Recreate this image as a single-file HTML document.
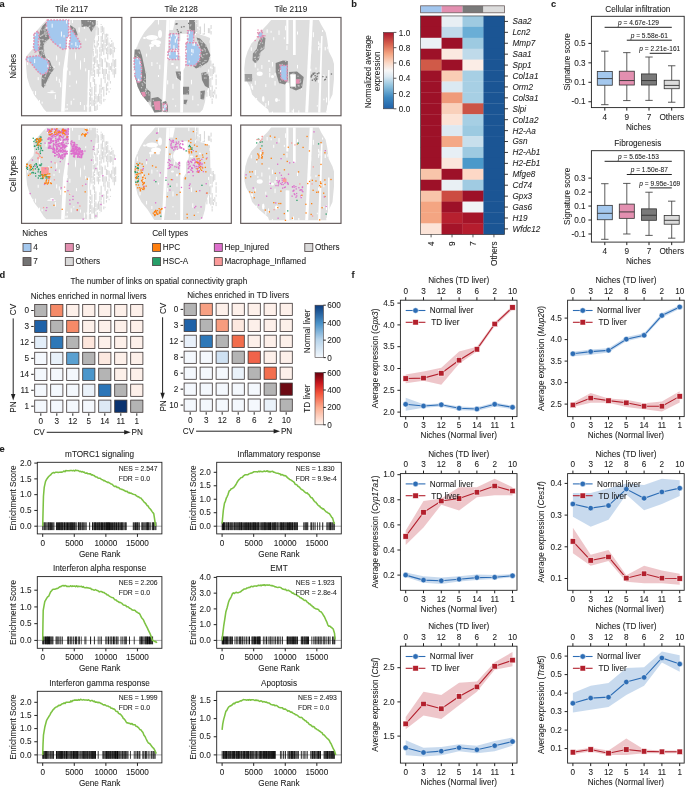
<!DOCTYPE html>
<html><head><meta charset="utf-8"><style>
html,body{margin:0;padding:0;background:#fff;overflow:hidden}
svg{display:block;font-family:"Liberation Sans",sans-serif;will-change:transform}
text{fill:#1c1c1c;stroke:#1c1c1c;stroke-width:0.07px}
</style></head><body>
<svg width="685" height="787" viewBox="0 0 685 787">
<rect width="685" height="787" fill="#fff"/>
<text x="-0.5" y="6.9" font-size="9.3" text-anchor="start" font-weight="bold">a</text>
<text x="351.3" y="7" font-size="9.3" text-anchor="start" font-weight="bold">b</text>
<text x="551" y="7.3" font-size="9.3" text-anchor="start" font-weight="bold">c</text>
<text x="-0.5" y="278.2" font-size="9.3" text-anchor="start" font-weight="bold">d</text>
<text x="-0.5" y="452" font-size="9.3" text-anchor="start" font-weight="bold">e</text>
<text x="351.5" y="278" font-size="9.3" text-anchor="start" font-weight="bold">f</text>
<clipPath id="clip00"><rect x="21.55" y="17.45" width="100.3" height="98.3"/></clipPath>
<g transform="translate(0,0)" clip-path="url(#clip00)">
<polygon points="46.4,20.1 96,20.1 95.7,35 93.8,42 92.6,54.7 92,67 90,80 88.8,92 87.5,105 87.4,111.7 46.4,111.7 43.8,109 39.4,102 34.1,95 29.8,86.3 27.1,77.5 26.3,68.8 25.8,60 26,56.4 30,52 33.5,48 34.1,43.3 33.3,36 36,31.5 39.5,27.5 43,23.5" fill="#dedede"/>
<rect x="87.4" y="107.54" width="1.1" height="4" fill="#d9d9d9"/>
<rect x="88.72" y="88.69" width="1.1" height="2.5" fill="#d9d9d9"/>
<rect x="88.72" y="92.02" width="1.1" height="3.5" fill="#d9d9d9"/>
<rect x="88.72" y="96.77" width="1.1" height="9" fill="#d9d9d9"/>
<rect x="88.72" y="106.32" width="1.1" height="5.5" fill="#d9d9d9"/>
<rect x="90.04" y="82.1" width="1.1" height="5.5" fill="#d9d9d9"/>
<rect x="90.04" y="88.75" width="1.1" height="3.5" fill="#d9d9d9"/>
<rect x="90.04" y="93.51" width="1.1" height="8" fill="#d9d9d9"/>
<rect x="90.04" y="102.31" width="1.1" height="2" fill="#d9d9d9"/>
<rect x="90.04" y="106.16" width="1.1" height="5.5" fill="#d9d9d9"/>
<rect x="91.36" y="68.27" width="1.1" height="2.5" fill="#d9d9d9"/>
<rect x="91.36" y="71.55" width="1.1" height="4.5" fill="#d9d9d9"/>
<rect x="91.36" y="86.93" width="1.1" height="9" fill="#d9d9d9"/>
<rect x="91.36" y="97.56" width="1.1" height="8.5" fill="#d9d9d9"/>
<rect x="91.36" y="110.8" width="1.1" height="0.5" fill="#d9d9d9"/>
<rect x="92.68" y="48.85" width="1.1" height="1.5" fill="#d9d9d9"/>
<rect x="92.68" y="50.99" width="1.1" height="5.5" fill="#d9d9d9"/>
<rect x="92.68" y="57.3" width="1.1" height="4.5" fill="#d9d9d9"/>
<rect x="92.68" y="63.99" width="1.1" height="8.5" fill="#d9d9d9"/>
<rect x="92.68" y="73.8" width="1.1" height="2" fill="#d9d9d9"/>
<rect x="92.68" y="77.04" width="1.1" height="5" fill="#d9d9d9"/>
<rect x="92.68" y="99.84" width="1.1" height="6" fill="#d9d9d9"/>
<rect x="94" y="39.91" width="1.1" height="3.5" fill="#d9d9d9"/>
<rect x="94" y="44.54" width="1.1" height="3" fill="#d9d9d9"/>
<rect x="94" y="56.85" width="1.1" height="8.5" fill="#d9d9d9"/>
<rect x="94" y="66.33" width="1.1" height="2" fill="#d9d9d9"/>
<rect x="94" y="69.63" width="1.1" height="7.5" fill="#d9d9d9"/>
<rect x="94" y="78.88" width="1.1" height="6.5" fill="#d9d9d9"/>
<rect x="94" y="86.12" width="1.1" height="9" fill="#d9d9d9"/>
<rect x="94" y="95.4" width="1.1" height="7" fill="#d9d9d9"/>
<rect x="94" y="102.45" width="1.1" height="8.5" fill="#d9d9d9"/>
<rect x="95.32" y="25.69" width="1.1" height="4.5" fill="#d9d9d9"/>
<rect x="95.32" y="46.09" width="1.1" height="7.5" fill="#d9d9d9"/>
<rect x="95.32" y="55.55" width="1.1" height="7.5" fill="#d9d9d9"/>
<rect x="95.32" y="83.84" width="1.1" height="8.5" fill="#d9d9d9"/>
<rect x="95.32" y="93.89" width="1.1" height="5.5" fill="#d9d9d9"/>
<rect x="95.32" y="100.34" width="1.1" height="3.5" fill="#d9d9d9"/>
<rect x="95.32" y="106" width="1.1" height="5" fill="#d9d9d9"/>
<rect x="96.64" y="21.1" width="1.1" height="1.5" fill="#d9d9d9"/>
<rect x="96.64" y="23.21" width="1.1" height="2" fill="#d9d9d9"/>
<rect x="96.64" y="26.37" width="1.1" height="9" fill="#d9d9d9"/>
<rect x="96.64" y="40.45" width="1.1" height="7" fill="#d9d9d9"/>
<rect x="96.64" y="49.29" width="1.1" height="8.5" fill="#d9d9d9"/>
<rect x="96.64" y="60.05" width="1.1" height="7" fill="#d9d9d9"/>
<rect x="96.64" y="68.96" width="1.1" height="5" fill="#d9d9d9"/>
<rect x="96.64" y="95.89" width="1.1" height="6.5" fill="#d9d9d9"/>
<rect x="96.64" y="104.45" width="1.1" height="5.5" fill="#d9d9d9"/>
<rect x="97.96" y="27.67" width="1.1" height="7.5" fill="#d9d9d9"/>
<rect x="97.96" y="36.01" width="1.1" height="5.5" fill="#d9d9d9"/>
<rect x="97.96" y="42.92" width="1.1" height="2.5" fill="#d9d9d9"/>
<rect x="97.96" y="64.1" width="1.1" height="4.5" fill="#d9d9d9"/>
<rect x="97.96" y="69.14" width="1.1" height="7.5" fill="#d9d9d9"/>
<rect x="97.96" y="93.78" width="1.1" height="8" fill="#d9d9d9"/>
<rect x="99.28" y="46.94" width="1.1" height="5.5" fill="#d9d9d9"/>
<rect x="99.28" y="53.52" width="1.1" height="9" fill="#d9d9d9"/>
<rect x="99.28" y="63.56" width="1.1" height="2.5" fill="#d9d9d9"/>
<rect x="99.28" y="66.4" width="1.1" height="4" fill="#d9d9d9"/>
<rect x="99.28" y="71.48" width="1.1" height="2.5" fill="#d9d9d9"/>
<rect x="99.28" y="84.67" width="1.1" height="3" fill="#d9d9d9"/>
<rect x="99.28" y="88.2" width="1.1" height="6.5" fill="#d9d9d9"/>
<rect x="99.28" y="95.83" width="1.1" height="7.5" fill="#d9d9d9"/>
<rect x="99.28" y="105.01" width="1.1" height="0.5" fill="#d9d9d9"/>
<rect x="100.6" y="24.1" width="1.1" height="1" fill="#d9d9d9"/>
<rect x="100.6" y="26.07" width="1.1" height="4.5" fill="#d9d9d9"/>
<rect x="100.6" y="30.72" width="1.1" height="2" fill="#d9d9d9"/>
<rect x="100.6" y="36.03" width="1.1" height="6" fill="#d9d9d9"/>
<rect x="100.6" y="42.21" width="1.1" height="6" fill="#d9d9d9"/>
<rect x="100.6" y="48.93" width="1.1" height="7" fill="#d9d9d9"/>
<rect x="100.6" y="57.95" width="1.1" height="9" fill="#d9d9d9"/>
<rect x="100.6" y="78.16" width="1.1" height="9" fill="#d9d9d9"/>
<rect x="100.6" y="87.81" width="1.1" height="5" fill="#d9d9d9"/>
<rect x="100.6" y="93.6" width="1.1" height="5.5" fill="#d9d9d9"/>
<rect x="100.6" y="99.31" width="1.1" height="5" fill="#d9d9d9"/>
<rect x="101.92" y="25.85" width="1.1" height="6" fill="#d9d9d9"/>
<rect x="101.92" y="32.78" width="1.1" height="6.5" fill="#d9d9d9"/>
<rect x="101.92" y="39.37" width="1.1" height="2.5" fill="#d9d9d9"/>
<rect x="101.92" y="43.67" width="1.1" height="8" fill="#d9d9d9"/>
<rect x="101.92" y="59.15" width="1.1" height="8" fill="#d9d9d9"/>
<rect x="101.92" y="67.52" width="1.1" height="6.5" fill="#d9d9d9"/>
<rect x="101.92" y="87.1" width="1.1" height="2.5" fill="#d9d9d9"/>
<rect x="103.24" y="27.37" width="1.1" height="7" fill="#d9d9d9"/>
<rect x="103.24" y="39.72" width="1.1" height="8" fill="#d9d9d9"/>
<rect x="103.24" y="47.97" width="1.1" height="7" fill="#d9d9d9"/>
<rect x="103.24" y="69" width="1.1" height="6" fill="#d9d9d9"/>
<rect x="103.24" y="75.03" width="1.1" height="4" fill="#d9d9d9"/>
<rect x="103.24" y="86.81" width="1.1" height="2" fill="#d9d9d9"/>
<rect x="103.24" y="89.03" width="1.1" height="7.5" fill="#d9d9d9"/>
<rect x="103.24" y="98.75" width="1.1" height="3" fill="#d9d9d9"/>
<rect x="104.56" y="33.93" width="1.1" height="9" fill="#d9d9d9"/>
<rect x="104.56" y="44.13" width="1.1" height="5.5" fill="#d9d9d9"/>
<rect x="104.56" y="57.82" width="1.1" height="4.5" fill="#d9d9d9"/>
<rect x="104.56" y="68.67" width="1.1" height="7.5" fill="#d9d9d9"/>
<rect x="104.56" y="76.67" width="1.1" height="6.5" fill="#d9d9d9"/>
<rect x="104.56" y="99.16" width="1.1" height="1" fill="#d9d9d9"/>
<rect x="105.88" y="33.59" width="1.1" height="4" fill="#d9d9d9"/>
<rect x="105.88" y="38.53" width="1.1" height="7.5" fill="#d9d9d9"/>
<rect x="105.88" y="48.1" width="1.1" height="3.5" fill="#d9d9d9"/>
<rect x="105.88" y="51.6" width="1.1" height="2.5" fill="#d9d9d9"/>
<rect x="105.88" y="61.54" width="1.1" height="6" fill="#d9d9d9"/>
<rect x="105.88" y="68.92" width="1.1" height="5" fill="#d9d9d9"/>
<rect x="105.88" y="83.4" width="1.1" height="8" fill="#d9d9d9"/>
<rect x="105.88" y="92.44" width="1.1" height="2.5" fill="#d9d9d9"/>
<rect x="107.2" y="33.79" width="1.1" height="2.5" fill="#d9d9d9"/>
<rect x="107.2" y="37.29" width="1.1" height="8" fill="#d9d9d9"/>
<rect x="107.2" y="46.65" width="1.1" height="6" fill="#d9d9d9"/>
<rect x="107.2" y="52.97" width="1.1" height="6.5" fill="#d9d9d9"/>
<rect x="107.2" y="62.33" width="1.1" height="5" fill="#d9d9d9"/>
<rect x="107.2" y="73.7" width="1.1" height="6" fill="#d9d9d9"/>
<rect x="107.2" y="81.72" width="1.1" height="4.5" fill="#d9d9d9"/>
<rect x="107.2" y="88.13" width="1.1" height="2.5" fill="#d9d9d9"/>
<rect x="108.52" y="42.56" width="1.1" height="5.5" fill="#d9d9d9"/>
<rect x="108.52" y="48.3" width="1.1" height="6" fill="#d9d9d9"/>
<rect x="108.52" y="63.14" width="1.1" height="7" fill="#d9d9d9"/>
<rect x="108.52" y="70.64" width="1.1" height="3" fill="#d9d9d9"/>
<rect x="108.52" y="74.18" width="1.1" height="6.5" fill="#d9d9d9"/>
<rect x="108.52" y="91.11" width="1.1" height="1.5" fill="#d9d9d9"/>
<rect x="109.84" y="38.33" width="1.1" height="0.5" fill="#d9d9d9"/>
<rect x="109.84" y="44.2" width="1.1" height="3" fill="#d9d9d9"/>
<rect x="109.84" y="48.17" width="1.1" height="7" fill="#d9d9d9"/>
<rect x="109.84" y="66.08" width="1.1" height="4" fill="#d9d9d9"/>
<rect x="109.84" y="81.04" width="1.1" height="2.5" fill="#d9d9d9"/>
<rect x="109.84" y="88.31" width="1.1" height="1" fill="#d9d9d9"/>
<rect x="111.16" y="40.1" width="1.1" height="2" fill="#d9d9d9"/>
<rect x="111.16" y="43.21" width="1.1" height="4" fill="#d9d9d9"/>
<rect x="111.16" y="48.7" width="1.1" height="5.5" fill="#d9d9d9"/>
<rect x="111.16" y="62.67" width="1.1" height="9" fill="#d9d9d9"/>
<rect x="112.48" y="42.4" width="1.1" height="6.5" fill="#d9d9d9"/>
<rect x="112.48" y="49.71" width="1.1" height="8" fill="#d9d9d9"/>
<rect x="112.48" y="58.85" width="1.1" height="7.5" fill="#d9d9d9"/>
<rect x="112.48" y="69.1" width="1.1" height="5.5" fill="#d9d9d9"/>
<rect x="113.8" y="46.84" width="1.1" height="5.5" fill="#d9d9d9"/>
<rect x="113.8" y="59.88" width="1.1" height="8.5" fill="#d9d9d9"/>
<rect x="113.8" y="69.19" width="1.1" height="8.5" fill="#d9d9d9"/>
<rect x="115.12" y="48.07" width="1.1" height="0.5" fill="#d9d9d9"/>
<rect x="115.12" y="59.07" width="1.1" height="8" fill="#d9d9d9"/>
<rect x="115.12" y="68.2" width="1.1" height="6" fill="#d9d9d9"/>
<rect x="27.12" y="60.51" width="1.0" height="4.5" fill="#ffffff"/>
<rect x="32.4" y="91.2" width="1.0" height="1.5" fill="#ffffff"/>
<rect x="35.04" y="91.05" width="1.0" height="4" fill="#ffffff"/>
<rect x="37.68" y="77.14" width="1.0" height="3" fill="#ffffff"/>
<rect x="39" y="51.28" width="1.0" height="5" fill="#ffffff"/>
<rect x="39" y="100.03" width="1.0" height="2.5" fill="#ffffff"/>
<rect x="41.64" y="101.68" width="1.0" height="2" fill="#ffffff"/>
<rect x="45.6" y="20.6" width="1.0" height="3" fill="#ffffff"/>
<rect x="45.6" y="34.58" width="1.0" height="4.5" fill="#ffffff"/>
<rect x="46.92" y="23.7" width="1.0" height="2" fill="#ffffff"/>
<rect x="48.24" y="58.56" width="1.0" height="4" fill="#ffffff"/>
<rect x="49.56" y="72.68" width="1.0" height="2" fill="#ffffff"/>
<rect x="53.52" y="66.23" width="1.0" height="2" fill="#ffffff"/>
<rect x="54.84" y="94.54" width="1.0" height="4.5" fill="#ffffff"/>
<rect x="56.16" y="76.75" width="1.0" height="4" fill="#ffffff"/>
<rect x="57.48" y="41.91" width="1.0" height="2" fill="#ffffff"/>
<rect x="58.8" y="61.88" width="1.0" height="3.5" fill="#ffffff"/>
<rect x="58.8" y="78.81" width="1.0" height="4" fill="#ffffff"/>
<rect x="60.12" y="82.27" width="1.0" height="5" fill="#ffffff"/>
<rect x="64.08" y="76.96" width="1.0" height="4" fill="#ffffff"/>
<rect x="65.4" y="108.22" width="1.0" height="2" fill="#ffffff"/>
<rect x="66.72" y="67.48" width="1.0" height="3" fill="#ffffff"/>
<rect x="66.72" y="104.02" width="1.0" height="1.5" fill="#ffffff"/>
<rect x="66.72" y="107.94" width="1.0" height="2" fill="#ffffff"/>
<rect x="68.04" y="35.2" width="1.0" height="2" fill="#ffffff"/>
<rect x="69.36" y="71.18" width="1.0" height="4" fill="#ffffff"/>
<rect x="69.36" y="85.38" width="1.0" height="1.5" fill="#ffffff"/>
<rect x="70.68" y="100.76" width="1.0" height="4" fill="#ffffff"/>
<rect x="72" y="20.1" width="1.0" height="3" fill="#ffffff"/>
<rect x="73.32" y="98.52" width="1.0" height="1.5" fill="#ffffff"/>
<rect x="75.96" y="80.58" width="1.0" height="3" fill="#ffffff"/>
<rect x="78.6" y="27.4" width="1.0" height="5" fill="#ffffff"/>
<rect x="79.92" y="102" width="1.0" height="3" fill="#ffffff"/>
<rect x="83.88" y="25.78" width="1.0" height="3" fill="#ffffff"/>
<rect x="83.88" y="58.03" width="1.0" height="4" fill="#ffffff"/>
<rect x="83.88" y="105.11" width="1.0" height="5" fill="#ffffff"/>
<rect x="85.2" y="20.1" width="1.0" height="4.5" fill="#ffffff"/>
<rect x="85.2" y="38.62" width="1.0" height="2" fill="#ffffff"/>
<rect x="85.2" y="68.34" width="1.0" height="3" fill="#ffffff"/>
<rect x="86.52" y="104.7" width="1.0" height="2" fill="#ffffff"/>
<rect x="87.84" y="20.1" width="1.0" height="2" fill="#ffffff"/>
<rect x="87.84" y="88.3" width="1.0" height="4" fill="#ffffff"/>
<rect x="90.48" y="20.1" width="1.0" height="2.5" fill="#ffffff"/>
<polygon points="68.6,20.1 70.2,20.1 70.2,38 68.8,48 67,70 64.6,111.7 61.1,111.7 63,70 66.3,48 66.5,38 68.6,37" fill="#fff"/>
<polygon points="88,70 89.6,70 88.6,111.7 87.2,111.7" fill="#fff"/>
<ellipse cx="61.1" cy="34.1" rx="1.1" ry="1.1" fill="#fff"/>
<ellipse cx="57.75" cy="37.75" rx="0.75" ry="0.75" fill="#fff"/>
<ellipse cx="51.5" cy="92.6" rx="4.5" ry="0.6" fill="#fff"/>
<ellipse cx="52" cy="91.1" rx="2" ry="0.6" fill="#fff"/>
<ellipse cx="75.5" cy="56" rx="0.5" ry="4" fill="#fff"/>
<ellipse cx="80.5" cy="65" rx="0.5" ry="5" fill="#fff"/>
<ellipse cx="56.6" cy="58" rx="0.6" ry="3" fill="#fff"/>
<polygon points="81.1,20.1 95.7,20.1 95.7,24.6 91.2,32.1 88.7,27.1 84.9,26.4 81.7,27.1" fill="#767676" fill-opacity="0.86"/>
<rect x="87.58" y="20.72" width="1.2" height="1.2" fill="#c8c8c8"/>
<rect x="89.78" y="20.99" width="1.2" height="1.2" fill="#c8c8c8"/>
<rect x="88.58" y="25.92" width="1.2" height="1.2" fill="#c8c8c8"/>
<rect x="92.41" y="23.39" width="1.2" height="1.2" fill="#c8c8c8"/>
<rect x="91.95" y="22.27" width="1.2" height="1.2" fill="#c8c8c8"/>
<rect x="93.57" y="26.66" width="1.2" height="1.2" fill="#c8c8c8"/>
<rect x="85.52" y="25.98" width="1.2" height="1.2" fill="#c8c8c8"/>
<rect x="89.25" y="25.4" width="1.2" height="1.2" fill="#c8c8c8"/>
<rect x="92.18" y="27.34" width="1.2" height="1.2" fill="#c8c8c8"/>
<rect x="81.67" y="24.26" width="1.2" height="1.2" fill="#c8c8c8"/>
<polygon points="46.4,22.3 46.4,27.5 48.2,32.8 49.9,38 47.3,40.6 44.5,42.4 43.5,47.7 44.3,53.8 46,58.2 49.9,60.8 51.7,66 54.3,68.8 52.5,71.3 49.9,74.9 47.5,80 45.5,84 43.5,88 41.6,86 41.5,80 42,74.9 47.3,72.3 49,65.3 47.3,60 42.9,58.2 39.5,55.5 38.5,50 40.5,43.3 39,37.1 40,31 42.5,26" fill="#767676" fill-opacity="0.86"/>
<rect x="40.29" y="39" width="1.2" height="1.2" fill="#c8c8c8"/>
<rect x="40.47" y="54.46" width="1.2" height="1.2" fill="#c8c8c8"/>
<rect x="43.52" y="33.48" width="1.2" height="1.2" fill="#c8c8c8"/>
<rect x="45.42" y="33.89" width="1.2" height="1.2" fill="#c8c8c8"/>
<rect x="41.99" y="77.72" width="1.2" height="1.2" fill="#c8c8c8"/>
<rect x="42.69" y="53.51" width="1.2" height="1.2" fill="#c8c8c8"/>
<rect x="44.93" y="75.23" width="1.2" height="1.2" fill="#c8c8c8"/>
<rect x="41.11" y="49.63" width="1.2" height="1.2" fill="#c8c8c8"/>
<rect x="48.34" y="33.76" width="1.2" height="1.2" fill="#c8c8c8"/>
<rect x="43.38" y="29.22" width="1.2" height="1.2" fill="#c8c8c8"/>
<rect x="46.18" y="31.31" width="1.2" height="1.2" fill="#c8c8c8"/>
<rect x="43.01" y="53.93" width="1.2" height="1.2" fill="#c8c8c8"/>
<rect x="45.3" y="41.74" width="1.2" height="1.2" fill="#c8c8c8"/>
<rect x="44.5" y="75.91" width="1.2" height="1.2" fill="#c8c8c8"/>
<rect x="42.37" y="39.39" width="1.2" height="1.2" fill="#c8c8c8"/>
<rect x="43.26" y="45.21" width="1.2" height="1.2" fill="#c8c8c8"/>
<rect x="40.53" y="55.29" width="1.2" height="1.2" fill="#c8c8c8"/>
<rect x="44.41" y="29.76" width="1.2" height="1.2" fill="#c8c8c8"/>
<rect x="49.12" y="71.18" width="1.2" height="1.2" fill="#c8c8c8"/>
<rect x="40.61" y="35.01" width="1.2" height="1.2" fill="#c8c8c8"/>
<rect x="44.09" y="83.96" width="1.2" height="1.2" fill="#c8c8c8"/>
<rect x="39.94" y="35.79" width="1.2" height="1.2" fill="#c8c8c8"/>
<rect x="43.28" y="78.33" width="1.2" height="1.2" fill="#c8c8c8"/>
<rect x="46.34" y="33.33" width="1.2" height="1.2" fill="#c8c8c8"/>
<rect x="38.94" y="50.06" width="1.2" height="1.2" fill="#c8c8c8"/>
<rect x="44.14" y="42.75" width="1.2" height="1.2" fill="#c8c8c8"/>
<rect x="43.06" y="51.52" width="1.2" height="1.2" fill="#c8c8c8"/>
<rect x="40.27" y="45.62" width="1.2" height="1.2" fill="#c8c8c8"/>
<rect x="42.2" y="38.88" width="1.2" height="1.2" fill="#c8c8c8"/>
<rect x="45.5" y="73.33" width="1.2" height="1.2" fill="#c8c8c8"/>
<rect x="44.81" y="58.1" width="1.2" height="1.2" fill="#c8c8c8"/>
<rect x="41.64" y="50.77" width="1.2" height="1.2" fill="#c8c8c8"/>
<rect x="52.47" y="68.06" width="1.2" height="1.2" fill="#c8c8c8"/>
<rect x="44.7" y="28" width="1.2" height="1.2" fill="#c8c8c8"/>
<rect x="43.51" y="49.56" width="1.2" height="1.2" fill="#c8c8c8"/>
<rect x="50.76" y="71.91" width="1.2" height="1.2" fill="#c8c8c8"/>
<rect x="43.1" y="42.27" width="1.2" height="1.2" fill="#c8c8c8"/>
<rect x="49.16" y="35.84" width="1.2" height="1.2" fill="#c8c8c8"/>
<rect x="44.98" y="84.93" width="1.2" height="1.2" fill="#c8c8c8"/>
<rect x="45.82" y="58.33" width="1.2" height="1.2" fill="#c8c8c8"/>
<rect x="41.62" y="34.65" width="1.2" height="1.2" fill="#c8c8c8"/>
<rect x="44.68" y="40.08" width="1.2" height="1.2" fill="#c8c8c8"/>
<rect x="41.33" y="52.31" width="1.2" height="1.2" fill="#c8c8c8"/>
<rect x="45.21" y="31.57" width="1.2" height="1.2" fill="#c8c8c8"/>
<rect x="45.04" y="35.33" width="1.2" height="1.2" fill="#c8c8c8"/>
<rect x="49.65" y="67.73" width="1.2" height="1.2" fill="#c8c8c8"/>
<rect x="44.05" y="31.56" width="1.2" height="1.2" fill="#c8c8c8"/>
<rect x="41.82" y="49.81" width="1.2" height="1.2" fill="#c8c8c8"/>
<rect x="44.39" y="32.96" width="1.2" height="1.2" fill="#c8c8c8"/>
<rect x="52.87" y="68.3" width="1.2" height="1.2" fill="#c8c8c8"/>
<rect x="44.76" y="26.47" width="1.2" height="1.2" fill="#c8c8c8"/>
<rect x="39.68" y="49.81" width="1.2" height="1.2" fill="#c8c8c8"/>
<rect x="47.25" y="79.64" width="1.2" height="1.2" fill="#c8c8c8"/>
<rect x="45.4" y="35.83" width="1.2" height="1.2" fill="#c8c8c8"/>
<rect x="46.58" y="39.57" width="1.2" height="1.2" fill="#c8c8c8"/>
<rect x="42.27" y="34.12" width="1.2" height="1.2" fill="#c8c8c8"/>
<rect x="44.76" y="28.08" width="1.2" height="1.2" fill="#c8c8c8"/>
<rect x="40.97" y="29.4" width="1.2" height="1.2" fill="#c8c8c8"/>
<rect x="44.24" y="83.47" width="1.2" height="1.2" fill="#c8c8c8"/>
<rect x="48.52" y="77.09" width="1.2" height="1.2" fill="#c8c8c8"/>
<rect x="48.28" y="62.38" width="1.2" height="1.2" fill="#c8c8c8"/>
<rect x="49.75" y="65.79" width="1.2" height="1.2" fill="#c8c8c8"/>
<polygon points="47.3,20.1 68.6,20.1 68.6,37 66.4,38 66.3,48.5 63,49.4 57.8,45.9 53.4,42.4 49.9,38 48.2,32.8 46.4,27.5 46.4,22.3" fill="#a4c8ee" />
<polygon points="47.3,20.1 68.6,20.1 68.6,37 66.4,38 66.3,48.5 63,49.4 57.8,45.9 53.4,42.4 49.9,38 48.2,32.8 46.4,27.5 46.4,22.3" fill="none" stroke="#e38fb0" stroke-width="1.5" stroke-dasharray="1.8 1.2"/>
<rect x="46.4" y="26.97" width="0.9" height="2" fill="#ffffff"/>
<rect x="51.68" y="23.66" width="0.9" height="4" fill="#ffffff"/>
<rect x="59.6" y="43.89" width="0.9" height="2.5" fill="#ffffff"/>
<rect x="60.92" y="31.54" width="0.9" height="5" fill="#ffffff"/>
<rect x="63.56" y="34.95" width="0.9" height="2.5" fill="#ffffff"/>
<rect x="66.2" y="20.1" width="0.9" height="3.5" fill="#ffffff"/>
<polygon points="70.2,24.9 72.4,26.5 75.4,28.4 77.6,34.5 76.3,38 73.9,34 72,31.9 70.2,28" fill="#767676" fill-opacity="0.86"/>
<rect x="73.13" y="27.6" width="1.2" height="1.2" fill="#c8c8c8"/>
<rect x="76.25" y="34.84" width="1.2" height="1.2" fill="#c8c8c8"/>
<rect x="73.21" y="29.02" width="1.2" height="1.2" fill="#c8c8c8"/>
<rect x="72.09" y="29.34" width="1.2" height="1.2" fill="#c8c8c8"/>
<rect x="72.24" y="31.51" width="1.2" height="1.2" fill="#c8c8c8"/>
<polygon points="70.2,28.4 73.2,31.9 77.5,38 80.6,43.3 80.6,48.5 68.8,48.5 70.2,38" fill="#a4c8ee" />
<polygon points="70.2,28.4 73.2,31.9 77.5,38 80.6,43.3 80.6,48.5 68.8,48.5 70.2,38" fill="none" stroke="#e38fb0" stroke-width="1.5" stroke-dasharray="1.8 1.2"/>
<rect x="71.44" y="43.17" width="0.9" height="1.5" fill="#ffffff"/>
<rect x="75.4" y="42.12" width="0.9" height="4" fill="#ffffff"/>
<rect x="76.72" y="45.47" width="0.9" height="1.5" fill="#ffffff"/>
<rect x="79.36" y="45.21" width="0.9" height="2.5" fill="#ffffff"/>
<polygon points="26.3,57.3 32.4,56.4 38.5,55.5 42.9,58.2 47.3,60 49,65.3 47.3,72.3 42,74.9 38.5,72.3 34.1,67 30.6,62.6 26.3,60.8" fill="#a4c8ee" />
<polygon points="26.3,57.3 32.4,56.4 38.5,55.5 42.9,58.2 47.3,60 49,65.3 47.3,72.3 42,74.9 38.5,72.3 34.1,67 30.6,62.6 26.3,60.8" fill="none" stroke="#e38fb0" stroke-width="1.5" stroke-dasharray="1.8 1.2"/>
<rect x="27.62" y="58.61" width="0.9" height="3" fill="#ffffff"/>
<rect x="34.22" y="59.06" width="0.9" height="4" fill="#ffffff"/>
<rect x="47.42" y="64.8" width="0.9" height="2.5" fill="#ffffff"/>
<polygon points="34,34 38,31 39,36 38.2,43 39,50 35,52 33.5,47 34.1,40" fill="#a4c8ee" />
<polygon points="34,34 38,31 39,36 38.2,43 39,50 35,52 33.5,47 34.1,40" fill="none" stroke="#e38fb0" stroke-width="1.5" stroke-dasharray="1.8 1.2"/>
<rect x="34.82" y="33.95" width="0.9" height="2" fill="#ffffff"/>
</g>
<rect x="21.55" y="17.45" width="100.3" height="98.3" fill="none" stroke="#5e5656" stroke-width="1.15" />
<clipPath id="clip01"><rect x="131" y="17.45" width="100.3" height="98.3"/></clipPath>
<g transform="translate(0,0)" clip-path="url(#clip01)">
<polygon points="155,20 195,20 196,33 200,34.5 205,36 210,38 210.4,60 209,86 205.8,94.4 205,102 202.8,109.6 200,112.4 154.3,112.4 147.5,102 141.4,94.4 137.6,86.8 134.9,76 134.2,65 134.2,58.8 134.9,51.2 136.5,47.4 139.9,39.8 144.4,32.2 147.5,28.4 151.3,24.6" fill="#dedede"/>
<rect x="196" y="20" width="1.1" height="3.5" fill="#d9d9d9"/>
<rect x="196" y="23.98" width="1.1" height="8" fill="#d9d9d9"/>
<rect x="196" y="33.11" width="1.1" height="0.5" fill="#d9d9d9"/>
<rect x="197.32" y="20" width="1.1" height="7" fill="#d9d9d9"/>
<rect x="197.32" y="28.61" width="1.1" height="5.5" fill="#d9d9d9"/>
<rect x="198.64" y="26.62" width="1.1" height="2" fill="#d9d9d9"/>
<rect x="198.64" y="29.65" width="1.1" height="5" fill="#d9d9d9"/>
<rect x="199.96" y="26.5" width="1.1" height="7.5" fill="#d9d9d9"/>
<rect x="202.6" y="33.34" width="1.1" height="1.5" fill="#d9d9d9"/>
<rect x="203.92" y="23.56" width="1.1" height="8.5" fill="#d9d9d9"/>
<rect x="203.92" y="32.53" width="1.1" height="2" fill="#d9d9d9"/>
<rect x="207.88" y="28.11" width="1.1" height="5" fill="#d9d9d9"/>
<rect x="209.2" y="28.26" width="1.1" height="5" fill="#d9d9d9"/>
<rect x="210.52" y="25" width="1.1" height="4" fill="#d9d9d9"/>
<rect x="210.52" y="31.03" width="1.1" height="3.5" fill="#d9d9d9"/>
<rect x="206.32" y="91.76" width="1.1" height="5" fill="#d9d9d9"/>
<rect x="208.96" y="78.76" width="1.1" height="8" fill="#d9d9d9"/>
<rect x="208.96" y="87.08" width="1.1" height="9" fill="#d9d9d9"/>
<rect x="210.28" y="60.5" width="1.1" height="6" fill="#d9d9d9"/>
<rect x="210.28" y="68.38" width="1.1" height="8" fill="#d9d9d9"/>
<rect x="210.28" y="78" width="1.1" height="9" fill="#d9d9d9"/>
<rect x="210.28" y="89.86" width="1.1" height="8" fill="#d9d9d9"/>
<rect x="211.6" y="63.62" width="1.1" height="4" fill="#d9d9d9"/>
<rect x="211.6" y="68.78" width="1.1" height="7.5" fill="#d9d9d9"/>
<rect x="211.6" y="76.76" width="1.1" height="3" fill="#d9d9d9"/>
<rect x="211.6" y="85.46" width="1.1" height="6" fill="#d9d9d9"/>
<rect x="211.6" y="91.53" width="1.1" height="5.5" fill="#d9d9d9"/>
<rect x="211.6" y="98.54" width="1.1" height="2" fill="#d9d9d9"/>
<rect x="211.6" y="100.87" width="1.1" height="3" fill="#d9d9d9"/>
<rect x="212.92" y="63.5" width="1.1" height="1.5" fill="#d9d9d9"/>
<rect x="212.92" y="65.49" width="1.1" height="8.5" fill="#d9d9d9"/>
<rect x="212.92" y="91.52" width="1.1" height="2" fill="#d9d9d9"/>
<rect x="212.92" y="94.6" width="1.1" height="3" fill="#d9d9d9"/>
<rect x="214.24" y="66.61" width="1.1" height="6" fill="#d9d9d9"/>
<rect x="214.24" y="89.59" width="1.1" height="5" fill="#d9d9d9"/>
<rect x="215.56" y="74.6" width="1.1" height="3" fill="#d9d9d9"/>
<rect x="215.56" y="78.73" width="1.1" height="6.5" fill="#d9d9d9"/>
<rect x="215.56" y="87.06" width="1.1" height="2" fill="#d9d9d9"/>
<rect x="215.56" y="94.49" width="1.1" height="2.5" fill="#d9d9d9"/>
<rect x="215.56" y="97.03" width="1.1" height="1.5" fill="#d9d9d9"/>
<rect x="136.84" y="45.76" width="1.0" height="0.5" fill="#ffffff"/>
<rect x="136.84" y="48.86" width="1.0" height="4.5" fill="#ffffff"/>
<rect x="136.84" y="71.55" width="1.0" height="2" fill="#ffffff"/>
<rect x="138.16" y="59.9" width="1.0" height="4" fill="#ffffff"/>
<rect x="139.48" y="84.26" width="1.0" height="3.5" fill="#ffffff"/>
<rect x="142.12" y="66.01" width="1.0" height="4.5" fill="#ffffff"/>
<rect x="143.44" y="69.8" width="1.0" height="3.5" fill="#ffffff"/>
<rect x="146.08" y="53.67" width="1.0" height="3" fill="#ffffff"/>
<rect x="146.08" y="93.32" width="1.0" height="3.5" fill="#ffffff"/>
<rect x="150.04" y="46.6" width="1.0" height="3" fill="#ffffff"/>
<rect x="151.36" y="62.02" width="1.0" height="4" fill="#ffffff"/>
<rect x="151.36" y="98.36" width="1.0" height="3" fill="#ffffff"/>
<rect x="155.32" y="36.56" width="1.0" height="4.5" fill="#ffffff"/>
<rect x="156.64" y="62.44" width="1.0" height="1.5" fill="#ffffff"/>
<rect x="157.96" y="20" width="1.0" height="4.5" fill="#ffffff"/>
<rect x="157.96" y="74.98" width="1.0" height="2" fill="#ffffff"/>
<rect x="159.28" y="64.76" width="1.0" height="4.5" fill="#ffffff"/>
<rect x="159.28" y="100.68" width="1.0" height="1.5" fill="#ffffff"/>
<rect x="163.24" y="100.44" width="1.0" height="4.5" fill="#ffffff"/>
<rect x="167.2" y="80.34" width="1.0" height="4" fill="#ffffff"/>
<rect x="169.84" y="55.51" width="1.0" height="5" fill="#ffffff"/>
<rect x="171.16" y="46.62" width="1.0" height="4" fill="#ffffff"/>
<rect x="172.48" y="20" width="1.0" height="2" fill="#ffffff"/>
<rect x="172.48" y="83.81" width="1.0" height="5" fill="#ffffff"/>
<rect x="172.48" y="98.38" width="1.0" height="1.5" fill="#ffffff"/>
<rect x="173.8" y="52.82" width="1.0" height="4.5" fill="#ffffff"/>
<rect x="175.12" y="105.25" width="1.0" height="1.5" fill="#ffffff"/>
<rect x="176.44" y="75.67" width="1.0" height="3.5" fill="#ffffff"/>
<rect x="179.08" y="51.03" width="1.0" height="2" fill="#ffffff"/>
<rect x="184.36" y="63.76" width="1.0" height="1.5" fill="#ffffff"/>
<rect x="188.32" y="20" width="1.0" height="3.5" fill="#ffffff"/>
<rect x="188.32" y="35.06" width="1.0" height="5" fill="#ffffff"/>
<rect x="188.32" y="62.82" width="1.0" height="4" fill="#ffffff"/>
<rect x="190.96" y="79.83" width="1.0" height="4.5" fill="#ffffff"/>
<rect x="192.28" y="95.67" width="1.0" height="4.5" fill="#ffffff"/>
<rect x="193.6" y="51.98" width="1.0" height="3.5" fill="#ffffff"/>
<rect x="194.92" y="32.72" width="1.0" height="2.5" fill="#ffffff"/>
<rect x="197.56" y="104.1" width="1.0" height="1.5" fill="#ffffff"/>
<rect x="208.12" y="69.32" width="1.0" height="3" fill="#ffffff"/>
<rect x="209.44" y="40.26" width="1.0" height="3" fill="#ffffff"/>
<polygon points="166.4,20 169.5,20 165.7,98 164,112.4 161.6,112.4 162.6,98" fill="#fff"/>
<polygon points="180.3,33.7 187.6,33.7 187.6,42.8 186,48 186,65.6 183.5,70 183,112.4 180.2,112.4" fill="#fff"/>
<polygon points="169.5,20 175,20 173,30 169.2,30" fill="#fff"/>
<ellipse cx="181" cy="48.5" rx="8" ry="7.5" fill="#fff"/>
<ellipse cx="152" cy="37.5" rx="6" ry="2.5" fill="#fff"/>
<ellipse cx="156" cy="42.5" rx="5" ry="2.5" fill="#fff"/>
<ellipse cx="160" cy="34" rx="2" ry="4" fill="#fff"/>
<ellipse cx="151.5" cy="45.5" rx="2.5" ry="1.5" fill="#fff"/>
<ellipse cx="158" cy="45.5" rx="2" ry="1.5" fill="#fff"/>
<ellipse cx="144.5" cy="38" rx="1.5" ry="1" fill="#fff"/>
<ellipse cx="200" cy="46" rx="1" ry="1" fill="#fff"/>
<ellipse cx="191.5" cy="49" rx="1.5" ry="1" fill="#fff"/>
<ellipse cx="172.5" cy="64" rx="1.5" ry="1" fill="#fff"/>
<ellipse cx="177" cy="67.5" rx="1" ry="1.5" fill="#fff"/>
<polygon points="189.1,20 195.2,20 195.2,33.7 190,33.7 189.1,28" fill="#767676" fill-opacity="0.86"/>
<rect x="192.13" y="31.74" width="1.2" height="1.2" fill="#c8c8c8"/>
<rect x="189.64" y="25.18" width="1.2" height="1.2" fill="#c8c8c8"/>
<rect x="189.4" y="28.9" width="1.2" height="1.2" fill="#c8c8c8"/>
<rect x="190.25" y="24.23" width="1.2" height="1.2" fill="#c8c8c8"/>
<rect x="194.09" y="20.75" width="1.2" height="1.2" fill="#c8c8c8"/>
<polygon points="169.5,33.7 178.6,33.7 178.6,49.6 169.5,49.6" fill="#a4c8ee" />
<rect x="169.5" y="37.34" width="1.0" height="4" fill="#ffffff"/>
<rect x="169.5" y="43.74" width="1.0" height="4" fill="#ffffff"/>
<rect x="170.82" y="33.7" width="1.0" height="3" fill="#ffffff"/>
<rect x="173.46" y="45.22" width="1.0" height="4" fill="#ffffff"/>
<rect x="174.78" y="33.7" width="1.0" height="2.5" fill="#ffffff"/>
<rect x="174.78" y="38.64" width="1.0" height="4" fill="#ffffff"/>
<rect x="176.1" y="33.7" width="1.0" height="2" fill="#ffffff"/>
<rect x="176.1" y="36.32" width="1.0" height="3" fill="#ffffff"/>
<rect x="176.1" y="48.14" width="1.0" height="1.5" fill="#ffffff"/>
<rect x="177.42" y="33.7" width="1.0" height="4" fill="#ffffff"/>
<rect x="177.42" y="40.6" width="1.0" height="3" fill="#ffffff"/>
<polygon points="169.5,33.7 178.6,33.7 178.6,49.6 169.5,49.6" fill="none" stroke="#e38fb0" stroke-width="1.5" stroke-dasharray="1.8 1.2"/>
<rect x="169.5" y="38.3" width="0.9" height="2" fill="#ffffff"/>
<polygon points="168,51.2 178.6,51.2 178.6,59.5 168,59.5" fill="#a4c8ee" />
<rect x="168" y="54.84" width="1.0" height="4" fill="#ffffff"/>
<rect x="169.32" y="51.2" width="1.0" height="4" fill="#ffffff"/>
<rect x="169.32" y="57.91" width="1.0" height="2" fill="#ffffff"/>
<rect x="175.92" y="51.2" width="1.0" height="4" fill="#ffffff"/>
<rect x="175.92" y="57.11" width="1.0" height="2.5" fill="#ffffff"/>
<rect x="177.24" y="51.2" width="1.0" height="4" fill="#ffffff"/>
<polygon points="168,51.2 178.6,51.2 178.6,59.5 168,59.5" fill="none" stroke="#e38fb0" stroke-width="1.5" stroke-dasharray="1.8 1.2"/>
<rect x="168" y="55.8" width="0.9" height="2" fill="#ffffff"/>
<polygon points="187.6,30.7 193.7,30.7 193.7,42.8 187.6,42.8" fill="#a4c8ee" />
<rect x="187.6" y="34.34" width="1.0" height="4" fill="#ffffff"/>
<rect x="187.6" y="40.74" width="1.0" height="2.5" fill="#ffffff"/>
<rect x="188.92" y="30.7" width="1.0" height="3" fill="#ffffff"/>
<rect x="192.88" y="38.56" width="1.0" height="4" fill="#ffffff"/>
<polygon points="187.6,30.7 193.7,30.7 193.7,42.8 187.6,42.8" fill="none" stroke="#e38fb0" stroke-width="1.5" stroke-dasharray="1.8 1.2"/>
<rect x="187.6" y="35.3" width="0.9" height="2" fill="#ffffff"/>
<polygon points="196.5,37.5 200,38.5 206,45 210.4,55 208,62 202,66 196,68.6 193,66 199.5,60 201,50" fill="#767676" fill-opacity="0.86"/>
<rect x="205.78" y="63.12" width="1.2" height="1.2" fill="#c8c8c8"/>
<rect x="204.33" y="60.06" width="1.2" height="1.2" fill="#c8c8c8"/>
<rect x="203.31" y="61.88" width="1.2" height="1.2" fill="#c8c8c8"/>
<rect x="199.31" y="66.08" width="1.2" height="1.2" fill="#c8c8c8"/>
<rect x="194.92" y="64.56" width="1.2" height="1.2" fill="#c8c8c8"/>
<rect x="208.94" y="56.97" width="1.2" height="1.2" fill="#c8c8c8"/>
<rect x="200.84" y="65.01" width="1.2" height="1.2" fill="#c8c8c8"/>
<rect x="204.52" y="48.95" width="1.2" height="1.2" fill="#c8c8c8"/>
<rect x="201.11" y="44.34" width="1.2" height="1.2" fill="#c8c8c8"/>
<rect x="205.7" y="53.3" width="1.2" height="1.2" fill="#c8c8c8"/>
<rect x="201.63" y="41.62" width="1.2" height="1.2" fill="#c8c8c8"/>
<rect x="203.7" y="48.17" width="1.2" height="1.2" fill="#c8c8c8"/>
<rect x="201.98" y="49.49" width="1.2" height="1.2" fill="#c8c8c8"/>
<rect x="204.74" y="50.37" width="1.2" height="1.2" fill="#c8c8c8"/>
<rect x="200.01" y="66.7" width="1.2" height="1.2" fill="#c8c8c8"/>
<rect x="205.34" y="44.55" width="1.2" height="1.2" fill="#c8c8c8"/>
<rect x="202.17" y="57.05" width="1.2" height="1.2" fill="#c8c8c8"/>
<rect x="205.43" y="59.94" width="1.2" height="1.2" fill="#c8c8c8"/>
<rect x="199.7" y="40.51" width="1.2" height="1.2" fill="#c8c8c8"/>
<rect x="200.41" y="41.54" width="1.2" height="1.2" fill="#c8c8c8"/>
<rect x="199.59" y="63.74" width="1.2" height="1.2" fill="#c8c8c8"/>
<rect x="201.87" y="62.48" width="1.2" height="1.2" fill="#c8c8c8"/>
<rect x="195.25" y="64.35" width="1.2" height="1.2" fill="#c8c8c8"/>
<rect x="205.48" y="45.74" width="1.2" height="1.2" fill="#c8c8c8"/>
<rect x="197.99" y="40.37" width="1.2" height="1.2" fill="#c8c8c8"/>
<rect x="200.98" y="56.06" width="1.2" height="1.2" fill="#c8c8c8"/>
<rect x="201.58" y="42.17" width="1.2" height="1.2" fill="#c8c8c8"/>
<rect x="206.46" y="53.04" width="1.2" height="1.2" fill="#c8c8c8"/>
<rect x="202.08" y="50.08" width="1.2" height="1.2" fill="#c8c8c8"/>
<rect x="199.34" y="60.91" width="1.2" height="1.2" fill="#c8c8c8"/>
<rect x="200.86" y="54.62" width="1.2" height="1.2" fill="#c8c8c8"/>
<rect x="203.3" y="54.02" width="1.2" height="1.2" fill="#c8c8c8"/>
<polygon points="186,42.8 196,42.8 201,50 199.5,60 195,65.6 186,65.6" fill="#a4c8ee" />
<rect x="186" y="60.21" width="1.0" height="3.5" fill="#ffffff"/>
<rect x="188.64" y="60.62" width="1.0" height="2" fill="#ffffff"/>
<rect x="191.28" y="48.83" width="1.0" height="3.5" fill="#ffffff"/>
<rect x="191.28" y="53.81" width="1.0" height="1.5" fill="#ffffff"/>
<rect x="192.6" y="42.8" width="1.0" height="3" fill="#ffffff"/>
<rect x="193.92" y="42.8" width="1.0" height="3" fill="#ffffff"/>
<rect x="197.88" y="60.52" width="1.0" height="1" fill="#ffffff"/>
<rect x="199.2" y="54.26" width="1.0" height="1.5" fill="#ffffff"/>
<polygon points="186,42.8 196,42.8 201,50 199.5,60 195,65.6 186,65.6" fill="none" stroke="#e38fb0" stroke-width="1.5" stroke-dasharray="1.8 1.2"/>
<rect x="186" y="50.06" width="0.9" height="2.5" fill="#ffffff"/>
<rect x="192.6" y="49.28" width="0.9" height="4" fill="#ffffff"/>
<polygon points="134.6,49.6 139.9,49.6 142,56 143.7,64 146,75 146,83 146,88 150.5,92 150.5,102 147.5,102 141.4,94.4 137.6,86.8 134.9,76 134.2,65 134.2,58.8" fill="#767676" fill-opacity="0.86"/>
<rect x="143.89" y="82.02" width="1.2" height="1.2" fill="#c8c8c8"/>
<rect x="145.42" y="89.83" width="1.2" height="1.2" fill="#c8c8c8"/>
<rect x="134.25" y="63.68" width="1.2" height="1.2" fill="#c8c8c8"/>
<rect x="140.4" y="79.92" width="1.2" height="1.2" fill="#c8c8c8"/>
<rect x="134.34" y="57.87" width="1.2" height="1.2" fill="#c8c8c8"/>
<rect x="148.87" y="101.41" width="1.2" height="1.2" fill="#c8c8c8"/>
<rect x="138.06" y="57.5" width="1.2" height="1.2" fill="#c8c8c8"/>
<rect x="143.21" y="80.74" width="1.2" height="1.2" fill="#c8c8c8"/>
<rect x="138" y="60.35" width="1.2" height="1.2" fill="#c8c8c8"/>
<rect x="138.4" y="51.55" width="1.2" height="1.2" fill="#c8c8c8"/>
<rect x="139.63" y="80.17" width="1.2" height="1.2" fill="#c8c8c8"/>
<rect x="148.37" y="94.32" width="1.2" height="1.2" fill="#c8c8c8"/>
<rect x="139.39" y="64.42" width="1.2" height="1.2" fill="#c8c8c8"/>
<rect x="147.78" y="92.26" width="1.2" height="1.2" fill="#c8c8c8"/>
<rect x="137.03" y="76.59" width="1.2" height="1.2" fill="#c8c8c8"/>
<rect x="138.68" y="58.54" width="1.2" height="1.2" fill="#c8c8c8"/>
<rect x="136.64" y="78.3" width="1.2" height="1.2" fill="#c8c8c8"/>
<rect x="136.63" y="72.02" width="1.2" height="1.2" fill="#c8c8c8"/>
<rect x="134.27" y="58.1" width="1.2" height="1.2" fill="#c8c8c8"/>
<rect x="143.79" y="76.68" width="1.2" height="1.2" fill="#c8c8c8"/>
<rect x="141.6" y="83.22" width="1.2" height="1.2" fill="#c8c8c8"/>
<rect x="137.22" y="62.87" width="1.2" height="1.2" fill="#c8c8c8"/>
<rect x="140.96" y="67.24" width="1.2" height="1.2" fill="#c8c8c8"/>
<rect x="139.81" y="71.27" width="1.2" height="1.2" fill="#c8c8c8"/>
<rect x="140.99" y="68.78" width="1.2" height="1.2" fill="#c8c8c8"/>
<rect x="144.9" y="90.99" width="1.2" height="1.2" fill="#c8c8c8"/>
<rect x="142.14" y="84.52" width="1.2" height="1.2" fill="#c8c8c8"/>
<rect x="146.62" y="88.57" width="1.2" height="1.2" fill="#c8c8c8"/>
<rect x="135.54" y="61.3" width="1.2" height="1.2" fill="#c8c8c8"/>
<rect x="140.9" y="87.06" width="1.2" height="1.2" fill="#c8c8c8"/>
<rect x="136.54" y="64" width="1.2" height="1.2" fill="#c8c8c8"/>
<rect x="139.49" y="72.08" width="1.2" height="1.2" fill="#c8c8c8"/>
<rect x="145.61" y="88.46" width="1.2" height="1.2" fill="#c8c8c8"/>
<rect x="145.03" y="82.49" width="1.2" height="1.2" fill="#c8c8c8"/>
<rect x="149.24" y="101.16" width="1.2" height="1.2" fill="#c8c8c8"/>
<rect x="136.84" y="55.96" width="1.2" height="1.2" fill="#c8c8c8"/>
<rect x="143.17" y="91.63" width="1.2" height="1.2" fill="#c8c8c8"/>
<rect x="135.43" y="54.65" width="1.2" height="1.2" fill="#c8c8c8"/>
<rect x="145.29" y="71.83" width="1.2" height="1.2" fill="#c8c8c8"/>
<rect x="145.81" y="92.51" width="1.2" height="1.2" fill="#c8c8c8"/>
<rect x="136.92" y="76.66" width="1.2" height="1.2" fill="#c8c8c8"/>
<rect x="136.14" y="56.45" width="1.2" height="1.2" fill="#c8c8c8"/>
<rect x="137.31" y="59.85" width="1.2" height="1.2" fill="#c8c8c8"/>
<rect x="139.34" y="78.26" width="1.2" height="1.2" fill="#c8c8c8"/>
<rect x="145.02" y="88.8" width="1.2" height="1.2" fill="#c8c8c8"/>
<rect x="136.79" y="65.56" width="1.2" height="1.2" fill="#c8c8c8"/>
<rect x="148.41" y="100.37" width="1.2" height="1.2" fill="#c8c8c8"/>
<rect x="140.36" y="68.53" width="1.2" height="1.2" fill="#c8c8c8"/>
<rect x="144.34" y="78.68" width="1.2" height="1.2" fill="#c8c8c8"/>
<rect x="139.75" y="62.64" width="1.2" height="1.2" fill="#c8c8c8"/>
<rect x="139.05" y="52.52" width="1.2" height="1.2" fill="#c8c8c8"/>
<polygon points="134.2,58 139.9,58 141.4,66 141.4,80 138,83 134.9,76 134.2,65" fill="#a4c8ee" />
<rect x="134.2" y="63.92" width="1.0" height="1.5" fill="#ffffff"/>
<rect x="138.16" y="78.74" width="1.0" height="3" fill="#ffffff"/>
<rect x="139.48" y="61.23" width="1.0" height="3" fill="#ffffff"/>
<polygon points="134.2,58 139.9,58 141.4,66 141.4,80 138,83 134.9,76 134.2,65" fill="none" stroke="#e38fb0" stroke-width="1.5" stroke-dasharray="1.8 1.2"/>
<rect x="134.2" y="70.15" width="0.9" height="3" fill="#ffffff"/>
<rect x="136.84" y="58" width="0.9" height="1.5" fill="#ffffff"/>
<rect x="139.48" y="80.33" width="0.9" height="1" fill="#ffffff"/>
<rect x="140.8" y="75.07" width="0.9" height="1.5" fill="#ffffff"/>
<polygon points="141,92 145,92 146,96 143,97" fill="#e38fb0" />
<polygon points="151.3,98.2 158,97 161.9,100 161.9,111.8 154.3,112.4 151.3,106" fill="#767676" fill-opacity="0.86"/>
<rect x="157.04" y="104.04" width="1.2" height="1.2" fill="#c8c8c8"/>
<rect x="157.49" y="104.59" width="1.2" height="1.2" fill="#c8c8c8"/>
<rect x="160.81" y="101.39" width="1.2" height="1.2" fill="#c8c8c8"/>
<rect x="155.04" y="102.6" width="1.2" height="1.2" fill="#c8c8c8"/>
<rect x="152.76" y="99.73" width="1.2" height="1.2" fill="#c8c8c8"/>
<rect x="159.08" y="109.11" width="1.2" height="1.2" fill="#c8c8c8"/>
<rect x="152.08" y="105.32" width="1.2" height="1.2" fill="#c8c8c8"/>
<rect x="157.78" y="101.39" width="1.2" height="1.2" fill="#c8c8c8"/>
<rect x="152.97" y="105.1" width="1.2" height="1.2" fill="#c8c8c8"/>
<polygon points="153.5,101.5 160,101 160.5,110 155,110" fill="#e38fb0" />
<polygon points="162.6,102 166,101 168,106 168,111.8 162.6,111.8" fill="#767676" fill-opacity="0.86"/>
<rect x="165.74" y="103.22" width="1.2" height="1.2" fill="#c8c8c8"/>
<rect x="166.07" y="111.22" width="1.2" height="1.2" fill="#c8c8c8"/>
<rect x="162.82" y="105.85" width="1.2" height="1.2" fill="#c8c8c8"/>
<polygon points="163.2,104 166.5,104 166.5,110.5 163.2,110.5" fill="#a4c8ee" />
<rect x="163.2" y="107.64" width="1.0" height="3" fill="#ffffff"/>
<rect x="164.52" y="104" width="1.0" height="4" fill="#ffffff"/>
<rect x="165.84" y="104" width="1.0" height="3" fill="#ffffff"/>
<polygon points="163.2,104 166.5,104 166.5,110.5 163.2,110.5" fill="none" stroke="#e38fb0" stroke-width="1.5" stroke-dasharray="1.8 1.2"/>
<rect x="163.2" y="108.6" width="0.9" height="2" fill="#ffffff"/>
<polygon points="201.3,73.1 206,72 208.9,76 208.9,88.3 205,86 202,80" fill="#767676" fill-opacity="0.86"/>
<rect x="201.7" y="73.42" width="1.2" height="1.2" fill="#c8c8c8"/>
<rect x="204.4" y="73.76" width="1.2" height="1.2" fill="#c8c8c8"/>
<rect x="205.38" y="77.41" width="1.2" height="1.2" fill="#c8c8c8"/>
<rect x="207.78" y="74.6" width="1.2" height="1.2" fill="#c8c8c8"/>
<rect x="203.86" y="77.44" width="1.2" height="1.2" fill="#c8c8c8"/>
<rect x="204.62" y="73.43" width="1.2" height="1.2" fill="#c8c8c8"/>
<rect x="205.84" y="73.14" width="1.2" height="1.2" fill="#c8c8c8"/>
<polygon points="183,86.8 189.1,86.8 189.1,94.4 183,94.4" fill="#767676" fill-opacity="0.86"/>
<rect x="188.42" y="89.84" width="1.2" height="1.2" fill="#c8c8c8"/>
<rect x="186.59" y="93.33" width="1.2" height="1.2" fill="#c8c8c8"/>
<polygon points="200.5,91 205,90.6 204,99.7 200.5,99" fill="#767676" fill-opacity="0.86"/>
<rect x="202.56" y="98.59" width="1.2" height="1.2" fill="#c8c8c8"/>
<rect x="200.64" y="93.17" width="1.2" height="1.2" fill="#c8c8c8"/>
<polygon points="183.8,99.7 187.6,99.7 186,104.2 183.8,104" fill="#767676" fill-opacity="0.86"/>
<rect x="185.78" y="103.33" width="1.2" height="1.2" fill="#c8c8c8"/>
<polygon points="175.6,71.6 180.9,71.6 180.9,80.7 177,78" fill="#767676" fill-opacity="0.86"/>
<rect x="178.51" y="72.8" width="1.2" height="1.2" fill="#c8c8c8"/>
<rect x="179.37" y="74.35" width="1.2" height="1.2" fill="#c8c8c8"/>
<rect x="177.95" y="32.51" width="1.3" height="1.3" fill="#767676"/>
<rect x="176.64" y="29.16" width="1.3" height="1.3" fill="#767676"/>
<rect x="176.11" y="23.22" width="1.3" height="1.3" fill="#767676"/>
<rect x="187.99" y="22.72" width="1.3" height="1.3" fill="#767676"/>
<rect x="183.34" y="25.97" width="1.3" height="1.3" fill="#767676"/>
<rect x="180.89" y="26.43" width="1.3" height="1.3" fill="#767676"/>
<rect x="177.5" y="30.8" width="1.3" height="1.3" fill="#767676"/>
<rect x="176.16" y="23.04" width="1.3" height="1.3" fill="#767676"/>
<rect x="175.26" y="23.47" width="1.3" height="1.3" fill="#767676"/>
<rect x="180.3" y="31.73" width="1.3" height="1.3" fill="#767676"/>
</g>
<rect x="131" y="17.45" width="100.3" height="98.3" fill="none" stroke="#5e5656" stroke-width="1.15" />
<clipPath id="clip02"><rect x="240.7" y="17.45" width="100.3" height="98.3"/></clipPath>
<g transform="translate(0,0)" clip-path="url(#clip02)">
<polygon points="271.1,20 318.9,20 321.1,24.6 325.7,32.2 327.2,39.8 328.7,51.2 332.5,58.8 334,64 334,79 332.5,94.4 327.2,105.8 326.4,112.6 269,112.6 268.1,109.6 259,102 252.1,94.4 249.9,86.8 246,80 244.6,73.9 244.2,69 245.3,58.8 247.6,51.2 251.4,43.6 256,39 260.5,32.2 263.5,28.4 267.3,24.6" fill="#dedede"/>
<rect x="250.8" y="47.32" width="1.0" height="3.5" fill="#ffffff"/>
<rect x="250.8" y="83.93" width="1.0" height="4.5" fill="#ffffff"/>
<rect x="252.12" y="85.79" width="1.0" height="4" fill="#ffffff"/>
<rect x="254.76" y="62.49" width="1.0" height="5" fill="#ffffff"/>
<rect x="254.76" y="80.77" width="1.0" height="4" fill="#ffffff"/>
<rect x="256.08" y="53.37" width="1.0" height="2" fill="#ffffff"/>
<rect x="256.08" y="97.97" width="1.0" height="1.5" fill="#ffffff"/>
<rect x="257.4" y="68.5" width="1.0" height="2" fill="#ffffff"/>
<rect x="260.04" y="44.29" width="1.0" height="4.5" fill="#ffffff"/>
<rect x="261.36" y="64.92" width="1.0" height="4" fill="#ffffff"/>
<rect x="265.32" y="84.07" width="1.0" height="3" fill="#ffffff"/>
<rect x="265.32" y="103.15" width="1.0" height="4" fill="#ffffff"/>
<rect x="266.64" y="29.35" width="1.0" height="3.5" fill="#ffffff"/>
<rect x="267.96" y="100.86" width="1.0" height="4.5" fill="#ffffff"/>
<rect x="269.28" y="67.93" width="1.0" height="4" fill="#ffffff"/>
<rect x="269.28" y="72.86" width="1.0" height="4.5" fill="#ffffff"/>
<rect x="270.6" y="30.76" width="1.0" height="2" fill="#ffffff"/>
<rect x="270.6" y="112.28" width="1.0" height="0.5" fill="#ffffff"/>
<rect x="271.92" y="62.05" width="1.0" height="4.5" fill="#ffffff"/>
<rect x="271.92" y="111.54" width="1.0" height="1.5" fill="#ffffff"/>
<rect x="273.24" y="37.2" width="1.0" height="3" fill="#ffffff"/>
<rect x="274.56" y="73.25" width="1.0" height="2.5" fill="#ffffff"/>
<rect x="274.56" y="81.01" width="1.0" height="4.5" fill="#ffffff"/>
<rect x="275.88" y="69.18" width="1.0" height="5" fill="#ffffff"/>
<rect x="278.52" y="30.44" width="1.0" height="4.5" fill="#ffffff"/>
<rect x="278.52" y="99.52" width="1.0" height="1.5" fill="#ffffff"/>
<rect x="283.8" y="37.29" width="1.0" height="2" fill="#ffffff"/>
<rect x="285.12" y="25.76" width="1.0" height="4.5" fill="#ffffff"/>
<rect x="286.44" y="45.47" width="1.0" height="4.5" fill="#ffffff"/>
<rect x="286.44" y="82.65" width="1.0" height="4" fill="#ffffff"/>
<rect x="291.72" y="110.22" width="1.0" height="2" fill="#ffffff"/>
<rect x="293.04" y="108.82" width="1.0" height="4" fill="#ffffff"/>
<rect x="297" y="31.55" width="1.0" height="3" fill="#ffffff"/>
<rect x="297" y="64.91" width="1.0" height="3.5" fill="#ffffff"/>
<rect x="298.32" y="110.32" width="1.0" height="2.5" fill="#ffffff"/>
<rect x="300.96" y="87.51" width="1.0" height="2" fill="#ffffff"/>
<rect x="310.2" y="49.29" width="1.0" height="4.5" fill="#ffffff"/>
<rect x="310.2" y="68.74" width="1.0" height="2.5" fill="#ffffff"/>
<rect x="312.84" y="32.21" width="1.0" height="5" fill="#ffffff"/>
<rect x="315.48" y="67.52" width="1.0" height="2" fill="#ffffff"/>
<rect x="316.8" y="105.13" width="1.0" height="1.5" fill="#ffffff"/>
<rect x="318.12" y="41.39" width="1.0" height="3.5" fill="#ffffff"/>
<rect x="318.12" y="46.26" width="1.0" height="4" fill="#ffffff"/>
<rect x="318.12" y="79.77" width="1.0" height="3" fill="#ffffff"/>
<rect x="319.44" y="43.02" width="1.0" height="5" fill="#ffffff"/>
<rect x="322.08" y="29.98" width="1.0" height="2" fill="#ffffff"/>
<rect x="323.4" y="74.66" width="1.0" height="5" fill="#ffffff"/>
<rect x="323.4" y="98.71" width="1.0" height="1.5" fill="#ffffff"/>
<rect x="324.72" y="46.91" width="1.0" height="3.5" fill="#ffffff"/>
<rect x="326.04" y="97.5" width="1.0" height="5" fill="#ffffff"/>
<rect x="326.04" y="110.8" width="1.0" height="1" fill="#ffffff"/>
<rect x="327.36" y="46.6" width="1.0" height="2.5" fill="#ffffff"/>
<polygon points="293,20 295.7,20 295.7,55 293,55" fill="#fff"/>
<polygon points="309.7,20 312.8,20 308.2,112.6 305.2,112.6" fill="#fff"/>
<polygon points="321.1,36 322.6,36 320.4,112.6 318.1,112.6" fill="#fff"/>
<polygon points="286.3,20 288.4,20 288.4,44 286.3,44" fill="#fff"/>
<polygon points="285.6,83 289.4,83 289.4,112.6 285.6,112.6" fill="#fff"/>
<polygon points="328,70 329.5,70 329.5,112.6 328,112.6" fill="#fff"/>
<ellipse cx="259.7" cy="73.85" rx="3" ry="2.25" fill="#fff"/>
<ellipse cx="272.5" cy="76.5" rx="1.5" ry="1.5" fill="#fff"/>
<ellipse cx="263.25" cy="99" rx="1.25" ry="3" fill="#fff"/>
<ellipse cx="276.5" cy="100" rx="1.5" ry="2" fill="#fff"/>
<ellipse cx="269" cy="61" rx="1" ry="1" fill="#fff"/>
<polygon points="262,36 265.5,38 265,42.8 264.3,48.9 260.5,51.9 259,59.5 255.2,63.3 252.5,60.3 252.9,53.4 256.7,48.9 258.2,42" fill="#767676" fill-opacity="0.78"/>
<rect x="253.75" y="56.88" width="1.2" height="1.2" fill="#c8c8c8"/>
<rect x="261.06" y="47.63" width="1.2" height="1.2" fill="#c8c8c8"/>
<rect x="254.73" y="58.88" width="1.2" height="1.2" fill="#c8c8c8"/>
<rect x="256.21" y="60.41" width="1.2" height="1.2" fill="#c8c8c8"/>
<rect x="258.74" y="43.76" width="1.2" height="1.2" fill="#c8c8c8"/>
<rect x="260.06" y="42.11" width="1.2" height="1.2" fill="#c8c8c8"/>
<rect x="261.93" y="42.58" width="1.2" height="1.2" fill="#c8c8c8"/>
<rect x="260.23" y="49.04" width="1.2" height="1.2" fill="#c8c8c8"/>
<rect x="254.69" y="52.13" width="1.2" height="1.2" fill="#c8c8c8"/>
<rect x="259.44" y="54.26" width="1.2" height="1.2" fill="#c8c8c8"/>
<rect x="258.52" y="56.27" width="1.2" height="1.2" fill="#c8c8c8"/>
<rect x="255.83" y="61.78" width="1.2" height="1.2" fill="#c8c8c8"/>
<rect x="255.49" y="51.1" width="1.2" height="1.2" fill="#c8c8c8"/>
<rect x="258.94" y="53.44" width="1.2" height="1.2" fill="#c8c8c8"/>
<rect x="260.84" y="48.44" width="1.2" height="1.2" fill="#c8c8c8"/>
<rect x="263.28" y="46.62" width="1.2" height="1.2" fill="#c8c8c8"/>
<rect x="254.82" y="56.64" width="1.2" height="1.2" fill="#c8c8c8"/>
<rect x="257.03" y="49.4" width="1.2" height="1.2" fill="#c8c8c8"/>
<rect x="262.32" y="48.18" width="1.2" height="1.2" fill="#c8c8c8"/>
<rect x="257.64" y="56.93" width="1.2" height="1.2" fill="#c8c8c8"/>
<rect x="261.69" y="38.17" width="1.2" height="1.2" fill="#c8c8c8"/>
<rect x="256.76" y="36.07" width="1.3" height="1.3" fill="#e38fb0"/>
<rect x="258.06" y="36.85" width="1.3" height="1.3" fill="#e38fb0"/>
<rect x="260.59" y="29.85" width="1.3" height="1.3" fill="#e38fb0"/>
<rect x="254.53" y="39.89" width="1.3" height="1.3" fill="#e38fb0"/>
<rect x="256.97" y="32.05" width="1.3" height="1.3" fill="#e38fb0"/>
<rect x="264.26" y="35.11" width="1.3" height="1.3" fill="#e38fb0"/>
<rect x="262.68" y="35.19" width="1.3" height="1.3" fill="#e38fb0"/>
<rect x="260.73" y="30.96" width="1.3" height="1.3" fill="#e38fb0"/>
<rect x="260.69" y="40.28" width="1.3" height="1.3" fill="#e38fb0"/>
<rect x="259.58" y="38.64" width="1.3" height="1.3" fill="#e38fb0"/>
<rect x="261.05" y="29.83" width="1.3" height="1.3" fill="#e38fb0"/>
<rect x="261.91" y="36.68" width="1.3" height="1.3" fill="#e38fb0"/>
<rect x="257.38" y="29.4" width="1.3" height="1.3" fill="#e38fb0"/>
<rect x="262.97" y="35.15" width="1.3" height="1.3" fill="#e38fb0"/>
<polygon points="258.5,32.5 262.3,32.5 262.3,37.3 258.5,37.3" fill="#a4c8ee" />
<polygon points="258.5,32.5 262.3,32.5 262.3,37.3 258.5,37.3" fill="none" stroke="#e38fb0" stroke-width="1.5" stroke-dasharray="1.8 1.2"/>
<rect x="258.5" y="37.1" width="0.9" height="0.5" fill="#ffffff"/>
<polygon points="244.6,73.9 252.1,73.9 252.1,81.5 244.6,81.5" fill="#767676" fill-opacity="0.62"/>
<rect x="251.84" y="78.15" width="1.2" height="1.2" fill="#c8c8c8"/>
<rect x="248.15" y="77.88" width="1.2" height="1.2" fill="#c8c8c8"/>
<rect x="250.36" y="81.41" width="1.2" height="1.2" fill="#c8c8c8"/>
<polygon points="275.7,63 283,60.5 287.8,61 288,80 285,84.5 279,83 275.7,72" fill="#767676" fill-opacity="0.86"/>
<rect x="286.3" y="67.27" width="1.2" height="1.2" fill="#c8c8c8"/>
<rect x="284.43" y="68.13" width="1.2" height="1.2" fill="#c8c8c8"/>
<rect x="287.04" y="76.48" width="1.2" height="1.2" fill="#c8c8c8"/>
<rect x="284.83" y="66.62" width="1.2" height="1.2" fill="#c8c8c8"/>
<rect x="284.58" y="79.73" width="1.2" height="1.2" fill="#c8c8c8"/>
<rect x="278.45" y="72.36" width="1.2" height="1.2" fill="#c8c8c8"/>
<rect x="277.99" y="69.59" width="1.2" height="1.2" fill="#c8c8c8"/>
<rect x="279.69" y="80.58" width="1.2" height="1.2" fill="#c8c8c8"/>
<rect x="279.05" y="82.86" width="1.2" height="1.2" fill="#c8c8c8"/>
<rect x="287.17" y="79.61" width="1.2" height="1.2" fill="#c8c8c8"/>
<rect x="285.94" y="78.66" width="1.2" height="1.2" fill="#c8c8c8"/>
<rect x="282.67" y="71.73" width="1.2" height="1.2" fill="#c8c8c8"/>
<rect x="279.33" y="64.04" width="1.2" height="1.2" fill="#c8c8c8"/>
<rect x="281.54" y="63.81" width="1.2" height="1.2" fill="#c8c8c8"/>
<rect x="285.04" y="60.85" width="1.2" height="1.2" fill="#c8c8c8"/>
<rect x="281.65" y="78.03" width="1.2" height="1.2" fill="#c8c8c8"/>
<rect x="282.51" y="66.25" width="1.2" height="1.2" fill="#c8c8c8"/>
<polygon points="280.2,65.5 287.1,65.5 287.1,81.5 281,79" fill="#a4c8ee" />
<polygon points="280.2,65.5 287.1,65.5 287.1,81.5 281,79" fill="none" stroke="#e38fb0" stroke-width="1.5" stroke-dasharray="1.8 1.2"/>
<rect x="280.2" y="70.1" width="0.9" height="2" fill="#ffffff"/>
<polygon points="289,72 297,71.6 303.7,77 302,88 296,90.6 290,88" fill="#767676" fill-opacity="0.86"/>
<rect x="295.03" y="86.56" width="1.2" height="1.2" fill="#c8c8c8"/>
<rect x="289.77" y="75.15" width="1.2" height="1.2" fill="#c8c8c8"/>
<rect x="291.73" y="73.25" width="1.2" height="1.2" fill="#c8c8c8"/>
<rect x="297.42" y="75.63" width="1.2" height="1.2" fill="#c8c8c8"/>
<rect x="299.49" y="79.17" width="1.2" height="1.2" fill="#c8c8c8"/>
<rect x="300.06" y="80.59" width="1.2" height="1.2" fill="#c8c8c8"/>
<rect x="298.04" y="79.63" width="1.2" height="1.2" fill="#c8c8c8"/>
<rect x="299.52" y="81.7" width="1.2" height="1.2" fill="#c8c8c8"/>
<rect x="297.59" y="84.87" width="1.2" height="1.2" fill="#c8c8c8"/>
<rect x="293.26" y="72.68" width="1.2" height="1.2" fill="#c8c8c8"/>
<rect x="298.25" y="85.15" width="1.2" height="1.2" fill="#c8c8c8"/>
<rect x="295.88" y="81.63" width="1.2" height="1.2" fill="#c8c8c8"/>
<rect x="301.21" y="84.54" width="1.2" height="1.2" fill="#c8c8c8"/>
<rect x="298.39" y="81.9" width="1.2" height="1.2" fill="#c8c8c8"/>
<rect x="291.23" y="87.43" width="1.2" height="1.2" fill="#c8c8c8"/>
<rect x="298.31" y="85.34" width="1.2" height="1.2" fill="#c8c8c8"/>
<rect x="314.44" y="75" width="1.4" height="1.4" fill="#767676"/>
<rect x="311.68" y="79.49" width="1.4" height="1.4" fill="#767676"/>
<rect x="310.55" y="76.18" width="1.4" height="1.4" fill="#767676"/>
<rect x="318.14" y="72.34" width="1.4" height="1.4" fill="#767676"/>
<rect x="315.21" y="77.21" width="1.4" height="1.4" fill="#767676"/>
<rect x="310.85" y="75.05" width="1.4" height="1.4" fill="#767676"/>
<rect x="316.48" y="75.71" width="1.4" height="1.4" fill="#767676"/>
<rect x="316.66" y="73.03" width="1.4" height="1.4" fill="#767676"/>
<rect x="312.52" y="72.61" width="1.4" height="1.4" fill="#767676"/>
<rect x="314.8" y="80.01" width="1.4" height="1.4" fill="#767676"/>
<rect x="315.52" y="78.65" width="1.4" height="1.4" fill="#767676"/>
<rect x="313.76" y="78.39" width="1.4" height="1.4" fill="#767676"/>
<rect x="311.36" y="74.25" width="1.4" height="1.4" fill="#767676"/>
<rect x="316.23" y="78.2" width="1.4" height="1.4" fill="#767676"/>
<rect x="314.08" y="72.4" width="1.4" height="1.4" fill="#767676"/>
<rect x="312.77" y="73.51" width="1.4" height="1.4" fill="#767676"/>
<rect x="324.81" y="78.67" width="1.3" height="1.3" fill="#767676"/>
<rect x="323.99" y="79.2" width="1.3" height="1.3" fill="#767676"/>
<rect x="330.79" y="73.38" width="1.3" height="1.3" fill="#767676"/>
<rect x="325.79" y="76.44" width="1.3" height="1.3" fill="#767676"/>
<rect x="322.23" y="75.97" width="1.3" height="1.3" fill="#767676"/>
<rect x="290.3" y="74.2" width="5.5" height="12.5" fill="#fff"/>
<rect x="296" y="79.2" width="3.6" height="4.5" fill="#e38fb0"/>
</g>
<rect x="240.7" y="17.45" width="100.3" height="98.3" fill="none" stroke="#5e5656" stroke-width="1.15" />
<clipPath id="clip10"><rect x="21.55" y="17.45" width="100.3" height="98.3"/></clipPath>
<g transform="translate(0,107.6)" clip-path="url(#clip10)">
<polygon points="46.4,20.1 96,20.1 95.7,35 93.8,42 92.6,54.7 92,67 90,80 88.8,92 87.5,105 87.4,111.7 46.4,111.7 43.8,109 39.4,102 34.1,95 29.8,86.3 27.1,77.5 26.3,68.8 25.8,60 26,56.4 30,52 33.5,48 34.1,43.3 33.3,36 36,31.5 39.5,27.5 43,23.5" fill="#dedede"/>
<rect x="87.4" y="107.54" width="1.1" height="4" fill="#d9d9d9"/>
<rect x="88.72" y="88.69" width="1.1" height="2.5" fill="#d9d9d9"/>
<rect x="88.72" y="92.02" width="1.1" height="3.5" fill="#d9d9d9"/>
<rect x="88.72" y="96.77" width="1.1" height="9" fill="#d9d9d9"/>
<rect x="88.72" y="106.32" width="1.1" height="5.5" fill="#d9d9d9"/>
<rect x="90.04" y="82.1" width="1.1" height="5.5" fill="#d9d9d9"/>
<rect x="90.04" y="88.75" width="1.1" height="3.5" fill="#d9d9d9"/>
<rect x="90.04" y="93.51" width="1.1" height="8" fill="#d9d9d9"/>
<rect x="90.04" y="102.31" width="1.1" height="2" fill="#d9d9d9"/>
<rect x="90.04" y="106.16" width="1.1" height="5.5" fill="#d9d9d9"/>
<rect x="91.36" y="68.27" width="1.1" height="2.5" fill="#d9d9d9"/>
<rect x="91.36" y="71.55" width="1.1" height="4.5" fill="#d9d9d9"/>
<rect x="91.36" y="86.93" width="1.1" height="9" fill="#d9d9d9"/>
<rect x="91.36" y="97.56" width="1.1" height="8.5" fill="#d9d9d9"/>
<rect x="91.36" y="110.8" width="1.1" height="0.5" fill="#d9d9d9"/>
<rect x="92.68" y="48.85" width="1.1" height="1.5" fill="#d9d9d9"/>
<rect x="92.68" y="50.99" width="1.1" height="5.5" fill="#d9d9d9"/>
<rect x="92.68" y="57.3" width="1.1" height="4.5" fill="#d9d9d9"/>
<rect x="92.68" y="63.99" width="1.1" height="8.5" fill="#d9d9d9"/>
<rect x="92.68" y="73.8" width="1.1" height="2" fill="#d9d9d9"/>
<rect x="92.68" y="77.04" width="1.1" height="5" fill="#d9d9d9"/>
<rect x="92.68" y="99.84" width="1.1" height="6" fill="#d9d9d9"/>
<rect x="94" y="39.91" width="1.1" height="3.5" fill="#d9d9d9"/>
<rect x="94" y="44.54" width="1.1" height="3" fill="#d9d9d9"/>
<rect x="94" y="56.85" width="1.1" height="8.5" fill="#d9d9d9"/>
<rect x="94" y="66.33" width="1.1" height="2" fill="#d9d9d9"/>
<rect x="94" y="69.63" width="1.1" height="7.5" fill="#d9d9d9"/>
<rect x="94" y="78.88" width="1.1" height="6.5" fill="#d9d9d9"/>
<rect x="94" y="86.12" width="1.1" height="9" fill="#d9d9d9"/>
<rect x="94" y="95.4" width="1.1" height="7" fill="#d9d9d9"/>
<rect x="94" y="102.45" width="1.1" height="8.5" fill="#d9d9d9"/>
<rect x="95.32" y="25.69" width="1.1" height="4.5" fill="#d9d9d9"/>
<rect x="95.32" y="46.09" width="1.1" height="7.5" fill="#d9d9d9"/>
<rect x="95.32" y="55.55" width="1.1" height="7.5" fill="#d9d9d9"/>
<rect x="95.32" y="83.84" width="1.1" height="8.5" fill="#d9d9d9"/>
<rect x="95.32" y="93.89" width="1.1" height="5.5" fill="#d9d9d9"/>
<rect x="95.32" y="100.34" width="1.1" height="3.5" fill="#d9d9d9"/>
<rect x="95.32" y="106" width="1.1" height="5" fill="#d9d9d9"/>
<rect x="96.64" y="21.1" width="1.1" height="1.5" fill="#d9d9d9"/>
<rect x="96.64" y="23.21" width="1.1" height="2" fill="#d9d9d9"/>
<rect x="96.64" y="26.37" width="1.1" height="9" fill="#d9d9d9"/>
<rect x="96.64" y="40.45" width="1.1" height="7" fill="#d9d9d9"/>
<rect x="96.64" y="49.29" width="1.1" height="8.5" fill="#d9d9d9"/>
<rect x="96.64" y="60.05" width="1.1" height="7" fill="#d9d9d9"/>
<rect x="96.64" y="68.96" width="1.1" height="5" fill="#d9d9d9"/>
<rect x="96.64" y="95.89" width="1.1" height="6.5" fill="#d9d9d9"/>
<rect x="96.64" y="104.45" width="1.1" height="5.5" fill="#d9d9d9"/>
<rect x="97.96" y="27.67" width="1.1" height="7.5" fill="#d9d9d9"/>
<rect x="97.96" y="36.01" width="1.1" height="5.5" fill="#d9d9d9"/>
<rect x="97.96" y="42.92" width="1.1" height="2.5" fill="#d9d9d9"/>
<rect x="97.96" y="64.1" width="1.1" height="4.5" fill="#d9d9d9"/>
<rect x="97.96" y="69.14" width="1.1" height="7.5" fill="#d9d9d9"/>
<rect x="97.96" y="93.78" width="1.1" height="8" fill="#d9d9d9"/>
<rect x="99.28" y="46.94" width="1.1" height="5.5" fill="#d9d9d9"/>
<rect x="99.28" y="53.52" width="1.1" height="9" fill="#d9d9d9"/>
<rect x="99.28" y="63.56" width="1.1" height="2.5" fill="#d9d9d9"/>
<rect x="99.28" y="66.4" width="1.1" height="4" fill="#d9d9d9"/>
<rect x="99.28" y="71.48" width="1.1" height="2.5" fill="#d9d9d9"/>
<rect x="99.28" y="84.67" width="1.1" height="3" fill="#d9d9d9"/>
<rect x="99.28" y="88.2" width="1.1" height="6.5" fill="#d9d9d9"/>
<rect x="99.28" y="95.83" width="1.1" height="7.5" fill="#d9d9d9"/>
<rect x="99.28" y="105.01" width="1.1" height="0.5" fill="#d9d9d9"/>
<rect x="100.6" y="24.1" width="1.1" height="1" fill="#d9d9d9"/>
<rect x="100.6" y="26.07" width="1.1" height="4.5" fill="#d9d9d9"/>
<rect x="100.6" y="30.72" width="1.1" height="2" fill="#d9d9d9"/>
<rect x="100.6" y="36.03" width="1.1" height="6" fill="#d9d9d9"/>
<rect x="100.6" y="42.21" width="1.1" height="6" fill="#d9d9d9"/>
<rect x="100.6" y="48.93" width="1.1" height="7" fill="#d9d9d9"/>
<rect x="100.6" y="57.95" width="1.1" height="9" fill="#d9d9d9"/>
<rect x="100.6" y="78.16" width="1.1" height="9" fill="#d9d9d9"/>
<rect x="100.6" y="87.81" width="1.1" height="5" fill="#d9d9d9"/>
<rect x="100.6" y="93.6" width="1.1" height="5.5" fill="#d9d9d9"/>
<rect x="100.6" y="99.31" width="1.1" height="5" fill="#d9d9d9"/>
<rect x="101.92" y="25.85" width="1.1" height="6" fill="#d9d9d9"/>
<rect x="101.92" y="32.78" width="1.1" height="6.5" fill="#d9d9d9"/>
<rect x="101.92" y="39.37" width="1.1" height="2.5" fill="#d9d9d9"/>
<rect x="101.92" y="43.67" width="1.1" height="8" fill="#d9d9d9"/>
<rect x="101.92" y="59.15" width="1.1" height="8" fill="#d9d9d9"/>
<rect x="101.92" y="67.52" width="1.1" height="6.5" fill="#d9d9d9"/>
<rect x="101.92" y="87.1" width="1.1" height="2.5" fill="#d9d9d9"/>
<rect x="103.24" y="27.37" width="1.1" height="7" fill="#d9d9d9"/>
<rect x="103.24" y="39.72" width="1.1" height="8" fill="#d9d9d9"/>
<rect x="103.24" y="47.97" width="1.1" height="7" fill="#d9d9d9"/>
<rect x="103.24" y="69" width="1.1" height="6" fill="#d9d9d9"/>
<rect x="103.24" y="75.03" width="1.1" height="4" fill="#d9d9d9"/>
<rect x="103.24" y="86.81" width="1.1" height="2" fill="#d9d9d9"/>
<rect x="103.24" y="89.03" width="1.1" height="7.5" fill="#d9d9d9"/>
<rect x="103.24" y="98.75" width="1.1" height="3" fill="#d9d9d9"/>
<rect x="104.56" y="33.93" width="1.1" height="9" fill="#d9d9d9"/>
<rect x="104.56" y="44.13" width="1.1" height="5.5" fill="#d9d9d9"/>
<rect x="104.56" y="57.82" width="1.1" height="4.5" fill="#d9d9d9"/>
<rect x="104.56" y="68.67" width="1.1" height="7.5" fill="#d9d9d9"/>
<rect x="104.56" y="76.67" width="1.1" height="6.5" fill="#d9d9d9"/>
<rect x="104.56" y="99.16" width="1.1" height="1" fill="#d9d9d9"/>
<rect x="105.88" y="33.59" width="1.1" height="4" fill="#d9d9d9"/>
<rect x="105.88" y="38.53" width="1.1" height="7.5" fill="#d9d9d9"/>
<rect x="105.88" y="48.1" width="1.1" height="3.5" fill="#d9d9d9"/>
<rect x="105.88" y="51.6" width="1.1" height="2.5" fill="#d9d9d9"/>
<rect x="105.88" y="61.54" width="1.1" height="6" fill="#d9d9d9"/>
<rect x="105.88" y="68.92" width="1.1" height="5" fill="#d9d9d9"/>
<rect x="105.88" y="83.4" width="1.1" height="8" fill="#d9d9d9"/>
<rect x="105.88" y="92.44" width="1.1" height="2.5" fill="#d9d9d9"/>
<rect x="107.2" y="33.79" width="1.1" height="2.5" fill="#d9d9d9"/>
<rect x="107.2" y="37.29" width="1.1" height="8" fill="#d9d9d9"/>
<rect x="107.2" y="46.65" width="1.1" height="6" fill="#d9d9d9"/>
<rect x="107.2" y="52.97" width="1.1" height="6.5" fill="#d9d9d9"/>
<rect x="107.2" y="62.33" width="1.1" height="5" fill="#d9d9d9"/>
<rect x="107.2" y="73.7" width="1.1" height="6" fill="#d9d9d9"/>
<rect x="107.2" y="81.72" width="1.1" height="4.5" fill="#d9d9d9"/>
<rect x="107.2" y="88.13" width="1.1" height="2.5" fill="#d9d9d9"/>
<rect x="108.52" y="42.56" width="1.1" height="5.5" fill="#d9d9d9"/>
<rect x="108.52" y="48.3" width="1.1" height="6" fill="#d9d9d9"/>
<rect x="108.52" y="63.14" width="1.1" height="7" fill="#d9d9d9"/>
<rect x="108.52" y="70.64" width="1.1" height="3" fill="#d9d9d9"/>
<rect x="108.52" y="74.18" width="1.1" height="6.5" fill="#d9d9d9"/>
<rect x="108.52" y="91.11" width="1.1" height="1.5" fill="#d9d9d9"/>
<rect x="109.84" y="38.33" width="1.1" height="0.5" fill="#d9d9d9"/>
<rect x="109.84" y="44.2" width="1.1" height="3" fill="#d9d9d9"/>
<rect x="109.84" y="48.17" width="1.1" height="7" fill="#d9d9d9"/>
<rect x="109.84" y="66.08" width="1.1" height="4" fill="#d9d9d9"/>
<rect x="109.84" y="81.04" width="1.1" height="2.5" fill="#d9d9d9"/>
<rect x="109.84" y="88.31" width="1.1" height="1" fill="#d9d9d9"/>
<rect x="111.16" y="40.1" width="1.1" height="2" fill="#d9d9d9"/>
<rect x="111.16" y="43.21" width="1.1" height="4" fill="#d9d9d9"/>
<rect x="111.16" y="48.7" width="1.1" height="5.5" fill="#d9d9d9"/>
<rect x="111.16" y="62.67" width="1.1" height="9" fill="#d9d9d9"/>
<rect x="112.48" y="42.4" width="1.1" height="6.5" fill="#d9d9d9"/>
<rect x="112.48" y="49.71" width="1.1" height="8" fill="#d9d9d9"/>
<rect x="112.48" y="58.85" width="1.1" height="7.5" fill="#d9d9d9"/>
<rect x="112.48" y="69.1" width="1.1" height="5.5" fill="#d9d9d9"/>
<rect x="113.8" y="46.84" width="1.1" height="5.5" fill="#d9d9d9"/>
<rect x="113.8" y="59.88" width="1.1" height="8.5" fill="#d9d9d9"/>
<rect x="113.8" y="69.19" width="1.1" height="8.5" fill="#d9d9d9"/>
<rect x="115.12" y="48.07" width="1.1" height="0.5" fill="#d9d9d9"/>
<rect x="115.12" y="59.07" width="1.1" height="8" fill="#d9d9d9"/>
<rect x="115.12" y="68.2" width="1.1" height="6" fill="#d9d9d9"/>
<rect x="27.12" y="60.51" width="1.0" height="4.5" fill="#ffffff"/>
<rect x="32.4" y="91.2" width="1.0" height="1.5" fill="#ffffff"/>
<rect x="35.04" y="91.05" width="1.0" height="4" fill="#ffffff"/>
<rect x="37.68" y="77.14" width="1.0" height="3" fill="#ffffff"/>
<rect x="39" y="51.28" width="1.0" height="5" fill="#ffffff"/>
<rect x="39" y="100.03" width="1.0" height="2.5" fill="#ffffff"/>
<rect x="41.64" y="101.68" width="1.0" height="2" fill="#ffffff"/>
<rect x="45.6" y="20.6" width="1.0" height="3" fill="#ffffff"/>
<rect x="45.6" y="34.58" width="1.0" height="4.5" fill="#ffffff"/>
<rect x="46.92" y="23.7" width="1.0" height="2" fill="#ffffff"/>
<rect x="48.24" y="58.56" width="1.0" height="4" fill="#ffffff"/>
<rect x="49.56" y="72.68" width="1.0" height="2" fill="#ffffff"/>
<rect x="53.52" y="66.23" width="1.0" height="2" fill="#ffffff"/>
<rect x="54.84" y="94.54" width="1.0" height="4.5" fill="#ffffff"/>
<rect x="56.16" y="76.75" width="1.0" height="4" fill="#ffffff"/>
<rect x="57.48" y="41.91" width="1.0" height="2" fill="#ffffff"/>
<rect x="58.8" y="61.88" width="1.0" height="3.5" fill="#ffffff"/>
<rect x="58.8" y="78.81" width="1.0" height="4" fill="#ffffff"/>
<rect x="60.12" y="82.27" width="1.0" height="5" fill="#ffffff"/>
<rect x="64.08" y="76.96" width="1.0" height="4" fill="#ffffff"/>
<rect x="65.4" y="108.22" width="1.0" height="2" fill="#ffffff"/>
<rect x="66.72" y="67.48" width="1.0" height="3" fill="#ffffff"/>
<rect x="66.72" y="104.02" width="1.0" height="1.5" fill="#ffffff"/>
<rect x="66.72" y="107.94" width="1.0" height="2" fill="#ffffff"/>
<rect x="68.04" y="35.2" width="1.0" height="2" fill="#ffffff"/>
<rect x="69.36" y="71.18" width="1.0" height="4" fill="#ffffff"/>
<rect x="69.36" y="85.38" width="1.0" height="1.5" fill="#ffffff"/>
<rect x="70.68" y="100.76" width="1.0" height="4" fill="#ffffff"/>
<rect x="72" y="20.1" width="1.0" height="3" fill="#ffffff"/>
<rect x="73.32" y="98.52" width="1.0" height="1.5" fill="#ffffff"/>
<rect x="75.96" y="80.58" width="1.0" height="3" fill="#ffffff"/>
<rect x="78.6" y="27.4" width="1.0" height="5" fill="#ffffff"/>
<rect x="79.92" y="102" width="1.0" height="3" fill="#ffffff"/>
<rect x="83.88" y="25.78" width="1.0" height="3" fill="#ffffff"/>
<rect x="83.88" y="58.03" width="1.0" height="4" fill="#ffffff"/>
<rect x="83.88" y="105.11" width="1.0" height="5" fill="#ffffff"/>
<rect x="85.2" y="20.1" width="1.0" height="4.5" fill="#ffffff"/>
<rect x="85.2" y="38.62" width="1.0" height="2" fill="#ffffff"/>
<rect x="85.2" y="68.34" width="1.0" height="3" fill="#ffffff"/>
<rect x="86.52" y="104.7" width="1.0" height="2" fill="#ffffff"/>
<rect x="87.84" y="20.1" width="1.0" height="2" fill="#ffffff"/>
<rect x="87.84" y="88.3" width="1.0" height="4" fill="#ffffff"/>
<rect x="90.48" y="20.1" width="1.0" height="2.5" fill="#ffffff"/>
<polygon points="68.6,20.1 70.2,20.1 70.2,38 68.8,48 67,70 64.6,111.7 61.1,111.7 63,70 66.3,48 66.5,38 68.6,37" fill="#fff"/>
<polygon points="88,70 89.6,70 88.6,111.7 87.2,111.7" fill="#fff"/>
<ellipse cx="61.1" cy="34.1" rx="1.1" ry="1.1" fill="#fff"/>
<ellipse cx="57.75" cy="37.75" rx="0.75" ry="0.75" fill="#fff"/>
<ellipse cx="51.5" cy="92.6" rx="4.5" ry="0.6" fill="#fff"/>
<ellipse cx="52" cy="91.1" rx="2" ry="0.6" fill="#fff"/>
<ellipse cx="75.5" cy="56" rx="0.5" ry="4" fill="#fff"/>
<ellipse cx="80.5" cy="65" rx="0.5" ry="5" fill="#fff"/>
<ellipse cx="56.6" cy="58" rx="0.6" ry="3" fill="#fff"/>
<rect x="49.49" y="34.38" width="1.4" height="1.4" fill="#dd6fcc"/>
<rect x="63.18" y="42.02" width="1.4" height="1.4" fill="#dd6fcc"/>
<rect x="62.33" y="33.72" width="1.4" height="1.4" fill="#dd6fcc"/>
<rect x="63.82" y="36.75" width="1.4" height="1.4" fill="#dd6fcc"/>
<rect x="48.06" y="34.41" width="1.4" height="1.4" fill="#dd6fcc"/>
<rect x="67.04" y="30.73" width="1.4" height="1.4" fill="#dd6fcc"/>
<rect x="53.08" y="43.92" width="1.4" height="1.4" fill="#dd6fcc"/>
<rect x="50.76" y="25.94" width="1.4" height="1.4" fill="#dd6fcc"/>
<rect x="50.43" y="31.08" width="1.4" height="1.4" fill="#dd6fcc"/>
<rect x="60.02" y="49.88" width="1.4" height="1.4" fill="#dd6fcc"/>
<rect x="58.46" y="47.99" width="1.4" height="1.4" fill="#dd6fcc"/>
<rect x="64.21" y="25.39" width="1.4" height="1.4" fill="#dd6fcc"/>
<rect x="60.5" y="24.28" width="1.4" height="1.4" fill="#dd6fcc"/>
<rect x="63.24" y="37.77" width="1.4" height="1.4" fill="#dd6fcc"/>
<rect x="66.31" y="27.74" width="1.4" height="1.4" fill="#dd6fcc"/>
<rect x="56.12" y="39.95" width="1.4" height="1.4" fill="#dd6fcc"/>
<rect x="66.06" y="24.36" width="1.4" height="1.4" fill="#dd6fcc"/>
<rect x="59.64" y="42.38" width="1.4" height="1.4" fill="#dd6fcc"/>
<rect x="63.27" y="35.97" width="1.4" height="1.4" fill="#dd6fcc"/>
<rect x="52.65" y="38.51" width="1.4" height="1.4" fill="#dd6fcc"/>
<rect x="57.87" y="30.97" width="1.4" height="1.4" fill="#dd6fcc"/>
<rect x="65.01" y="31.57" width="1.4" height="1.4" fill="#dd6fcc"/>
<rect x="56.89" y="43.73" width="1.4" height="1.4" fill="#dd6fcc"/>
<rect x="64.12" y="47.66" width="1.4" height="1.4" fill="#dd6fcc"/>
<rect x="60.57" y="28.2" width="1.4" height="1.4" fill="#dd6fcc"/>
<rect x="61.95" y="43.89" width="1.4" height="1.4" fill="#dd6fcc"/>
<rect x="57.55" y="35.55" width="1.4" height="1.4" fill="#dd6fcc"/>
<rect x="59.06" y="24.99" width="1.4" height="1.4" fill="#dd6fcc"/>
<rect x="61.1" y="46.77" width="1.4" height="1.4" fill="#dd6fcc"/>
<rect x="61.77" y="24.19" width="1.4" height="1.4" fill="#dd6fcc"/>
<rect x="51.1" y="29.95" width="1.4" height="1.4" fill="#dd6fcc"/>
<rect x="59.9" y="40.35" width="1.4" height="1.4" fill="#dd6fcc"/>
<rect x="62.7" y="37.83" width="1.4" height="1.4" fill="#dd6fcc"/>
<rect x="53.61" y="20.88" width="1.4" height="1.4" fill="#dd6fcc"/>
<rect x="48.8" y="26.38" width="1.4" height="1.4" fill="#dd6fcc"/>
<rect x="57.8" y="42.46" width="1.4" height="1.4" fill="#dd6fcc"/>
<rect x="50.88" y="32.39" width="1.4" height="1.4" fill="#dd6fcc"/>
<rect x="66.81" y="32.72" width="1.4" height="1.4" fill="#dd6fcc"/>
<rect x="61.92" y="39.36" width="1.4" height="1.4" fill="#dd6fcc"/>
<rect x="60.75" y="35.04" width="1.4" height="1.4" fill="#dd6fcc"/>
<rect x="58.24" y="41.88" width="1.4" height="1.4" fill="#dd6fcc"/>
<rect x="65.42" y="21.94" width="1.4" height="1.4" fill="#dd6fcc"/>
<rect x="50.64" y="28.09" width="1.4" height="1.4" fill="#dd6fcc"/>
<rect x="48.37" y="24.77" width="1.4" height="1.4" fill="#dd6fcc"/>
<rect x="60.35" y="24.25" width="1.4" height="1.4" fill="#dd6fcc"/>
<rect x="55.1" y="36.99" width="1.4" height="1.4" fill="#dd6fcc"/>
<rect x="56.68" y="30.98" width="1.4" height="1.4" fill="#dd6fcc"/>
<rect x="56.25" y="26.42" width="1.4" height="1.4" fill="#dd6fcc"/>
<rect x="59" y="28.16" width="1.4" height="1.4" fill="#dd6fcc"/>
<rect x="49.48" y="26.86" width="1.4" height="1.4" fill="#dd6fcc"/>
<rect x="55.08" y="28.44" width="1.4" height="1.4" fill="#dd6fcc"/>
<rect x="61.86" y="26.31" width="1.4" height="1.4" fill="#dd6fcc"/>
<rect x="52.24" y="28.77" width="1.4" height="1.4" fill="#dd6fcc"/>
<rect x="51.38" y="20.8" width="1.4" height="1.4" fill="#dd6fcc"/>
<rect x="48.05" y="29.59" width="1.4" height="1.4" fill="#dd6fcc"/>
<rect x="60.38" y="39.6" width="1.4" height="1.4" fill="#dd6fcc"/>
<rect x="64.99" y="45.54" width="1.4" height="1.4" fill="#dd6fcc"/>
<rect x="54.02" y="41.05" width="1.4" height="1.4" fill="#dd6fcc"/>
<rect x="56.03" y="42.71" width="1.4" height="1.4" fill="#dd6fcc"/>
<rect x="54.02" y="44.92" width="1.4" height="1.4" fill="#dd6fcc"/>
<rect x="61.71" y="35.97" width="1.4" height="1.4" fill="#dd6fcc"/>
<rect x="50.12" y="32.16" width="1.4" height="1.4" fill="#dd6fcc"/>
<rect x="56.08" y="26.98" width="1.4" height="1.4" fill="#dd6fcc"/>
<rect x="58.34" y="28.76" width="1.4" height="1.4" fill="#dd6fcc"/>
<rect x="60" y="39.81" width="1.4" height="1.4" fill="#dd6fcc"/>
<rect x="49.28" y="38.33" width="1.4" height="1.4" fill="#dd6fcc"/>
<rect x="59.1" y="23.89" width="1.4" height="1.4" fill="#dd6fcc"/>
<rect x="58.98" y="27.3" width="1.4" height="1.4" fill="#dd6fcc"/>
<rect x="54.92" y="34.48" width="1.4" height="1.4" fill="#dd6fcc"/>
<rect x="61.81" y="46.75" width="1.4" height="1.4" fill="#dd6fcc"/>
<rect x="48.21" y="21.92" width="1.4" height="1.4" fill="#dd6fcc"/>
<rect x="55.97" y="21.11" width="1.4" height="1.4" fill="#dd6fcc"/>
<rect x="49.68" y="23.74" width="1.4" height="1.4" fill="#dd6fcc"/>
<rect x="48.24" y="39.57" width="1.4" height="1.4" fill="#dd6fcc"/>
<rect x="48.39" y="37.78" width="1.4" height="1.4" fill="#dd6fcc"/>
<rect x="67.46" y="24.78" width="1.4" height="1.4" fill="#dd6fcc"/>
<rect x="62.92" y="38.32" width="1.4" height="1.4" fill="#dd6fcc"/>
<rect x="62.43" y="32.07" width="1.4" height="1.4" fill="#dd6fcc"/>
<rect x="65.76" y="23.68" width="1.4" height="1.4" fill="#dd6fcc"/>
<rect x="64.56" y="46.19" width="1.4" height="1.4" fill="#dd6fcc"/>
<rect x="63.47" y="48.4" width="1.4" height="1.4" fill="#dd6fcc"/>
<rect x="52.47" y="43.02" width="1.4" height="1.4" fill="#dd6fcc"/>
<rect x="63.38" y="31.12" width="1.4" height="1.4" fill="#dd6fcc"/>
<rect x="47.07" y="20.93" width="1.4" height="1.4" fill="#dd6fcc"/>
<rect x="57.39" y="37.21" width="1.4" height="1.4" fill="#dd6fcc"/>
<rect x="49.04" y="39.74" width="1.4" height="1.4" fill="#dd6fcc"/>
<rect x="57.48" y="26.71" width="1.4" height="1.4" fill="#dd6fcc"/>
<rect x="64.97" y="38.44" width="1.4" height="1.4" fill="#dd6fcc"/>
<rect x="61.38" y="21.71" width="1.4" height="1.4" fill="#dd6fcc"/>
<rect x="58.97" y="27.6" width="1.4" height="1.4" fill="#dd6fcc"/>
<rect x="67.9" y="20.83" width="1.4" height="1.4" fill="#dd6fcc"/>
<rect x="48.93" y="29.65" width="1.4" height="1.4" fill="#dd6fcc"/>
<rect x="61.55" y="48.99" width="1.4" height="1.4" fill="#dd6fcc"/>
<rect x="50.5" y="23.19" width="1.4" height="1.4" fill="#dd6fcc"/>
<rect x="53.82" y="43.87" width="1.4" height="1.4" fill="#dd6fcc"/>
<rect x="59.86" y="49.02" width="1.4" height="1.4" fill="#dd6fcc"/>
<rect x="61.91" y="23" width="1.4" height="1.4" fill="#dd6fcc"/>
<rect x="53.2" y="26.71" width="1.4" height="1.4" fill="#dd6fcc"/>
<rect x="52.16" y="40.83" width="1.4" height="1.4" fill="#dd6fcc"/>
<rect x="56.02" y="43.58" width="1.4" height="1.4" fill="#dd6fcc"/>
<rect x="64.79" y="21.79" width="1.4" height="1.4" fill="#dd6fcc"/>
<rect x="55.61" y="32.14" width="1.4" height="1.4" fill="#dd6fcc"/>
<rect x="50.56" y="26" width="1.4" height="1.4" fill="#dd6fcc"/>
<rect x="52.12" y="27.13" width="1.4" height="1.4" fill="#dd6fcc"/>
<rect x="67.08" y="28.42" width="1.4" height="1.4" fill="#dd6fcc"/>
<rect x="65.06" y="25.87" width="1.4" height="1.4" fill="#dd6fcc"/>
<rect x="60.8" y="23.33" width="1.4" height="1.4" fill="#dd6fcc"/>
<rect x="54.02" y="25.67" width="1.4" height="1.4" fill="#dd6fcc"/>
<rect x="59.8" y="31.79" width="1.4" height="1.4" fill="#dd6fcc"/>
<rect x="63.25" y="36.3" width="1.4" height="1.4" fill="#dd6fcc"/>
<rect x="55.14" y="21.16" width="1.4" height="1.4" fill="#dd6fcc"/>
<rect x="64.67" y="21.69" width="1.4" height="1.4" fill="#dd6fcc"/>
<rect x="63.61" y="31.34" width="1.4" height="1.4" fill="#dd6fcc"/>
<rect x="66.66" y="28.38" width="1.4" height="1.4" fill="#dd6fcc"/>
<rect x="59.04" y="38.05" width="1.4" height="1.4" fill="#dd6fcc"/>
<rect x="62.09" y="29.3" width="1.4" height="1.4" fill="#dd6fcc"/>
<rect x="55.01" y="30.4" width="1.4" height="1.4" fill="#dd6fcc"/>
<rect x="66.42" y="43.01" width="1.4" height="1.4" fill="#dd6fcc"/>
<rect x="53.74" y="44.1" width="1.4" height="1.4" fill="#dd6fcc"/>
<rect x="59.83" y="28.03" width="1.4" height="1.4" fill="#dd6fcc"/>
<rect x="57.23" y="23.48" width="1.4" height="1.4" fill="#dd6fcc"/>
<rect x="50.93" y="22.85" width="1.4" height="1.4" fill="#dd6fcc"/>
<rect x="48.07" y="39.27" width="1.4" height="1.4" fill="#dd6fcc"/>
<rect x="64.47" y="45.96" width="1.4" height="1.4" fill="#dd6fcc"/>
<rect x="53.64" y="41.59" width="1.4" height="1.4" fill="#dd6fcc"/>
<rect x="59.34" y="35.02" width="1.4" height="1.4" fill="#dd6fcc"/>
<rect x="61.4" y="47.67" width="1.4" height="1.4" fill="#dd6fcc"/>
<rect x="61.54" y="36.03" width="1.4" height="1.4" fill="#dd6fcc"/>
<rect x="65.17" y="43.25" width="1.4" height="1.4" fill="#dd6fcc"/>
<rect x="55.13" y="21.71" width="1.4" height="1.4" fill="#dd6fcc"/>
<rect x="58.02" y="43.39" width="1.4" height="1.4" fill="#dd6fcc"/>
<rect x="61.54" y="23.51" width="1.4" height="1.4" fill="#dd6fcc"/>
<rect x="63.73" y="39.65" width="1.4" height="1.4" fill="#dd6fcc"/>
<rect x="67.44" y="35.11" width="1.4" height="1.4" fill="#dd6fcc"/>
<rect x="52.38" y="43.98" width="1.4" height="1.4" fill="#dd6fcc"/>
<rect x="58.41" y="47.11" width="1.4" height="1.4" fill="#dd6fcc"/>
<rect x="66.22" y="26.06" width="1.4" height="1.4" fill="#dd6fcc"/>
<rect x="48.29" y="35.46" width="1.4" height="1.4" fill="#dd6fcc"/>
<rect x="60.61" y="39.76" width="1.4" height="1.4" fill="#dd6fcc"/>
<rect x="57.9" y="30.83" width="1.4" height="1.4" fill="#dd6fcc"/>
<rect x="61.86" y="50.64" width="1.4" height="1.4" fill="#dd6fcc"/>
<rect x="57.39" y="32.56" width="1.4" height="1.4" fill="#dd6fcc"/>
<rect x="67.52" y="25.91" width="1.4" height="1.4" fill="#dd6fcc"/>
<rect x="58.62" y="46.11" width="1.4" height="1.4" fill="#dd6fcc"/>
<rect x="63.61" y="43.31" width="1.4" height="1.4" fill="#dd6fcc"/>
<rect x="61.22" y="34.22" width="1.4" height="1.4" fill="#dd6fcc"/>
<rect x="67.45" y="20.55" width="1.4" height="1.4" fill="#dd6fcc"/>
<rect x="55.58" y="34.24" width="1.4" height="1.4" fill="#dd6fcc"/>
<rect x="62.02" y="29.27" width="1.4" height="1.4" fill="#dd6fcc"/>
<rect x="50.63" y="34.16" width="1.4" height="1.4" fill="#dd6fcc"/>
<rect x="60.23" y="36.62" width="1.4" height="1.4" fill="#dd6fcc"/>
<rect x="65.46" y="34.92" width="1.4" height="1.4" fill="#dd6fcc"/>
<rect x="50.79" y="40.08" width="1.4" height="1.4" fill="#dd6fcc"/>
<rect x="54.83" y="21.26" width="1.4" height="1.4" fill="#dd6fcc"/>
<rect x="55.08" y="23.88" width="1.4" height="1.4" fill="#dd6fcc"/>
<rect x="60.3" y="48.05" width="1.4" height="1.4" fill="#dd6fcc"/>
<rect x="62.35" y="49.7" width="1.4" height="1.4" fill="#dd6fcc"/>
<rect x="63.02" y="27.83" width="1.4" height="1.4" fill="#dd6fcc"/>
<rect x="56.67" y="25.78" width="1.4" height="1.4" fill="#dd6fcc"/>
<rect x="53.07" y="36.49" width="1.4" height="1.4" fill="#dd6fcc"/>
<rect x="54.81" y="32.37" width="1.4" height="1.4" fill="#dd6fcc"/>
<rect x="61.87" y="41.15" width="1.4" height="1.4" fill="#dd6fcc"/>
<rect x="48.84" y="37.9" width="1.4" height="1.4" fill="#dd6fcc"/>
<rect x="63.33" y="21.48" width="1.4" height="1.4" fill="#dd6fcc"/>
<rect x="62.66" y="21.12" width="1.4" height="1.4" fill="#dd6fcc"/>
<rect x="55.68" y="32.16" width="1.4" height="1.4" fill="#dd6fcc"/>
<rect x="46.74" y="22.77" width="1.4" height="1.4" fill="#dd6fcc"/>
<rect x="60.98" y="28.65" width="1.4" height="1.4" fill="#dd6fcc"/>
<rect x="57.67" y="25.46" width="1.4" height="1.4" fill="#dd6fcc"/>
<rect x="59.78" y="49.02" width="1.4" height="1.4" fill="#dd6fcc"/>
<rect x="62.78" y="31.68" width="1.4" height="1.4" fill="#dd6fcc"/>
<rect x="67.28" y="31.18" width="1.4" height="1.4" fill="#dd6fcc"/>
<rect x="52.4" y="33.38" width="1.4" height="1.4" fill="#dd6fcc"/>
<rect x="52.67" y="37.06" width="1.4" height="1.4" fill="#dd6fcc"/>
<rect x="60.24" y="43.64" width="1.4" height="1.4" fill="#dd6fcc"/>
<rect x="61.84" y="41.02" width="1.4" height="1.4" fill="#dd6fcc"/>
<rect x="55.32" y="33.87" width="1.4" height="1.4" fill="#dd6fcc"/>
<rect x="62.96" y="31.45" width="1.4" height="1.4" fill="#dd6fcc"/>
<rect x="57.73" y="32.67" width="1.4" height="1.4" fill="#dd6fcc"/>
<rect x="50.89" y="25.42" width="1.4" height="1.4" fill="#dd6fcc"/>
<rect x="57.86" y="45.38" width="1.4" height="1.4" fill="#dd6fcc"/>
<rect x="65.21" y="43.45" width="1.4" height="1.4" fill="#dd6fcc"/>
<rect x="63.69" y="48.04" width="1.4" height="1.4" fill="#dd6fcc"/>
<rect x="66.32" y="45.51" width="1.4" height="1.4" fill="#dd6fcc"/>
<rect x="65.92" y="31.12" width="1.4" height="1.4" fill="#dd6fcc"/>
<rect x="64.1" y="46.4" width="1.4" height="1.4" fill="#dd6fcc"/>
<rect x="62.65" y="38.01" width="1.4" height="1.4" fill="#dd6fcc"/>
<rect x="57.65" y="48.9" width="1.4" height="1.4" fill="#dd6fcc"/>
<rect x="52.58" y="40.17" width="1.4" height="1.4" fill="#dd6fcc"/>
<rect x="66.75" y="28.6" width="1.4" height="1.4" fill="#dd6fcc"/>
<rect x="49.73" y="29.97" width="1.4" height="1.4" fill="#dd6fcc"/>
<rect x="55.98" y="35.98" width="1.4" height="1.4" fill="#dd6fcc"/>
<rect x="51.41" y="27.88" width="1.4" height="1.4" fill="#dd6fcc"/>
<rect x="49.51" y="34.86" width="1.4" height="1.4" fill="#dd6fcc"/>
<rect x="49.4" y="31.26" width="1.4" height="1.4" fill="#dd6fcc"/>
<rect x="50.07" y="39.81" width="1.4" height="1.4" fill="#dd6fcc"/>
<rect x="59.88" y="27.51" width="1.4" height="1.4" fill="#dd6fcc"/>
<rect x="66.16" y="29.64" width="1.4" height="1.4" fill="#dd6fcc"/>
<rect x="58.59" y="38.5" width="1.4" height="1.4" fill="#dd6fcc"/>
<rect x="58.97" y="30.83" width="1.4" height="1.4" fill="#dd6fcc"/>
<rect x="63.62" y="39.5" width="1.4" height="1.4" fill="#dd6fcc"/>
<rect x="58.58" y="35.2" width="1.4" height="1.4" fill="#dd6fcc"/>
<rect x="52.5" y="32.94" width="1.4" height="1.4" fill="#dd6fcc"/>
<rect x="62.39" y="42.15" width="1.4" height="1.4" fill="#dd6fcc"/>
<rect x="55.62" y="38.19" width="1.4" height="1.4" fill="#dd6fcc"/>
<rect x="65.33" y="24.31" width="1.4" height="1.4" fill="#dd6fcc"/>
<rect x="48.91" y="34.74" width="1.4" height="1.4" fill="#dd6fcc"/>
<rect x="50.69" y="22.38" width="1.4" height="1.4" fill="#dd6fcc"/>
<rect x="61.9" y="37.3" width="1.4" height="1.4" fill="#dd6fcc"/>
<rect x="56.26" y="39.98" width="1.4" height="1.4" fill="#dd6fcc"/>
<rect x="52.99" y="32.58" width="1.4" height="1.4" fill="#dd6fcc"/>
<rect x="53.64" y="40.15" width="1.4" height="1.4" fill="#dd6fcc"/>
<rect x="56.34" y="38.14" width="1.4" height="1.4" fill="#dd6fcc"/>
<rect x="58.32" y="37.84" width="1.4" height="1.4" fill="#dd6fcc"/>
<rect x="66.2" y="22.62" width="1.4" height="1.4" fill="#dd6fcc"/>
<rect x="62.56" y="37.92" width="1.4" height="1.4" fill="#dd6fcc"/>
<rect x="62.52" y="20.99" width="1.4" height="1.4" fill="#dd6fcc"/>
<rect x="58.43" y="23.71" width="1.4" height="1.4" fill="#dd6fcc"/>
<rect x="63.3" y="23.49" width="1.4" height="1.4" fill="#dd6fcc"/>
<rect x="65.85" y="44.79" width="1.4" height="1.4" fill="#dd6fcc"/>
<rect x="62.15" y="46.61" width="1.4" height="1.4" fill="#dd6fcc"/>
<rect x="52.69" y="39.15" width="1.4" height="1.4" fill="#dd6fcc"/>
<rect x="50.28" y="22.03" width="1.4" height="1.4" fill="#dd6fcc"/>
<rect x="62.95" y="22.36" width="1.4" height="1.4" fill="#dd6fcc"/>
<rect x="60.39" y="49.77" width="1.4" height="1.4" fill="#dd6fcc"/>
<rect x="58.13" y="37.21" width="1.4" height="1.4" fill="#dd6fcc"/>
<rect x="62.95" y="43.17" width="1.4" height="1.4" fill="#dd6fcc"/>
<rect x="57.25" y="22.08" width="1.4" height="1.4" fill="#dd6fcc"/>
<rect x="56.77" y="40.86" width="1.4" height="1.4" fill="#dd6fcc"/>
<rect x="51.8" y="27.6" width="1.4" height="1.4" fill="#dd6fcc"/>
<rect x="58.69" y="23.6" width="1.4" height="1.4" fill="#dd6fcc"/>
<rect x="50.35" y="32.35" width="1.4" height="1.4" fill="#dd6fcc"/>
<rect x="58.79" y="29.98" width="1.4" height="1.4" fill="#dd6fcc"/>
<rect x="47.59" y="30.67" width="1.4" height="1.4" fill="#dd6fcc"/>
<rect x="61.85" y="38.31" width="1.4" height="1.4" fill="#dd6fcc"/>
<rect x="59.85" y="43.22" width="1.4" height="1.4" fill="#dd6fcc"/>
<rect x="65.49" y="23.5" width="1.4" height="1.4" fill="#dd6fcc"/>
<rect x="59.07" y="30.6" width="1.4" height="1.4" fill="#dd6fcc"/>
<rect x="47.45" y="31" width="1.4" height="1.4" fill="#dd6fcc"/>
<rect x="59.33" y="42.8" width="1.4" height="1.4" fill="#dd6fcc"/>
<rect x="65.34" y="30.11" width="1.4" height="1.4" fill="#dd6fcc"/>
<rect x="62.72" y="43.05" width="1.4" height="1.4" fill="#dd6fcc"/>
<rect x="58.53" y="22.41" width="1.4" height="1.4" fill="#dd6fcc"/>
<rect x="65.24" y="37.29" width="1.4" height="1.4" fill="#dd6fcc"/>
<rect x="56.48" y="46.5" width="1.4" height="1.4" fill="#dd6fcc"/>
<rect x="48.84" y="21.54" width="1.4" height="1.4" fill="#dd6fcc"/>
<rect x="60.87" y="42.33" width="1.4" height="1.4" fill="#dd6fcc"/>
<rect x="57.9" y="37.53" width="1.4" height="1.4" fill="#dd6fcc"/>
<rect x="63.2" y="45.67" width="1.4" height="1.4" fill="#dd6fcc"/>
<rect x="60.49" y="42.85" width="1.4" height="1.4" fill="#dd6fcc"/>
<rect x="57.45" y="25.54" width="1.4" height="1.4" fill="#dd6fcc"/>
<rect x="63.82" y="21.95" width="1.4" height="1.4" fill="#dd6fcc"/>
<rect x="49.99" y="37.92" width="1.4" height="1.4" fill="#dd6fcc"/>
<rect x="54.35" y="47.6" width="1.4" height="1.4" fill="#dd6fcc"/>
<rect x="52.88" y="35.49" width="1.4" height="1.4" fill="#dd6fcc"/>
<rect x="54.2" y="42.37" width="1.4" height="1.4" fill="#dd6fcc"/>
<rect x="62.41" y="34.22" width="1.4" height="1.4" fill="#dd6fcc"/>
<rect x="49.75" y="33.6" width="1.4" height="1.4" fill="#dd6fcc"/>
<rect x="56.03" y="33.46" width="1.4" height="1.4" fill="#dd6fcc"/>
<rect x="59.2" y="41.12" width="1.4" height="1.4" fill="#dd6fcc"/>
<rect x="61.14" y="22.52" width="1.4" height="1.4" fill="#dd6fcc"/>
<rect x="54.42" y="26.28" width="1.4" height="1.4" fill="#dd6fcc"/>
<rect x="61.31" y="36.37" width="1.4" height="1.4" fill="#dd6fcc"/>
<rect x="53.52" y="26.32" width="1.4" height="1.4" fill="#dd6fcc"/>
<rect x="59.54" y="47.63" width="1.4" height="1.4" fill="#dd6fcc"/>
<rect x="57.11" y="36.27" width="1.4" height="1.4" fill="#dd6fcc"/>
<rect x="67" y="28.4" width="1.4" height="1.4" fill="#dd6fcc"/>
<rect x="54.02" y="47.41" width="1.4" height="1.4" fill="#dd6fcc"/>
<rect x="48.05" y="21.62" width="1.4" height="1.4" fill="#dd6fcc"/>
<rect x="60.82" y="35.19" width="1.4" height="1.4" fill="#dd6fcc"/>
<rect x="66.16" y="37.87" width="1.4" height="1.4" fill="#dd6fcc"/>
<rect x="52.39" y="40.71" width="1.4" height="1.4" fill="#dd6fcc"/>
<rect x="56.03" y="39.65" width="1.4" height="1.4" fill="#dd6fcc"/>
<rect x="50.62" y="22.45" width="1.4" height="1.4" fill="#dd6fcc"/>
<rect x="49.6" y="23.75" width="1.4" height="1.4" fill="#dd6fcc"/>
<rect x="64.44" y="42.11" width="1.4" height="1.4" fill="#dd6fcc"/>
<rect x="56.13" y="46.38" width="1.4" height="1.4" fill="#dd6fcc"/>
<rect x="64.19" y="45.62" width="1.4" height="1.4" fill="#dd6fcc"/>
<rect x="66.32" y="45.18" width="1.4" height="1.4" fill="#dd6fcc"/>
<rect x="64.34" y="39" width="1.4" height="1.4" fill="#dd6fcc"/>
<rect x="55.87" y="41.46" width="1.4" height="1.4" fill="#dd6fcc"/>
<rect x="52.79" y="41.52" width="1.4" height="1.4" fill="#dd6fcc"/>
<rect x="67.37" y="21.66" width="1.4" height="1.4" fill="#dd6fcc"/>
<rect x="54.85" y="45.08" width="1.4" height="1.4" fill="#dd6fcc"/>
<rect x="50.24" y="31.22" width="1.4" height="1.4" fill="#dd6fcc"/>
<rect x="64.19" y="37.93" width="1.4" height="1.4" fill="#dd6fcc"/>
<rect x="52.05" y="32.72" width="1.4" height="1.4" fill="#dd6fcc"/>
<rect x="54.28" y="36.04" width="1.4" height="1.4" fill="#dd6fcc"/>
<rect x="56.98" y="40.21" width="1.4" height="1.4" fill="#dd6fcc"/>
<rect x="65.3" y="23.57" width="1.4" height="1.4" fill="#dd6fcc"/>
<rect x="72.13" y="34.24" width="1.5" height="1.5" fill="#dd6fcc"/>
<rect x="72.84" y="48.1" width="1.5" height="1.5" fill="#dd6fcc"/>
<rect x="80.79" y="43.98" width="1.5" height="1.5" fill="#dd6fcc"/>
<rect x="76.19" y="45.06" width="1.5" height="1.5" fill="#dd6fcc"/>
<rect x="74.57" y="41.12" width="1.5" height="1.5" fill="#dd6fcc"/>
<rect x="74.35" y="46.09" width="1.5" height="1.5" fill="#dd6fcc"/>
<rect x="72.88" y="37.59" width="1.5" height="1.5" fill="#dd6fcc"/>
<rect x="73.62" y="37.42" width="1.5" height="1.5" fill="#dd6fcc"/>
<rect x="75.45" y="39.75" width="1.5" height="1.5" fill="#dd6fcc"/>
<rect x="74.86" y="39.13" width="1.5" height="1.5" fill="#dd6fcc"/>
<rect x="80.38" y="46.65" width="1.5" height="1.5" fill="#dd6fcc"/>
<rect x="78.93" y="40.39" width="1.5" height="1.5" fill="#dd6fcc"/>
<rect x="76.52" y="41.39" width="1.5" height="1.5" fill="#dd6fcc"/>
<rect x="76.2" y="44.53" width="1.5" height="1.5" fill="#dd6fcc"/>
<rect x="77.96" y="44.97" width="1.5" height="1.5" fill="#dd6fcc"/>
<rect x="76.16" y="45.81" width="1.5" height="1.5" fill="#dd6fcc"/>
<rect x="77.96" y="46.59" width="1.5" height="1.5" fill="#dd6fcc"/>
<rect x="75.34" y="43.72" width="1.5" height="1.5" fill="#dd6fcc"/>
<rect x="78.58" y="39.64" width="1.5" height="1.5" fill="#dd6fcc"/>
<rect x="77.12" y="47.54" width="1.5" height="1.5" fill="#dd6fcc"/>
<rect x="72.65" y="36.51" width="1.5" height="1.5" fill="#dd6fcc"/>
<rect x="73.64" y="34.34" width="1.5" height="1.5" fill="#dd6fcc"/>
<rect x="77.18" y="42.16" width="1.5" height="1.5" fill="#dd6fcc"/>
<rect x="71.59" y="40.02" width="1.5" height="1.5" fill="#dd6fcc"/>
<rect x="81.57" y="46.03" width="1.5" height="1.5" fill="#dd6fcc"/>
<rect x="81.37" y="42.52" width="1.5" height="1.5" fill="#dd6fcc"/>
<rect x="78.5" y="43.63" width="1.5" height="1.5" fill="#dd6fcc"/>
<rect x="76.68" y="39.05" width="1.5" height="1.5" fill="#dd6fcc"/>
<rect x="73.28" y="41.77" width="1.5" height="1.5" fill="#dd6fcc"/>
<rect x="75.5" y="40.71" width="1.5" height="1.5" fill="#dd6fcc"/>
<rect x="77.99" y="43.19" width="1.5" height="1.5" fill="#dd6fcc"/>
<rect x="70.24" y="35.16" width="1.5" height="1.5" fill="#dd6fcc"/>
<rect x="73.93" y="45.92" width="1.5" height="1.5" fill="#dd6fcc"/>
<rect x="75.48" y="42.1" width="1.5" height="1.5" fill="#dd6fcc"/>
<rect x="72.47" y="45.47" width="1.5" height="1.5" fill="#dd6fcc"/>
<rect x="72.95" y="39.7" width="1.5" height="1.5" fill="#dd6fcc"/>
<rect x="70.42" y="42.87" width="1.5" height="1.5" fill="#dd6fcc"/>
<rect x="80.57" y="46.85" width="1.5" height="1.5" fill="#dd6fcc"/>
<rect x="70.66" y="45.28" width="1.5" height="1.5" fill="#dd6fcc"/>
<rect x="79.35" y="42.35" width="1.5" height="1.5" fill="#dd6fcc"/>
<rect x="72.72" y="40.29" width="1.5" height="1.5" fill="#dd6fcc"/>
<rect x="81.41" y="42.52" width="1.5" height="1.5" fill="#dd6fcc"/>
<rect x="81.53" y="46.33" width="1.5" height="1.5" fill="#dd6fcc"/>
<rect x="77.19" y="46.39" width="1.5" height="1.5" fill="#dd6fcc"/>
<rect x="76.3" y="45.54" width="1.5" height="1.5" fill="#dd6fcc"/>
<rect x="81.99" y="45.26" width="1.5" height="1.5" fill="#dd6fcc"/>
<rect x="78.59" y="45.34" width="1.5" height="1.5" fill="#dd6fcc"/>
<rect x="72.79" y="42.7" width="1.5" height="1.5" fill="#dd6fcc"/>
<rect x="80.95" y="43.49" width="1.5" height="1.5" fill="#dd6fcc"/>
<rect x="74.64" y="44.77" width="1.5" height="1.5" fill="#dd6fcc"/>
<rect x="72.72" y="37.93" width="1.5" height="1.5" fill="#dd6fcc"/>
<rect x="70.53" y="33.53" width="1.5" height="1.5" fill="#dd6fcc"/>
<rect x="79.66" y="43.53" width="1.5" height="1.5" fill="#dd6fcc"/>
<rect x="80.56" y="48.32" width="1.5" height="1.5" fill="#dd6fcc"/>
<rect x="72.18" y="44.87" width="1.5" height="1.5" fill="#dd6fcc"/>
<rect x="73.24" y="43.73" width="1.5" height="1.5" fill="#dd6fcc"/>
<rect x="70.63" y="45.43" width="1.5" height="1.5" fill="#dd6fcc"/>
<rect x="72.48" y="43.38" width="1.5" height="1.5" fill="#dd6fcc"/>
<rect x="75.49" y="43.51" width="1.5" height="1.5" fill="#dd6fcc"/>
<rect x="73.64" y="36.27" width="1.5" height="1.5" fill="#dd6fcc"/>
<rect x="73.97" y="44.39" width="1.5" height="1.5" fill="#dd6fcc"/>
<rect x="73.4" y="37.03" width="1.5" height="1.5" fill="#dd6fcc"/>
<rect x="77.74" y="40.87" width="1.5" height="1.5" fill="#dd6fcc"/>
<rect x="75.28" y="39.96" width="1.5" height="1.5" fill="#dd6fcc"/>
<rect x="71.71" y="41.79" width="1.5" height="1.5" fill="#dd6fcc"/>
<rect x="71.72" y="38.55" width="1.5" height="1.5" fill="#dd6fcc"/>
<rect x="71.53" y="38.11" width="1.5" height="1.5" fill="#dd6fcc"/>
<rect x="71.05" y="41.82" width="1.5" height="1.5" fill="#dd6fcc"/>
<rect x="77.19" y="48.55" width="1.5" height="1.5" fill="#dd6fcc"/>
<rect x="74.85" y="44.89" width="1.5" height="1.5" fill="#dd6fcc"/>
<rect x="73.08" y="43.18" width="1.5" height="1.5" fill="#dd6fcc"/>
<rect x="71.3" y="42.06" width="1.5" height="1.5" fill="#dd6fcc"/>
<rect x="79.23" y="40.69" width="1.5" height="1.5" fill="#dd6fcc"/>
<rect x="73.4" y="41.88" width="1.5" height="1.5" fill="#dd6fcc"/>
<rect x="78.91" y="41.35" width="1.5" height="1.5" fill="#dd6fcc"/>
<rect x="73.94" y="35.75" width="1.5" height="1.5" fill="#dd6fcc"/>
<rect x="73.36" y="47.48" width="1.5" height="1.5" fill="#dd6fcc"/>
<rect x="72.53" y="42.12" width="1.5" height="1.5" fill="#dd6fcc"/>
<rect x="79.18" y="49" width="1.5" height="1.5" fill="#dd6fcc"/>
<rect x="73.62" y="42" width="1.5" height="1.5" fill="#dd6fcc"/>
<rect x="81.57" y="45.09" width="1.5" height="1.5" fill="#dd6fcc"/>
<rect x="73.44" y="34.22" width="1.5" height="1.5" fill="#dd6fcc"/>
<rect x="78.79" y="40.5" width="1.5" height="1.5" fill="#dd6fcc"/>
<rect x="73.85" y="46.29" width="1.5" height="1.5" fill="#dd6fcc"/>
<rect x="73.71" y="45.37" width="1.5" height="1.5" fill="#dd6fcc"/>
<rect x="79.2" y="45.81" width="1.5" height="1.5" fill="#dd6fcc"/>
<rect x="72.95" y="40.49" width="1.5" height="1.5" fill="#dd6fcc"/>
<rect x="71.09" y="32.69" width="1.5" height="1.5" fill="#dd6fcc"/>
<rect x="77.6" y="40.4" width="1.5" height="1.5" fill="#dd6fcc"/>
<rect x="78.64" y="48.35" width="1.5" height="1.5" fill="#dd6fcc"/>
<rect x="76.93" y="39.32" width="1.5" height="1.5" fill="#dd6fcc"/>
<rect x="80.59" y="44.02" width="1.5" height="1.5" fill="#dd6fcc"/>
<rect x="70.69" y="36.53" width="1.5" height="1.5" fill="#dd6fcc"/>
<rect x="80.8" y="48.46" width="1.5" height="1.5" fill="#dd6fcc"/>
<rect x="74.62" y="38.21" width="1.5" height="1.5" fill="#dd6fcc"/>
<rect x="81.93" y="43.25" width="1.5" height="1.5" fill="#dd6fcc"/>
<rect x="76.18" y="36.47" width="1.5" height="1.5" fill="#dd6fcc"/>
<rect x="76.98" y="42.58" width="1.5" height="1.5" fill="#dd6fcc"/>
<rect x="78.77" y="44.72" width="1.5" height="1.5" fill="#dd6fcc"/>
<rect x="75.76" y="38.7" width="1.5" height="1.5" fill="#dd6fcc"/>
<rect x="73.82" y="36.72" width="1.5" height="1.5" fill="#dd6fcc"/>
<rect x="73.79" y="48.48" width="1.5" height="1.5" fill="#dd6fcc"/>
<rect x="80.62" y="49.21" width="1.5" height="1.5" fill="#dd6fcc"/>
<rect x="74.19" y="39.63" width="1.5" height="1.5" fill="#dd6fcc"/>
<rect x="70.63" y="43" width="1.5" height="1.5" fill="#dd6fcc"/>
<rect x="75.39" y="38.26" width="1.5" height="1.5" fill="#dd6fcc"/>
<rect x="78.15" y="45.08" width="1.5" height="1.5" fill="#dd6fcc"/>
<rect x="78.31" y="46.11" width="1.5" height="1.5" fill="#dd6fcc"/>
<rect x="76.87" y="48.64" width="1.5" height="1.5" fill="#dd6fcc"/>
<rect x="72.27" y="43.28" width="1.5" height="1.5" fill="#dd6fcc"/>
<rect x="37.3" y="33.73" width="1.3" height="1.3" fill="#279e68"/>
<rect x="39.62" y="28.82" width="1.3" height="1.3" fill="#279e68"/>
<rect x="41.95" y="42.3" width="1.3" height="1.3" fill="#279e68"/>
<rect x="35.8" y="41.08" width="1.3" height="1.3" fill="#279e68"/>
<rect x="40.28" y="35.34" width="1.3" height="1.3" fill="#279e68"/>
<rect x="36.17" y="37.09" width="1.3" height="1.3" fill="#279e68"/>
<rect x="37.57" y="39.17" width="1.3" height="1.3" fill="#279e68"/>
<rect x="38.25" y="31.03" width="1.3" height="1.3" fill="#279e68"/>
<rect x="39.74" y="45.26" width="1.3" height="1.3" fill="#279e68"/>
<rect x="40.7" y="40.19" width="1.3" height="1.3" fill="#279e68"/>
<rect x="39.47" y="43.67" width="1.3" height="1.3" fill="#279e68"/>
<rect x="35.43" y="34.24" width="1.3" height="1.3" fill="#279e68"/>
<rect x="35.7" y="31.43" width="1.3" height="1.3" fill="#279e68"/>
<rect x="38.79" y="33.24" width="1.3" height="1.3" fill="#279e68"/>
<rect x="36.52" y="30.69" width="1.3" height="1.3" fill="#279e68"/>
<rect x="41.13" y="31.68" width="1.3" height="1.3" fill="#279e68"/>
<rect x="37.91" y="40.78" width="1.3" height="1.3" fill="#279e68"/>
<rect x="38.15" y="37.46" width="1.3" height="1.3" fill="#279e68"/>
<rect x="40.39" y="28.91" width="1.3" height="1.3" fill="#279e68"/>
<rect x="35.51" y="31.19" width="1.3" height="1.3" fill="#279e68"/>
<rect x="34.28" y="37.85" width="1.3" height="1.3" fill="#279e68"/>
<rect x="40.07" y="37.74" width="1.3" height="1.3" fill="#279e68"/>
<rect x="40.24" y="41.86" width="1.3" height="1.3" fill="#279e68"/>
<rect x="32.62" y="30.03" width="1.3" height="1.3" fill="#279e68"/>
<rect x="34.44" y="31.87" width="1.3" height="1.3" fill="#279e68"/>
<rect x="33.24" y="33.26" width="1.3" height="1.3" fill="#279e68"/>
<rect x="36.79" y="35.84" width="1.3" height="1.3" fill="#279e68"/>
<rect x="33.81" y="38.02" width="1.3" height="1.3" fill="#279e68"/>
<rect x="38.9" y="32.92" width="1.3" height="1.3" fill="#279e68"/>
<rect x="40.33" y="39.51" width="1.3" height="1.3" fill="#279e68"/>
<rect x="39.82" y="32.5" width="1.3" height="1.3" fill="#ff7f0e"/>
<rect x="36.83" y="37.01" width="1.3" height="1.3" fill="#ff7f0e"/>
<rect x="35.9" y="33.32" width="1.3" height="1.3" fill="#ff7f0e"/>
<rect x="35.97" y="30.54" width="1.3" height="1.3" fill="#ff7f0e"/>
<rect x="40.14" y="30.26" width="1.3" height="1.3" fill="#ff7f0e"/>
<rect x="37.72" y="34.19" width="1.3" height="1.3" fill="#ff7f0e"/>
<rect x="39.58" y="37.51" width="1.3" height="1.3" fill="#ff7f0e"/>
<rect x="38.71" y="33.89" width="1.3" height="1.3" fill="#ff7f0e"/>
<rect x="39.82" y="31.67" width="1.3" height="1.3" fill="#ff7f0e"/>
<rect x="38.22" y="32.51" width="1.3" height="1.3" fill="#ff7f0e"/>
<rect x="39.97" y="30.67" width="1.3" height="1.3" fill="#ff7f0e"/>
<rect x="37.99" y="32.19" width="1.3" height="1.3" fill="#ff7f0e"/>
<rect x="40.09" y="31.52" width="1.3" height="1.3" fill="#ff7f0e"/>
<rect x="38.76" y="30.26" width="1.3" height="1.3" fill="#ff7f0e"/>
<rect x="35.85" y="32.94" width="1.3" height="1.3" fill="#ff7f0e"/>
<rect x="38.22" y="36.02" width="1.3" height="1.3" fill="#ff7f0e"/>
<rect x="37.11" y="31.21" width="1.3" height="1.3" fill="#ff7f0e"/>
<rect x="36.4" y="31.1" width="1.3" height="1.3" fill="#ff7f0e"/>
<rect x="39.52" y="33.39" width="1.3" height="1.3" fill="#ff7f0e"/>
<rect x="37.16" y="35.51" width="1.3" height="1.3" fill="#ff7f0e"/>
<rect x="39.87" y="63.52" width="1.3" height="1.3" fill="#279e68"/>
<rect x="34.78" y="65.09" width="1.3" height="1.3" fill="#279e68"/>
<rect x="32.08" y="60.11" width="1.3" height="1.3" fill="#279e68"/>
<rect x="35.56" y="55.58" width="1.3" height="1.3" fill="#279e68"/>
<rect x="47.61" y="68.54" width="1.3" height="1.3" fill="#279e68"/>
<rect x="38.27" y="67.48" width="1.3" height="1.3" fill="#279e68"/>
<rect x="41.3" y="66.41" width="1.3" height="1.3" fill="#279e68"/>
<rect x="45.54" y="69.78" width="1.3" height="1.3" fill="#279e68"/>
<rect x="40.06" y="57.32" width="1.3" height="1.3" fill="#279e68"/>
<rect x="37.48" y="63.59" width="1.3" height="1.3" fill="#279e68"/>
<rect x="37.62" y="69.75" width="1.3" height="1.3" fill="#279e68"/>
<rect x="45.4" y="68.37" width="1.3" height="1.3" fill="#279e68"/>
<rect x="41.13" y="66.12" width="1.3" height="1.3" fill="#279e68"/>
<rect x="40.12" y="56.77" width="1.3" height="1.3" fill="#279e68"/>
<rect x="40.34" y="70.19" width="1.3" height="1.3" fill="#279e68"/>
<rect x="44.76" y="64.22" width="1.3" height="1.3" fill="#279e68"/>
<rect x="46.46" y="68.41" width="1.3" height="1.3" fill="#279e68"/>
<rect x="35.96" y="56.7" width="1.3" height="1.3" fill="#279e68"/>
<rect x="35.07" y="67.77" width="1.3" height="1.3" fill="#279e68"/>
<rect x="30.71" y="61.31" width="1.3" height="1.3" fill="#279e68"/>
<rect x="32.87" y="64.63" width="1.3" height="1.3" fill="#279e68"/>
<rect x="30.57" y="58.31" width="1.3" height="1.3" fill="#279e68"/>
<rect x="32.22" y="64.15" width="1.3" height="1.3" fill="#279e68"/>
<rect x="33.96" y="56.77" width="1.3" height="1.3" fill="#279e68"/>
<rect x="36.51" y="59.2" width="1.3" height="1.3" fill="#279e68"/>
<rect x="39.34" y="67.88" width="1.3" height="1.3" fill="#279e68"/>
<rect x="34.76" y="60.65" width="1.3" height="1.3" fill="#279e68"/>
<rect x="44.59" y="66.07" width="1.3" height="1.3" fill="#279e68"/>
<rect x="31.11" y="64.63" width="1.3" height="1.3" fill="#279e68"/>
<rect x="43.81" y="66.46" width="1.3" height="1.3" fill="#279e68"/>
<rect x="39.79" y="64.66" width="1.3" height="1.3" fill="#279e68"/>
<rect x="47.58" y="70.05" width="1.3" height="1.3" fill="#279e68"/>
<rect x="44.48" y="61.75" width="1.3" height="1.3" fill="#279e68"/>
<rect x="35.59" y="55.54" width="1.3" height="1.3" fill="#279e68"/>
<rect x="37.9" y="60.83" width="1.3" height="1.3" fill="#279e68"/>
<rect x="41.69" y="63.18" width="1.3" height="1.3" fill="#279e68"/>
<rect x="40.15" y="66.83" width="1.3" height="1.3" fill="#279e68"/>
<rect x="47.55" y="60.7" width="1.3" height="1.3" fill="#279e68"/>
<rect x="26.14" y="59.92" width="1.3" height="1.3" fill="#279e68"/>
<rect x="26.35" y="56.06" width="1.3" height="1.3" fill="#279e68"/>
<rect x="26.71" y="59.13" width="1.3" height="1.3" fill="#279e68"/>
<rect x="38.87" y="56.89" width="1.3" height="1.3" fill="#279e68"/>
<rect x="38.06" y="61.25" width="1.3" height="1.3" fill="#279e68"/>
<rect x="41.78" y="70.25" width="1.3" height="1.3" fill="#279e68"/>
<rect x="45.95" y="61.96" width="1.3" height="1.3" fill="#279e68"/>
<rect x="42.29" y="67.17" width="1.3" height="1.3" fill="#279e68"/>
<rect x="32.96" y="58.3" width="1.3" height="1.3" fill="#279e68"/>
<rect x="40.88" y="55.71" width="1.3" height="1.3" fill="#279e68"/>
<rect x="37.73" y="61.56" width="1.3" height="1.3" fill="#279e68"/>
<rect x="36.7" y="58.38" width="1.3" height="1.3" fill="#279e68"/>
<rect x="29.51" y="61.79" width="1.3" height="1.3" fill="#279e68"/>
<rect x="42.04" y="69.73" width="1.3" height="1.3" fill="#279e68"/>
<rect x="26.93" y="61.02" width="1.3" height="1.3" fill="#279e68"/>
<rect x="42.75" y="63.88" width="1.3" height="1.3" fill="#279e68"/>
<rect x="45.51" y="61.77" width="1.3" height="1.3" fill="#279e68"/>
<rect x="41.2" y="59.5" width="7.5" height="7" fill="#fb9a99"/>
<rect x="47.59" y="74.88" width="1.3" height="1.3" fill="#ff7f0e"/>
<rect x="45.94" y="66.39" width="1.3" height="1.3" fill="#ff7f0e"/>
<rect x="41.49" y="66.4" width="1.3" height="1.3" fill="#ff7f0e"/>
<rect x="46.78" y="75.82" width="1.3" height="1.3" fill="#ff7f0e"/>
<rect x="42.77" y="69.74" width="1.3" height="1.3" fill="#ff7f0e"/>
<rect x="47.82" y="74.09" width="1.3" height="1.3" fill="#ff7f0e"/>
<rect x="44.18" y="75.28" width="1.3" height="1.3" fill="#ff7f0e"/>
<rect x="49.96" y="74.73" width="1.3" height="1.3" fill="#ff7f0e"/>
<rect x="47.13" y="68.47" width="1.3" height="1.3" fill="#ff7f0e"/>
<rect x="48.73" y="68.87" width="1.3" height="1.3" fill="#ff7f0e"/>
<rect x="50.67" y="75.32" width="1.3" height="1.3" fill="#ff7f0e"/>
<rect x="41.92" y="68.35" width="1.3" height="1.3" fill="#ff7f0e"/>
<rect x="44.64" y="75.13" width="1.3" height="1.3" fill="#ff7f0e"/>
<rect x="48.09" y="72.59" width="1.3" height="1.3" fill="#ff7f0e"/>
<rect x="48.31" y="70.54" width="1.3" height="1.3" fill="#ff7f0e"/>
<rect x="43.79" y="66.63" width="1.3" height="1.3" fill="#ff7f0e"/>
<rect x="48.48" y="69.33" width="1.3" height="1.3" fill="#ff7f0e"/>
<rect x="45.1" y="67.34" width="1.3" height="1.3" fill="#ff7f0e"/>
<rect x="43.39" y="68.25" width="1.3" height="1.3" fill="#ff7f0e"/>
<rect x="45.45" y="73.69" width="1.3" height="1.3" fill="#ff7f0e"/>
<rect x="47.3" y="65.77" width="1.3" height="1.3" fill="#ff7f0e"/>
<rect x="49.16" y="68.32" width="1.3" height="1.3" fill="#ff7f0e"/>
<rect x="48.79" y="69.39" width="1.3" height="1.3" fill="#ff7f0e"/>
<rect x="41.92" y="66.55" width="1.3" height="1.3" fill="#ff7f0e"/>
<rect x="46.12" y="74.76" width="1.3" height="1.3" fill="#ff7f0e"/>
<rect x="44.28" y="74.96" width="1.3" height="1.3" fill="#ff7f0e"/>
<rect x="44.14" y="66.85" width="1.3" height="1.3" fill="#ff7f0e"/>
<rect x="49.03" y="65.6" width="1.3" height="1.3" fill="#ff7f0e"/>
<rect x="45.67" y="72.42" width="1.3" height="1.3" fill="#ff7f0e"/>
<rect x="45.97" y="71.45" width="1.3" height="1.3" fill="#ff7f0e"/>
<rect x="30.17" y="56.72" width="1.3" height="1.3" fill="#ff7f0e"/>
<rect x="26.24" y="56.11" width="1.3" height="1.3" fill="#ff7f0e"/>
<rect x="25.84" y="58.11" width="1.3" height="1.3" fill="#ff7f0e"/>
<rect x="28.95" y="57.1" width="1.3" height="1.3" fill="#ff7f0e"/>
<rect x="30.35" y="59.36" width="1.3" height="1.3" fill="#ff7f0e"/>
<rect x="29.48" y="60.45" width="1.3" height="1.3" fill="#ff7f0e"/>
<rect x="30.33" y="58.41" width="1.3" height="1.3" fill="#ff7f0e"/>
<rect x="32.49" y="61.61" width="1.3" height="1.3" fill="#ff7f0e"/>
<rect x="26.68" y="56.21" width="1.3" height="1.3" fill="#ff7f0e"/>
<rect x="29.53" y="58.34" width="1.3" height="1.3" fill="#ff7f0e"/>
<rect x="84.98" y="25.8" width="1.3" height="1.3" fill="#ff7f0e"/>
<rect x="85.79" y="25.94" width="1.3" height="1.3" fill="#ff7f0e"/>
<rect x="84.64" y="21.3" width="1.3" height="1.3" fill="#ff7f0e"/>
<rect x="83.45" y="26.12" width="1.3" height="1.3" fill="#ff7f0e"/>
<rect x="84.59" y="26.27" width="1.3" height="1.3" fill="#ff7f0e"/>
<rect x="84.06" y="27.68" width="1.3" height="1.3" fill="#ff7f0e"/>
<rect x="84.68" y="27.67" width="1.3" height="1.3" fill="#ff7f0e"/>
<rect x="86.07" y="21.59" width="1.3" height="1.3" fill="#ff7f0e"/>
<rect x="86.43" y="21.95" width="1.3" height="1.3" fill="#ff7f0e"/>
<rect x="84.49" y="27.27" width="1.3" height="1.3" fill="#ff7f0e"/>
<rect x="81.9" y="25.54" width="1.3" height="1.3" fill="#ff7f0e"/>
<rect x="83.9" y="26.78" width="1.3" height="1.3" fill="#ff7f0e"/>
<rect x="85.56" y="22.49" width="1.3" height="1.3" fill="#ff7f0e"/>
<rect x="81" y="26.59" width="1.3" height="1.3" fill="#ff7f0e"/>
<rect x="50.07" y="26.27" width="1.3" height="1.3" fill="#ff7f0e"/>
<rect x="48.11" y="23.92" width="1.3" height="1.3" fill="#ff7f0e"/>
<rect x="62.21" y="21.18" width="1.3" height="1.3" fill="#ff7f0e"/>
<rect x="56.24" y="23.88" width="1.3" height="1.3" fill="#ff7f0e"/>
<rect x="53.89" y="24.25" width="1.3" height="1.3" fill="#ff7f0e"/>
<rect x="51.38" y="20.96" width="1.3" height="1.3" fill="#ff7f0e"/>
<rect x="51.49" y="25.41" width="1.3" height="1.3" fill="#ff7f0e"/>
<rect x="63.68" y="22.22" width="1.3" height="1.3" fill="#ff7f0e"/>
<rect x="48.94" y="22.89" width="1.3" height="1.3" fill="#ff7f0e"/>
<rect x="59.49" y="26.97" width="1.3" height="1.3" fill="#ff7f0e"/>
<rect x="54.37" y="23.48" width="1.3" height="1.3" fill="#ff7f0e"/>
<rect x="62.11" y="21.26" width="1.3" height="1.3" fill="#ff7f0e"/>
<rect x="64.39" y="26.56" width="1.3" height="1.3" fill="#ff7f0e"/>
<rect x="63.29" y="23.07" width="1.3" height="1.3" fill="#ff7f0e"/>
<rect x="61.75" y="24.84" width="1.3" height="1.3" fill="#ff7f0e"/>
<rect x="62.14" y="22.44" width="1.3" height="1.3" fill="#ff7f0e"/>
<rect x="63.48" y="25.29" width="1.3" height="1.3" fill="#ff7f0e"/>
<rect x="56.12" y="25.55" width="1.3" height="1.3" fill="#ff7f0e"/>
<rect x="54.61" y="26.18" width="1.3" height="1.3" fill="#ff7f0e"/>
<rect x="62.74" y="24.65" width="1.3" height="1.3" fill="#ff7f0e"/>
<rect x="58.62" y="23.61" width="1.3" height="1.3" fill="#ff7f0e"/>
<rect x="59.75" y="23.86" width="1.3" height="1.3" fill="#ff7f0e"/>
<rect x="55.14" y="22.06" width="1.3" height="1.3" fill="#ff7f0e"/>
<rect x="57.86" y="24.06" width="1.3" height="1.3" fill="#ff7f0e"/>
<rect x="56.24" y="20.5" width="1.3" height="1.3" fill="#ff7f0e"/>
<rect x="48.6" y="26.34" width="1.3" height="1.3" fill="#ff7f0e"/>
<rect x="64.9" y="22.56" width="1.3" height="1.3" fill="#ff7f0e"/>
<rect x="63.15" y="25.04" width="1.3" height="1.3" fill="#ff7f0e"/>
<rect x="50.42" y="23.19" width="1.3" height="1.3" fill="#ff7f0e"/>
<rect x="49.33" y="22.75" width="1.3" height="1.3" fill="#ff7f0e"/>
<rect x="37.6" y="49.26" width="1.3" height="1.3" fill="#fb9a99"/>
<rect x="39.16" y="48.04" width="1.3" height="1.3" fill="#fb9a99"/>
<rect x="37.47" y="50.5" width="1.3" height="1.3" fill="#fb9a99"/>
<rect x="37.12" y="49.95" width="1.3" height="1.3" fill="#fb9a99"/>
<rect x="36.58" y="45.16" width="1.3" height="1.3" fill="#fb9a99"/>
<rect x="38.55" y="46.78" width="1.3" height="1.3" fill="#fb9a99"/>
<rect x="37.81" y="45.51" width="1.3" height="1.3" fill="#fb9a99"/>
<rect x="39.43" y="48.3" width="1.3" height="1.3" fill="#fb9a99"/>
<rect x="35.45" y="44.67" width="1.3" height="1.3" fill="#fb9a99"/>
<rect x="35.98" y="43.97" width="1.3" height="1.3" fill="#fb9a99"/>
<rect x="54.24" y="28.34" width="1.3" height="1.3" fill="#dd6fcc"/>
<rect x="69.32" y="95.72" width="1.3" height="1.3" fill="#dd6fcc"/>
<rect x="47.64" y="39.76" width="1.3" height="1.3" fill="#dd6fcc"/>
<rect x="90.65" y="32.57" width="1.3" height="1.3" fill="#dd6fcc"/>
<rect x="54.96" y="61.96" width="1.3" height="1.3" fill="#dd6fcc"/>
<rect x="29.52" y="85.29" width="1.3" height="1.3" fill="#dd6fcc"/>
<rect x="69.15" y="91.89" width="1.3" height="1.3" fill="#dd6fcc"/>
<rect x="46.14" y="99.4" width="1.3" height="1.3" fill="#dd6fcc"/>
<rect x="72.36" y="88.11" width="1.3" height="1.3" fill="#dd6fcc"/>
<rect x="60.64" y="79.67" width="1.3" height="1.3" fill="#dd6fcc"/>
<rect x="59.62" y="53.4" width="1.3" height="1.3" fill="#dd6fcc"/>
<rect x="44.45" y="34.85" width="1.3" height="1.3" fill="#dd6fcc"/>
<rect x="92.57" y="41.2" width="1.3" height="1.3" fill="#dd6fcc"/>
<rect x="85.13" y="75.98" width="1.3" height="1.3" fill="#dd6fcc"/>
<rect x="50.65" y="53.62" width="1.3" height="1.3" fill="#dd6fcc"/>
<rect x="67.67" y="55.66" width="1.3" height="1.3" fill="#dd6fcc"/>
<rect x="86.98" y="24.53" width="1.3" height="1.3" fill="#dd6fcc"/>
<rect x="34.66" y="58.06" width="1.3" height="1.3" fill="#dd6fcc"/>
<rect x="90.87" y="51.85" width="1.3" height="1.3" fill="#dd6fcc"/>
<rect x="52.22" y="91.7" width="1.3" height="1.3" fill="#dd6fcc"/>
<rect x="72.33" y="91.22" width="1.3" height="1.3" fill="#dd6fcc"/>
<rect x="48.54" y="39.31" width="1.3" height="1.3" fill="#dd6fcc"/>
<rect x="84.26" y="42.79" width="1.3" height="1.3" fill="#dd6fcc"/>
<rect x="77.25" y="94.62" width="1.3" height="1.3" fill="#dd6fcc"/>
<rect x="48.26" y="70.12" width="1.3" height="1.3" fill="#dd6fcc"/>
<rect x="43.88" y="76.16" width="1.3" height="1.3" fill="#dd6fcc"/>
<rect x="31.8" y="51.83" width="1.3" height="1.3" fill="#dd6fcc"/>
<rect x="67.29" y="82.43" width="1.3" height="1.3" fill="#dd6fcc"/>
<rect x="66.67" y="73.11" width="1.3" height="1.3" fill="#dd6fcc"/>
<rect x="67.65" y="23.02" width="1.3" height="1.3" fill="#dd6fcc"/>
<rect x="82.51" y="110.88" width="1.3" height="1.3" fill="#dd6fcc"/>
<rect x="76.57" y="102.2" width="1.3" height="1.3" fill="#dd6fcc"/>
<rect x="93.15" y="38.53" width="1.3" height="1.3" fill="#dd6fcc"/>
<rect x="45.43" y="102.28" width="1.3" height="1.3" fill="#dd6fcc"/>
<rect x="44.75" y="60.38" width="1.3" height="1.3" fill="#dd6fcc"/>
<rect x="50.58" y="59.16" width="1.3" height="1.3" fill="#ff7f0e"/>
<rect x="84.53" y="83.61" width="1.3" height="1.3" fill="#ff7f0e"/>
<rect x="76.63" y="101.57" width="1.3" height="1.3" fill="#ff7f0e"/>
<rect x="66.44" y="28.77" width="1.3" height="1.3" fill="#ff7f0e"/>
<rect x="64.42" y="83.5" width="1.3" height="1.3" fill="#ff7f0e"/>
<rect x="86.64" y="70.82" width="1.3" height="1.3" fill="#ff7f0e"/>
<rect x="41.28" y="49.2" width="1.3" height="1.3" fill="#ff7f0e"/>
<rect x="61.55" y="101.07" width="1.3" height="1.3" fill="#ff7f0e"/>
<rect x="29.51" y="65.74" width="1.3" height="1.3" fill="#ff7f0e"/>
<rect x="40.03" y="32.57" width="1.3" height="1.3" fill="#ff7f0e"/>
<rect x="27.93" y="67.14" width="1.3" height="1.3" fill="#ff7f0e"/>
<rect x="53.33" y="97.03" width="1.3" height="1.3" fill="#ff7f0e"/>
<rect x="41.86" y="64.1" width="1.3" height="1.3" fill="#fb9a99"/>
<rect x="53.74" y="71.56" width="1.3" height="1.3" fill="#fb9a99"/>
<rect x="79.25" y="97.79" width="1.3" height="1.3" fill="#fb9a99"/>
<rect x="68.98" y="85.97" width="1.3" height="1.3" fill="#fb9a99"/>
<rect x="81.89" y="77.46" width="1.3" height="1.3" fill="#fb9a99"/>
<rect x="42.91" y="99.34" width="1.3" height="1.3" fill="#fb9a99"/>
<rect x="54.39" y="54.7" width="1.3" height="1.3" fill="#fb9a99"/>
<rect x="63.88" y="78.86" width="1.3" height="1.3" fill="#fb9a99"/>
<rect x="101.56" y="87.6" width="1.3" height="1.3" fill="#dd6fcc"/>
<rect x="100.32" y="96.22" width="1.3" height="1.3" fill="#dd6fcc"/>
<rect x="114.67" y="50.78" width="1.3" height="1.3" fill="#dd6fcc"/>
<rect x="95.26" y="60.26" width="1.3" height="1.3" fill="#dd6fcc"/>
<rect x="95.28" y="107.75" width="1.3" height="1.3" fill="#dd6fcc"/>
<rect x="102.28" y="67.5" width="1.3" height="1.3" fill="#dd6fcc"/>
</g>
<rect x="21.55" y="125.05" width="100.3" height="98.3" fill="none" stroke="#5e5656" stroke-width="1.15" />
<clipPath id="clip11"><rect x="131" y="17.45" width="100.3" height="98.3"/></clipPath>
<g transform="translate(0,107.6)" clip-path="url(#clip11)">
<polygon points="155,20 195,20 196,33 200,34.5 205,36 210,38 210.4,60 209,86 205.8,94.4 205,102 202.8,109.6 200,112.4 154.3,112.4 147.5,102 141.4,94.4 137.6,86.8 134.9,76 134.2,65 134.2,58.8 134.9,51.2 136.5,47.4 139.9,39.8 144.4,32.2 147.5,28.4 151.3,24.6" fill="#dedede"/>
<rect x="196" y="20" width="1.1" height="3.5" fill="#d9d9d9"/>
<rect x="196" y="23.98" width="1.1" height="8" fill="#d9d9d9"/>
<rect x="196" y="33.11" width="1.1" height="0.5" fill="#d9d9d9"/>
<rect x="197.32" y="20" width="1.1" height="7" fill="#d9d9d9"/>
<rect x="197.32" y="28.61" width="1.1" height="5.5" fill="#d9d9d9"/>
<rect x="198.64" y="26.62" width="1.1" height="2" fill="#d9d9d9"/>
<rect x="198.64" y="29.65" width="1.1" height="5" fill="#d9d9d9"/>
<rect x="199.96" y="26.5" width="1.1" height="7.5" fill="#d9d9d9"/>
<rect x="202.6" y="33.34" width="1.1" height="1.5" fill="#d9d9d9"/>
<rect x="203.92" y="23.56" width="1.1" height="8.5" fill="#d9d9d9"/>
<rect x="203.92" y="32.53" width="1.1" height="2" fill="#d9d9d9"/>
<rect x="207.88" y="28.11" width="1.1" height="5" fill="#d9d9d9"/>
<rect x="209.2" y="28.26" width="1.1" height="5" fill="#d9d9d9"/>
<rect x="210.52" y="25" width="1.1" height="4" fill="#d9d9d9"/>
<rect x="210.52" y="31.03" width="1.1" height="3.5" fill="#d9d9d9"/>
<rect x="206.32" y="91.76" width="1.1" height="5" fill="#d9d9d9"/>
<rect x="208.96" y="78.76" width="1.1" height="8" fill="#d9d9d9"/>
<rect x="208.96" y="87.08" width="1.1" height="9" fill="#d9d9d9"/>
<rect x="210.28" y="60.5" width="1.1" height="6" fill="#d9d9d9"/>
<rect x="210.28" y="68.38" width="1.1" height="8" fill="#d9d9d9"/>
<rect x="210.28" y="78" width="1.1" height="9" fill="#d9d9d9"/>
<rect x="210.28" y="89.86" width="1.1" height="8" fill="#d9d9d9"/>
<rect x="211.6" y="63.62" width="1.1" height="4" fill="#d9d9d9"/>
<rect x="211.6" y="68.78" width="1.1" height="7.5" fill="#d9d9d9"/>
<rect x="211.6" y="76.76" width="1.1" height="3" fill="#d9d9d9"/>
<rect x="211.6" y="85.46" width="1.1" height="6" fill="#d9d9d9"/>
<rect x="211.6" y="91.53" width="1.1" height="5.5" fill="#d9d9d9"/>
<rect x="211.6" y="98.54" width="1.1" height="2" fill="#d9d9d9"/>
<rect x="211.6" y="100.87" width="1.1" height="3" fill="#d9d9d9"/>
<rect x="212.92" y="63.5" width="1.1" height="1.5" fill="#d9d9d9"/>
<rect x="212.92" y="65.49" width="1.1" height="8.5" fill="#d9d9d9"/>
<rect x="212.92" y="91.52" width="1.1" height="2" fill="#d9d9d9"/>
<rect x="212.92" y="94.6" width="1.1" height="3" fill="#d9d9d9"/>
<rect x="214.24" y="66.61" width="1.1" height="6" fill="#d9d9d9"/>
<rect x="214.24" y="89.59" width="1.1" height="5" fill="#d9d9d9"/>
<rect x="215.56" y="74.6" width="1.1" height="3" fill="#d9d9d9"/>
<rect x="215.56" y="78.73" width="1.1" height="6.5" fill="#d9d9d9"/>
<rect x="215.56" y="87.06" width="1.1" height="2" fill="#d9d9d9"/>
<rect x="215.56" y="94.49" width="1.1" height="2.5" fill="#d9d9d9"/>
<rect x="215.56" y="97.03" width="1.1" height="1.5" fill="#d9d9d9"/>
<rect x="136.84" y="45.76" width="1.0" height="0.5" fill="#ffffff"/>
<rect x="136.84" y="48.86" width="1.0" height="4.5" fill="#ffffff"/>
<rect x="136.84" y="71.55" width="1.0" height="2" fill="#ffffff"/>
<rect x="138.16" y="59.9" width="1.0" height="4" fill="#ffffff"/>
<rect x="139.48" y="84.26" width="1.0" height="3.5" fill="#ffffff"/>
<rect x="142.12" y="66.01" width="1.0" height="4.5" fill="#ffffff"/>
<rect x="143.44" y="69.8" width="1.0" height="3.5" fill="#ffffff"/>
<rect x="146.08" y="53.67" width="1.0" height="3" fill="#ffffff"/>
<rect x="146.08" y="93.32" width="1.0" height="3.5" fill="#ffffff"/>
<rect x="150.04" y="46.6" width="1.0" height="3" fill="#ffffff"/>
<rect x="151.36" y="62.02" width="1.0" height="4" fill="#ffffff"/>
<rect x="151.36" y="98.36" width="1.0" height="3" fill="#ffffff"/>
<rect x="155.32" y="36.56" width="1.0" height="4.5" fill="#ffffff"/>
<rect x="156.64" y="62.44" width="1.0" height="1.5" fill="#ffffff"/>
<rect x="157.96" y="20" width="1.0" height="4.5" fill="#ffffff"/>
<rect x="157.96" y="74.98" width="1.0" height="2" fill="#ffffff"/>
<rect x="159.28" y="64.76" width="1.0" height="4.5" fill="#ffffff"/>
<rect x="159.28" y="100.68" width="1.0" height="1.5" fill="#ffffff"/>
<rect x="163.24" y="100.44" width="1.0" height="4.5" fill="#ffffff"/>
<rect x="167.2" y="80.34" width="1.0" height="4" fill="#ffffff"/>
<rect x="169.84" y="55.51" width="1.0" height="5" fill="#ffffff"/>
<rect x="171.16" y="46.62" width="1.0" height="4" fill="#ffffff"/>
<rect x="172.48" y="20" width="1.0" height="2" fill="#ffffff"/>
<rect x="172.48" y="83.81" width="1.0" height="5" fill="#ffffff"/>
<rect x="172.48" y="98.38" width="1.0" height="1.5" fill="#ffffff"/>
<rect x="173.8" y="52.82" width="1.0" height="4.5" fill="#ffffff"/>
<rect x="175.12" y="105.25" width="1.0" height="1.5" fill="#ffffff"/>
<rect x="176.44" y="75.67" width="1.0" height="3.5" fill="#ffffff"/>
<rect x="179.08" y="51.03" width="1.0" height="2" fill="#ffffff"/>
<rect x="184.36" y="63.76" width="1.0" height="1.5" fill="#ffffff"/>
<rect x="188.32" y="20" width="1.0" height="3.5" fill="#ffffff"/>
<rect x="188.32" y="35.06" width="1.0" height="5" fill="#ffffff"/>
<rect x="188.32" y="62.82" width="1.0" height="4" fill="#ffffff"/>
<rect x="190.96" y="79.83" width="1.0" height="4.5" fill="#ffffff"/>
<rect x="192.28" y="95.67" width="1.0" height="4.5" fill="#ffffff"/>
<rect x="193.6" y="51.98" width="1.0" height="3.5" fill="#ffffff"/>
<rect x="194.92" y="32.72" width="1.0" height="2.5" fill="#ffffff"/>
<rect x="197.56" y="104.1" width="1.0" height="1.5" fill="#ffffff"/>
<rect x="208.12" y="69.32" width="1.0" height="3" fill="#ffffff"/>
<rect x="209.44" y="40.26" width="1.0" height="3" fill="#ffffff"/>
<polygon points="166.4,20 169.5,20 165.7,98 164,112.4 161.6,112.4 162.6,98" fill="#fff"/>
<polygon points="180.3,33.7 187.6,33.7 187.6,42.8 186,48 186,65.6 183.5,70 183,112.4 180.2,112.4" fill="#fff"/>
<polygon points="169.5,20 175,20 173,30 169.2,30" fill="#fff"/>
<ellipse cx="181" cy="48.5" rx="8" ry="7.5" fill="#fff"/>
<ellipse cx="152" cy="37.5" rx="6" ry="2.5" fill="#fff"/>
<ellipse cx="156" cy="42.5" rx="5" ry="2.5" fill="#fff"/>
<ellipse cx="160" cy="34" rx="2" ry="4" fill="#fff"/>
<ellipse cx="151.5" cy="45.5" rx="2.5" ry="1.5" fill="#fff"/>
<ellipse cx="158" cy="45.5" rx="2" ry="1.5" fill="#fff"/>
<ellipse cx="144.5" cy="38" rx="1.5" ry="1" fill="#fff"/>
<ellipse cx="200" cy="46" rx="1" ry="1" fill="#fff"/>
<ellipse cx="191.5" cy="49" rx="1.5" ry="1" fill="#fff"/>
<ellipse cx="172.5" cy="64" rx="1.5" ry="1" fill="#fff"/>
<ellipse cx="177" cy="67.5" rx="1" ry="1.5" fill="#fff"/>
<rect x="177.99" y="33.73" width="1.3" height="1.3" fill="#dd6fcc"/>
<rect x="183.13" y="41.31" width="1.3" height="1.3" fill="#dd6fcc"/>
<rect x="176.46" y="38.6" width="1.3" height="1.3" fill="#dd6fcc"/>
<rect x="173.07" y="34.01" width="1.3" height="1.3" fill="#dd6fcc"/>
<rect x="174.07" y="38.9" width="1.3" height="1.3" fill="#dd6fcc"/>
<rect x="173.05" y="41.8" width="1.3" height="1.3" fill="#dd6fcc"/>
<rect x="171.14" y="33.71" width="1.3" height="1.3" fill="#dd6fcc"/>
<rect x="171.39" y="39.71" width="1.3" height="1.3" fill="#dd6fcc"/>
<rect x="175.11" y="36.61" width="1.3" height="1.3" fill="#dd6fcc"/>
<rect x="174.57" y="38.33" width="1.3" height="1.3" fill="#dd6fcc"/>
<rect x="175.61" y="33.87" width="1.3" height="1.3" fill="#dd6fcc"/>
<rect x="175.96" y="34.86" width="1.3" height="1.3" fill="#dd6fcc"/>
<rect x="171.68" y="40.26" width="1.3" height="1.3" fill="#dd6fcc"/>
<rect x="179.31" y="38.61" width="1.3" height="1.3" fill="#dd6fcc"/>
<rect x="182.02" y="35.8" width="1.3" height="1.3" fill="#dd6fcc"/>
<rect x="175.28" y="36.1" width="1.3" height="1.3" fill="#dd6fcc"/>
<rect x="175.62" y="38.66" width="1.3" height="1.3" fill="#dd6fcc"/>
<rect x="170.29" y="36.53" width="1.3" height="1.3" fill="#dd6fcc"/>
<rect x="177.37" y="35.29" width="1.3" height="1.3" fill="#dd6fcc"/>
<rect x="170.49" y="39.03" width="1.3" height="1.3" fill="#dd6fcc"/>
<rect x="170.33" y="37.57" width="1.3" height="1.3" fill="#dd6fcc"/>
<rect x="172.26" y="32.06" width="1.3" height="1.3" fill="#dd6fcc"/>
<rect x="172.62" y="32.38" width="1.3" height="1.3" fill="#dd6fcc"/>
<rect x="172.22" y="38.82" width="1.3" height="1.3" fill="#dd6fcc"/>
<rect x="179.96" y="35.47" width="1.3" height="1.3" fill="#dd6fcc"/>
<rect x="178.94" y="36.64" width="1.3" height="1.3" fill="#dd6fcc"/>
<rect x="176.88" y="40.81" width="1.3" height="1.3" fill="#dd6fcc"/>
<rect x="174.37" y="40.75" width="1.3" height="1.3" fill="#dd6fcc"/>
<rect x="179.46" y="38.81" width="1.3" height="1.3" fill="#dd6fcc"/>
<rect x="170.28" y="32.57" width="1.3" height="1.3" fill="#dd6fcc"/>
<rect x="170.63" y="35.3" width="1.3" height="1.3" fill="#dd6fcc"/>
<rect x="182.88" y="40.81" width="1.3" height="1.3" fill="#dd6fcc"/>
<rect x="181.44" y="32.94" width="1.3" height="1.3" fill="#dd6fcc"/>
<rect x="179.66" y="39.75" width="1.3" height="1.3" fill="#dd6fcc"/>
<rect x="181.04" y="39.94" width="1.3" height="1.3" fill="#dd6fcc"/>
<rect x="172.08" y="33.56" width="1.3" height="1.3" fill="#dd6fcc"/>
<rect x="180.82" y="39.38" width="1.3" height="1.3" fill="#dd6fcc"/>
<rect x="182.16" y="36.34" width="1.3" height="1.3" fill="#dd6fcc"/>
<rect x="182.12" y="33.15" width="1.3" height="1.3" fill="#dd6fcc"/>
<rect x="183.03" y="40.9" width="1.3" height="1.3" fill="#dd6fcc"/>
<rect x="192.14" y="51.91" width="1.3" height="1.3" fill="#dd6fcc"/>
<rect x="195.6" y="60.24" width="1.3" height="1.3" fill="#dd6fcc"/>
<rect x="192.35" y="51.77" width="1.3" height="1.3" fill="#dd6fcc"/>
<rect x="191.17" y="62.05" width="1.3" height="1.3" fill="#dd6fcc"/>
<rect x="188.09" y="63.56" width="1.3" height="1.3" fill="#dd6fcc"/>
<rect x="190.7" y="53.74" width="1.3" height="1.3" fill="#dd6fcc"/>
<rect x="188.44" y="64.15" width="1.3" height="1.3" fill="#dd6fcc"/>
<rect x="201.38" y="55.28" width="1.3" height="1.3" fill="#dd6fcc"/>
<rect x="188.17" y="59.75" width="1.3" height="1.3" fill="#dd6fcc"/>
<rect x="201.16" y="51.16" width="1.3" height="1.3" fill="#dd6fcc"/>
<rect x="196.98" y="62.48" width="1.3" height="1.3" fill="#dd6fcc"/>
<rect x="194.12" y="58.63" width="1.3" height="1.3" fill="#dd6fcc"/>
<rect x="199.79" y="54.2" width="1.3" height="1.3" fill="#dd6fcc"/>
<rect x="191.08" y="59.85" width="1.3" height="1.3" fill="#dd6fcc"/>
<rect x="195.66" y="58.17" width="1.3" height="1.3" fill="#dd6fcc"/>
<rect x="192.08" y="63.56" width="1.3" height="1.3" fill="#dd6fcc"/>
<rect x="191.33" y="60.1" width="1.3" height="1.3" fill="#dd6fcc"/>
<rect x="201.26" y="56.37" width="1.3" height="1.3" fill="#dd6fcc"/>
<rect x="187.49" y="53.95" width="1.3" height="1.3" fill="#dd6fcc"/>
<rect x="187.69" y="52.98" width="1.3" height="1.3" fill="#dd6fcc"/>
<rect x="188.58" y="55.59" width="1.3" height="1.3" fill="#dd6fcc"/>
<rect x="192.67" y="56.99" width="1.3" height="1.3" fill="#dd6fcc"/>
<rect x="197.51" y="60.07" width="1.3" height="1.3" fill="#dd6fcc"/>
<rect x="197.87" y="55.88" width="1.3" height="1.3" fill="#dd6fcc"/>
<rect x="197.47" y="58.37" width="1.3" height="1.3" fill="#dd6fcc"/>
<rect x="188.69" y="58.31" width="1.3" height="1.3" fill="#dd6fcc"/>
<rect x="191.82" y="60.06" width="1.3" height="1.3" fill="#dd6fcc"/>
<rect x="198.65" y="54.23" width="1.3" height="1.3" fill="#dd6fcc"/>
<rect x="193.74" y="57.1" width="1.3" height="1.3" fill="#dd6fcc"/>
<rect x="191.47" y="51.54" width="1.3" height="1.3" fill="#dd6fcc"/>
<rect x="187.41" y="64.3" width="1.3" height="1.3" fill="#dd6fcc"/>
<rect x="198.73" y="56.88" width="1.3" height="1.3" fill="#dd6fcc"/>
<rect x="197.53" y="54.6" width="1.3" height="1.3" fill="#dd6fcc"/>
<rect x="198.25" y="63.74" width="1.3" height="1.3" fill="#dd6fcc"/>
<rect x="199.28" y="57.23" width="1.3" height="1.3" fill="#dd6fcc"/>
<rect x="202.73" y="63.36" width="1.3" height="1.3" fill="#dd6fcc"/>
<rect x="187.56" y="56.52" width="1.3" height="1.3" fill="#dd6fcc"/>
<rect x="194.01" y="54.67" width="1.3" height="1.3" fill="#dd6fcc"/>
<rect x="196.71" y="52.92" width="1.3" height="1.3" fill="#dd6fcc"/>
<rect x="198.85" y="62.49" width="1.3" height="1.3" fill="#dd6fcc"/>
<rect x="187.61" y="60.27" width="1.3" height="1.3" fill="#dd6fcc"/>
<rect x="190.96" y="59.55" width="1.3" height="1.3" fill="#dd6fcc"/>
<rect x="197.94" y="64.09" width="1.3" height="1.3" fill="#dd6fcc"/>
<rect x="199.69" y="55.54" width="1.3" height="1.3" fill="#dd6fcc"/>
<rect x="198.57" y="52.97" width="1.3" height="1.3" fill="#dd6fcc"/>
<rect x="198.3" y="56.59" width="1.3" height="1.3" fill="#dd6fcc"/>
<rect x="190.95" y="54.2" width="1.3" height="1.3" fill="#dd6fcc"/>
<rect x="190.16" y="61.67" width="1.3" height="1.3" fill="#dd6fcc"/>
<rect x="188.18" y="54.11" width="1.3" height="1.3" fill="#dd6fcc"/>
<rect x="189.75" y="53.12" width="1.3" height="1.3" fill="#dd6fcc"/>
<rect x="198.57" y="58.87" width="1.3" height="1.3" fill="#dd6fcc"/>
<rect x="197.5" y="63.06" width="1.3" height="1.3" fill="#dd6fcc"/>
<rect x="193.96" y="51.51" width="1.3" height="1.3" fill="#dd6fcc"/>
<rect x="189.7" y="57.92" width="1.3" height="1.3" fill="#dd6fcc"/>
<rect x="198.33" y="63.31" width="1.3" height="1.3" fill="#dd6fcc"/>
<rect x="194.98" y="54.04" width="1.3" height="1.3" fill="#dd6fcc"/>
<rect x="196.32" y="63.53" width="1.3" height="1.3" fill="#dd6fcc"/>
<rect x="192.06" y="63.48" width="1.3" height="1.3" fill="#dd6fcc"/>
<rect x="201.42" y="58.73" width="1.3" height="1.3" fill="#dd6fcc"/>
<rect x="194.49" y="52.73" width="1.3" height="1.3" fill="#dd6fcc"/>
<rect x="168.33" y="51.43" width="1.3" height="1.3" fill="#dd6fcc"/>
<rect x="174.34" y="58.48" width="1.3" height="1.3" fill="#dd6fcc"/>
<rect x="178.92" y="57.33" width="1.3" height="1.3" fill="#dd6fcc"/>
<rect x="178.93" y="55.23" width="1.3" height="1.3" fill="#dd6fcc"/>
<rect x="168.61" y="51.63" width="1.3" height="1.3" fill="#dd6fcc"/>
<rect x="170.46" y="56.57" width="1.3" height="1.3" fill="#dd6fcc"/>
<rect x="178.83" y="54.12" width="1.3" height="1.3" fill="#dd6fcc"/>
<rect x="169.82" y="58.59" width="1.3" height="1.3" fill="#dd6fcc"/>
<rect x="171.66" y="56.86" width="1.3" height="1.3" fill="#dd6fcc"/>
<rect x="168.82" y="59.96" width="1.3" height="1.3" fill="#dd6fcc"/>
<rect x="178.03" y="58.93" width="1.3" height="1.3" fill="#dd6fcc"/>
<rect x="178.23" y="54.49" width="1.3" height="1.3" fill="#dd6fcc"/>
<rect x="167.39" y="54.2" width="1.3" height="1.3" fill="#dd6fcc"/>
<rect x="177.77" y="55.93" width="1.3" height="1.3" fill="#dd6fcc"/>
<rect x="169.4" y="52.59" width="1.3" height="1.3" fill="#dd6fcc"/>
<rect x="168.97" y="55.61" width="1.3" height="1.3" fill="#dd6fcc"/>
<rect x="178.11" y="60.28" width="1.3" height="1.3" fill="#dd6fcc"/>
<rect x="176.09" y="58.94" width="1.3" height="1.3" fill="#dd6fcc"/>
<rect x="169.29" y="59.16" width="1.3" height="1.3" fill="#dd6fcc"/>
<rect x="169.69" y="56.52" width="1.3" height="1.3" fill="#dd6fcc"/>
<rect x="167.4" y="60.37" width="1.3" height="1.3" fill="#dd6fcc"/>
<rect x="168.54" y="57.22" width="1.3" height="1.3" fill="#dd6fcc"/>
<rect x="141.39" y="72.83" width="1.3" height="1.3" fill="#ff7f0e"/>
<rect x="141.6" y="64.37" width="1.3" height="1.3" fill="#ff7f0e"/>
<rect x="141.49" y="55.82" width="1.3" height="1.3" fill="#ff7f0e"/>
<rect x="141.38" y="64.44" width="1.3" height="1.3" fill="#ff7f0e"/>
<rect x="143.19" y="81.24" width="1.3" height="1.3" fill="#ff7f0e"/>
<rect x="136.44" y="74.18" width="1.3" height="1.3" fill="#ff7f0e"/>
<rect x="142.77" y="75.39" width="1.3" height="1.3" fill="#ff7f0e"/>
<rect x="142.07" y="74.08" width="1.3" height="1.3" fill="#ff7f0e"/>
<rect x="137.46" y="65.24" width="1.3" height="1.3" fill="#ff7f0e"/>
<rect x="142.38" y="68.9" width="1.3" height="1.3" fill="#ff7f0e"/>
<rect x="139.57" y="81.33" width="1.3" height="1.3" fill="#ff7f0e"/>
<rect x="138.87" y="79.46" width="1.3" height="1.3" fill="#ff7f0e"/>
<rect x="134.99" y="69.34" width="1.3" height="1.3" fill="#ff7f0e"/>
<rect x="141.74" y="61.81" width="1.3" height="1.3" fill="#ff7f0e"/>
<rect x="141.01" y="72.2" width="1.3" height="1.3" fill="#ff7f0e"/>
<rect x="137.02" y="57.2" width="1.3" height="1.3" fill="#ff7f0e"/>
<rect x="139.1" y="54.97" width="1.3" height="1.3" fill="#ff7f0e"/>
<rect x="135.55" y="76.45" width="1.3" height="1.3" fill="#ff7f0e"/>
<rect x="135.51" y="69.67" width="1.3" height="1.3" fill="#ff7f0e"/>
<rect x="143.71" y="66.98" width="1.3" height="1.3" fill="#ff7f0e"/>
<rect x="142.97" y="78.57" width="1.3" height="1.3" fill="#ff7f0e"/>
<rect x="136.21" y="55.36" width="1.3" height="1.3" fill="#ff7f0e"/>
<rect x="142.66" y="79.68" width="1.3" height="1.3" fill="#ff7f0e"/>
<rect x="143.37" y="75" width="1.3" height="1.3" fill="#ff7f0e"/>
<rect x="139.8" y="82.5" width="1.3" height="1.3" fill="#ff7f0e"/>
<rect x="142.19" y="76.5" width="1.3" height="1.3" fill="#ff7f0e"/>
<rect x="142.21" y="70.99" width="1.3" height="1.3" fill="#ff7f0e"/>
<rect x="134.63" y="60.87" width="1.3" height="1.3" fill="#ff7f0e"/>
<rect x="141.95" y="69.3" width="1.3" height="1.3" fill="#ff7f0e"/>
<rect x="140.35" y="61.85" width="1.3" height="1.3" fill="#ff7f0e"/>
<rect x="140.4" y="80.07" width="1.3" height="1.3" fill="#ff7f0e"/>
<rect x="144.69" y="70.01" width="1.3" height="1.3" fill="#ff7f0e"/>
<rect x="135.96" y="70.23" width="1.3" height="1.3" fill="#ff7f0e"/>
<rect x="136.03" y="68.4" width="1.3" height="1.3" fill="#ff7f0e"/>
<rect x="137.67" y="57.33" width="1.3" height="1.3" fill="#ff7f0e"/>
<rect x="136.15" y="66.08" width="1.3" height="1.3" fill="#ff7f0e"/>
<rect x="142.74" y="58.28" width="1.3" height="1.3" fill="#ff7f0e"/>
<rect x="137.11" y="73.59" width="1.3" height="1.3" fill="#ff7f0e"/>
<rect x="134.57" y="62.92" width="1.3" height="1.3" fill="#ff7f0e"/>
<rect x="136.11" y="60.1" width="1.3" height="1.3" fill="#ff7f0e"/>
<rect x="141.99" y="81.03" width="1.3" height="1.3" fill="#ff7f0e"/>
<rect x="137.06" y="79.57" width="1.3" height="1.3" fill="#ff7f0e"/>
<rect x="137.83" y="76.8" width="1.3" height="1.3" fill="#ff7f0e"/>
<rect x="140.54" y="63.79" width="1.3" height="1.3" fill="#ff7f0e"/>
<rect x="143.72" y="74.43" width="1.3" height="1.3" fill="#ff7f0e"/>
<rect x="137.82" y="70.66" width="1.3" height="1.3" fill="#ff7f0e"/>
<rect x="137.56" y="61.8" width="1.3" height="1.3" fill="#ff7f0e"/>
<rect x="135.63" y="66.42" width="1.3" height="1.3" fill="#ff7f0e"/>
<rect x="143.73" y="79.91" width="1.3" height="1.3" fill="#ff7f0e"/>
<rect x="137.11" y="66.72" width="1.3" height="1.3" fill="#ff7f0e"/>
<rect x="137.72" y="60.19" width="1.3" height="1.3" fill="#279e68"/>
<rect x="134.69" y="64.3" width="1.3" height="1.3" fill="#279e68"/>
<rect x="136.82" y="73.45" width="1.3" height="1.3" fill="#279e68"/>
<rect x="137.54" y="56.23" width="1.3" height="1.3" fill="#279e68"/>
<rect x="134.95" y="58.57" width="1.3" height="1.3" fill="#279e68"/>
<rect x="136.5" y="64.12" width="1.3" height="1.3" fill="#279e68"/>
<rect x="137.71" y="68.31" width="1.3" height="1.3" fill="#279e68"/>
<rect x="136.57" y="69.74" width="1.3" height="1.3" fill="#279e68"/>
<rect x="135.06" y="73.9" width="1.3" height="1.3" fill="#279e68"/>
<rect x="137.49" y="72.45" width="1.3" height="1.3" fill="#279e68"/>
<rect x="137.2" y="59.45" width="1.3" height="1.3" fill="#279e68"/>
<rect x="134.5" y="63.3" width="1.3" height="1.3" fill="#279e68"/>
<rect x="136.95" y="60.01" width="1.3" height="1.3" fill="#279e68"/>
<rect x="137.52" y="73.15" width="1.3" height="1.3" fill="#279e68"/>
<rect x="158.57" y="103.78" width="1.3" height="1.3" fill="#ff7f0e"/>
<rect x="153.65" y="106.19" width="1.3" height="1.3" fill="#ff7f0e"/>
<rect x="153.85" y="103.87" width="1.3" height="1.3" fill="#ff7f0e"/>
<rect x="159.13" y="104.9" width="1.3" height="1.3" fill="#ff7f0e"/>
<rect x="154.42" y="106.7" width="1.3" height="1.3" fill="#ff7f0e"/>
<rect x="155.19" y="103.31" width="1.3" height="1.3" fill="#ff7f0e"/>
<rect x="156.25" y="105.39" width="1.3" height="1.3" fill="#ff7f0e"/>
<rect x="152.65" y="104.92" width="1.3" height="1.3" fill="#ff7f0e"/>
<rect x="156.69" y="106.13" width="1.3" height="1.3" fill="#ff7f0e"/>
<rect x="155.59" y="104.43" width="1.3" height="1.3" fill="#ff7f0e"/>
<rect x="161.01" y="100.63" width="1.3" height="1.3" fill="#ff7f0e"/>
<rect x="159.43" y="103.67" width="1.3" height="1.3" fill="#ff7f0e"/>
<rect x="155" y="102.23" width="1.3" height="1.3" fill="#ff7f0e"/>
<rect x="154.26" y="106.44" width="1.3" height="1.3" fill="#ff7f0e"/>
<rect x="154.12" y="107.32" width="1.3" height="1.3" fill="#ff7f0e"/>
<rect x="156.95" y="102.31" width="1.3" height="1.3" fill="#ff7f0e"/>
<rect x="159.35" y="104.5" width="1.3" height="1.3" fill="#ff7f0e"/>
<rect x="160.26" y="101.27" width="1.3" height="1.3" fill="#ff7f0e"/>
<rect x="158.53" y="100.41" width="1.3" height="1.3" fill="#ff7f0e"/>
<rect x="153.95" y="103.27" width="1.3" height="1.3" fill="#ff7f0e"/>
<rect x="155.12" y="102.29" width="1.3" height="1.3" fill="#ff7f0e"/>
<rect x="157.42" y="105.73" width="1.3" height="1.3" fill="#ff7f0e"/>
<rect x="156.04" y="103.96" width="1.3" height="1.3" fill="#ff7f0e"/>
<rect x="159.34" y="101.87" width="1.3" height="1.3" fill="#ff7f0e"/>
<rect x="161.28" y="100.37" width="1.3" height="1.3" fill="#ff7f0e"/>
<rect x="199.91" y="60.77" width="1.3" height="1.3" fill="#ff7f0e"/>
<rect x="198.3" y="50.48" width="1.3" height="1.3" fill="#ff7f0e"/>
<rect x="197.53" y="63.87" width="1.3" height="1.3" fill="#ff7f0e"/>
<rect x="205.93" y="45.29" width="1.3" height="1.3" fill="#ff7f0e"/>
<rect x="201.91" y="46.76" width="1.3" height="1.3" fill="#ff7f0e"/>
<rect x="195.72" y="48.2" width="1.3" height="1.3" fill="#ff7f0e"/>
<rect x="203.86" y="54.6" width="1.3" height="1.3" fill="#ff7f0e"/>
<rect x="198.92" y="55.66" width="1.3" height="1.3" fill="#ff7f0e"/>
<rect x="196.48" y="50.72" width="1.3" height="1.3" fill="#ff7f0e"/>
<rect x="196.67" y="60.74" width="1.3" height="1.3" fill="#ff7f0e"/>
<rect x="200.05" y="58.48" width="1.3" height="1.3" fill="#ff7f0e"/>
<rect x="199.49" y="52.24" width="1.3" height="1.3" fill="#ff7f0e"/>
<rect x="202.35" y="48.99" width="1.3" height="1.3" fill="#ff7f0e"/>
<rect x="202.01" y="59.67" width="1.3" height="1.3" fill="#ff7f0e"/>
<rect x="196.38" y="47.73" width="1.3" height="1.3" fill="#ff7f0e"/>
<rect x="195.74" y="53.76" width="1.3" height="1.3" fill="#ff7f0e"/>
<rect x="196.81" y="54.43" width="1.3" height="1.3" fill="#ff7f0e"/>
<rect x="197.42" y="54.54" width="1.3" height="1.3" fill="#ff7f0e"/>
<rect x="198.86" y="59.18" width="1.3" height="1.3" fill="#ff7f0e"/>
<rect x="205.2" y="63.56" width="1.3" height="1.3" fill="#ff7f0e"/>
<rect x="201.01" y="62.1" width="1.3" height="1.3" fill="#ff7f0e"/>
<rect x="205.76" y="50.59" width="1.3" height="1.3" fill="#ff7f0e"/>
<rect x="190.94" y="44.48" width="1.3" height="1.3" fill="#ff7f0e"/>
<rect x="188.47" y="41.4" width="1.3" height="1.3" fill="#ff7f0e"/>
<rect x="190.06" y="39.38" width="1.3" height="1.3" fill="#ff7f0e"/>
<rect x="190.13" y="34.35" width="1.3" height="1.3" fill="#ff7f0e"/>
<rect x="190.5" y="40.96" width="1.3" height="1.3" fill="#ff7f0e"/>
<rect x="188.55" y="44.59" width="1.3" height="1.3" fill="#ff7f0e"/>
<rect x="190.2" y="31.03" width="1.3" height="1.3" fill="#ff7f0e"/>
<rect x="188.1" y="32.72" width="1.3" height="1.3" fill="#ff7f0e"/>
<rect x="189.99" y="40.96" width="1.3" height="1.3" fill="#ff7f0e"/>
<rect x="190.79" y="43.36" width="1.3" height="1.3" fill="#ff7f0e"/>
<rect x="188.82" y="37.17" width="1.3" height="1.3" fill="#279e68"/>
<rect x="188.34" y="38.34" width="1.3" height="1.3" fill="#279e68"/>
<rect x="189.69" y="38.28" width="1.3" height="1.3" fill="#279e68"/>
<rect x="191.28" y="39.68" width="1.3" height="1.3" fill="#279e68"/>
<rect x="191.22" y="41.17" width="1.3" height="1.3" fill="#279e68"/>
<rect x="192.51" y="67.47" width="1.3" height="1.3" fill="#dd6fcc"/>
<rect x="165.38" y="69.54" width="1.3" height="1.3" fill="#dd6fcc"/>
<rect x="169.25" y="81.79" width="1.3" height="1.3" fill="#dd6fcc"/>
<rect x="199.13" y="82.46" width="1.3" height="1.3" fill="#dd6fcc"/>
<rect x="153.58" y="72.14" width="1.3" height="1.3" fill="#dd6fcc"/>
<rect x="168.92" y="31.37" width="1.3" height="1.3" fill="#dd6fcc"/>
<rect x="142.24" y="61.66" width="1.3" height="1.3" fill="#dd6fcc"/>
<rect x="205.9" y="84.95" width="1.3" height="1.3" fill="#dd6fcc"/>
<rect x="189.43" y="75.77" width="1.3" height="1.3" fill="#dd6fcc"/>
<rect x="159.62" y="64.59" width="1.3" height="1.3" fill="#dd6fcc"/>
<rect x="143.55" y="78.19" width="1.3" height="1.3" fill="#dd6fcc"/>
<rect x="180.82" y="79.19" width="1.3" height="1.3" fill="#dd6fcc"/>
<rect x="171.87" y="71.51" width="1.3" height="1.3" fill="#dd6fcc"/>
<rect x="200.36" y="98.66" width="1.3" height="1.3" fill="#dd6fcc"/>
<rect x="192.67" y="42.38" width="1.3" height="1.3" fill="#dd6fcc"/>
<rect x="156.6" y="24.71" width="1.3" height="1.3" fill="#dd6fcc"/>
<rect x="194.05" y="99.44" width="1.3" height="1.3" fill="#dd6fcc"/>
<rect x="205.57" y="75.49" width="1.3" height="1.3" fill="#dd6fcc"/>
<rect x="195.08" y="98.13" width="1.3" height="1.3" fill="#dd6fcc"/>
<rect x="200.99" y="109.68" width="1.3" height="1.3" fill="#dd6fcc"/>
<rect x="188.77" y="77.24" width="1.3" height="1.3" fill="#dd6fcc"/>
<rect x="164.38" y="99.31" width="1.3" height="1.3" fill="#dd6fcc"/>
<rect x="155.92" y="25.01" width="1.3" height="1.3" fill="#dd6fcc"/>
<rect x="188.76" y="80.07" width="1.3" height="1.3" fill="#dd6fcc"/>
<rect x="142.6" y="60.35" width="1.3" height="1.3" fill="#dd6fcc"/>
<rect x="154.95" y="94.58" width="1.3" height="1.3" fill="#dd6fcc"/>
<rect x="193.42" y="50.42" width="1.3" height="1.3" fill="#dd6fcc"/>
<rect x="145.95" y="51.65" width="1.3" height="1.3" fill="#dd6fcc"/>
<rect x="167.7" y="75.96" width="1.3" height="1.3" fill="#dd6fcc"/>
<rect x="206.43" y="49.66" width="1.3" height="1.3" fill="#dd6fcc"/>
<rect x="145.48" y="77.86" width="1.3" height="1.3" fill="#ff7f0e"/>
<rect x="166.62" y="88.47" width="1.3" height="1.3" fill="#ff7f0e"/>
<rect x="184.66" y="70.56" width="1.3" height="1.3" fill="#ff7f0e"/>
<rect x="196.37" y="38.09" width="1.3" height="1.3" fill="#ff7f0e"/>
<rect x="193.86" y="36.87" width="1.3" height="1.3" fill="#ff7f0e"/>
<rect x="170.74" y="71.35" width="1.3" height="1.3" fill="#ff7f0e"/>
<rect x="175.62" y="30.36" width="1.3" height="1.3" fill="#ff7f0e"/>
<rect x="169.19" y="45.91" width="1.3" height="1.3" fill="#ff7f0e"/>
<rect x="155.28" y="58.94" width="1.3" height="1.3" fill="#ff7f0e"/>
<rect x="165.72" y="39.08" width="1.3" height="1.3" fill="#ff7f0e"/>
<rect x="186.44" y="106.04" width="1.3" height="1.3" fill="#ff7f0e"/>
<rect x="206.44" y="36.66" width="1.3" height="1.3" fill="#ff7f0e"/>
<rect x="151.87" y="57.6" width="1.3" height="1.3" fill="#ff7f0e"/>
<rect x="179.51" y="84.03" width="1.3" height="1.3" fill="#ff7f0e"/>
<rect x="179.11" y="65.55" width="1.3" height="1.3" fill="#ff7f0e"/>
<rect x="195.45" y="43.28" width="1.3" height="1.3" fill="#ff7f0e"/>
<rect x="192.66" y="23.33" width="1.3" height="1.3" fill="#ff7f0e"/>
<rect x="206.42" y="84.8" width="1.3" height="1.3" fill="#ff7f0e"/>
<rect x="204.71" y="59.15" width="1.3" height="1.3" fill="#ff7f0e"/>
<rect x="188.38" y="43.15" width="1.3" height="1.3" fill="#ff7f0e"/>
<rect x="204.71" y="36.49" width="1.3" height="1.3" fill="#ff7f0e"/>
<rect x="184.84" y="69.65" width="1.3" height="1.3" fill="#ff7f0e"/>
<rect x="195.71" y="83.17" width="1.3" height="1.3" fill="#ff7f0e"/>
<rect x="193.67" y="107.08" width="1.3" height="1.3" fill="#ff7f0e"/>
<rect x="156.18" y="32.35" width="1.3" height="1.3" fill="#ff7f0e"/>
<rect x="176.25" y="86.51" width="1.3" height="1.3" fill="#ff7f0e"/>
<rect x="148.04" y="65.86" width="1.3" height="1.3" fill="#ff7f0e"/>
<rect x="154.39" y="44.52" width="1.3" height="1.3" fill="#ff7f0e"/>
<rect x="186.62" y="109.53" width="1.3" height="1.3" fill="#ff7f0e"/>
<rect x="139.34" y="65.31" width="1.3" height="1.3" fill="#ff7f0e"/>
<rect x="169.58" y="78.02" width="1.3" height="1.3" fill="#279e68"/>
<rect x="155.19" y="73.46" width="1.3" height="1.3" fill="#279e68"/>
<rect x="165.31" y="71.94" width="1.3" height="1.3" fill="#279e68"/>
<rect x="201.29" y="77.08" width="1.3" height="1.3" fill="#279e68"/>
<rect x="160.19" y="108" width="1.3" height="1.3" fill="#279e68"/>
<rect x="185.53" y="42.61" width="1.3" height="1.3" fill="#279e68"/>
</g>
<rect x="131" y="125.05" width="100.3" height="98.3" fill="none" stroke="#5e5656" stroke-width="1.15" />
<clipPath id="clip12"><rect x="240.7" y="17.45" width="100.3" height="98.3"/></clipPath>
<g transform="translate(0,107.6)" clip-path="url(#clip12)">
<polygon points="271.1,20 318.9,20 321.1,24.6 325.7,32.2 327.2,39.8 328.7,51.2 332.5,58.8 334,64 334,79 332.5,94.4 327.2,105.8 326.4,112.6 269,112.6 268.1,109.6 259,102 252.1,94.4 249.9,86.8 246,80 244.6,73.9 244.2,69 245.3,58.8 247.6,51.2 251.4,43.6 256,39 260.5,32.2 263.5,28.4 267.3,24.6" fill="#dedede"/>
<rect x="250.8" y="47.32" width="1.0" height="3.5" fill="#ffffff"/>
<rect x="250.8" y="83.93" width="1.0" height="4.5" fill="#ffffff"/>
<rect x="252.12" y="85.79" width="1.0" height="4" fill="#ffffff"/>
<rect x="254.76" y="62.49" width="1.0" height="5" fill="#ffffff"/>
<rect x="254.76" y="80.77" width="1.0" height="4" fill="#ffffff"/>
<rect x="256.08" y="53.37" width="1.0" height="2" fill="#ffffff"/>
<rect x="256.08" y="97.97" width="1.0" height="1.5" fill="#ffffff"/>
<rect x="257.4" y="68.5" width="1.0" height="2" fill="#ffffff"/>
<rect x="260.04" y="44.29" width="1.0" height="4.5" fill="#ffffff"/>
<rect x="261.36" y="64.92" width="1.0" height="4" fill="#ffffff"/>
<rect x="265.32" y="84.07" width="1.0" height="3" fill="#ffffff"/>
<rect x="265.32" y="103.15" width="1.0" height="4" fill="#ffffff"/>
<rect x="266.64" y="29.35" width="1.0" height="3.5" fill="#ffffff"/>
<rect x="267.96" y="100.86" width="1.0" height="4.5" fill="#ffffff"/>
<rect x="269.28" y="67.93" width="1.0" height="4" fill="#ffffff"/>
<rect x="269.28" y="72.86" width="1.0" height="4.5" fill="#ffffff"/>
<rect x="270.6" y="30.76" width="1.0" height="2" fill="#ffffff"/>
<rect x="270.6" y="112.28" width="1.0" height="0.5" fill="#ffffff"/>
<rect x="271.92" y="62.05" width="1.0" height="4.5" fill="#ffffff"/>
<rect x="271.92" y="111.54" width="1.0" height="1.5" fill="#ffffff"/>
<rect x="273.24" y="37.2" width="1.0" height="3" fill="#ffffff"/>
<rect x="274.56" y="73.25" width="1.0" height="2.5" fill="#ffffff"/>
<rect x="274.56" y="81.01" width="1.0" height="4.5" fill="#ffffff"/>
<rect x="275.88" y="69.18" width="1.0" height="5" fill="#ffffff"/>
<rect x="278.52" y="30.44" width="1.0" height="4.5" fill="#ffffff"/>
<rect x="278.52" y="99.52" width="1.0" height="1.5" fill="#ffffff"/>
<rect x="283.8" y="37.29" width="1.0" height="2" fill="#ffffff"/>
<rect x="285.12" y="25.76" width="1.0" height="4.5" fill="#ffffff"/>
<rect x="286.44" y="45.47" width="1.0" height="4.5" fill="#ffffff"/>
<rect x="286.44" y="82.65" width="1.0" height="4" fill="#ffffff"/>
<rect x="291.72" y="110.22" width="1.0" height="2" fill="#ffffff"/>
<rect x="293.04" y="108.82" width="1.0" height="4" fill="#ffffff"/>
<rect x="297" y="31.55" width="1.0" height="3" fill="#ffffff"/>
<rect x="297" y="64.91" width="1.0" height="3.5" fill="#ffffff"/>
<rect x="298.32" y="110.32" width="1.0" height="2.5" fill="#ffffff"/>
<rect x="300.96" y="87.51" width="1.0" height="2" fill="#ffffff"/>
<rect x="310.2" y="49.29" width="1.0" height="4.5" fill="#ffffff"/>
<rect x="310.2" y="68.74" width="1.0" height="2.5" fill="#ffffff"/>
<rect x="312.84" y="32.21" width="1.0" height="5" fill="#ffffff"/>
<rect x="315.48" y="67.52" width="1.0" height="2" fill="#ffffff"/>
<rect x="316.8" y="105.13" width="1.0" height="1.5" fill="#ffffff"/>
<rect x="318.12" y="41.39" width="1.0" height="3.5" fill="#ffffff"/>
<rect x="318.12" y="46.26" width="1.0" height="4" fill="#ffffff"/>
<rect x="318.12" y="79.77" width="1.0" height="3" fill="#ffffff"/>
<rect x="319.44" y="43.02" width="1.0" height="5" fill="#ffffff"/>
<rect x="322.08" y="29.98" width="1.0" height="2" fill="#ffffff"/>
<rect x="323.4" y="74.66" width="1.0" height="5" fill="#ffffff"/>
<rect x="323.4" y="98.71" width="1.0" height="1.5" fill="#ffffff"/>
<rect x="324.72" y="46.91" width="1.0" height="3.5" fill="#ffffff"/>
<rect x="326.04" y="97.5" width="1.0" height="5" fill="#ffffff"/>
<rect x="326.04" y="110.8" width="1.0" height="1" fill="#ffffff"/>
<rect x="327.36" y="46.6" width="1.0" height="2.5" fill="#ffffff"/>
<polygon points="293,20 295.7,20 295.7,55 293,55" fill="#fff"/>
<polygon points="309.7,20 312.8,20 308.2,112.6 305.2,112.6" fill="#fff"/>
<polygon points="321.1,36 322.6,36 320.4,112.6 318.1,112.6" fill="#fff"/>
<polygon points="286.3,20 288.4,20 288.4,44 286.3,44" fill="#fff"/>
<polygon points="285.6,83 289.4,83 289.4,112.6 285.6,112.6" fill="#fff"/>
<polygon points="328,70 329.5,70 329.5,112.6 328,112.6" fill="#fff"/>
<ellipse cx="259.7" cy="73.85" rx="3" ry="2.25" fill="#fff"/>
<ellipse cx="272.5" cy="76.5" rx="1.5" ry="1.5" fill="#fff"/>
<ellipse cx="263.25" cy="99" rx="1.25" ry="3" fill="#fff"/>
<ellipse cx="276.5" cy="100" rx="1.5" ry="2" fill="#fff"/>
<ellipse cx="269" cy="61" rx="1" ry="1" fill="#fff"/>
<rect x="277.69" y="73.96" width="1.3" height="1.3" fill="#dd6fcc"/>
<rect x="277.97" y="75.68" width="1.3" height="1.3" fill="#dd6fcc"/>
<rect x="283.84" y="69.84" width="1.3" height="1.3" fill="#dd6fcc"/>
<rect x="283.97" y="73.08" width="1.3" height="1.3" fill="#dd6fcc"/>
<rect x="276.28" y="72.44" width="1.3" height="1.3" fill="#dd6fcc"/>
<rect x="284" y="72.25" width="1.3" height="1.3" fill="#dd6fcc"/>
<rect x="287.48" y="76.09" width="1.3" height="1.3" fill="#dd6fcc"/>
<rect x="280.75" y="67.04" width="1.3" height="1.3" fill="#dd6fcc"/>
<rect x="277.42" y="77.42" width="1.3" height="1.3" fill="#dd6fcc"/>
<rect x="284.94" y="73.85" width="1.3" height="1.3" fill="#dd6fcc"/>
<rect x="281.62" y="71.92" width="1.3" height="1.3" fill="#dd6fcc"/>
<rect x="278.68" y="72.44" width="1.3" height="1.3" fill="#dd6fcc"/>
<rect x="277.65" y="74.06" width="1.3" height="1.3" fill="#dd6fcc"/>
<rect x="284.14" y="74.93" width="1.3" height="1.3" fill="#dd6fcc"/>
<rect x="279" y="64.64" width="1.3" height="1.3" fill="#dd6fcc"/>
<rect x="280.16" y="75.24" width="1.3" height="1.3" fill="#dd6fcc"/>
<rect x="282.53" y="76.31" width="1.3" height="1.3" fill="#dd6fcc"/>
<rect x="281.48" y="70.09" width="1.3" height="1.3" fill="#dd6fcc"/>
<rect x="287.86" y="65.97" width="1.3" height="1.3" fill="#dd6fcc"/>
<rect x="278.48" y="73.48" width="1.3" height="1.3" fill="#dd6fcc"/>
<rect x="284.16" y="70.7" width="1.3" height="1.3" fill="#dd6fcc"/>
<rect x="283.18" y="70.84" width="1.3" height="1.3" fill="#dd6fcc"/>
<rect x="284.66" y="78.82" width="1.3" height="1.3" fill="#dd6fcc"/>
<rect x="286.76" y="74.38" width="1.3" height="1.3" fill="#dd6fcc"/>
<rect x="282" y="79.87" width="1.3" height="1.3" fill="#dd6fcc"/>
<rect x="281.69" y="74.14" width="1.3" height="1.3" fill="#dd6fcc"/>
<rect x="287.34" y="75.16" width="1.3" height="1.3" fill="#dd6fcc"/>
<rect x="280.94" y="76.23" width="1.3" height="1.3" fill="#dd6fcc"/>
<rect x="283.74" y="79.29" width="1.3" height="1.3" fill="#dd6fcc"/>
<rect x="284.05" y="72.5" width="1.3" height="1.3" fill="#dd6fcc"/>
<rect x="302.19" y="83.47" width="1.3" height="1.3" fill="#dd6fcc"/>
<rect x="295.34" y="88.97" width="1.3" height="1.3" fill="#dd6fcc"/>
<rect x="301.83" y="78.71" width="1.3" height="1.3" fill="#dd6fcc"/>
<rect x="291.46" y="87.9" width="1.3" height="1.3" fill="#dd6fcc"/>
<rect x="301.1" y="81.55" width="1.3" height="1.3" fill="#dd6fcc"/>
<rect x="293.63" y="85.57" width="1.3" height="1.3" fill="#dd6fcc"/>
<rect x="301.79" y="79.26" width="1.3" height="1.3" fill="#dd6fcc"/>
<rect x="295.93" y="85.28" width="1.3" height="1.3" fill="#dd6fcc"/>
<rect x="293.23" y="81.96" width="1.3" height="1.3" fill="#dd6fcc"/>
<rect x="292.3" y="82.83" width="1.3" height="1.3" fill="#dd6fcc"/>
<rect x="293.34" y="77.48" width="1.3" height="1.3" fill="#dd6fcc"/>
<rect x="295.23" y="78.41" width="1.3" height="1.3" fill="#dd6fcc"/>
<rect x="292.01" y="78.42" width="1.3" height="1.3" fill="#dd6fcc"/>
<rect x="295.57" y="80.66" width="1.3" height="1.3" fill="#dd6fcc"/>
<rect x="299.27" y="81.95" width="1.3" height="1.3" fill="#dd6fcc"/>
<rect x="293.49" y="78.92" width="1.3" height="1.3" fill="#dd6fcc"/>
<rect x="294.14" y="86.36" width="1.3" height="1.3" fill="#dd6fcc"/>
<rect x="293" y="82.63" width="1.3" height="1.3" fill="#dd6fcc"/>
<rect x="300.2" y="87.52" width="1.3" height="1.3" fill="#dd6fcc"/>
<rect x="296.1" y="87.69" width="1.3" height="1.3" fill="#dd6fcc"/>
<rect x="298.24" y="79.44" width="1.3" height="1.3" fill="#dd6fcc"/>
<rect x="291.71" y="78.68" width="1.3" height="1.3" fill="#dd6fcc"/>
<rect x="300" y="81.62" width="1.3" height="1.3" fill="#dd6fcc"/>
<rect x="300.57" y="89.36" width="1.3" height="1.3" fill="#dd6fcc"/>
<rect x="301.54" y="82.69" width="1.3" height="1.3" fill="#dd6fcc"/>
<rect x="283" y="71" width="3.5" height="3.5" fill="#fb9a99"/>
<rect x="257.05" y="45.66" width="1.3" height="1.3" fill="#ff7f0e"/>
<rect x="258.31" y="47.89" width="1.3" height="1.3" fill="#ff7f0e"/>
<rect x="261.21" y="49.53" width="1.3" height="1.3" fill="#ff7f0e"/>
<rect x="261.23" y="49.76" width="1.3" height="1.3" fill="#ff7f0e"/>
<rect x="260.83" y="46.85" width="1.3" height="1.3" fill="#ff7f0e"/>
<rect x="262.02" y="45.64" width="1.3" height="1.3" fill="#ff7f0e"/>
<rect x="261.67" y="48.36" width="1.3" height="1.3" fill="#ff7f0e"/>
<rect x="262.2" y="44.36" width="1.3" height="1.3" fill="#ff7f0e"/>
<rect x="258.13" y="49.7" width="1.3" height="1.3" fill="#ff7f0e"/>
<rect x="257.85" y="46.71" width="1.3" height="1.3" fill="#ff7f0e"/>
<rect x="259.61" y="33.86" width="1.3" height="1.3" fill="#279e68"/>
<rect x="261.28" y="37.64" width="1.3" height="1.3" fill="#279e68"/>
<rect x="258.05" y="31.07" width="1.3" height="1.3" fill="#279e68"/>
<rect x="261.49" y="33.63" width="1.3" height="1.3" fill="#279e68"/>
<rect x="257.49" y="31.11" width="1.3" height="1.3" fill="#279e68"/>
<rect x="256.05" y="34.66" width="1.3" height="1.3" fill="#279e68"/>
<rect x="256.25" y="31.34" width="1.3" height="1.3" fill="#fb9a99"/>
<rect x="261.39" y="30.91" width="1.3" height="1.3" fill="#fb9a99"/>
<rect x="261.63" y="28.4" width="1.3" height="1.3" fill="#fb9a99"/>
<rect x="260.06" y="32.53" width="1.3" height="1.3" fill="#fb9a99"/>
<rect x="261.67" y="28.19" width="1.3" height="1.3" fill="#fb9a99"/>
<rect x="258.05" y="31.34" width="1.3" height="1.3" fill="#fb9a99"/>
<rect x="297.92" y="63.63" width="1.3" height="1.3" fill="#ff7f0e"/>
<rect x="268.71" y="103.6" width="1.3" height="1.3" fill="#ff7f0e"/>
<rect x="323.04" y="84.94" width="1.3" height="1.3" fill="#ff7f0e"/>
<rect x="330.34" y="71.25" width="1.3" height="1.3" fill="#ff7f0e"/>
<rect x="251.33" y="84.27" width="1.3" height="1.3" fill="#ff7f0e"/>
<rect x="253.62" y="89.53" width="1.3" height="1.3" fill="#ff7f0e"/>
<rect x="302.45" y="39.16" width="1.3" height="1.3" fill="#ff7f0e"/>
<rect x="264.67" y="101.86" width="1.3" height="1.3" fill="#ff7f0e"/>
<rect x="256.27" y="51.36" width="1.3" height="1.3" fill="#ff7f0e"/>
<rect x="286.61" y="53.18" width="1.3" height="1.3" fill="#ff7f0e"/>
<rect x="287.63" y="39" width="1.3" height="1.3" fill="#ff7f0e"/>
<rect x="254" y="83.94" width="1.3" height="1.3" fill="#ff7f0e"/>
<rect x="274.65" y="65.1" width="1.3" height="1.3" fill="#ff7f0e"/>
<rect x="306.41" y="28.23" width="1.3" height="1.3" fill="#ff7f0e"/>
<rect x="249.09" y="83.66" width="1.3" height="1.3" fill="#ff7f0e"/>
<rect x="284.81" y="112.1" width="1.3" height="1.3" fill="#ff7f0e"/>
<rect x="319.01" y="111.62" width="1.3" height="1.3" fill="#ff7f0e"/>
<rect x="291.72" y="109.99" width="1.3" height="1.3" fill="#ff7f0e"/>
<rect x="249.22" y="63.7" width="1.3" height="1.3" fill="#ff7f0e"/>
<rect x="320.34" y="56.17" width="1.3" height="1.3" fill="#ff7f0e"/>
<rect x="283.77" y="61.58" width="1.3" height="1.3" fill="#ff7f0e"/>
<rect x="278.3" y="95.28" width="1.3" height="1.3" fill="#ff7f0e"/>
<rect x="273.16" y="94.43" width="1.3" height="1.3" fill="#ff7f0e"/>
<rect x="311.01" y="95.4" width="1.3" height="1.3" fill="#ff7f0e"/>
<rect x="305.43" y="104.72" width="1.3" height="1.3" fill="#ff7f0e"/>
<rect x="320.07" y="78.68" width="1.3" height="1.3" fill="#ff7f0e"/>
<rect x="269.67" y="27.88" width="1.3" height="1.3" fill="#ff7f0e"/>
<rect x="321.43" y="99.46" width="1.3" height="1.3" fill="#ff7f0e"/>
<rect x="324.26" y="44.53" width="1.3" height="1.3" fill="#ff7f0e"/>
<rect x="310.51" y="106.16" width="1.3" height="1.3" fill="#ff7f0e"/>
<rect x="259.83" y="40.27" width="1.3" height="1.3" fill="#ff7f0e"/>
<rect x="305.26" y="96.06" width="1.3" height="1.3" fill="#ff7f0e"/>
<rect x="317.73" y="83.81" width="1.3" height="1.3" fill="#ff7f0e"/>
<rect x="283.66" y="105.33" width="1.3" height="1.3" fill="#ff7f0e"/>
<rect x="308.77" y="42.69" width="1.3" height="1.3" fill="#ff7f0e"/>
<rect x="296.76" y="35.79" width="1.3" height="1.3" fill="#ff7f0e"/>
<rect x="280.1" y="95.28" width="1.3" height="1.3" fill="#ff7f0e"/>
<rect x="245.09" y="69.68" width="1.3" height="1.3" fill="#ff7f0e"/>
<rect x="283.32" y="46.21" width="1.3" height="1.3" fill="#ff7f0e"/>
<rect x="250.01" y="68.46" width="1.3" height="1.3" fill="#ff7f0e"/>
<rect x="274.15" y="29.02" width="1.3" height="1.3" fill="#ff7f0e"/>
<rect x="280.25" y="82.91" width="1.3" height="1.3" fill="#ff7f0e"/>
<rect x="251.68" y="63.58" width="1.3" height="1.3" fill="#ff7f0e"/>
<rect x="277.12" y="99.39" width="1.3" height="1.3" fill="#ff7f0e"/>
<rect x="324.38" y="88.27" width="1.3" height="1.3" fill="#ff7f0e"/>
<rect x="270.62" y="50.05" width="1.3" height="1.3" fill="#ff7f0e"/>
<rect x="318.27" y="67.21" width="1.3" height="1.3" fill="#ff7f0e"/>
<rect x="301.24" y="87.03" width="1.3" height="1.3" fill="#ff7f0e"/>
<rect x="261.42" y="55.63" width="1.3" height="1.3" fill="#ff7f0e"/>
<rect x="320.39" y="34.33" width="1.3" height="1.3" fill="#ff7f0e"/>
<rect x="245.47" y="66.53" width="1.3" height="1.3" fill="#dd6fcc"/>
<rect x="269.63" y="75.17" width="1.3" height="1.3" fill="#dd6fcc"/>
<rect x="313.34" y="23.6" width="1.3" height="1.3" fill="#dd6fcc"/>
<rect x="289.04" y="54.6" width="1.3" height="1.3" fill="#dd6fcc"/>
<rect x="325.55" y="98.18" width="1.3" height="1.3" fill="#dd6fcc"/>
<rect x="323.64" y="88.67" width="1.3" height="1.3" fill="#dd6fcc"/>
<rect x="275.35" y="77.35" width="1.3" height="1.3" fill="#dd6fcc"/>
<rect x="293.06" y="54.08" width="1.3" height="1.3" fill="#dd6fcc"/>
<rect x="270.24" y="80.08" width="1.3" height="1.3" fill="#dd6fcc"/>
<rect x="324.69" y="42.4" width="1.3" height="1.3" fill="#dd6fcc"/>
<rect x="276.16" y="34.65" width="1.3" height="1.3" fill="#dd6fcc"/>
<rect x="276.99" y="55.97" width="1.3" height="1.3" fill="#dd6fcc"/>
<rect x="252.61" y="79.74" width="1.3" height="1.3" fill="#dd6fcc"/>
<rect x="275.08" y="94.7" width="1.3" height="1.3" fill="#dd6fcc"/>
<rect x="266" y="87.97" width="1.3" height="1.3" fill="#dd6fcc"/>
<rect x="277.45" y="109.96" width="1.3" height="1.3" fill="#dd6fcc"/>
<rect x="280.43" y="50.43" width="1.3" height="1.3" fill="#dd6fcc"/>
<rect x="257.98" y="96.79" width="1.3" height="1.3" fill="#dd6fcc"/>
<rect x="273.46" y="101.43" width="1.3" height="1.3" fill="#fb9a99"/>
<rect x="294.31" y="36.65" width="1.3" height="1.3" fill="#fb9a99"/>
<rect x="311.44" y="75.69" width="1.3" height="1.3" fill="#fb9a99"/>
<rect x="311.89" y="107.76" width="1.3" height="1.3" fill="#fb9a99"/>
<rect x="261.91" y="42.34" width="1.3" height="1.3" fill="#fb9a99"/>
<rect x="312.66" y="58.67" width="1.3" height="1.3" fill="#fb9a99"/>
<rect x="291.03" y="34.78" width="1.3" height="1.3" fill="#fb9a99"/>
<rect x="299.15" y="75.7" width="1.3" height="1.3" fill="#fb9a99"/>
<rect x="296.31" y="92.12" width="1.3" height="1.3" fill="#279e68"/>
<rect x="287.08" y="102.66" width="1.3" height="1.3" fill="#279e68"/>
<rect x="297.65" y="34.87" width="1.3" height="1.3" fill="#279e68"/>
<rect x="317.91" y="35.63" width="1.3" height="1.3" fill="#279e68"/>
<rect x="325.52" y="105.83" width="1.3" height="1.3" fill="#279e68"/>
<rect x="308.91" y="73.22" width="1.3" height="1.3" fill="#ff7f0e"/>
<rect x="319.05" y="77.31" width="1.3" height="1.3" fill="#ff7f0e"/>
<rect x="312.49" y="82.02" width="1.3" height="1.3" fill="#ff7f0e"/>
<rect x="311.71" y="72.09" width="1.3" height="1.3" fill="#ff7f0e"/>
<rect x="316.02" y="84.04" width="1.3" height="1.3" fill="#ff7f0e"/>
<rect x="324.2" y="71.7" width="1.3" height="1.3" fill="#ff7f0e"/>
<rect x="319.92" y="75.18" width="1.3" height="1.3" fill="#ff7f0e"/>
<rect x="324.42" y="76.24" width="1.3" height="1.3" fill="#ff7f0e"/>
<rect x="307.05" y="75.29" width="1.3" height="1.3" fill="#ff7f0e"/>
<rect x="315.31" y="72.81" width="1.3" height="1.3" fill="#ff7f0e"/>
<rect x="320.4" y="75.27" width="1.3" height="1.3" fill="#ff7f0e"/>
<rect x="319.84" y="73.72" width="1.3" height="1.3" fill="#ff7f0e"/>
</g>
<rect x="240.7" y="125.05" width="100.3" height="98.3" fill="none" stroke="#5e5656" stroke-width="1.15" />
<text x="71.7" y="11.8" font-size="8.2" text-anchor="middle" >Tile 2117</text>
<text x="181.15" y="11.8" font-size="8.2" text-anchor="middle" >Tile 2128</text>
<text x="290.85" y="11.8" font-size="8.2" text-anchor="middle" >Tile 2119</text>
<text transform="translate(16.3,66.3) rotate(-90)" font-size="8.2" text-anchor="middle" >Niches</text>
<text transform="translate(16.3,174) rotate(-90)" font-size="8.2" text-anchor="middle" >Cell types</text>
<text x="22.3" y="236.3" font-size="8.2" text-anchor="start" >Niches</text>
<text x="152.2" y="236.3" font-size="8.2" text-anchor="start" >Cell types</text>
<rect x="23" y="243.4" width="8" height="8" fill="#a4c8ee" stroke="#4a3f3f" stroke-width="0.8" />
<text x="33.2" y="250.2" font-size="8.2" text-anchor="start" >4</text>
<rect x="65.3" y="243.4" width="8" height="8" fill="#e38fb0" stroke="#4a3f3f" stroke-width="0.8" />
<text x="75.5" y="250.2" font-size="8.2" text-anchor="start" >9</text>
<rect x="23" y="257.6" width="8" height="8" fill="#737373" stroke="#4a3f3f" stroke-width="0.8" />
<text x="33.2" y="264.4" font-size="8.2" text-anchor="start" >7</text>
<rect x="65.3" y="257.6" width="8" height="8" fill="#d9d9d9" stroke="#4a3f3f" stroke-width="0.8" />
<text x="75.5" y="264.4" font-size="8.2" text-anchor="start" >Others</text>
<rect x="152.6" y="243.4" width="8" height="8" fill="#ff7f0e" stroke="#4a3f3f" stroke-width="0.8" />
<text x="162.8" y="250.2" font-size="8.2" text-anchor="start" >HPC</text>
<rect x="152.6" y="257.6" width="8" height="8" fill="#279e68" stroke="#4a3f3f" stroke-width="0.8" />
<text x="162.8" y="264.4" font-size="8.2" text-anchor="start" >HSC-A</text>
<rect x="214.3" y="243.4" width="8" height="8" fill="#dd6fcc" stroke="#4a3f3f" stroke-width="0.8" />
<text x="224.5" y="250.2" font-size="8.2" text-anchor="start" >Hep_Injured</text>
<rect x="214.3" y="257.6" width="8" height="8" fill="#fb9a99" stroke="#4a3f3f" stroke-width="0.8" />
<text x="224.5" y="264.4" font-size="8.2" text-anchor="start" >Macrophage_Inflamed</text>
<rect x="304.8" y="243.4" width="8" height="8" fill="#d9d9d9" stroke="#4a3f3f" stroke-width="0.8" />
<text x="315" y="250.2" font-size="8.2" text-anchor="start" >Others</text>
<rect x="420.6" y="5.8" width="20.95" height="7" fill="#a2c6ee" stroke="none" stroke-width="0" />
<rect x="441.55" y="5.8" width="20.95" height="7" fill="#e38fb0" stroke="none" stroke-width="0" />
<rect x="462.5" y="5.8" width="20.95" height="7" fill="#7a7a7a" stroke="none" stroke-width="0" />
<rect x="483.45" y="5.8" width="20.95" height="7" fill="#dcdcdc" stroke="none" stroke-width="0" />
<rect x="420.6" y="5.8" width="83.8" height="7" fill="none" stroke="#6b5e5e" stroke-width="0.8" />
<rect x="420.6" y="15.95" width="21.25" height="11.22" fill="#9d1128" stroke="none" stroke-width="0" />
<rect x="441.55" y="15.95" width="21.25" height="11.22" fill="#e8eff4" stroke="none" stroke-width="0" />
<rect x="462.5" y="15.95" width="21.25" height="11.22" fill="#9ecae1" stroke="none" stroke-width="0" />
<rect x="483.45" y="15.95" width="21.25" height="11.22" fill="#1b5594" stroke="none" stroke-width="0" />
<rect x="420.6" y="26.87" width="21.25" height="11.22" fill="#9d1128" stroke="none" stroke-width="0" />
<rect x="441.55" y="26.87" width="21.25" height="11.22" fill="#c0daeb" stroke="none" stroke-width="0" />
<rect x="462.5" y="26.87" width="21.25" height="11.22" fill="#6aaed6" stroke="none" stroke-width="0" />
<rect x="483.45" y="26.87" width="21.25" height="11.22" fill="#1b5594" stroke="none" stroke-width="0" />
<rect x="420.6" y="37.79" width="21.25" height="11.22" fill="#ebf1f5" stroke="none" stroke-width="0" />
<rect x="441.55" y="37.79" width="21.25" height="11.22" fill="#9d1128" stroke="none" stroke-width="0" />
<rect x="462.5" y="37.79" width="21.25" height="11.22" fill="#9dcae1" stroke="none" stroke-width="0" />
<rect x="483.45" y="37.79" width="21.25" height="11.22" fill="#1b5594" stroke="none" stroke-width="0" />
<rect x="420.6" y="48.71" width="21.25" height="11.22" fill="#9d1128" stroke="none" stroke-width="0" />
<rect x="441.55" y="48.71" width="21.25" height="11.22" fill="#fbe9e0" stroke="none" stroke-width="0" />
<rect x="462.5" y="48.71" width="21.25" height="11.22" fill="#bfdaea" stroke="none" stroke-width="0" />
<rect x="483.45" y="48.71" width="21.25" height="11.22" fill="#1b5594" stroke="none" stroke-width="0" />
<rect x="420.6" y="59.63" width="21.25" height="11.22" fill="#d05a48" stroke="none" stroke-width="0" />
<rect x="441.55" y="59.63" width="21.25" height="11.22" fill="#9d1128" stroke="none" stroke-width="0" />
<rect x="462.5" y="59.63" width="21.25" height="11.22" fill="#fbede6" stroke="none" stroke-width="0" />
<rect x="483.45" y="59.63" width="21.25" height="11.22" fill="#1b5594" stroke="none" stroke-width="0" />
<rect x="420.6" y="70.55" width="21.25" height="11.22" fill="#9d1128" stroke="none" stroke-width="0" />
<rect x="441.55" y="70.55" width="21.25" height="11.22" fill="#f9cdb5" stroke="none" stroke-width="0" />
<rect x="462.5" y="70.55" width="21.25" height="11.22" fill="#a7cfe4" stroke="none" stroke-width="0" />
<rect x="483.45" y="70.55" width="21.25" height="11.22" fill="#1b5594" stroke="none" stroke-width="0" />
<rect x="420.6" y="81.47" width="21.25" height="11.22" fill="#9d1128" stroke="none" stroke-width="0" />
<rect x="441.55" y="81.47" width="21.25" height="11.22" fill="#dbe9f2" stroke="none" stroke-width="0" />
<rect x="462.5" y="81.47" width="21.25" height="11.22" fill="#a7cfe4" stroke="none" stroke-width="0" />
<rect x="483.45" y="81.47" width="21.25" height="11.22" fill="#1b5594" stroke="none" stroke-width="0" />
<rect x="420.6" y="92.39" width="21.25" height="11.22" fill="#9d1128" stroke="none" stroke-width="0" />
<rect x="441.55" y="92.39" width="21.25" height="11.22" fill="#ef9a7a" stroke="none" stroke-width="0" />
<rect x="462.5" y="92.39" width="21.25" height="11.22" fill="#a7cfe4" stroke="none" stroke-width="0" />
<rect x="483.45" y="92.39" width="21.25" height="11.22" fill="#1b5594" stroke="none" stroke-width="0" />
<rect x="420.6" y="103.31" width="21.25" height="11.22" fill="#9d1128" stroke="none" stroke-width="0" />
<rect x="441.55" y="103.31" width="21.25" height="11.22" fill="#f9d0bb" stroke="none" stroke-width="0" />
<rect x="462.5" y="103.31" width="21.25" height="11.22" fill="#cb5446" stroke="none" stroke-width="0" />
<rect x="483.45" y="103.31" width="21.25" height="11.22" fill="#1b5594" stroke="none" stroke-width="0" />
<rect x="420.6" y="114.23" width="21.25" height="11.22" fill="#9d1128" stroke="none" stroke-width="0" />
<rect x="441.55" y="114.23" width="21.25" height="11.22" fill="#fce3d6" stroke="none" stroke-width="0" />
<rect x="462.5" y="114.23" width="21.25" height="11.22" fill="#a6cfe4" stroke="none" stroke-width="0" />
<rect x="483.45" y="114.23" width="21.25" height="11.22" fill="#1b5594" stroke="none" stroke-width="0" />
<rect x="420.6" y="125.15" width="21.25" height="11.22" fill="#9d1128" stroke="none" stroke-width="0" />
<rect x="441.55" y="125.15" width="21.25" height="11.22" fill="#dde9f2" stroke="none" stroke-width="0" />
<rect x="462.5" y="125.15" width="21.25" height="11.22" fill="#9ccae1" stroke="none" stroke-width="0" />
<rect x="483.45" y="125.15" width="21.25" height="11.22" fill="#1b5594" stroke="none" stroke-width="0" />
<rect x="420.6" y="136.07" width="21.25" height="11.22" fill="#9d1128" stroke="none" stroke-width="0" />
<rect x="441.55" y="136.07" width="21.25" height="11.22" fill="#f4a886" stroke="none" stroke-width="0" />
<rect x="462.5" y="136.07" width="21.25" height="11.22" fill="#c8dfec" stroke="none" stroke-width="0" />
<rect x="483.45" y="136.07" width="21.25" height="11.22" fill="#1b5594" stroke="none" stroke-width="0" />
<rect x="420.6" y="146.99" width="21.25" height="11.22" fill="#9d1128" stroke="none" stroke-width="0" />
<rect x="441.55" y="146.99" width="21.25" height="11.22" fill="#e7eff5" stroke="none" stroke-width="0" />
<rect x="462.5" y="146.99" width="21.25" height="11.22" fill="#9ecae1" stroke="none" stroke-width="0" />
<rect x="483.45" y="146.99" width="21.25" height="11.22" fill="#1b5594" stroke="none" stroke-width="0" />
<rect x="420.6" y="157.91" width="21.25" height="11.22" fill="#9d1128" stroke="none" stroke-width="0" />
<rect x="441.55" y="157.91" width="21.25" height="11.22" fill="#fbe6dc" stroke="none" stroke-width="0" />
<rect x="462.5" y="157.91" width="21.25" height="11.22" fill="#4b99ca" stroke="none" stroke-width="0" />
<rect x="483.45" y="157.91" width="21.25" height="11.22" fill="#1b5594" stroke="none" stroke-width="0" />
<rect x="420.6" y="168.83" width="21.25" height="11.22" fill="#f8c5aa" stroke="none" stroke-width="0" />
<rect x="441.55" y="168.83" width="21.25" height="11.22" fill="#9d1128" stroke="none" stroke-width="0" />
<rect x="462.5" y="168.83" width="21.25" height="11.22" fill="#fdd8c6" stroke="none" stroke-width="0" />
<rect x="483.45" y="168.83" width="21.25" height="11.22" fill="#1b5594" stroke="none" stroke-width="0" />
<rect x="420.6" y="179.75" width="21.25" height="11.22" fill="#9d1128" stroke="none" stroke-width="0" />
<rect x="441.55" y="179.75" width="21.25" height="11.22" fill="#e9f0f4" stroke="none" stroke-width="0" />
<rect x="462.5" y="179.75" width="21.25" height="11.22" fill="#a0cbe2" stroke="none" stroke-width="0" />
<rect x="483.45" y="179.75" width="21.25" height="11.22" fill="#1b5594" stroke="none" stroke-width="0" />
<rect x="420.6" y="190.67" width="21.25" height="11.22" fill="#f8c5aa" stroke="none" stroke-width="0" />
<rect x="441.55" y="190.67" width="21.25" height="11.22" fill="#cc4c42" stroke="none" stroke-width="0" />
<rect x="462.5" y="190.67" width="21.25" height="11.22" fill="#9d1128" stroke="none" stroke-width="0" />
<rect x="483.45" y="190.67" width="21.25" height="11.22" fill="#1b5594" stroke="none" stroke-width="0" />
<rect x="420.6" y="201.59" width="21.25" height="11.22" fill="#f4a582" stroke="none" stroke-width="0" />
<rect x="441.55" y="201.59" width="21.25" height="11.22" fill="#9d1128" stroke="none" stroke-width="0" />
<rect x="462.5" y="201.59" width="21.25" height="11.22" fill="#f0f3f6" stroke="none" stroke-width="0" />
<rect x="483.45" y="201.59" width="21.25" height="11.22" fill="#1b5594" stroke="none" stroke-width="0" />
<rect x="420.6" y="212.51" width="21.25" height="11.22" fill="#f4a582" stroke="none" stroke-width="0" />
<rect x="441.55" y="212.51" width="21.25" height="11.22" fill="#b7202f" stroke="none" stroke-width="0" />
<rect x="462.5" y="212.51" width="21.25" height="11.22" fill="#a51429" stroke="none" stroke-width="0" />
<rect x="483.45" y="212.51" width="21.25" height="11.22" fill="#1b5594" stroke="none" stroke-width="0" />
<rect x="420.6" y="223.43" width="21.25" height="11.22" fill="#fce4d8" stroke="none" stroke-width="0" />
<rect x="441.55" y="223.43" width="21.25" height="11.22" fill="#a51429" stroke="none" stroke-width="0" />
<rect x="462.5" y="223.43" width="21.25" height="11.22" fill="#b51d2e" stroke="none" stroke-width="0" />
<rect x="483.45" y="223.43" width="21.25" height="11.22" fill="#1b5594" stroke="none" stroke-width="0" />
<rect x="420.6" y="15.95" width="83.8" height="218.4" fill="none" stroke="#333" stroke-width="0.6" />
<line x1="504.4" y1="21.41" x2="508" y2="21.41" stroke="#222" stroke-width="0.9" />
<text x="512.5" y="24.31" font-size="8.2" text-anchor="start" font-style="italic">Saa2</text>
<line x1="504.4" y1="32.33" x2="508" y2="32.33" stroke="#222" stroke-width="0.9" />
<text x="512.5" y="35.23" font-size="8.2" text-anchor="start" font-style="italic">Lcn2</text>
<line x1="504.4" y1="43.25" x2="508" y2="43.25" stroke="#222" stroke-width="0.9" />
<text x="512.5" y="46.15" font-size="8.2" text-anchor="start" font-style="italic">Mmp7</text>
<line x1="504.4" y1="54.17" x2="508" y2="54.17" stroke="#222" stroke-width="0.9" />
<text x="512.5" y="57.07" font-size="8.2" text-anchor="start" font-style="italic">Saa1</text>
<line x1="504.4" y1="65.09" x2="508" y2="65.09" stroke="#222" stroke-width="0.9" />
<text x="512.5" y="67.99" font-size="8.2" text-anchor="start" font-style="italic">Spp1</text>
<line x1="504.4" y1="76.01" x2="508" y2="76.01" stroke="#222" stroke-width="0.9" />
<text x="512.5" y="78.91" font-size="8.2" text-anchor="start" font-style="italic">Col1a1</text>
<line x1="504.4" y1="86.93" x2="508" y2="86.93" stroke="#222" stroke-width="0.9" />
<text x="512.5" y="89.83" font-size="8.2" text-anchor="start" font-style="italic">Orm2</text>
<line x1="504.4" y1="97.85" x2="508" y2="97.85" stroke="#222" stroke-width="0.9" />
<text x="512.5" y="100.75" font-size="8.2" text-anchor="start" font-style="italic">Col3a1</text>
<line x1="504.4" y1="108.77" x2="508" y2="108.77" stroke="#222" stroke-width="0.9" />
<text x="512.5" y="111.67" font-size="8.2" text-anchor="start" font-style="italic">Slpi</text>
<line x1="504.4" y1="119.69" x2="508" y2="119.69" stroke="#222" stroke-width="0.9" />
<text x="512.5" y="122.59" font-size="8.2" text-anchor="start" font-style="italic">Col1a2</text>
<line x1="504.4" y1="130.61" x2="508" y2="130.61" stroke="#222" stroke-width="0.9" />
<text x="512.5" y="133.51" font-size="8.2" text-anchor="start" font-style="italic">H2-Aa</text>
<line x1="504.4" y1="141.53" x2="508" y2="141.53" stroke="#222" stroke-width="0.9" />
<text x="512.5" y="144.43" font-size="8.2" text-anchor="start" font-style="italic">Gsn</text>
<line x1="504.4" y1="152.45" x2="508" y2="152.45" stroke="#222" stroke-width="0.9" />
<text x="512.5" y="155.35" font-size="8.2" text-anchor="start" font-style="italic">H2-Ab1</text>
<line x1="504.4" y1="163.37" x2="508" y2="163.37" stroke="#222" stroke-width="0.9" />
<text x="512.5" y="166.27" font-size="8.2" text-anchor="start" font-style="italic">H2-Eb1</text>
<line x1="504.4" y1="174.29" x2="508" y2="174.29" stroke="#222" stroke-width="0.9" />
<text x="512.5" y="177.19" font-size="8.2" text-anchor="start" font-style="italic">Mfge8</text>
<line x1="504.4" y1="185.21" x2="508" y2="185.21" stroke="#222" stroke-width="0.9" />
<text x="512.5" y="188.11" font-size="8.2" text-anchor="start" font-style="italic">Cd74</text>
<line x1="504.4" y1="196.13" x2="508" y2="196.13" stroke="#222" stroke-width="0.9" />
<text x="512.5" y="199.03" font-size="8.2" text-anchor="start" font-style="italic">Gpx3</text>
<line x1="504.4" y1="207.05" x2="508" y2="207.05" stroke="#222" stroke-width="0.9" />
<text x="512.5" y="209.95" font-size="8.2" text-anchor="start" font-style="italic">Gas6</text>
<line x1="504.4" y1="217.97" x2="508" y2="217.97" stroke="#222" stroke-width="0.9" />
<text x="512.5" y="220.87" font-size="8.2" text-anchor="start" font-style="italic">H19</text>
<line x1="504.4" y1="228.89" x2="508" y2="228.89" stroke="#222" stroke-width="0.9" />
<text x="512.5" y="231.79" font-size="8.2" text-anchor="start" font-style="italic">Wfdc12</text>
<line x1="431.08" y1="234.35" x2="431.08" y2="237.35" stroke="#333" stroke-width="0.8" />
<text transform="translate(433.98,241.35) rotate(-90)" font-size="8.2" text-anchor="end" >4</text>
<line x1="452.03" y1="234.35" x2="452.03" y2="237.35" stroke="#333" stroke-width="0.8" />
<text transform="translate(454.93,241.35) rotate(-90)" font-size="8.2" text-anchor="end" >9</text>
<line x1="472.98" y1="234.35" x2="472.98" y2="237.35" stroke="#333" stroke-width="0.8" />
<text transform="translate(475.88,241.35) rotate(-90)" font-size="8.2" text-anchor="end" >7</text>
<line x1="493.93" y1="234.35" x2="493.93" y2="237.35" stroke="#333" stroke-width="0.8" />
<text transform="translate(496.82,241.35) rotate(-90)" font-size="8.2" text-anchor="end" >Others</text>
<defs><linearGradient id="rdbu" x1="0" y1="1" x2="0" y2="0"><stop offset="0" stop-color="#2161a8"/><stop offset="0.15" stop-color="#3d88c0"/><stop offset="0.3" stop-color="#8fc2dd"/><stop offset="0.42" stop-color="#dbe9f2"/><stop offset="0.5" stop-color="#f7f7f7"/><stop offset="0.6" stop-color="#fbd9c7"/><stop offset="0.72" stop-color="#f4a582"/><stop offset="0.85" stop-color="#d6604d"/><stop offset="1" stop-color="#a8152b"/></linearGradient></defs>
<rect x="383.4" y="32.4" width="10.3" height="76.4" fill="url(#rdbu)" stroke="#4a3f3f" stroke-width="0.6" />
<line x1="393.7" y1="108.8" x2="396.4" y2="108.8" stroke="#333" stroke-width="0.8" />
<text x="398.8" y="112" font-size="8.2" text-anchor="start" >0.0</text>
<line x1="393.7" y1="93.52" x2="396.4" y2="93.52" stroke="#333" stroke-width="0.8" />
<text x="398.8" y="96.72" font-size="8.2" text-anchor="start" >0.2</text>
<line x1="393.7" y1="78.24" x2="396.4" y2="78.24" stroke="#333" stroke-width="0.8" />
<text x="398.8" y="81.44" font-size="8.2" text-anchor="start" >0.4</text>
<line x1="393.7" y1="62.96" x2="396.4" y2="62.96" stroke="#333" stroke-width="0.8" />
<text x="398.8" y="66.16" font-size="8.2" text-anchor="start" >0.6</text>
<line x1="393.7" y1="47.68" x2="396.4" y2="47.68" stroke="#333" stroke-width="0.8" />
<text x="398.8" y="50.88" font-size="8.2" text-anchor="start" >0.8</text>
<line x1="393.7" y1="32.4" x2="396.4" y2="32.4" stroke="#333" stroke-width="0.8" />
<text x="398.8" y="35.6" font-size="8.2" text-anchor="start" >1.0</text>
<text transform="translate(370.9,71.7) rotate(-90)" font-size="8.2" text-anchor="middle" >Normalized average</text>
<text transform="translate(379.9,71.3) rotate(-90)" font-size="8.2" text-anchor="middle" >expression</text>
<text x="637.8" y="12" font-size="8.2" text-anchor="middle" >Cellular infiltration</text>
<rect x="591.4" y="16.3" width="92.8" height="91.3" fill="none" stroke="#222" stroke-width="0.9" />
<line x1="588.4" y1="43.4" x2="591.4" y2="43.4" stroke="#222" stroke-width="1.0" />
<text x="585.6" y="46.1" font-size="8.2" text-anchor="end" >0.5</text>
<line x1="588.4" y1="62.85" x2="591.4" y2="62.85" stroke="#222" stroke-width="1.0" />
<text x="585.6" y="65.55" font-size="8.2" text-anchor="end" >0.3</text>
<line x1="588.4" y1="82.3" x2="591.4" y2="82.3" stroke="#222" stroke-width="1.0" />
<text x="585.6" y="85" font-size="8.2" text-anchor="end" >0.1</text>
<line x1="588.4" y1="101.75" x2="591.4" y2="101.75" stroke="#222" stroke-width="1.0" />
<text x="585.6" y="104.45" font-size="8.2" text-anchor="end" >-0.1</text>
<line x1="604.8" y1="51.18" x2="604.8" y2="71.41" stroke="#333" stroke-width="0.8" />
<line x1="604.8" y1="85.22" x2="604.8" y2="104.67" stroke="#333" stroke-width="0.8" />
<line x1="601.1" y1="51.18" x2="608.5" y2="51.18" stroke="#333" stroke-width="0.8" />
<line x1="601.1" y1="104.67" x2="608.5" y2="104.67" stroke="#333" stroke-width="0.8" />
<rect x="597.3" y="71.41" width="15" height="13.81" fill="#a4c8ee" stroke="#333" stroke-width="0.8" />
<line x1="597.3" y1="78.6" x2="612.3" y2="78.6" stroke="#333" stroke-width="0.9" />
<line x1="604.8" y1="107.6" x2="604.8" y2="110.6" stroke="#222" stroke-width="1.0" />
<line x1="626.8" y1="52.64" x2="626.8" y2="71.21" stroke="#333" stroke-width="0.8" />
<line x1="626.8" y1="85.02" x2="626.8" y2="100.58" stroke="#333" stroke-width="0.8" />
<line x1="623.1" y1="52.64" x2="630.5" y2="52.64" stroke="#333" stroke-width="0.8" />
<line x1="623.1" y1="100.58" x2="630.5" y2="100.58" stroke="#333" stroke-width="0.8" />
<rect x="619.3" y="71.21" width="15" height="13.81" fill="#e38fb0" stroke="#333" stroke-width="0.8" />
<line x1="619.3" y1="80.55" x2="634.3" y2="80.55" stroke="#333" stroke-width="0.9" />
<line x1="626.8" y1="107.6" x2="626.8" y2="110.6" stroke="#222" stroke-width="1.0" />
<line x1="649" y1="57.02" x2="649" y2="73.94" stroke="#333" stroke-width="0.8" />
<line x1="649" y1="85.02" x2="649" y2="100.39" stroke="#333" stroke-width="0.8" />
<line x1="645.3" y1="57.02" x2="652.7" y2="57.02" stroke="#333" stroke-width="0.8" />
<line x1="645.3" y1="100.39" x2="652.7" y2="100.39" stroke="#333" stroke-width="0.8" />
<rect x="641.5" y="73.94" width="15" height="11.09" fill="#7a7a7a" stroke="#333" stroke-width="0.8" />
<line x1="641.5" y1="80.55" x2="656.5" y2="80.55" stroke="#333" stroke-width="0.9" />
<line x1="649" y1="107.6" x2="649" y2="110.6" stroke="#222" stroke-width="1.0" />
<line x1="671.7" y1="65.77" x2="671.7" y2="80.26" stroke="#333" stroke-width="0.8" />
<line x1="671.7" y1="88.72" x2="671.7" y2="102.24" stroke="#333" stroke-width="0.8" />
<line x1="668" y1="65.77" x2="675.4" y2="65.77" stroke="#333" stroke-width="0.8" />
<line x1="668" y1="102.24" x2="675.4" y2="102.24" stroke="#333" stroke-width="0.8" />
<rect x="664.2" y="80.26" width="15" height="8.46" fill="#dcdcdc" stroke="#333" stroke-width="0.8" />
<line x1="664.2" y1="85.41" x2="679.2" y2="85.41" stroke="#333" stroke-width="0.9" />
<line x1="671.7" y1="107.6" x2="671.7" y2="110.6" stroke="#222" stroke-width="1.0" />
<text x="604.8" y="119.9" font-size="8.2" text-anchor="middle" >4</text>
<text x="626.8" y="119.9" font-size="8.2" text-anchor="middle" >9</text>
<text x="649" y="119.9" font-size="8.2" text-anchor="middle" >7</text>
<text x="671.7" y="119.9" font-size="8.2" text-anchor="middle" >Others</text>
<text x="638.4" y="129.8" font-size="8.2" text-anchor="middle" >Niches</text>
<text transform="translate(570.4,61.95) rotate(-90)" font-size="8.2" text-anchor="middle" >Signature score</text>
<line x1="604.6" y1="27.3" x2="671.8" y2="27.3" stroke="#222" stroke-width="1.0" />
<text x="638.4" y="25.2" font-size="6.6" text-anchor="middle"><tspan font-style="italic">p</tspan> = 4.67e-129</text>
<line x1="626.8" y1="40.2" x2="671.8" y2="40.2" stroke="#222" stroke-width="1.0" />
<text x="649.3" y="38.1" font-size="6.6" text-anchor="middle"><tspan font-style="italic">p</tspan> = 5.58e-61</text>
<line x1="649.7" y1="53.3" x2="671.8" y2="53.3" stroke="#222" stroke-width="1.0" />
<text x="659.8" y="51.2" font-size="6.6" text-anchor="middle"><tspan font-style="italic">p</tspan> = 2.21e-161</text>
<text x="637.8" y="146.4" font-size="8.2" text-anchor="middle" >Fibrogenesis</text>
<rect x="591.4" y="150.7" width="92.8" height="91.4" fill="none" stroke="#222" stroke-width="0.9" />
<line x1="588.4" y1="178.11" x2="591.4" y2="178.11" stroke="#222" stroke-width="1.0" />
<text x="585.6" y="180.81" font-size="8.2" text-anchor="end" >0.3</text>
<line x1="588.4" y1="192.08" x2="591.4" y2="192.08" stroke="#222" stroke-width="1.0" />
<text x="585.6" y="194.78" font-size="8.2" text-anchor="end" >0.2</text>
<line x1="588.4" y1="206.05" x2="591.4" y2="206.05" stroke="#222" stroke-width="1.0" />
<text x="585.6" y="208.75" font-size="8.2" text-anchor="end" >0.1</text>
<line x1="588.4" y1="220.02" x2="591.4" y2="220.02" stroke="#222" stroke-width="1.0" />
<text x="585.6" y="222.72" font-size="8.2" text-anchor="end" >0.0</text>
<line x1="588.4" y1="233.99" x2="591.4" y2="233.99" stroke="#222" stroke-width="1.0" />
<text x="585.6" y="236.69" font-size="8.2" text-anchor="end" >-0.1</text>
<line x1="604.8" y1="183.7" x2="604.8" y2="205.35" stroke="#333" stroke-width="0.8" />
<line x1="604.8" y1="219.74" x2="604.8" y2="239.3" stroke="#333" stroke-width="0.8" />
<line x1="601.1" y1="183.7" x2="608.5" y2="183.7" stroke="#333" stroke-width="0.8" />
<line x1="601.1" y1="239.3" x2="608.5" y2="239.3" stroke="#333" stroke-width="0.8" />
<rect x="597.3" y="205.35" width="15" height="14.39" fill="#a4c8ee" stroke="#333" stroke-width="0.8" />
<line x1="597.3" y1="213.32" x2="612.3" y2="213.32" stroke="#333" stroke-width="0.9" />
<line x1="604.8" y1="242.1" x2="604.8" y2="245.1" stroke="#222" stroke-width="1.0" />
<line x1="626.8" y1="183.42" x2="626.8" y2="204.1" stroke="#333" stroke-width="0.8" />
<line x1="626.8" y1="218.34" x2="626.8" y2="233.99" stroke="#333" stroke-width="0.8" />
<line x1="623.1" y1="183.42" x2="630.5" y2="183.42" stroke="#333" stroke-width="0.8" />
<line x1="623.1" y1="233.99" x2="630.5" y2="233.99" stroke="#333" stroke-width="0.8" />
<rect x="619.3" y="204.1" width="15" height="14.25" fill="#e38fb0" stroke="#333" stroke-width="0.8" />
<line x1="619.3" y1="211.92" x2="634.3" y2="211.92" stroke="#333" stroke-width="0.9" />
<line x1="626.8" y1="242.1" x2="626.8" y2="245.1" stroke="#222" stroke-width="1.0" />
<line x1="649" y1="192.22" x2="649" y2="208.85" stroke="#333" stroke-width="0.8" />
<line x1="649" y1="220.3" x2="649" y2="235.39" stroke="#333" stroke-width="0.8" />
<line x1="645.3" y1="192.22" x2="652.7" y2="192.22" stroke="#333" stroke-width="0.8" />
<line x1="645.3" y1="235.39" x2="652.7" y2="235.39" stroke="#333" stroke-width="0.8" />
<rect x="641.5" y="208.85" width="15" height="11.46" fill="#7a7a7a" stroke="#333" stroke-width="0.8" />
<line x1="641.5" y1="215.27" x2="656.5" y2="215.27" stroke="#333" stroke-width="0.9" />
<line x1="649" y1="242.1" x2="649" y2="245.1" stroke="#222" stroke-width="1.0" />
<line x1="671.7" y1="201.16" x2="671.7" y2="215.41" stroke="#333" stroke-width="0.8" />
<line x1="671.7" y1="224.21" x2="671.7" y2="238.18" stroke="#333" stroke-width="0.8" />
<line x1="668" y1="201.16" x2="675.4" y2="201.16" stroke="#333" stroke-width="0.8" />
<line x1="668" y1="238.18" x2="675.4" y2="238.18" stroke="#333" stroke-width="0.8" />
<rect x="664.2" y="215.41" width="15" height="8.8" fill="#dcdcdc" stroke="#333" stroke-width="0.8" />
<line x1="664.2" y1="220.3" x2="679.2" y2="220.3" stroke="#333" stroke-width="0.9" />
<line x1="671.7" y1="242.1" x2="671.7" y2="245.1" stroke="#222" stroke-width="1.0" />
<text x="604.8" y="254.4" font-size="8.2" text-anchor="middle" >4</text>
<text x="626.8" y="254.4" font-size="8.2" text-anchor="middle" >9</text>
<text x="649" y="254.4" font-size="8.2" text-anchor="middle" >7</text>
<text x="671.7" y="254.4" font-size="8.2" text-anchor="middle" >Others</text>
<text x="638.4" y="264.3" font-size="8.2" text-anchor="middle" >Niches</text>
<text transform="translate(570.4,196.4) rotate(-90)" font-size="8.2" text-anchor="middle" >Signature score</text>
<line x1="604.6" y1="161.3" x2="671.8" y2="161.3" stroke="#222" stroke-width="1.0" />
<text x="638.4" y="159.2" font-size="6.6" text-anchor="middle"><tspan font-style="italic">p</tspan> = 5.65e-153</text>
<line x1="626.8" y1="174.5" x2="671.8" y2="174.5" stroke="#222" stroke-width="1.0" />
<text x="649.3" y="172.4" font-size="6.6" text-anchor="middle"><tspan font-style="italic">p</tspan> = 1.50e-87</text>
<line x1="649.7" y1="187.9" x2="671.8" y2="187.9" stroke="#222" stroke-width="1.0" />
<text x="659.8" y="185.8" font-size="6.6" text-anchor="middle"><tspan font-style="italic">p</tspan> = 9.95e-169</text>
<text x="158.8" y="283.9" font-size="8.17" text-anchor="middle" >The number of links on spatial connectivity graph</text>
<text x="88.7" y="298.6" font-size="8.2" text-anchor="middle" >Niches enriched in normal livers</text>
<rect x="34.7" y="304.4" width="12.2" height="12.2" fill="#b4b4b4" stroke="#3d3535" stroke-width="0.8" />
<rect x="50.7" y="304.4" width="12.2" height="12.2" fill="#f58a68" stroke="#3d3535" stroke-width="0.8" />
<rect x="66.7" y="304.4" width="12.2" height="12.2" fill="#fdf0ea" stroke="#3d3535" stroke-width="0.8" />
<rect x="82.7" y="304.4" width="12.2" height="12.2" fill="#fdf0ea" stroke="#3d3535" stroke-width="0.8" />
<rect x="98.7" y="304.4" width="12.2" height="12.2" fill="#fdf0ea" stroke="#3d3535" stroke-width="0.8" />
<rect x="114.7" y="304.4" width="12.2" height="12.2" fill="#fdf0ea" stroke="#3d3535" stroke-width="0.8" />
<rect x="130.7" y="304.4" width="12.2" height="12.2" fill="#fdf0ea" stroke="#3d3535" stroke-width="0.8" />
<rect x="34.7" y="320.35" width="12.2" height="12.2" fill="#1f62a8" stroke="#3d3535" stroke-width="0.8" />
<rect x="50.7" y="320.35" width="12.2" height="12.2" fill="#b4b4b4" stroke="#3d3535" stroke-width="0.8" />
<rect x="66.7" y="320.35" width="12.2" height="12.2" fill="#f58a68" stroke="#3d3535" stroke-width="0.8" />
<rect x="82.7" y="320.35" width="12.2" height="12.2" fill="#fdf0ea" stroke="#3d3535" stroke-width="0.8" />
<rect x="98.7" y="320.35" width="12.2" height="12.2" fill="#fdf0ea" stroke="#3d3535" stroke-width="0.8" />
<rect x="114.7" y="320.35" width="12.2" height="12.2" fill="#fdf0ea" stroke="#3d3535" stroke-width="0.8" />
<rect x="130.7" y="320.35" width="12.2" height="12.2" fill="#fdf0ea" stroke="#3d3535" stroke-width="0.8" />
<rect x="34.7" y="336.3" width="12.2" height="12.2" fill="#e3eef9" stroke="#3d3535" stroke-width="0.8" />
<rect x="50.7" y="336.3" width="12.2" height="12.2" fill="#2e78b8" stroke="#3d3535" stroke-width="0.8" />
<rect x="66.7" y="336.3" width="12.2" height="12.2" fill="#b4b4b4" stroke="#3d3535" stroke-width="0.8" />
<rect x="82.7" y="336.3" width="12.2" height="12.2" fill="#fde6dc" stroke="#3d3535" stroke-width="0.8" />
<rect x="98.7" y="336.3" width="12.2" height="12.2" fill="#fdf0ea" stroke="#3d3535" stroke-width="0.8" />
<rect x="114.7" y="336.3" width="12.2" height="12.2" fill="#fdf0ea" stroke="#3d3535" stroke-width="0.8" />
<rect x="130.7" y="336.3" width="12.2" height="12.2" fill="#fdf0ea" stroke="#3d3535" stroke-width="0.8" />
<rect x="34.7" y="352.25" width="12.2" height="12.2" fill="#f4f8fd" stroke="#3d3535" stroke-width="0.8" />
<rect x="50.7" y="352.25" width="12.2" height="12.2" fill="#e8f1fa" stroke="#3d3535" stroke-width="0.8" />
<rect x="66.7" y="352.25" width="12.2" height="12.2" fill="#5aa0d0" stroke="#3d3535" stroke-width="0.8" />
<rect x="82.7" y="352.25" width="12.2" height="12.2" fill="#b4b4b4" stroke="#3d3535" stroke-width="0.8" />
<rect x="98.7" y="352.25" width="12.2" height="12.2" fill="#fde9e0" stroke="#3d3535" stroke-width="0.8" />
<rect x="114.7" y="352.25" width="12.2" height="12.2" fill="#fdf0ea" stroke="#3d3535" stroke-width="0.8" />
<rect x="130.7" y="352.25" width="12.2" height="12.2" fill="#fdf0ea" stroke="#3d3535" stroke-width="0.8" />
<rect x="34.7" y="368.2" width="12.2" height="12.2" fill="#f4f8fd" stroke="#3d3535" stroke-width="0.8" />
<rect x="50.7" y="368.2" width="12.2" height="12.2" fill="#f4f8fd" stroke="#3d3535" stroke-width="0.8" />
<rect x="66.7" y="368.2" width="12.2" height="12.2" fill="#f4f8fd" stroke="#3d3535" stroke-width="0.8" />
<rect x="82.7" y="368.2" width="12.2" height="12.2" fill="#4a96cb" stroke="#3d3535" stroke-width="0.8" />
<rect x="98.7" y="368.2" width="12.2" height="12.2" fill="#b4b4b4" stroke="#3d3535" stroke-width="0.8" />
<rect x="114.7" y="368.2" width="12.2" height="12.2" fill="#fdf0ea" stroke="#3d3535" stroke-width="0.8" />
<rect x="130.7" y="368.2" width="12.2" height="12.2" fill="#fdf0ea" stroke="#3d3535" stroke-width="0.8" />
<rect x="34.7" y="384.15" width="12.2" height="12.2" fill="#f4f8fd" stroke="#3d3535" stroke-width="0.8" />
<rect x="50.7" y="384.15" width="12.2" height="12.2" fill="#f4f8fd" stroke="#3d3535" stroke-width="0.8" />
<rect x="66.7" y="384.15" width="12.2" height="12.2" fill="#f4f8fd" stroke="#3d3535" stroke-width="0.8" />
<rect x="82.7" y="384.15" width="12.2" height="12.2" fill="#eaf2fa" stroke="#3d3535" stroke-width="0.8" />
<rect x="98.7" y="384.15" width="12.2" height="12.2" fill="#2b75b8" stroke="#3d3535" stroke-width="0.8" />
<rect x="114.7" y="384.15" width="12.2" height="12.2" fill="#b4b4b4" stroke="#3d3535" stroke-width="0.8" />
<rect x="130.7" y="384.15" width="12.2" height="12.2" fill="#fdf0ea" stroke="#3d3535" stroke-width="0.8" />
<rect x="34.7" y="400.1" width="12.2" height="12.2" fill="#f4f8fd" stroke="#3d3535" stroke-width="0.8" />
<rect x="50.7" y="400.1" width="12.2" height="12.2" fill="#f4f8fd" stroke="#3d3535" stroke-width="0.8" />
<rect x="66.7" y="400.1" width="12.2" height="12.2" fill="#f4f8fd" stroke="#3d3535" stroke-width="0.8" />
<rect x="82.7" y="400.1" width="12.2" height="12.2" fill="#f4f8fd" stroke="#3d3535" stroke-width="0.8" />
<rect x="98.7" y="400.1" width="12.2" height="12.2" fill="#dde9f5" stroke="#3d3535" stroke-width="0.8" />
<rect x="114.7" y="400.1" width="12.2" height="12.2" fill="#0b3370" stroke="#3d3535" stroke-width="0.8" />
<rect x="130.7" y="400.1" width="12.2" height="12.2" fill="#b4b4b4" stroke="#3d3535" stroke-width="0.8" />
<line x1="31.2" y1="310.5" x2="33.7" y2="310.5" stroke="#222" stroke-width="1.0" />
<text x="29" y="313.4" font-size="8.2" text-anchor="end" >0</text>
<line x1="31.2" y1="326.45" x2="33.7" y2="326.45" stroke="#222" stroke-width="1.0" />
<text x="29" y="329.35" font-size="8.2" text-anchor="end" >3</text>
<line x1="31.2" y1="342.4" x2="33.7" y2="342.4" stroke="#222" stroke-width="1.0" />
<text x="29" y="345.3" font-size="8.2" text-anchor="end" >12</text>
<line x1="31.2" y1="358.35" x2="33.7" y2="358.35" stroke="#222" stroke-width="1.0" />
<text x="29" y="361.25" font-size="8.2" text-anchor="end" >5</text>
<line x1="31.2" y1="374.3" x2="33.7" y2="374.3" stroke="#222" stroke-width="1.0" />
<text x="29" y="377.2" font-size="8.2" text-anchor="end" >14</text>
<line x1="31.2" y1="390.25" x2="33.7" y2="390.25" stroke="#222" stroke-width="1.0" />
<text x="29" y="393.15" font-size="8.2" text-anchor="end" >11</text>
<line x1="31.2" y1="406.2" x2="33.7" y2="406.2" stroke="#222" stroke-width="1.0" />
<text x="29" y="409.1" font-size="8.2" text-anchor="end" >1</text>
<line x1="40.8" y1="413.3" x2="40.8" y2="415.8" stroke="#222" stroke-width="1.0" />
<text x="40.8" y="423.9" font-size="8.2" text-anchor="middle" >0</text>
<line x1="56.8" y1="413.3" x2="56.8" y2="415.8" stroke="#222" stroke-width="1.0" />
<text x="56.8" y="423.9" font-size="8.2" text-anchor="middle" >3</text>
<line x1="72.8" y1="413.3" x2="72.8" y2="415.8" stroke="#222" stroke-width="1.0" />
<text x="72.8" y="423.9" font-size="8.2" text-anchor="middle" >12</text>
<line x1="88.8" y1="413.3" x2="88.8" y2="415.8" stroke="#222" stroke-width="1.0" />
<text x="88.8" y="423.9" font-size="8.2" text-anchor="middle" >5</text>
<line x1="104.8" y1="413.3" x2="104.8" y2="415.8" stroke="#222" stroke-width="1.0" />
<text x="104.8" y="423.9" font-size="8.2" text-anchor="middle" >14</text>
<line x1="120.8" y1="413.3" x2="120.8" y2="415.8" stroke="#222" stroke-width="1.0" />
<text x="120.8" y="423.9" font-size="8.2" text-anchor="middle" >11</text>
<line x1="136.8" y1="413.3" x2="136.8" y2="415.8" stroke="#222" stroke-width="1.0" />
<text x="136.8" y="423.9" font-size="8.2" text-anchor="middle" >1</text>
<text x="33.4" y="435.2" font-size="8.2" text-anchor="start" >CV</text>
<line x1="46.7" y1="432.3" x2="126.7" y2="432.3" stroke="#222" stroke-width="1.0" />
<polygon points="130.7,432.3 124.2,430.1 124.2,434.5" fill="#222" />
<text x="131.5" y="435.2" font-size="8.2" text-anchor="start" >PN</text>
<text transform="translate(16.1,309.5) rotate(-90)" font-size="8.2" text-anchor="middle" >CV</text>
<line x1="13.2" y1="318.4" x2="13.2" y2="396.4" stroke="#222" stroke-width="1.0" />
<polygon points="13.2,400.4 11,393.9 15.4,393.9" fill="#222" />
<text transform="translate(16.1,407) rotate(-90)" font-size="8.2" text-anchor="middle" >PN</text>
<text x="238.1" y="297.5" font-size="8.2" text-anchor="middle" >Niches enriched in TD livers</text>
<rect x="184.1" y="303.3" width="12.2" height="12.2" fill="#b4b4b4" stroke="#3d3535" stroke-width="0.8" />
<rect x="200.1" y="303.3" width="12.2" height="12.2" fill="#f7a083" stroke="#3d3535" stroke-width="0.8" />
<rect x="216.1" y="303.3" width="12.2" height="12.2" fill="#fdf0ea" stroke="#3d3535" stroke-width="0.8" />
<rect x="232.1" y="303.3" width="12.2" height="12.2" fill="#fdf0ea" stroke="#3d3535" stroke-width="0.8" />
<rect x="248.1" y="303.3" width="12.2" height="12.2" fill="#fdf0ea" stroke="#3d3535" stroke-width="0.8" />
<rect x="264.1" y="303.3" width="12.2" height="12.2" fill="#fdf0ea" stroke="#3d3535" stroke-width="0.8" />
<rect x="280.1" y="303.3" width="12.2" height="12.2" fill="#fdf0ea" stroke="#3d3535" stroke-width="0.8" />
<rect x="184.1" y="319.25" width="12.2" height="12.2" fill="#1f62a8" stroke="#3d3535" stroke-width="0.8" />
<rect x="200.1" y="319.25" width="12.2" height="12.2" fill="#b4b4b4" stroke="#3d3535" stroke-width="0.8" />
<rect x="216.1" y="319.25" width="12.2" height="12.2" fill="#f79c7e" stroke="#3d3535" stroke-width="0.8" />
<rect x="232.1" y="319.25" width="12.2" height="12.2" fill="#fde9e0" stroke="#3d3535" stroke-width="0.8" />
<rect x="248.1" y="319.25" width="12.2" height="12.2" fill="#fdf0ea" stroke="#3d3535" stroke-width="0.8" />
<rect x="264.1" y="319.25" width="12.2" height="12.2" fill="#fdf0ea" stroke="#3d3535" stroke-width="0.8" />
<rect x="280.1" y="319.25" width="12.2" height="12.2" fill="#fdf0ea" stroke="#3d3535" stroke-width="0.8" />
<rect x="184.1" y="335.2" width="12.2" height="12.2" fill="#e8f0fa" stroke="#3d3535" stroke-width="0.8" />
<rect x="200.1" y="335.2" width="12.2" height="12.2" fill="#2e78b8" stroke="#3d3535" stroke-width="0.8" />
<rect x="216.1" y="335.2" width="12.2" height="12.2" fill="#b4b4b4" stroke="#3d3535" stroke-width="0.8" />
<rect x="232.1" y="335.2" width="12.2" height="12.2" fill="#f26d4c" stroke="#3d3535" stroke-width="0.8" />
<rect x="248.1" y="335.2" width="12.2" height="12.2" fill="#fdf0ea" stroke="#3d3535" stroke-width="0.8" />
<rect x="264.1" y="335.2" width="12.2" height="12.2" fill="#fdf0ea" stroke="#3d3535" stroke-width="0.8" />
<rect x="280.1" y="335.2" width="12.2" height="12.2" fill="#fdf0ea" stroke="#3d3535" stroke-width="0.8" />
<rect x="184.1" y="351.15" width="12.2" height="12.2" fill="#f4f8fd" stroke="#3d3535" stroke-width="0.8" />
<rect x="200.1" y="351.15" width="12.2" height="12.2" fill="#f4f8fd" stroke="#3d3535" stroke-width="0.8" />
<rect x="216.1" y="351.15" width="12.2" height="12.2" fill="#cfe1f2" stroke="#3d3535" stroke-width="0.8" />
<rect x="232.1" y="351.15" width="12.2" height="12.2" fill="#b4b4b4" stroke="#3d3535" stroke-width="0.8" />
<rect x="248.1" y="351.15" width="12.2" height="12.2" fill="#f0634a" stroke="#3d3535" stroke-width="0.8" />
<rect x="264.1" y="351.15" width="12.2" height="12.2" fill="#fdf0ea" stroke="#3d3535" stroke-width="0.8" />
<rect x="280.1" y="351.15" width="12.2" height="12.2" fill="#fdf0ea" stroke="#3d3535" stroke-width="0.8" />
<rect x="184.1" y="367.1" width="12.2" height="12.2" fill="#f4f8fd" stroke="#3d3535" stroke-width="0.8" />
<rect x="200.1" y="367.1" width="12.2" height="12.2" fill="#f4f8fd" stroke="#3d3535" stroke-width="0.8" />
<rect x="216.1" y="367.1" width="12.2" height="12.2" fill="#f4f8fd" stroke="#3d3535" stroke-width="0.8" />
<rect x="232.1" y="367.1" width="12.2" height="12.2" fill="#eaf2fa" stroke="#3d3535" stroke-width="0.8" />
<rect x="248.1" y="367.1" width="12.2" height="12.2" fill="#b4b4b4" stroke="#3d3535" stroke-width="0.8" />
<rect x="264.1" y="367.1" width="12.2" height="12.2" fill="#f36f4f" stroke="#3d3535" stroke-width="0.8" />
<rect x="280.1" y="367.1" width="12.2" height="12.2" fill="#fdf0ea" stroke="#3d3535" stroke-width="0.8" />
<rect x="184.1" y="383.05" width="12.2" height="12.2" fill="#f4f8fd" stroke="#3d3535" stroke-width="0.8" />
<rect x="200.1" y="383.05" width="12.2" height="12.2" fill="#f4f8fd" stroke="#3d3535" stroke-width="0.8" />
<rect x="216.1" y="383.05" width="12.2" height="12.2" fill="#f4f8fd" stroke="#3d3535" stroke-width="0.8" />
<rect x="232.1" y="383.05" width="12.2" height="12.2" fill="#f4f8fd" stroke="#3d3535" stroke-width="0.8" />
<rect x="248.1" y="383.05" width="12.2" height="12.2" fill="#f4f8fd" stroke="#3d3535" stroke-width="0.8" />
<rect x="264.1" y="383.05" width="12.2" height="12.2" fill="#b4b4b4" stroke="#3d3535" stroke-width="0.8" />
<rect x="280.1" y="383.05" width="12.2" height="12.2" fill="#6d0a14" stroke="#3d3535" stroke-width="0.8" />
<rect x="184.1" y="399" width="12.2" height="12.2" fill="#f4f8fd" stroke="#3d3535" stroke-width="0.8" />
<rect x="200.1" y="399" width="12.2" height="12.2" fill="#f4f8fd" stroke="#3d3535" stroke-width="0.8" />
<rect x="216.1" y="399" width="12.2" height="12.2" fill="#f4f8fd" stroke="#3d3535" stroke-width="0.8" />
<rect x="232.1" y="399" width="12.2" height="12.2" fill="#f4f8fd" stroke="#3d3535" stroke-width="0.8" />
<rect x="248.1" y="399" width="12.2" height="12.2" fill="#f4f8fd" stroke="#3d3535" stroke-width="0.8" />
<rect x="264.1" y="399" width="12.2" height="12.2" fill="#eaf2fa" stroke="#3d3535" stroke-width="0.8" />
<rect x="280.1" y="399" width="12.2" height="12.2" fill="#b4b4b4" stroke="#3d3535" stroke-width="0.8" />
<line x1="180.6" y1="309.4" x2="183.1" y2="309.4" stroke="#222" stroke-width="1.0" />
<text x="178.4" y="312.3" font-size="8.2" text-anchor="end" >0</text>
<line x1="180.6" y1="325.35" x2="183.1" y2="325.35" stroke="#222" stroke-width="1.0" />
<text x="178.4" y="328.25" font-size="8.2" text-anchor="end" >3</text>
<line x1="180.6" y1="341.3" x2="183.1" y2="341.3" stroke="#222" stroke-width="1.0" />
<text x="178.4" y="344.2" font-size="8.2" text-anchor="end" >12</text>
<line x1="180.6" y1="357.25" x2="183.1" y2="357.25" stroke="#222" stroke-width="1.0" />
<text x="178.4" y="360.15" font-size="8.2" text-anchor="end" >8</text>
<line x1="180.6" y1="373.2" x2="183.1" y2="373.2" stroke="#222" stroke-width="1.0" />
<text x="178.4" y="376.1" font-size="8.2" text-anchor="end" >6</text>
<line x1="180.6" y1="389.15" x2="183.1" y2="389.15" stroke="#222" stroke-width="1.0" />
<text x="178.4" y="392.05" font-size="8.2" text-anchor="end" >2</text>
<line x1="180.6" y1="405.1" x2="183.1" y2="405.1" stroke="#222" stroke-width="1.0" />
<text x="178.4" y="408" font-size="8.2" text-anchor="end" >10</text>
<line x1="190.2" y1="412.2" x2="190.2" y2="414.7" stroke="#222" stroke-width="1.0" />
<text x="190.2" y="422.8" font-size="8.2" text-anchor="middle" >0</text>
<line x1="206.2" y1="412.2" x2="206.2" y2="414.7" stroke="#222" stroke-width="1.0" />
<text x="206.2" y="422.8" font-size="8.2" text-anchor="middle" >3</text>
<line x1="222.2" y1="412.2" x2="222.2" y2="414.7" stroke="#222" stroke-width="1.0" />
<text x="222.2" y="422.8" font-size="8.2" text-anchor="middle" >12</text>
<line x1="238.2" y1="412.2" x2="238.2" y2="414.7" stroke="#222" stroke-width="1.0" />
<text x="238.2" y="422.8" font-size="8.2" text-anchor="middle" >8</text>
<line x1="254.2" y1="412.2" x2="254.2" y2="414.7" stroke="#222" stroke-width="1.0" />
<text x="254.2" y="422.8" font-size="8.2" text-anchor="middle" >6</text>
<line x1="270.2" y1="412.2" x2="270.2" y2="414.7" stroke="#222" stroke-width="1.0" />
<text x="270.2" y="422.8" font-size="8.2" text-anchor="middle" >2</text>
<line x1="286.2" y1="412.2" x2="286.2" y2="414.7" stroke="#222" stroke-width="1.0" />
<text x="286.2" y="422.8" font-size="8.2" text-anchor="middle" >10</text>
<text x="182.8" y="434.1" font-size="8.2" text-anchor="start" >CV</text>
<line x1="196.1" y1="431.2" x2="276.1" y2="431.2" stroke="#222" stroke-width="1.0" />
<polygon points="280.1,431.2 273.6,429 273.6,433.4" fill="#222" />
<text x="280.9" y="434.1" font-size="8.2" text-anchor="start" >PN</text>
<text transform="translate(165.5,308.4) rotate(-90)" font-size="8.2" text-anchor="middle" >CV</text>
<line x1="162.6" y1="317.3" x2="162.6" y2="395.3" stroke="#222" stroke-width="1.0" />
<polygon points="162.6,399.3 160.4,392.8 164.8,392.8" fill="#222" />
<text transform="translate(165.5,405.9) rotate(-90)" font-size="8.2" text-anchor="middle" >PN</text>
<defs><linearGradient id="blues" x1="0" y1="1" x2="0" y2="0"><stop offset="0" stop-color="#f3f8fd"/><stop offset="0.35" stop-color="#b6d3ea"/><stop offset="0.65" stop-color="#4b93c9"/><stop offset="1" stop-color="#0b3c7e"/></linearGradient><linearGradient id="reds" x1="0" y1="1" x2="0" y2="0"><stop offset="0" stop-color="#fff4ee"/><stop offset="0.33" stop-color="#fcac8f"/><stop offset="0.6" stop-color="#f4553c"/><stop offset="0.8" stop-color="#c8171e"/><stop offset="1" stop-color="#67000d"/></linearGradient></defs>
<rect x="315" y="305.2" width="8.4" height="52.4" fill="url(#blues)" stroke="#4a3f3f" stroke-width="0.6" />
<line x1="323.4" y1="357.6" x2="325.8" y2="357.6" stroke="#222" stroke-width="1.0" />
<text x="327.2" y="360.5" font-size="8.2" text-anchor="start" >0</text>
<line x1="323.4" y1="340.13" x2="325.8" y2="340.13" stroke="#222" stroke-width="1.0" />
<text x="327.2" y="343.03" font-size="8.2" text-anchor="start" >200</text>
<line x1="323.4" y1="322.67" x2="325.8" y2="322.67" stroke="#222" stroke-width="1.0" />
<text x="327.2" y="325.57" font-size="8.2" text-anchor="start" >400</text>
<line x1="323.4" y1="305.2" x2="325.8" y2="305.2" stroke="#222" stroke-width="1.0" />
<text x="327.2" y="308.1" font-size="8.2" text-anchor="start" >600</text>
<text transform="translate(309.6,331.4) rotate(-90)" font-size="8.2" text-anchor="middle" >Normal liver</text>
<rect x="315" y="372.6" width="8.4" height="52.2" fill="url(#reds)" stroke="#4a3f3f" stroke-width="0.6" />
<line x1="323.4" y1="424.8" x2="325.8" y2="424.8" stroke="#222" stroke-width="1.0" />
<text x="327.2" y="427.7" font-size="8.2" text-anchor="start" >0</text>
<line x1="323.4" y1="407.4" x2="325.8" y2="407.4" stroke="#222" stroke-width="1.0" />
<text x="327.2" y="410.3" font-size="8.2" text-anchor="start" >200</text>
<line x1="323.4" y1="390" x2="325.8" y2="390" stroke="#222" stroke-width="1.0" />
<text x="327.2" y="392.9" font-size="8.2" text-anchor="start" >400</text>
<line x1="323.4" y1="372.6" x2="325.8" y2="372.6" stroke="#222" stroke-width="1.0" />
<text x="327.2" y="375.5" font-size="8.2" text-anchor="start" >600</text>
<text transform="translate(309.6,398.7) rotate(-90)" font-size="8.2" text-anchor="middle" >TD liver</text>
<text x="99.6" y="457" font-size="8.2" text-anchor="middle" >mTORC1 signaling</text>
<line x1="37.3" y1="526.2" x2="161.9" y2="526.2" stroke="#8a8a8a" stroke-width="0.7" />
<rect x="42.3" y="522.3" width="0.95" height="7.8" fill="#000" fill-opacity="0.95"/>
<rect x="43.55" y="522.3" width="0.95" height="7.8" fill="#000" fill-opacity="0.90"/>
<rect x="44.37" y="522.3" width="0.95" height="7.8" fill="#000" fill-opacity="0.90"/>
<rect x="45.37" y="522.3" width="0.95" height="7.8" fill="#000" fill-opacity="0.90"/>
<rect x="46.53" y="522.3" width="0.95" height="7.8" fill="#000" fill-opacity="0.86"/>
<rect x="47.72" y="522.3" width="0.95" height="7.8" fill="#000" fill-opacity="0.99"/>
<rect x="48.43" y="522.3" width="0.95" height="7.8" fill="#000" fill-opacity="0.95"/>
<rect x="49.34" y="522.3" width="0.95" height="7.8" fill="#000" fill-opacity="0.87"/>
<rect x="49.99" y="522.3" width="0.95" height="7.8" fill="#000" fill-opacity="0.87"/>
<rect x="51.15" y="522.3" width="0.95" height="7.8" fill="#000" fill-opacity="0.99"/>
<rect x="52.21" y="522.3" width="0.95" height="7.8" fill="#000" fill-opacity="0.89"/>
<rect x="53.4" y="522.3" width="0.95" height="7.8" fill="#000" fill-opacity="0.99"/>
<rect x="55.96" y="522.3" width="0.95" height="7.8" fill="#000" fill-opacity="0.96"/>
<rect x="57" y="522.3" width="0.95" height="7.8" fill="#000" fill-opacity="0.90"/>
<rect x="57.96" y="522.3" width="0.95" height="7.8" fill="#000" fill-opacity="0.97"/>
<rect x="59.03" y="522.3" width="0.95" height="7.8" fill="#000" fill-opacity="0.93"/>
<rect x="59.88" y="522.3" width="0.95" height="7.8" fill="#000" fill-opacity="0.90"/>
<rect x="60.75" y="522.3" width="0.95" height="7.8" fill="#000" fill-opacity="0.91"/>
<rect x="61.36" y="522.3" width="0.95" height="7.8" fill="#000" fill-opacity="0.87"/>
<rect x="62.15" y="522.3" width="0.95" height="7.8" fill="#000" fill-opacity="0.96"/>
<rect x="63.35" y="522.3" width="0.95" height="7.8" fill="#000" fill-opacity="0.96"/>
<rect x="64.07" y="522.3" width="0.95" height="7.8" fill="#000" fill-opacity="0.97"/>
<rect x="65.29" y="522.3" width="0.95" height="7.8" fill="#000" fill-opacity="0.93"/>
<rect x="65.9" y="522.3" width="0.95" height="7.8" fill="#000" fill-opacity="0.85"/>
<rect x="67.03" y="522.3" width="0.95" height="7.8" fill="#000" fill-opacity="0.98"/>
<rect x="68.16" y="522.3" width="0.95" height="7.8" fill="#000" fill-opacity="0.92"/>
<rect x="68.88" y="522.3" width="0.95" height="7.8" fill="#000" fill-opacity="0.88"/>
<rect x="69.91" y="522.3" width="0.95" height="7.8" fill="#000" fill-opacity="0.93"/>
<rect x="70.64" y="522.3" width="0.95" height="7.8" fill="#000" fill-opacity="0.89"/>
<rect x="71.26" y="522.3" width="0.95" height="7.8" fill="#000" fill-opacity="0.94"/>
<rect x="72.04" y="522.3" width="0.95" height="7.8" fill="#000" fill-opacity="0.87"/>
<rect x="72.89" y="522.3" width="0.95" height="7.8" fill="#000" fill-opacity="0.93"/>
<rect x="73.88" y="522.3" width="0.95" height="7.8" fill="#000" fill-opacity="0.91"/>
<rect x="74.59" y="522.3" width="0.95" height="7.8" fill="#000" fill-opacity="0.91"/>
<rect x="75.72" y="522.3" width="0.95" height="7.8" fill="#000" fill-opacity="0.93"/>
<rect x="77.78" y="522.3" width="0.95" height="7.8" fill="#000" fill-opacity="1.00"/>
<rect x="78.34" y="522.3" width="0.95" height="7.8" fill="#000" fill-opacity="0.97"/>
<rect x="79.38" y="522.3" width="0.95" height="7.8" fill="#000" fill-opacity="0.95"/>
<rect x="80.27" y="522.3" width="0.95" height="7.8" fill="#000" fill-opacity="0.99"/>
<rect x="81.48" y="522.3" width="0.95" height="7.8" fill="#000" fill-opacity="0.86"/>
<rect x="82.28" y="522.3" width="0.95" height="7.8" fill="#000" fill-opacity="0.87"/>
<rect x="83.26" y="522.3" width="0.95" height="7.8" fill="#000" fill-opacity="0.85"/>
<rect x="84.44" y="522.3" width="0.95" height="7.8" fill="#000" fill-opacity="0.97"/>
<rect x="85.64" y="522.3" width="0.95" height="7.8" fill="#000" fill-opacity="0.94"/>
<rect x="89.17" y="522.3" width="0.95" height="7.8" fill="#000" fill-opacity="0.92"/>
<rect x="92.02" y="522.3" width="0.95" height="7.8" fill="#000" fill-opacity="0.88"/>
<rect x="92.57" y="522.3" width="0.95" height="7.8" fill="#000" fill-opacity="0.95"/>
<rect x="93.82" y="522.3" width="0.95" height="7.8" fill="#000" fill-opacity="0.91"/>
<rect x="94.5" y="522.3" width="0.95" height="7.8" fill="#000" fill-opacity="0.97"/>
<rect x="95.17" y="522.3" width="0.95" height="7.8" fill="#000" fill-opacity="0.94"/>
<rect x="95.85" y="522.3" width="0.95" height="7.8" fill="#000" fill-opacity="0.88"/>
<rect x="97.08" y="522.3" width="0.95" height="7.8" fill="#000" fill-opacity="0.88"/>
<rect x="97.81" y="522.3" width="0.95" height="7.8" fill="#000" fill-opacity="0.90"/>
<rect x="98.69" y="522.3" width="0.95" height="7.8" fill="#000" fill-opacity="0.99"/>
<rect x="99.31" y="522.3" width="0.95" height="7.8" fill="#000" fill-opacity="0.92"/>
<rect x="100.37" y="522.3" width="0.95" height="7.8" fill="#000" fill-opacity="0.98"/>
<rect x="101.08" y="522.3" width="0.95" height="7.8" fill="#000" fill-opacity="0.94"/>
<rect x="102" y="522.3" width="0.95" height="7.8" fill="#000" fill-opacity="0.93"/>
<rect x="102.85" y="522.3" width="0.95" height="7.8" fill="#000" fill-opacity="0.86"/>
<rect x="103.88" y="522.3" width="0.95" height="7.8" fill="#000" fill-opacity="0.95"/>
<rect x="104.66" y="522.3" width="0.95" height="7.8" fill="#000" fill-opacity="0.98"/>
<rect x="105.58" y="522.3" width="0.95" height="7.8" fill="#000" fill-opacity="0.95"/>
<rect x="106.16" y="522.3" width="0.95" height="7.8" fill="#000" fill-opacity="0.96"/>
<rect x="107.14" y="522.3" width="0.95" height="7.8" fill="#000" fill-opacity="1.00"/>
<rect x="107.72" y="522.3" width="0.95" height="7.8" fill="#000" fill-opacity="0.99"/>
<rect x="108.33" y="522.3" width="0.95" height="7.8" fill="#000" fill-opacity="0.95"/>
<rect x="108.99" y="522.3" width="0.95" height="7.8" fill="#000" fill-opacity="0.97"/>
<rect x="110.02" y="522.3" width="0.95" height="7.8" fill="#000" fill-opacity="0.88"/>
<rect x="110.91" y="522.3" width="0.95" height="7.8" fill="#000" fill-opacity="0.98"/>
<rect x="112.09" y="522.3" width="0.95" height="7.8" fill="#000" fill-opacity="0.96"/>
<rect x="113.25" y="522.3" width="0.95" height="7.8" fill="#000" fill-opacity="0.99"/>
<rect x="114.17" y="522.3" width="0.95" height="7.8" fill="#000" fill-opacity="0.94"/>
<rect x="114.77" y="522.3" width="0.95" height="7.8" fill="#000" fill-opacity="0.94"/>
<rect x="116.03" y="522.3" width="0.95" height="7.8" fill="#000" fill-opacity="0.97"/>
<rect x="117.23" y="522.3" width="0.95" height="7.8" fill="#000" fill-opacity="0.86"/>
<rect x="118.1" y="522.3" width="0.95" height="7.8" fill="#000" fill-opacity="0.91"/>
<rect x="118.73" y="522.3" width="0.95" height="7.8" fill="#000" fill-opacity="0.94"/>
<rect x="119.86" y="522.3" width="0.95" height="7.8" fill="#000" fill-opacity="0.89"/>
<rect x="120.88" y="522.3" width="0.95" height="7.8" fill="#000" fill-opacity="0.96"/>
<rect x="121.61" y="522.3" width="0.95" height="7.8" fill="#000" fill-opacity="0.96"/>
<rect x="122.41" y="522.3" width="0.95" height="7.8" fill="#000" fill-opacity="0.96"/>
<rect x="123.6" y="522.3" width="0.95" height="7.8" fill="#000" fill-opacity="0.92"/>
<rect x="124.83" y="522.3" width="0.95" height="7.8" fill="#000" fill-opacity="0.87"/>
<rect x="125.64" y="522.3" width="0.95" height="7.8" fill="#000" fill-opacity="0.98"/>
<rect x="132.81" y="522.3" width="0.95" height="7.8" fill="#000" fill-opacity="0.90"/>
<rect x="133.74" y="522.3" width="0.95" height="7.8" fill="#000" fill-opacity="0.93"/>
<rect x="134.98" y="522.3" width="0.95" height="7.8" fill="#000" fill-opacity="0.91"/>
<rect x="135.75" y="522.3" width="0.95" height="7.8" fill="#000" fill-opacity="0.98"/>
<rect x="136.85" y="522.3" width="0.95" height="7.8" fill="#000" fill-opacity="0.90"/>
<rect x="137.54" y="522.3" width="0.95" height="7.8" fill="#000" fill-opacity="0.92"/>
<rect x="138.74" y="522.3" width="0.95" height="7.8" fill="#000" fill-opacity="0.97"/>
<rect x="141.35" y="522.3" width="0.95" height="7.8" fill="#000" fill-opacity="0.88"/>
<rect x="142.26" y="522.3" width="0.95" height="7.8" fill="#000" fill-opacity="0.90"/>
<rect x="143.39" y="522.3" width="0.95" height="7.8" fill="#000" fill-opacity="0.91"/>
<rect x="144.49" y="522.3" width="0.95" height="7.8" fill="#000" fill-opacity="0.87"/>
<rect x="145.62" y="522.3" width="0.95" height="7.8" fill="#000" fill-opacity="1.00"/>
<rect x="146.49" y="522.3" width="0.95" height="7.8" fill="#000" fill-opacity="0.85"/>
<rect x="147.11" y="522.3" width="0.95" height="7.8" fill="#000" fill-opacity="0.87"/>
<rect x="147.78" y="522.3" width="0.95" height="7.8" fill="#000" fill-opacity="0.94"/>
<rect x="148.53" y="522.3" width="0.95" height="7.8" fill="#000" fill-opacity="0.89"/>
<rect x="149.73" y="522.3" width="0.95" height="7.8" fill="#000" fill-opacity="0.88"/>
<rect x="151.79" y="522.3" width="0.95" height="7.8" fill="#000" fill-opacity="0.87"/>
<rect x="152.58" y="522.3" width="0.95" height="7.8" fill="#000" fill-opacity="0.88"/>
<rect x="153.18" y="522.3" width="0.95" height="7.8" fill="#000" fill-opacity="0.95"/>
<rect x="154.39" y="522.3" width="0.95" height="7.8" fill="#000" fill-opacity="0.86"/>
<rect x="155.41" y="522.3" width="0.95" height="7.8" fill="#000" fill-opacity="0.97"/>
<polyline points="42.7,526.2 43.08,510.43 43.46,496.23 44.22,487.39 45.54,481.4 46.46,479.6 47.37,478.24 48.51,476.68 49.65,475.72 50.64,474.95 51.63,473.59 52.62,472.88 53.54,472.5 54.46,472.94 55.38,472.32 56.3,472.32 57.23,472.25 58.22,472.55 59.21,472.33 60.2,472.21 61.18,472.01 62.17,472.16 63.16,471.62 64.07,471.02 64.97,471.7 65.88,470.6 66.79,470.85 67.69,470.82 68.6,470.67 69.61,470.61 70.62,470.46 71.63,470.44 72.64,470.83 73.65,470.36 74.64,471.03 75.63,470.07 76.63,470.58 77.62,470.5 78.61,470.74 79.6,471.59 80.6,471.3 81.48,471.92 82.36,471.53 83.25,472.17 84.13,472.07 85.02,472.97 85.9,473.2 86.79,472.88 87.71,473.83 88.63,473.84 89.55,473.89 90.47,473.81 91.39,474.87 92.31,474.72 93.23,475.4 94.18,475.47 95.12,476.6 96.07,476.95 97.02,477.05 97.97,478.03 98.91,478.21 99.86,478.24 100.81,478.92 101.75,479.5 102.7,479.78 103.65,480.76 104.6,480.49 105.54,481.36 106.49,481.71 107.43,482.38 108.37,482.28 109.31,482.81 110.25,483.46 111.18,484.02 112.12,484.23 113.06,485.19 114.02,486.13 114.97,486.64 115.93,486.1 116.89,487.39 117.84,487.36 118.8,487.64 119.76,488.66 120.67,488.9 121.58,489.46 122.49,489.52 123.4,490.03 124.31,490.5 125.22,491.04 126.13,491.5 127.13,491.27 128.13,492.65 129.13,492.46 130.13,493.29 131.12,493.07 132.18,493.8 133.24,494.15 134.3,494.42 135.36,494.65 136.47,495.93 137.59,496.62 138.7,496.86 139.78,497.79 140.85,498.08 141.92,499.38 143.01,500.58 144.1,502.11 145.19,502.87 146.28,504.12 147.17,505.54 148.05,505.94 148.94,507.72 149.82,508.53 150.89,509.74 151.97,511.37 152.85,512.61 153.74,513.58 154.49,518.31 155.57,526.2" fill="none" stroke="#7cc242" stroke-width="1.55" stroke-linejoin="round"/>
<rect x="37.3" y="462.3" width="124.6" height="71.6" fill="none" stroke="#222" stroke-width="0.9" />
<line x1="34.3" y1="526.2" x2="37.3" y2="526.2" stroke="#222" stroke-width="1.0" />
<text x="31.5" y="528.9" font-size="8.2" text-anchor="end" >0.0</text>
<line x1="34.3" y1="510.43" x2="37.3" y2="510.43" stroke="#222" stroke-width="1.0" />
<text x="31.5" y="513.13" font-size="8.2" text-anchor="end" >0.5</text>
<line x1="34.3" y1="494.65" x2="37.3" y2="494.65" stroke="#222" stroke-width="1.0" />
<text x="31.5" y="497.35" font-size="8.2" text-anchor="end" >1.0</text>
<line x1="34.3" y1="478.88" x2="37.3" y2="478.88" stroke="#222" stroke-width="1.0" />
<text x="31.5" y="481.58" font-size="8.2" text-anchor="end" >1.5</text>
<line x1="34.3" y1="463.1" x2="37.3" y2="463.1" stroke="#222" stroke-width="1.0" />
<text x="31.5" y="465.8" font-size="8.2" text-anchor="end" >2.0</text>
<line x1="42.7" y1="533.9" x2="42.7" y2="536.9" stroke="#222" stroke-width="1.0" />
<text x="42.7" y="545.5" font-size="8.2" text-anchor="middle" >0</text>
<line x1="74.28" y1="533.9" x2="74.28" y2="536.9" stroke="#222" stroke-width="1.0" />
<text x="74.28" y="545.5" font-size="8.2" text-anchor="middle" >5000</text>
<line x1="105.86" y1="533.9" x2="105.86" y2="536.9" stroke="#222" stroke-width="1.0" />
<text x="105.86" y="545.5" font-size="8.2" text-anchor="middle" >10000</text>
<line x1="137.44" y1="533.9" x2="137.44" y2="536.9" stroke="#222" stroke-width="1.0" />
<text x="137.44" y="545.5" font-size="8.2" text-anchor="middle" >15000</text>
<text x="99.6" y="556.5" font-size="8.2" text-anchor="middle" >Gene Rank</text>
<text transform="translate(16.3,498.1) rotate(-90)" font-size="8.2" text-anchor="middle" >Enrichment Score</text>
<text x="118.8" y="471" font-size="6.8" text-anchor="start" >NES = 2.547</text>
<text x="118.8" y="481.1" font-size="6.8" text-anchor="start" >FDR = 0.0</text>
<text x="279" y="457" font-size="8.2" text-anchor="middle" >Inflammatory response</text>
<line x1="216.7" y1="526.2" x2="341.3" y2="526.2" stroke="#8a8a8a" stroke-width="0.7" />
<rect x="221.7" y="522.3" width="0.95" height="7.8" fill="#000" fill-opacity="0.98"/>
<rect x="222.28" y="522.3" width="0.95" height="7.8" fill="#000" fill-opacity="0.87"/>
<rect x="222.96" y="522.3" width="0.95" height="7.8" fill="#000" fill-opacity="0.98"/>
<rect x="223.68" y="522.3" width="0.95" height="7.8" fill="#000" fill-opacity="0.97"/>
<rect x="224.31" y="522.3" width="0.95" height="7.8" fill="#000" fill-opacity="0.92"/>
<rect x="225.54" y="522.3" width="0.95" height="7.8" fill="#000" fill-opacity="0.97"/>
<rect x="226.35" y="522.3" width="0.95" height="7.8" fill="#000" fill-opacity="0.88"/>
<rect x="227.39" y="522.3" width="0.95" height="7.8" fill="#000" fill-opacity="0.88"/>
<rect x="227.95" y="522.3" width="0.95" height="7.8" fill="#000" fill-opacity="0.94"/>
<rect x="228.69" y="522.3" width="0.95" height="7.8" fill="#000" fill-opacity="0.87"/>
<rect x="229.85" y="522.3" width="0.95" height="7.8" fill="#000" fill-opacity="0.88"/>
<rect x="230.74" y="522.3" width="0.95" height="7.8" fill="#000" fill-opacity="0.95"/>
<rect x="231.7" y="522.3" width="0.95" height="7.8" fill="#000" fill-opacity="0.93"/>
<rect x="232.65" y="522.3" width="0.95" height="7.8" fill="#000" fill-opacity="0.86"/>
<rect x="233.87" y="522.3" width="0.95" height="7.8" fill="#000" fill-opacity="0.88"/>
<rect x="234.51" y="522.3" width="0.95" height="7.8" fill="#000" fill-opacity="0.86"/>
<rect x="235.47" y="522.3" width="0.95" height="7.8" fill="#000" fill-opacity="0.98"/>
<rect x="236.43" y="522.3" width="0.95" height="7.8" fill="#000" fill-opacity="0.93"/>
<rect x="237.3" y="522.3" width="0.95" height="7.8" fill="#000" fill-opacity="0.87"/>
<rect x="238.28" y="522.3" width="0.95" height="7.8" fill="#000" fill-opacity="0.85"/>
<rect x="238.82" y="522.3" width="0.95" height="7.8" fill="#000" fill-opacity="0.87"/>
<rect x="239.55" y="522.3" width="0.95" height="7.8" fill="#000" fill-opacity="0.99"/>
<rect x="240.45" y="522.3" width="0.95" height="7.8" fill="#000" fill-opacity="0.95"/>
<rect x="241.02" y="522.3" width="0.95" height="7.8" fill="#000" fill-opacity="0.91"/>
<rect x="241.78" y="522.3" width="0.95" height="7.8" fill="#000" fill-opacity="0.87"/>
<rect x="242.82" y="522.3" width="0.95" height="7.8" fill="#000" fill-opacity="0.98"/>
<rect x="243.98" y="522.3" width="0.95" height="7.8" fill="#000" fill-opacity="0.87"/>
<rect x="245.14" y="522.3" width="0.95" height="7.8" fill="#000" fill-opacity="0.98"/>
<rect x="245.97" y="522.3" width="0.95" height="7.8" fill="#000" fill-opacity="0.90"/>
<rect x="246.94" y="522.3" width="0.95" height="7.8" fill="#000" fill-opacity="0.90"/>
<rect x="248.04" y="522.3" width="0.95" height="7.8" fill="#000" fill-opacity="0.97"/>
<rect x="249.19" y="522.3" width="0.95" height="7.8" fill="#000" fill-opacity="0.94"/>
<rect x="250.09" y="522.3" width="0.95" height="7.8" fill="#000" fill-opacity="0.96"/>
<rect x="251.15" y="522.3" width="0.95" height="7.8" fill="#000" fill-opacity="0.89"/>
<rect x="252.2" y="522.3" width="0.95" height="7.8" fill="#000" fill-opacity="0.92"/>
<rect x="252.89" y="522.3" width="0.95" height="7.8" fill="#000" fill-opacity="0.96"/>
<rect x="253.64" y="522.3" width="0.95" height="7.8" fill="#000" fill-opacity="0.96"/>
<rect x="254.33" y="522.3" width="0.95" height="7.8" fill="#000" fill-opacity="0.93"/>
<rect x="254.98" y="522.3" width="0.95" height="7.8" fill="#000" fill-opacity="0.94"/>
<rect x="256.18" y="522.3" width="0.95" height="7.8" fill="#000" fill-opacity="0.92"/>
<rect x="257.08" y="522.3" width="0.95" height="7.8" fill="#000" fill-opacity="0.85"/>
<rect x="257.88" y="522.3" width="0.95" height="7.8" fill="#000" fill-opacity="0.89"/>
<rect x="258.46" y="522.3" width="0.95" height="7.8" fill="#000" fill-opacity="0.98"/>
<rect x="259.7" y="522.3" width="0.95" height="7.8" fill="#000" fill-opacity="0.94"/>
<rect x="260.9" y="522.3" width="0.95" height="7.8" fill="#000" fill-opacity="0.85"/>
<rect x="261.82" y="522.3" width="0.95" height="7.8" fill="#000" fill-opacity="0.91"/>
<rect x="262.73" y="522.3" width="0.95" height="7.8" fill="#000" fill-opacity="0.98"/>
<rect x="263.67" y="522.3" width="0.95" height="7.8" fill="#000" fill-opacity="0.87"/>
<rect x="264.28" y="522.3" width="0.95" height="7.8" fill="#000" fill-opacity="0.97"/>
<rect x="264.94" y="522.3" width="0.95" height="7.8" fill="#000" fill-opacity="0.88"/>
<rect x="265.87" y="522.3" width="0.95" height="7.8" fill="#000" fill-opacity="0.95"/>
<rect x="266.97" y="522.3" width="0.95" height="7.8" fill="#000" fill-opacity="0.85"/>
<rect x="267.97" y="522.3" width="0.95" height="7.8" fill="#000" fill-opacity="0.95"/>
<rect x="268.93" y="522.3" width="0.95" height="7.8" fill="#000" fill-opacity="1.00"/>
<rect x="270" y="522.3" width="0.95" height="7.8" fill="#000" fill-opacity="0.99"/>
<rect x="270.65" y="522.3" width="0.95" height="7.8" fill="#000" fill-opacity="0.94"/>
<rect x="271.89" y="522.3" width="0.95" height="7.8" fill="#000" fill-opacity="0.99"/>
<rect x="273.12" y="522.3" width="0.95" height="7.8" fill="#000" fill-opacity="0.93"/>
<rect x="274.1" y="522.3" width="0.95" height="7.8" fill="#000" fill-opacity="0.89"/>
<rect x="274.69" y="522.3" width="0.95" height="7.8" fill="#000" fill-opacity="0.87"/>
<rect x="275.36" y="522.3" width="0.95" height="7.8" fill="#000" fill-opacity="0.99"/>
<rect x="276.54" y="522.3" width="0.95" height="7.8" fill="#000" fill-opacity="1.00"/>
<rect x="277.37" y="522.3" width="0.95" height="7.8" fill="#000" fill-opacity="0.88"/>
<rect x="278.52" y="522.3" width="0.95" height="7.8" fill="#000" fill-opacity="0.96"/>
<rect x="279.75" y="522.3" width="0.95" height="7.8" fill="#000" fill-opacity="0.90"/>
<rect x="280.43" y="522.3" width="0.95" height="7.8" fill="#000" fill-opacity="0.94"/>
<rect x="281" y="522.3" width="0.95" height="7.8" fill="#000" fill-opacity="0.87"/>
<rect x="281.95" y="522.3" width="0.95" height="7.8" fill="#000" fill-opacity="0.87"/>
<rect x="282.91" y="522.3" width="0.95" height="7.8" fill="#000" fill-opacity="0.88"/>
<rect x="283.49" y="522.3" width="0.95" height="7.8" fill="#000" fill-opacity="0.97"/>
<rect x="284.38" y="522.3" width="0.95" height="7.8" fill="#000" fill-opacity="0.86"/>
<rect x="285.3" y="522.3" width="0.95" height="7.8" fill="#000" fill-opacity="0.96"/>
<rect x="286.35" y="522.3" width="0.95" height="7.8" fill="#000" fill-opacity="0.97"/>
<rect x="286.92" y="522.3" width="0.95" height="7.8" fill="#000" fill-opacity="0.98"/>
<rect x="288.14" y="522.3" width="0.95" height="7.8" fill="#000" fill-opacity="1.00"/>
<rect x="289.01" y="522.3" width="0.95" height="7.8" fill="#000" fill-opacity="0.88"/>
<rect x="289.56" y="522.3" width="0.95" height="7.8" fill="#000" fill-opacity="0.97"/>
<rect x="290.25" y="522.3" width="0.95" height="7.8" fill="#000" fill-opacity="0.96"/>
<rect x="291.15" y="522.3" width="0.95" height="7.8" fill="#000" fill-opacity="0.86"/>
<rect x="291.93" y="522.3" width="0.95" height="7.8" fill="#000" fill-opacity="0.97"/>
<rect x="292.61" y="522.3" width="0.95" height="7.8" fill="#000" fill-opacity="0.97"/>
<rect x="293.82" y="522.3" width="0.95" height="7.8" fill="#000" fill-opacity="0.94"/>
<rect x="294.48" y="522.3" width="0.95" height="7.8" fill="#000" fill-opacity="0.93"/>
<rect x="295.28" y="522.3" width="0.95" height="7.8" fill="#000" fill-opacity="0.89"/>
<rect x="296.28" y="522.3" width="0.95" height="7.8" fill="#000" fill-opacity="0.94"/>
<rect x="296.86" y="522.3" width="0.95" height="7.8" fill="#000" fill-opacity="0.97"/>
<rect x="303.29" y="522.3" width="0.95" height="7.8" fill="#000" fill-opacity="0.86"/>
<rect x="304.46" y="522.3" width="0.95" height="7.8" fill="#000" fill-opacity="0.87"/>
<rect x="305.45" y="522.3" width="0.95" height="7.8" fill="#000" fill-opacity="1.00"/>
<rect x="306.42" y="522.3" width="0.95" height="7.8" fill="#000" fill-opacity="0.99"/>
<rect x="307.31" y="522.3" width="0.95" height="7.8" fill="#000" fill-opacity="0.87"/>
<rect x="310.31" y="522.3" width="0.95" height="7.8" fill="#000" fill-opacity="0.71"/>
<rect x="311.25" y="522.3" width="0.95" height="7.8" fill="#000" fill-opacity="0.98"/>
<rect x="312.78" y="522.3" width="0.95" height="7.8" fill="#000" fill-opacity="0.88"/>
<rect x="314.58" y="522.3" width="0.95" height="7.8" fill="#000" fill-opacity="0.96"/>
<rect x="316.96" y="522.3" width="0.95" height="7.8" fill="#000" fill-opacity="0.77"/>
<rect x="319.31" y="522.3" width="0.95" height="7.8" fill="#000" fill-opacity="0.91"/>
<rect x="322.26" y="522.3" width="0.95" height="7.8" fill="#000" fill-opacity="0.97"/>
<rect x="326.44" y="522.3" width="0.95" height="7.8" fill="#000" fill-opacity="0.94"/>
<rect x="327.54" y="522.3" width="0.95" height="7.8" fill="#000" fill-opacity="0.94"/>
<rect x="328.79" y="522.3" width="0.95" height="7.8" fill="#000" fill-opacity="0.97"/>
<rect x="329.79" y="522.3" width="0.95" height="7.8" fill="#000" fill-opacity="0.96"/>
<rect x="330.38" y="522.3" width="0.95" height="7.8" fill="#000" fill-opacity="0.97"/>
<rect x="331.56" y="522.3" width="0.95" height="7.8" fill="#000" fill-opacity="0.98"/>
<rect x="332.57" y="522.3" width="0.95" height="7.8" fill="#000" fill-opacity="1.00"/>
<rect x="333.75" y="522.3" width="0.95" height="7.8" fill="#000" fill-opacity="1.00"/>
<polyline points="222.1,523.5 222.73,516.77 223.36,510.03 224.5,503.02 225.38,501.41 226.27,498.21 227.15,496.56 228.1,494.34 229.05,491.17 230.15,490.21 231.26,488.74 232.42,488.43 233.57,487.67 234.73,486.31 235.81,484.78 236.88,482.74 237.95,480.89 239.03,479.58 239.94,478.71 240.85,477.68 241.76,477.6 242.66,477.01 243.57,475.8 244.58,475.09 245.6,474.7 246.61,474.81 247.62,474.78 248.63,474.08 249.64,473.65 250.52,473.2 251.41,473.13 252.29,472.81 253.17,472.22 254.06,471.7 254.94,471.76 255.83,471.7 256.71,471.79 257.6,472.02 258.48,471.29 259.36,471.73 260.25,471.22 261.26,471.44 262.27,471.76 263.28,471.54 264.29,470.91 265.3,471.51 266.31,471.22 267.23,470.77 268.16,471.73 269.08,471.3 270,472.02 270.92,471.49 271.81,471.5 272.71,471.37 273.6,472.13 274.49,472.35 275.38,472.68 276.27,472.92 277.16,473.13 278.05,473.36 278.94,473.65 279.92,473.7 280.9,475.02 281.88,474.54 282.86,474.94 283.84,475.67 284.82,475.49 285.8,475.9 286.78,476.88 287.74,477.99 288.7,478.69 289.66,479.46 290.62,479.84 291.58,480.39 292.46,481.14 293.34,481.62 294.23,482.43 295.11,484.17 296,484.43 296.95,484.87 297.91,486.24 298.87,486.71 299.82,487.64 300.78,488.78 301.74,489.53 302.69,490.09 303.58,490.71 304.46,491.87 305.34,492.42 306.23,493.1 307.11,492.9 308,493.86 309.01,494.64 310.02,496.22 311.03,497.65 312.04,497.81 313.05,499.25 313.98,500.72 314.9,501.86 315.83,502.2 316.76,503.58 317.68,504.68 318.61,505.72 319.58,506.01 320.55,507.5 321.51,507.86 322.48,508.87 323.45,508.77 324.42,510.03 325.39,511.04 326.36,512.02 327.34,512.29 328.31,513.31 329.28,513.53 330.4,515.17 331.51,516.94 332.63,518.12 333.58,521.42 334.52,524.04" fill="none" stroke="#7cc242" stroke-width="1.55" stroke-linejoin="round"/>
<rect x="216.7" y="462.3" width="124.6" height="71.6" fill="none" stroke="#222" stroke-width="0.9" />
<line x1="213.7" y1="526.2" x2="216.7" y2="526.2" stroke="#222" stroke-width="1.0" />
<text x="210.9" y="528.9" font-size="8.2" text-anchor="end" >0.0</text>
<line x1="213.7" y1="512.73" x2="216.7" y2="512.73" stroke="#222" stroke-width="1.0" />
<text x="210.9" y="515.43" font-size="8.2" text-anchor="end" >0.5</text>
<line x1="213.7" y1="499.25" x2="216.7" y2="499.25" stroke="#222" stroke-width="1.0" />
<text x="210.9" y="501.95" font-size="8.2" text-anchor="end" >1.0</text>
<line x1="213.7" y1="485.78" x2="216.7" y2="485.78" stroke="#222" stroke-width="1.0" />
<text x="210.9" y="488.48" font-size="8.2" text-anchor="end" >1.5</text>
<line x1="213.7" y1="472.3" x2="216.7" y2="472.3" stroke="#222" stroke-width="1.0" />
<text x="210.9" y="475" font-size="8.2" text-anchor="end" >2.0</text>
<line x1="222.1" y1="533.9" x2="222.1" y2="536.9" stroke="#222" stroke-width="1.0" />
<text x="222.1" y="545.5" font-size="8.2" text-anchor="middle" >0</text>
<line x1="253.68" y1="533.9" x2="253.68" y2="536.9" stroke="#222" stroke-width="1.0" />
<text x="253.68" y="545.5" font-size="8.2" text-anchor="middle" >5000</text>
<line x1="285.26" y1="533.9" x2="285.26" y2="536.9" stroke="#222" stroke-width="1.0" />
<text x="285.26" y="545.5" font-size="8.2" text-anchor="middle" >10000</text>
<line x1="316.84" y1="533.9" x2="316.84" y2="536.9" stroke="#222" stroke-width="1.0" />
<text x="316.84" y="545.5" font-size="8.2" text-anchor="middle" >15000</text>
<text x="279" y="556.5" font-size="8.2" text-anchor="middle" >Gene Rank</text>
<text transform="translate(195.6,498.1) rotate(-90)" font-size="8.2" text-anchor="middle" >Enrichment Score</text>
<text x="295.8" y="471" font-size="6.8" text-anchor="start" >NES = 1.830</text>
<text x="295.8" y="481.1" font-size="6.8" text-anchor="start" >FDR = 9.9e-4</text>
<text x="99.6" y="571.3" font-size="8.2" text-anchor="middle" >Interferon alpha response</text>
<line x1="37.3" y1="640.4" x2="161.9" y2="640.4" stroke="#8a8a8a" stroke-width="0.7" />
<rect x="42.3" y="636.5" width="0.95" height="7.8" fill="#000" fill-opacity="0.98"/>
<rect x="43.15" y="636.5" width="0.95" height="7.8" fill="#000" fill-opacity="0.93"/>
<rect x="44.36" y="636.5" width="0.95" height="7.8" fill="#000" fill-opacity="0.89"/>
<rect x="45" y="636.5" width="0.95" height="7.8" fill="#000" fill-opacity="0.94"/>
<rect x="46.11" y="636.5" width="0.95" height="7.8" fill="#000" fill-opacity="0.89"/>
<rect x="46.7" y="636.5" width="0.95" height="7.8" fill="#000" fill-opacity="0.95"/>
<rect x="47.27" y="636.5" width="0.95" height="7.8" fill="#000" fill-opacity="0.99"/>
<rect x="48.08" y="636.5" width="0.95" height="7.8" fill="#000" fill-opacity="0.98"/>
<rect x="49" y="636.5" width="0.95" height="7.8" fill="#000" fill-opacity="0.93"/>
<rect x="49.58" y="636.5" width="0.95" height="7.8" fill="#000" fill-opacity="0.88"/>
<rect x="50.49" y="636.5" width="0.95" height="7.8" fill="#000" fill-opacity="0.90"/>
<rect x="51.47" y="636.5" width="0.95" height="7.8" fill="#000" fill-opacity="0.93"/>
<rect x="52.42" y="636.5" width="0.95" height="7.8" fill="#000" fill-opacity="0.96"/>
<rect x="55.58" y="636.5" width="0.95" height="7.8" fill="#000" fill-opacity="0.86"/>
<rect x="56.57" y="636.5" width="0.95" height="7.8" fill="#000" fill-opacity="0.94"/>
<rect x="57.7" y="636.5" width="0.95" height="7.8" fill="#000" fill-opacity="0.95"/>
<rect x="59.38" y="636.5" width="0.95" height="7.8" fill="#000" fill-opacity="0.71"/>
<rect x="60.41" y="636.5" width="0.95" height="7.8" fill="#000" fill-opacity="0.85"/>
<rect x="61.93" y="636.5" width="0.95" height="7.8" fill="#000" fill-opacity="0.76"/>
<rect x="67.35" y="636.5" width="0.95" height="7.8" fill="#000" fill-opacity="0.98"/>
<rect x="68.25" y="636.5" width="0.95" height="7.8" fill="#000" fill-opacity="0.96"/>
<rect x="69.79" y="636.5" width="0.95" height="7.8" fill="#000" fill-opacity="0.92"/>
<rect x="71.35" y="636.5" width="0.95" height="7.8" fill="#000" fill-opacity="0.94"/>
<rect x="73.27" y="636.5" width="0.95" height="7.8" fill="#000" fill-opacity="0.95"/>
<rect x="75.12" y="636.5" width="0.95" height="7.8" fill="#000" fill-opacity="0.95"/>
<rect x="76.13" y="636.5" width="0.95" height="7.8" fill="#000" fill-opacity="0.87"/>
<rect x="77.83" y="636.5" width="0.95" height="7.8" fill="#000" fill-opacity="0.71"/>
<rect x="78.88" y="636.5" width="0.95" height="7.8" fill="#000" fill-opacity="0.87"/>
<rect x="80.81" y="636.5" width="0.95" height="7.8" fill="#000" fill-opacity="0.70"/>
<rect x="84.43" y="636.5" width="0.95" height="7.8" fill="#000" fill-opacity="0.79"/>
<rect x="85.47" y="636.5" width="0.95" height="7.8" fill="#000" fill-opacity="0.72"/>
<rect x="90.12" y="636.5" width="0.95" height="7.8" fill="#000" fill-opacity="0.96"/>
<rect x="93.91" y="636.5" width="0.95" height="7.8" fill="#000" fill-opacity="0.89"/>
<rect x="97.71" y="636.5" width="0.95" height="7.8" fill="#000" fill-opacity="0.75"/>
<rect x="99.46" y="636.5" width="0.95" height="7.8" fill="#000" fill-opacity="0.71"/>
<rect x="100.87" y="636.5" width="0.95" height="7.8" fill="#000" fill-opacity="0.82"/>
<rect x="105.3" y="636.5" width="0.95" height="7.8" fill="#000" fill-opacity="0.76"/>
<rect x="106.46" y="636.5" width="0.95" height="7.8" fill="#000" fill-opacity="0.84"/>
<rect x="107.97" y="636.5" width="0.95" height="7.8" fill="#000" fill-opacity="0.97"/>
<rect x="109.59" y="636.5" width="0.95" height="7.8" fill="#000" fill-opacity="0.72"/>
<rect x="110.61" y="636.5" width="0.95" height="7.8" fill="#000" fill-opacity="0.84"/>
<rect x="111.51" y="636.5" width="0.95" height="7.8" fill="#000" fill-opacity="0.76"/>
<rect x="113" y="636.5" width="0.95" height="7.8" fill="#000" fill-opacity="0.94"/>
<rect x="113.96" y="636.5" width="0.95" height="7.8" fill="#000" fill-opacity="0.75"/>
<rect x="115.62" y="636.5" width="0.95" height="7.8" fill="#000" fill-opacity="0.96"/>
<rect x="116.49" y="636.5" width="0.95" height="7.8" fill="#000" fill-opacity="0.86"/>
<rect x="117.62" y="636.5" width="0.95" height="7.8" fill="#000" fill-opacity="0.75"/>
<rect x="120.48" y="636.5" width="0.95" height="7.8" fill="#000" fill-opacity="0.81"/>
<rect x="121.85" y="636.5" width="0.95" height="7.8" fill="#000" fill-opacity="0.71"/>
<rect x="123.63" y="636.5" width="0.95" height="7.8" fill="#000" fill-opacity="0.81"/>
<rect x="124.7" y="636.5" width="0.95" height="7.8" fill="#000" fill-opacity="0.88"/>
<rect x="125.75" y="636.5" width="0.95" height="7.8" fill="#000" fill-opacity="1.00"/>
<rect x="129.02" y="636.5" width="0.95" height="7.8" fill="#000" fill-opacity="0.89"/>
<rect x="133.76" y="636.5" width="0.95" height="7.8" fill="#000" fill-opacity="0.81"/>
<rect x="139.45" y="636.5" width="0.95" height="7.8" fill="#000" fill-opacity="0.99"/>
<rect x="140.51" y="636.5" width="0.95" height="7.8" fill="#000" fill-opacity="0.85"/>
<rect x="141.19" y="636.5" width="0.95" height="7.8" fill="#000" fill-opacity="0.96"/>
<rect x="142.29" y="636.5" width="0.95" height="7.8" fill="#000" fill-opacity="0.93"/>
<rect x="143.53" y="636.5" width="0.95" height="7.8" fill="#000" fill-opacity="0.86"/>
<rect x="144.75" y="636.5" width="0.95" height="7.8" fill="#000" fill-opacity="0.95"/>
<rect x="145.56" y="636.5" width="0.95" height="7.8" fill="#000" fill-opacity="0.91"/>
<rect x="146.41" y="636.5" width="0.95" height="7.8" fill="#000" fill-opacity="1.00"/>
<rect x="147.05" y="636.5" width="0.95" height="7.8" fill="#000" fill-opacity="0.97"/>
<rect x="148.18" y="636.5" width="0.95" height="7.8" fill="#000" fill-opacity="0.96"/>
<rect x="149.07" y="636.5" width="0.95" height="7.8" fill="#000" fill-opacity="1.00"/>
<rect x="149.9" y="636.5" width="0.95" height="7.8" fill="#000" fill-opacity="0.98"/>
<rect x="151.15" y="636.5" width="0.95" height="7.8" fill="#000" fill-opacity="0.90"/>
<rect x="152.12" y="636.5" width="0.95" height="7.8" fill="#000" fill-opacity="0.93"/>
<polyline points="42.7,640.4 42.95,623.66 43.21,610.28 44.78,601.57 46.49,598.56 47.59,596.82 48.7,596.22 49.65,594.01 50.59,591.87 51.61,590.79 52.62,589.53 53.61,589.33 54.61,589.26 55.6,589.06 56.6,588.52 57.65,588.56 58.7,587.57 59.75,586.85 60.89,586.62 62.03,585.74 63.16,585.51 64.12,585.99 65.08,585.53 66.04,585.74 67,586.58 67.96,586.18 68.91,586.59 69.86,586.43 70.81,585.7 71.75,586.55 72.7,585.89 73.65,586.18 74.64,585.97 75.63,586.75 76.63,585.72 77.62,586.78 78.61,586.24 79.6,586.59 80.6,586.51 81.48,586.39 82.36,587.18 83.25,586.65 84.13,587.57 85.02,587.65 85.9,587.64 86.79,587.52 87.75,587.88 88.71,588.1 89.67,588.32 90.63,588.21 91.59,589.45 92.55,589.4 93.51,589.92 94.47,590.18 95.43,589.6 96.39,590.19 97.36,590.55 98.34,590.95 99.31,591.85 100.29,591.42 101.26,591.55 102.24,591.95 103.21,592.44 104.19,592.61 105.17,593.54 106.17,593.89 107.17,594.93 108.17,595.04 109.17,596.06 110.17,596.66 111.17,597.17 112.18,597.56 113.19,597.75 114.2,598.97 115.21,600.05 116.22,599.99 117.23,601.3 118.24,601.57 119.18,602.39 120.12,602.37 121.05,602.9 121.99,603.41 122.93,604.6 123.87,605.2 124.81,605.26 125.76,605.55 126.7,606.82 127.65,606.66 128.6,607.18 129.54,608.25 130.49,608.45 131.44,609.27 132.47,610.01 133.49,610.32 134.52,610.15 135.55,610.95 136.49,612.04 137.44,612.31 138.39,613.25 139.33,613.29 140.39,615.24 141.44,617.41 142.49,618.64 143.5,619.96 144.51,622.33 145.52,624.45 146.54,626.39 147.55,628.35 148.68,630.96 149.82,633.04 151.11,636.35 152.41,640.4 153.45,640.56 154.49,641.4 155.38,641.32 156.26,642.38 157.15,642.07" fill="none" stroke="#7cc242" stroke-width="1.55" stroke-linejoin="round"/>
<rect x="37.3" y="576.6" width="124.6" height="71.7" fill="none" stroke="#222" stroke-width="0.9" />
<line x1="34.3" y1="640.4" x2="37.3" y2="640.4" stroke="#222" stroke-width="1.0" />
<text x="31.5" y="643.1" font-size="8.2" text-anchor="end" >0.0</text>
<line x1="34.3" y1="623.66" x2="37.3" y2="623.66" stroke="#222" stroke-width="1.0" />
<text x="31.5" y="626.37" font-size="8.2" text-anchor="end" >0.5</text>
<line x1="34.3" y1="606.93" x2="37.3" y2="606.93" stroke="#222" stroke-width="1.0" />
<text x="31.5" y="609.63" font-size="8.2" text-anchor="end" >1.0</text>
<line x1="34.3" y1="590.19" x2="37.3" y2="590.19" stroke="#222" stroke-width="1.0" />
<text x="31.5" y="592.89" font-size="8.2" text-anchor="end" >1.5</text>
<line x1="42.7" y1="648.3" x2="42.7" y2="651.3" stroke="#222" stroke-width="1.0" />
<text x="42.7" y="659.9" font-size="8.2" text-anchor="middle" >0</text>
<line x1="74.28" y1="648.3" x2="74.28" y2="651.3" stroke="#222" stroke-width="1.0" />
<text x="74.28" y="659.9" font-size="8.2" text-anchor="middle" >5000</text>
<line x1="105.86" y1="648.3" x2="105.86" y2="651.3" stroke="#222" stroke-width="1.0" />
<text x="105.86" y="659.9" font-size="8.2" text-anchor="middle" >10000</text>
<line x1="137.44" y1="648.3" x2="137.44" y2="651.3" stroke="#222" stroke-width="1.0" />
<text x="137.44" y="659.9" font-size="8.2" text-anchor="middle" >15000</text>
<text x="99.6" y="670.9" font-size="8.2" text-anchor="middle" >Gene Rank</text>
<text transform="translate(16.3,612.45) rotate(-90)" font-size="8.2" text-anchor="middle" >Enrichment Score</text>
<text x="118.8" y="585.3" font-size="6.8" text-anchor="start" >NES = 2.206</text>
<text x="118.8" y="595.4" font-size="6.8" text-anchor="start" >FDR = 0.0</text>
<text x="279" y="571.3" font-size="8.2" text-anchor="middle" >EMT</text>
<line x1="216.7" y1="640.4" x2="341.3" y2="640.4" stroke="#8a8a8a" stroke-width="0.7" />
<rect x="221.7" y="636.5" width="0.95" height="7.8" fill="#000" fill-opacity="0.95"/>
<rect x="222.3" y="636.5" width="0.95" height="7.8" fill="#000" fill-opacity="0.94"/>
<rect x="222.98" y="636.5" width="0.95" height="7.8" fill="#000" fill-opacity="0.94"/>
<rect x="223.57" y="636.5" width="0.95" height="7.8" fill="#000" fill-opacity="0.98"/>
<rect x="224.42" y="636.5" width="0.95" height="7.8" fill="#000" fill-opacity="0.93"/>
<rect x="225.23" y="636.5" width="0.95" height="7.8" fill="#000" fill-opacity="0.95"/>
<rect x="226.15" y="636.5" width="0.95" height="7.8" fill="#000" fill-opacity="0.97"/>
<rect x="226.77" y="636.5" width="0.95" height="7.8" fill="#000" fill-opacity="0.90"/>
<rect x="227.46" y="636.5" width="0.95" height="7.8" fill="#000" fill-opacity="0.96"/>
<rect x="228.65" y="636.5" width="0.95" height="7.8" fill="#000" fill-opacity="0.93"/>
<rect x="229.89" y="636.5" width="0.95" height="7.8" fill="#000" fill-opacity="0.97"/>
<rect x="230.8" y="636.5" width="0.95" height="7.8" fill="#000" fill-opacity="0.94"/>
<rect x="231.93" y="636.5" width="0.95" height="7.8" fill="#000" fill-opacity="0.92"/>
<rect x="234.41" y="636.5" width="0.95" height="7.8" fill="#000" fill-opacity="0.73"/>
<rect x="235.8" y="636.5" width="0.95" height="7.8" fill="#000" fill-opacity="0.85"/>
<rect x="237.4" y="636.5" width="0.95" height="7.8" fill="#000" fill-opacity="0.96"/>
<rect x="239.11" y="636.5" width="0.95" height="7.8" fill="#000" fill-opacity="0.90"/>
<rect x="240.16" y="636.5" width="0.95" height="7.8" fill="#000" fill-opacity="0.95"/>
<rect x="241.58" y="636.5" width="0.95" height="7.8" fill="#000" fill-opacity="0.96"/>
<rect x="242.43" y="636.5" width="0.95" height="7.8" fill="#000" fill-opacity="0.95"/>
<rect x="244.27" y="636.5" width="0.95" height="7.8" fill="#000" fill-opacity="0.84"/>
<rect x="245.85" y="636.5" width="0.95" height="7.8" fill="#000" fill-opacity="0.93"/>
<rect x="247.6" y="636.5" width="0.95" height="7.8" fill="#000" fill-opacity="0.80"/>
<rect x="248.99" y="636.5" width="0.95" height="7.8" fill="#000" fill-opacity="0.99"/>
<rect x="251.49" y="636.5" width="0.95" height="7.8" fill="#000" fill-opacity="0.99"/>
<rect x="252.38" y="636.5" width="0.95" height="7.8" fill="#000" fill-opacity="0.95"/>
<rect x="253.37" y="636.5" width="0.95" height="7.8" fill="#000" fill-opacity="0.90"/>
<rect x="254.02" y="636.5" width="0.95" height="7.8" fill="#000" fill-opacity="0.91"/>
<rect x="254.99" y="636.5" width="0.95" height="7.8" fill="#000" fill-opacity="0.96"/>
<rect x="256.23" y="636.5" width="0.95" height="7.8" fill="#000" fill-opacity="0.86"/>
<rect x="257.03" y="636.5" width="0.95" height="7.8" fill="#000" fill-opacity="0.92"/>
<rect x="257.93" y="636.5" width="0.95" height="7.8" fill="#000" fill-opacity="0.88"/>
<rect x="258.52" y="636.5" width="0.95" height="7.8" fill="#000" fill-opacity="0.95"/>
<rect x="259.18" y="636.5" width="0.95" height="7.8" fill="#000" fill-opacity="0.92"/>
<rect x="259.73" y="636.5" width="0.95" height="7.8" fill="#000" fill-opacity="0.85"/>
<rect x="262.88" y="636.5" width="0.95" height="7.8" fill="#000" fill-opacity="0.78"/>
<rect x="264.44" y="636.5" width="0.95" height="7.8" fill="#000" fill-opacity="0.78"/>
<rect x="266.09" y="636.5" width="0.95" height="7.8" fill="#000" fill-opacity="0.97"/>
<rect x="267.75" y="636.5" width="0.95" height="7.8" fill="#000" fill-opacity="0.71"/>
<rect x="269.52" y="636.5" width="0.95" height="7.8" fill="#000" fill-opacity="0.99"/>
<rect x="270.39" y="636.5" width="0.95" height="7.8" fill="#000" fill-opacity="0.75"/>
<rect x="271.66" y="636.5" width="0.95" height="7.8" fill="#000" fill-opacity="0.84"/>
<rect x="273.52" y="636.5" width="0.95" height="7.8" fill="#000" fill-opacity="0.90"/>
<rect x="275.14" y="636.5" width="0.95" height="7.8" fill="#000" fill-opacity="0.86"/>
<rect x="276.87" y="636.5" width="0.95" height="7.8" fill="#000" fill-opacity="0.90"/>
<rect x="278.37" y="636.5" width="0.95" height="7.8" fill="#000" fill-opacity="0.94"/>
<rect x="279.9" y="636.5" width="0.95" height="7.8" fill="#000" fill-opacity="0.72"/>
<rect x="281.85" y="636.5" width="0.95" height="7.8" fill="#000" fill-opacity="0.97"/>
<rect x="286.6" y="636.5" width="0.95" height="7.8" fill="#000" fill-opacity="0.88"/>
<rect x="287.15" y="636.5" width="0.95" height="7.8" fill="#000" fill-opacity="1.00"/>
<rect x="287.83" y="636.5" width="0.95" height="7.8" fill="#000" fill-opacity="0.88"/>
<rect x="288.93" y="636.5" width="0.95" height="7.8" fill="#000" fill-opacity="0.87"/>
<rect x="290.13" y="636.5" width="0.95" height="7.8" fill="#000" fill-opacity="0.93"/>
<rect x="291.16" y="636.5" width="0.95" height="7.8" fill="#000" fill-opacity="0.89"/>
<rect x="292.14" y="636.5" width="0.95" height="7.8" fill="#000" fill-opacity="0.98"/>
<rect x="293.06" y="636.5" width="0.95" height="7.8" fill="#000" fill-opacity="0.93"/>
<rect x="293.97" y="636.5" width="0.95" height="7.8" fill="#000" fill-opacity="0.88"/>
<rect x="295.1" y="636.5" width="0.95" height="7.8" fill="#000" fill-opacity="0.88"/>
<rect x="295.82" y="636.5" width="0.95" height="7.8" fill="#000" fill-opacity="0.86"/>
<rect x="297.07" y="636.5" width="0.95" height="7.8" fill="#000" fill-opacity="0.93"/>
<rect x="300.83" y="636.5" width="0.95" height="7.8" fill="#000" fill-opacity="0.99"/>
<rect x="301.87" y="636.5" width="0.95" height="7.8" fill="#000" fill-opacity="0.91"/>
<rect x="302.52" y="636.5" width="0.95" height="7.8" fill="#000" fill-opacity="0.93"/>
<rect x="303.7" y="636.5" width="0.95" height="7.8" fill="#000" fill-opacity="0.91"/>
<rect x="304.41" y="636.5" width="0.95" height="7.8" fill="#000" fill-opacity="0.85"/>
<rect x="305.33" y="636.5" width="0.95" height="7.8" fill="#000" fill-opacity="0.92"/>
<rect x="306.15" y="636.5" width="0.95" height="7.8" fill="#000" fill-opacity="0.86"/>
<rect x="306.96" y="636.5" width="0.95" height="7.8" fill="#000" fill-opacity="0.94"/>
<rect x="308.06" y="636.5" width="0.95" height="7.8" fill="#000" fill-opacity="0.97"/>
<rect x="311.26" y="636.5" width="0.95" height="7.8" fill="#000" fill-opacity="0.71"/>
<rect x="312.82" y="636.5" width="0.95" height="7.8" fill="#000" fill-opacity="0.73"/>
<rect x="314.47" y="636.5" width="0.95" height="7.8" fill="#000" fill-opacity="0.88"/>
<rect x="315.37" y="636.5" width="0.95" height="7.8" fill="#000" fill-opacity="0.84"/>
<rect x="316.63" y="636.5" width="0.95" height="7.8" fill="#000" fill-opacity="0.87"/>
<rect x="318.16" y="636.5" width="0.95" height="7.8" fill="#000" fill-opacity="0.93"/>
<rect x="319.57" y="636.5" width="0.95" height="7.8" fill="#000" fill-opacity="0.97"/>
<rect x="320.72" y="636.5" width="0.95" height="7.8" fill="#000" fill-opacity="0.93"/>
<rect x="322.65" y="636.5" width="0.95" height="7.8" fill="#000" fill-opacity="0.77"/>
<rect x="323.54" y="636.5" width="0.95" height="7.8" fill="#000" fill-opacity="0.72"/>
<rect x="324.47" y="636.5" width="0.95" height="7.8" fill="#000" fill-opacity="0.93"/>
<rect x="326.37" y="636.5" width="0.95" height="7.8" fill="#000" fill-opacity="0.83"/>
<rect x="328.03" y="636.5" width="0.95" height="7.8" fill="#000" fill-opacity="0.85"/>
<rect x="329.53" y="636.5" width="0.95" height="7.8" fill="#000" fill-opacity="0.91"/>
<rect x="332.14" y="636.5" width="0.95" height="7.8" fill="#000" fill-opacity="0.94"/>
<rect x="333.39" y="636.5" width="0.95" height="7.8" fill="#000" fill-opacity="0.94"/>
<rect x="334.3" y="636.5" width="0.95" height="7.8" fill="#000" fill-opacity="0.97"/>
<polyline points="222.1,640.4 222.73,634.1 223.68,626.23 224.75,619.38 225.83,612.05 227.12,607.79 228.42,602.6 229.43,599.82 230.44,598.29 231.45,596.22 232.46,593.62 233.43,592.82 234.4,593.53 235.36,592.68 236.28,592.31 237.2,592.7 238.11,592.81 239.03,592.36 240.01,591.98 240.98,591.48 241.96,590.43 242.94,590 243.95,589.09 244.96,589.02 245.97,588.84 246.99,587.95 247.95,587.94 248.91,587.35 249.87,587.44 250.83,586.43 251.79,586.38 252.75,586.72 253.72,586.21 254.69,585.96 255.66,586 256.63,586.14 257.6,585.75 258.52,585.17 259.45,585.57 260.37,585.08 261.3,585.81 262.23,584.93 263.15,585.27 264.16,584.72 265.18,585.56 266.19,585.03 267.2,584.9 268.21,585.27 269.15,584.88 270.1,585.43 271.05,585.61 272,585.47 272.94,586.01 273.89,586.06 274.88,586.81 275.86,586.89 276.85,587.28 277.83,587.4 278.82,587.16 279.78,587.35 280.74,587.45 281.69,588.36 282.65,589.09 283.61,589.29 284.57,589.61 285.53,589.25 286.49,590.43 287.45,590.42 288.41,590.16 289.37,590.94 290.37,591.36 291.37,592.14 292.37,593.25 293.37,593 294.37,594.23 295.37,594.41 296.28,594.49 297.2,595.54 298.11,596.07 299.03,596.38 299.94,597.61 300.86,597.67 301.78,598.51 302.69,598.82 303.58,599.94 304.46,600.44 305.34,600.2 306.23,600.79 307.11,602.13 308,602.6 308.88,603.7 309.77,603.74 310.65,605.06 311.53,605.23 312.42,606.7 313.3,606.85 314.19,607.96 315.07,608.34 315.96,608.94 316.84,608.9 317.72,609.2 318.61,609.64 319.49,611.18 320.38,611.62 321.26,612.05 322.31,613.36 323.37,615.24 324.42,616.77 325.58,619.37 326.74,621.79 327.89,625.12 328.84,626.27 329.79,626.02 330.74,627.01 331.97,627.87 333.2,629.06 334.52,633.31 335.03,639.61" fill="none" stroke="#7cc242" stroke-width="1.55" stroke-linejoin="round"/>
<rect x="216.7" y="576.6" width="124.6" height="71.7" fill="none" stroke="#222" stroke-width="0.9" />
<line x1="213.7" y1="640.4" x2="216.7" y2="640.4" stroke="#222" stroke-width="1.0" />
<text x="210.9" y="643.1" font-size="8.2" text-anchor="end" >0.0</text>
<line x1="213.7" y1="624.65" x2="216.7" y2="624.65" stroke="#222" stroke-width="1.0" />
<text x="210.9" y="627.35" font-size="8.2" text-anchor="end" >1.0</text>
<line x1="213.7" y1="608.9" x2="216.7" y2="608.9" stroke="#222" stroke-width="1.0" />
<text x="210.9" y="611.6" font-size="8.2" text-anchor="end" >2.0</text>
<line x1="213.7" y1="593.15" x2="216.7" y2="593.15" stroke="#222" stroke-width="1.0" />
<text x="210.9" y="595.85" font-size="8.2" text-anchor="end" >3.0</text>
<line x1="213.7" y1="577.4" x2="216.7" y2="577.4" stroke="#222" stroke-width="1.0" />
<text x="210.9" y="580.1" font-size="8.2" text-anchor="end" >4.0</text>
<line x1="222.1" y1="648.3" x2="222.1" y2="651.3" stroke="#222" stroke-width="1.0" />
<text x="222.1" y="659.9" font-size="8.2" text-anchor="middle" >0</text>
<line x1="253.68" y1="648.3" x2="253.68" y2="651.3" stroke="#222" stroke-width="1.0" />
<text x="253.68" y="659.9" font-size="8.2" text-anchor="middle" >5000</text>
<line x1="285.26" y1="648.3" x2="285.26" y2="651.3" stroke="#222" stroke-width="1.0" />
<text x="285.26" y="659.9" font-size="8.2" text-anchor="middle" >10000</text>
<line x1="316.84" y1="648.3" x2="316.84" y2="651.3" stroke="#222" stroke-width="1.0" />
<text x="316.84" y="659.9" font-size="8.2" text-anchor="middle" >15000</text>
<text x="279" y="670.9" font-size="8.2" text-anchor="middle" >Gene Rank</text>
<text transform="translate(195.6,612.45) rotate(-90)" font-size="8.2" text-anchor="middle" >Enrichment Score</text>
<text x="295.8" y="585.3" font-size="6.8" text-anchor="start" >NES = 1.923</text>
<text x="295.8" y="595.4" font-size="6.8" text-anchor="start" >FDR = 2.8e-4</text>
<text x="99.6" y="686" font-size="8.2" text-anchor="middle" >Interferon gamma response</text>
<line x1="37.3" y1="754.9" x2="161.9" y2="754.9" stroke="#8a8a8a" stroke-width="0.7" />
<rect x="42.3" y="751" width="0.95" height="7.8" fill="#000" fill-opacity="0.91"/>
<rect x="42.96" y="751" width="0.95" height="7.8" fill="#000" fill-opacity="0.88"/>
<rect x="43.89" y="751" width="0.95" height="7.8" fill="#000" fill-opacity="0.88"/>
<rect x="45.03" y="751" width="0.95" height="7.8" fill="#000" fill-opacity="0.87"/>
<rect x="45.67" y="751" width="0.95" height="7.8" fill="#000" fill-opacity="0.98"/>
<rect x="46.29" y="751" width="0.95" height="7.8" fill="#000" fill-opacity="0.98"/>
<rect x="47.33" y="751" width="0.95" height="7.8" fill="#000" fill-opacity="0.98"/>
<rect x="48.43" y="751" width="0.95" height="7.8" fill="#000" fill-opacity="0.96"/>
<rect x="49.68" y="751" width="0.95" height="7.8" fill="#000" fill-opacity="0.99"/>
<rect x="50.68" y="751" width="0.95" height="7.8" fill="#000" fill-opacity="0.91"/>
<rect x="51.82" y="751" width="0.95" height="7.8" fill="#000" fill-opacity="0.86"/>
<rect x="52.97" y="751" width="0.95" height="7.8" fill="#000" fill-opacity="0.91"/>
<rect x="55.96" y="751" width="0.95" height="7.8" fill="#000" fill-opacity="0.97"/>
<rect x="56.56" y="751" width="0.95" height="7.8" fill="#000" fill-opacity="0.92"/>
<rect x="57.47" y="751" width="0.95" height="7.8" fill="#000" fill-opacity="0.96"/>
<rect x="58.26" y="751" width="0.95" height="7.8" fill="#000" fill-opacity="0.90"/>
<rect x="59.13" y="751" width="0.95" height="7.8" fill="#000" fill-opacity="0.87"/>
<rect x="59.85" y="751" width="0.95" height="7.8" fill="#000" fill-opacity="0.92"/>
<rect x="60.51" y="751" width="0.95" height="7.8" fill="#000" fill-opacity="0.96"/>
<rect x="61.13" y="751" width="0.95" height="7.8" fill="#000" fill-opacity="0.96"/>
<rect x="62.01" y="751" width="0.95" height="7.8" fill="#000" fill-opacity="0.92"/>
<rect x="63.24" y="751" width="0.95" height="7.8" fill="#000" fill-opacity="0.92"/>
<rect x="64.1" y="751" width="0.95" height="7.8" fill="#000" fill-opacity="0.93"/>
<rect x="65.31" y="751" width="0.95" height="7.8" fill="#000" fill-opacity="0.94"/>
<rect x="65.94" y="751" width="0.95" height="7.8" fill="#000" fill-opacity="1.00"/>
<rect x="66.66" y="751" width="0.95" height="7.8" fill="#000" fill-opacity="0.89"/>
<rect x="67.5" y="751" width="0.95" height="7.8" fill="#000" fill-opacity="0.97"/>
<rect x="68.53" y="751" width="0.95" height="7.8" fill="#000" fill-opacity="0.93"/>
<rect x="69.54" y="751" width="0.95" height="7.8" fill="#000" fill-opacity="0.90"/>
<rect x="70.34" y="751" width="0.95" height="7.8" fill="#000" fill-opacity="0.86"/>
<rect x="71.22" y="751" width="0.95" height="7.8" fill="#000" fill-opacity="0.99"/>
<rect x="72.35" y="751" width="0.95" height="7.8" fill="#000" fill-opacity="0.98"/>
<rect x="73.07" y="751" width="0.95" height="7.8" fill="#000" fill-opacity="0.98"/>
<rect x="74.02" y="751" width="0.95" height="7.8" fill="#000" fill-opacity="0.89"/>
<rect x="74.93" y="751" width="0.95" height="7.8" fill="#000" fill-opacity="0.93"/>
<rect x="75.92" y="751" width="0.95" height="7.8" fill="#000" fill-opacity="0.90"/>
<rect x="76.58" y="751" width="0.95" height="7.8" fill="#000" fill-opacity="0.90"/>
<rect x="77.15" y="751" width="0.95" height="7.8" fill="#000" fill-opacity="0.97"/>
<rect x="78.38" y="751" width="0.95" height="7.8" fill="#000" fill-opacity="0.98"/>
<rect x="79.61" y="751" width="0.95" height="7.8" fill="#000" fill-opacity="0.97"/>
<rect x="80.69" y="751" width="0.95" height="7.8" fill="#000" fill-opacity="0.94"/>
<rect x="81.93" y="751" width="0.95" height="7.8" fill="#000" fill-opacity="0.86"/>
<rect x="83.13" y="751" width="0.95" height="7.8" fill="#000" fill-opacity="0.96"/>
<rect x="83.86" y="751" width="0.95" height="7.8" fill="#000" fill-opacity="0.93"/>
<rect x="84.82" y="751" width="0.95" height="7.8" fill="#000" fill-opacity="0.96"/>
<rect x="85.83" y="751" width="0.95" height="7.8" fill="#000" fill-opacity="0.95"/>
<rect x="86.95" y="751" width="0.95" height="7.8" fill="#000" fill-opacity="0.87"/>
<rect x="87.7" y="751" width="0.95" height="7.8" fill="#000" fill-opacity="0.96"/>
<rect x="88.85" y="751" width="0.95" height="7.8" fill="#000" fill-opacity="0.96"/>
<rect x="89.79" y="751" width="0.95" height="7.8" fill="#000" fill-opacity="0.96"/>
<rect x="90.88" y="751" width="0.95" height="7.8" fill="#000" fill-opacity="0.96"/>
<rect x="91.72" y="751" width="0.95" height="7.8" fill="#000" fill-opacity="0.92"/>
<rect x="92.27" y="751" width="0.95" height="7.8" fill="#000" fill-opacity="0.91"/>
<rect x="92.89" y="751" width="0.95" height="7.8" fill="#000" fill-opacity="0.99"/>
<rect x="94.03" y="751" width="0.95" height="7.8" fill="#000" fill-opacity="0.91"/>
<rect x="95.01" y="751" width="0.95" height="7.8" fill="#000" fill-opacity="0.98"/>
<rect x="97.71" y="751" width="0.95" height="7.8" fill="#000" fill-opacity="0.84"/>
<rect x="102.45" y="751" width="0.95" height="7.8" fill="#000" fill-opacity="0.91"/>
<rect x="103.36" y="751" width="0.95" height="7.8" fill="#000" fill-opacity="0.93"/>
<rect x="104.49" y="751" width="0.95" height="7.8" fill="#000" fill-opacity="0.88"/>
<rect x="105.42" y="751" width="0.95" height="7.8" fill="#000" fill-opacity="0.97"/>
<rect x="106.08" y="751" width="0.95" height="7.8" fill="#000" fill-opacity="0.92"/>
<rect x="106.86" y="751" width="0.95" height="7.8" fill="#000" fill-opacity="0.89"/>
<rect x="107.65" y="751" width="0.95" height="7.8" fill="#000" fill-opacity="0.95"/>
<rect x="108.33" y="751" width="0.95" height="7.8" fill="#000" fill-opacity="0.96"/>
<rect x="109.29" y="751" width="0.95" height="7.8" fill="#000" fill-opacity="0.94"/>
<rect x="109.89" y="751" width="0.95" height="7.8" fill="#000" fill-opacity="0.95"/>
<rect x="110.86" y="751" width="0.95" height="7.8" fill="#000" fill-opacity="0.88"/>
<rect x="111.98" y="751" width="0.95" height="7.8" fill="#000" fill-opacity="0.89"/>
<rect x="112.92" y="751" width="0.95" height="7.8" fill="#000" fill-opacity="0.89"/>
<rect x="114.01" y="751" width="0.95" height="7.8" fill="#000" fill-opacity="0.89"/>
<rect x="115.06" y="751" width="0.95" height="7.8" fill="#000" fill-opacity="0.97"/>
<rect x="115.68" y="751" width="0.95" height="7.8" fill="#000" fill-opacity="0.95"/>
<rect x="116.41" y="751" width="0.95" height="7.8" fill="#000" fill-opacity="0.88"/>
<rect x="117.01" y="751" width="0.95" height="7.8" fill="#000" fill-opacity="0.99"/>
<rect x="117.6" y="751" width="0.95" height="7.8" fill="#000" fill-opacity="0.86"/>
<rect x="118.5" y="751" width="0.95" height="7.8" fill="#000" fill-opacity="0.85"/>
<rect x="119.37" y="751" width="0.95" height="7.8" fill="#000" fill-opacity="0.87"/>
<rect x="120.48" y="751" width="0.95" height="7.8" fill="#000" fill-opacity="0.91"/>
<rect x="121.64" y="751" width="0.95" height="7.8" fill="#000" fill-opacity="0.85"/>
<rect x="122.27" y="751" width="0.95" height="7.8" fill="#000" fill-opacity="0.87"/>
<rect x="123.45" y="751" width="0.95" height="7.8" fill="#000" fill-opacity="0.99"/>
<rect x="124.42" y="751" width="0.95" height="7.8" fill="#000" fill-opacity="0.93"/>
<rect x="125.2" y="751" width="0.95" height="7.8" fill="#000" fill-opacity="0.85"/>
<rect x="126.37" y="751" width="0.95" height="7.8" fill="#000" fill-opacity="0.95"/>
<rect x="127.49" y="751" width="0.95" height="7.8" fill="#000" fill-opacity="0.89"/>
<rect x="129.97" y="751" width="0.95" height="7.8" fill="#000" fill-opacity="0.76"/>
<rect x="133.76" y="751" width="0.95" height="7.8" fill="#000" fill-opacity="0.81"/>
<rect x="135.46" y="751" width="0.95" height="7.8" fill="#000" fill-opacity="0.95"/>
<rect x="136.94" y="751" width="0.95" height="7.8" fill="#000" fill-opacity="0.91"/>
<rect x="138.5" y="751" width="0.95" height="7.8" fill="#000" fill-opacity="0.90"/>
<rect x="139.39" y="751" width="0.95" height="7.8" fill="#000" fill-opacity="0.90"/>
<rect x="142.3" y="751" width="0.95" height="7.8" fill="#000" fill-opacity="0.77"/>
<rect x="143.38" y="751" width="0.95" height="7.8" fill="#000" fill-opacity="0.91"/>
<rect x="144.87" y="751" width="0.95" height="7.8" fill="#000" fill-opacity="0.98"/>
<rect x="145.97" y="751" width="0.95" height="7.8" fill="#000" fill-opacity="0.78"/>
<rect x="147.64" y="751" width="0.95" height="7.8" fill="#000" fill-opacity="0.86"/>
<rect x="149.42" y="751" width="0.95" height="7.8" fill="#000" fill-opacity="0.71"/>
<rect x="151.24" y="751" width="0.95" height="7.8" fill="#000" fill-opacity="0.97"/>
<rect x="152.61" y="751" width="0.95" height="7.8" fill="#000" fill-opacity="0.92"/>
<rect x="153.54" y="751" width="0.95" height="7.8" fill="#000" fill-opacity="0.87"/>
<rect x="154.63" y="751" width="0.95" height="7.8" fill="#000" fill-opacity="0.86"/>
<polyline points="42.7,754.9 43.02,744.38 43.46,735.17 44.78,727.28 46.49,720.71 47.59,718.7 48.7,716.76 49.81,715.12 50.91,712.82 51.94,711.47 52.97,709.84 54.01,708.88 54.97,707.83 55.93,707.15 56.9,706.77 57.86,706.25 58.74,705.3 59.63,705.38 60.51,705.18 61.4,704.48 62.28,703.69 63.16,703.62 64.12,702.88 65.08,703.48 66.04,702.24 67,702.3 67.96,702.3 68.91,702.26 69.86,702.22 70.81,700.84 71.75,701.65 72.7,700.48 73.65,700.46 74.64,700.03 75.62,700.13 76.61,699.94 77.6,700.3 78.58,699.53 79.57,700.19 80.56,699.3 81.54,699.67 82.53,699.92 83.52,699.62 84.5,699.99 85.49,699.99 86.48,700.06 87.46,700.33 88.45,699.77 89.44,700.46 90.42,701.05 91.4,700.46 92.38,700.56 93.35,701.53 94.33,701.11 95.31,702.27 96.29,702.03 97.27,702.3 98.15,702.7 99.04,702.32 99.92,702.76 100.81,703.43 101.69,703.61 102.58,704.35 103.46,704.89 104.34,704.73 105.23,704.93 106.21,705.73 107.19,706.04 108.17,706.1 109.14,706.8 110.12,706.91 111.1,708.28 112.08,708.26 113.06,708.88 113.98,709 114.89,709.65 115.81,711.12 116.72,711.49 117.64,711.57 118.56,713.41 119.47,713.96 120.39,714.13 121.34,715.25 122.3,716.45 123.26,718.38 124.22,719.01 125.18,720.13 126.13,722.02 127.07,722.93 128,722.82 128.93,723.4 129.86,723.34 130.9,724.12 131.95,723.48 132.99,724.62 134.03,724.65 135.04,724.78 136.05,726.17 137.06,726.47 138.07,727.28 139.03,728.34 140,729.64 140.96,729.83 141.92,731.23 142.96,732.5 143.99,735.24 145.02,736.49 146.18,738.97 147.34,741.31 148.49,743.06 149.44,743.41 150.39,744.36 151.34,745.69 152.54,747.42 153.74,748.32 155.12,750.95 156.32,753.58" fill="none" stroke="#7cc242" stroke-width="1.55" stroke-linejoin="round"/>
<rect x="37.3" y="691.3" width="124.6" height="71.6" fill="none" stroke="#222" stroke-width="0.9" />
<line x1="34.3" y1="754.9" x2="37.3" y2="754.9" stroke="#222" stroke-width="1.0" />
<text x="31.5" y="757.6" font-size="8.2" text-anchor="end" >0.0</text>
<line x1="34.3" y1="741.75" x2="37.3" y2="741.75" stroke="#222" stroke-width="1.0" />
<text x="31.5" y="744.45" font-size="8.2" text-anchor="end" >0.5</text>
<line x1="34.3" y1="728.6" x2="37.3" y2="728.6" stroke="#222" stroke-width="1.0" />
<text x="31.5" y="731.3" font-size="8.2" text-anchor="end" >1.0</text>
<line x1="34.3" y1="715.45" x2="37.3" y2="715.45" stroke="#222" stroke-width="1.0" />
<text x="31.5" y="718.15" font-size="8.2" text-anchor="end" >1.5</text>
<line x1="34.3" y1="702.3" x2="37.3" y2="702.3" stroke="#222" stroke-width="1.0" />
<text x="31.5" y="705" font-size="8.2" text-anchor="end" >2.0</text>
<line x1="42.7" y1="762.9" x2="42.7" y2="765.9" stroke="#222" stroke-width="1.0" />
<text x="42.7" y="774.5" font-size="8.2" text-anchor="middle" >0</text>
<line x1="74.28" y1="762.9" x2="74.28" y2="765.9" stroke="#222" stroke-width="1.0" />
<text x="74.28" y="774.5" font-size="8.2" text-anchor="middle" >5000</text>
<line x1="105.86" y1="762.9" x2="105.86" y2="765.9" stroke="#222" stroke-width="1.0" />
<text x="105.86" y="774.5" font-size="8.2" text-anchor="middle" >10000</text>
<line x1="137.44" y1="762.9" x2="137.44" y2="765.9" stroke="#222" stroke-width="1.0" />
<text x="137.44" y="774.5" font-size="8.2" text-anchor="middle" >15000</text>
<text x="99.6" y="785.5" font-size="8.2" text-anchor="middle" >Gene Rank</text>
<text transform="translate(16.3,727.1) rotate(-90)" font-size="8.2" text-anchor="middle" >Enrichment Score</text>
<text x="118.8" y="700" font-size="6.8" text-anchor="start" >NES = 1.999</text>
<text x="118.8" y="710.1" font-size="6.8" text-anchor="start" >FDR = 0.0</text>
<text x="279" y="686" font-size="8.2" text-anchor="middle" >Apoptosis</text>
<line x1="216.7" y1="754.9" x2="341.3" y2="754.9" stroke="#8a8a8a" stroke-width="0.7" />
<rect x="221.7" y="751" width="0.95" height="7.8" fill="#000" fill-opacity="0.85"/>
<rect x="222.95" y="751" width="0.95" height="7.8" fill="#000" fill-opacity="0.92"/>
<rect x="223.61" y="751" width="0.95" height="7.8" fill="#000" fill-opacity="0.97"/>
<rect x="224.39" y="751" width="0.95" height="7.8" fill="#000" fill-opacity="0.89"/>
<rect x="225.15" y="751" width="0.95" height="7.8" fill="#000" fill-opacity="0.96"/>
<rect x="226.04" y="751" width="0.95" height="7.8" fill="#000" fill-opacity="0.96"/>
<rect x="226.69" y="751" width="0.95" height="7.8" fill="#000" fill-opacity="0.89"/>
<rect x="227.68" y="751" width="0.95" height="7.8" fill="#000" fill-opacity="0.90"/>
<rect x="228.37" y="751" width="0.95" height="7.8" fill="#000" fill-opacity="0.88"/>
<rect x="229.21" y="751" width="0.95" height="7.8" fill="#000" fill-opacity="0.88"/>
<rect x="230.15" y="751" width="0.95" height="7.8" fill="#000" fill-opacity="0.97"/>
<rect x="231.34" y="751" width="0.95" height="7.8" fill="#000" fill-opacity="0.96"/>
<rect x="231.91" y="751" width="0.95" height="7.8" fill="#000" fill-opacity="0.91"/>
<rect x="232.95" y="751" width="0.95" height="7.8" fill="#000" fill-opacity="0.99"/>
<rect x="233.98" y="751" width="0.95" height="7.8" fill="#000" fill-opacity="0.96"/>
<rect x="234.77" y="751" width="0.95" height="7.8" fill="#000" fill-opacity="0.89"/>
<rect x="235.99" y="751" width="0.95" height="7.8" fill="#000" fill-opacity="0.89"/>
<rect x="236.71" y="751" width="0.95" height="7.8" fill="#000" fill-opacity="0.92"/>
<rect x="237.39" y="751" width="0.95" height="7.8" fill="#000" fill-opacity="0.89"/>
<rect x="237.97" y="751" width="0.95" height="7.8" fill="#000" fill-opacity="0.96"/>
<rect x="239.12" y="751" width="0.95" height="7.8" fill="#000" fill-opacity="0.95"/>
<rect x="240.28" y="751" width="0.95" height="7.8" fill="#000" fill-opacity="0.89"/>
<rect x="241.1" y="751" width="0.95" height="7.8" fill="#000" fill-opacity="0.90"/>
<rect x="242.34" y="751" width="0.95" height="7.8" fill="#000" fill-opacity="0.96"/>
<rect x="243.19" y="751" width="0.95" height="7.8" fill="#000" fill-opacity="0.97"/>
<rect x="244.08" y="751" width="0.95" height="7.8" fill="#000" fill-opacity="0.97"/>
<rect x="245.19" y="751" width="0.95" height="7.8" fill="#000" fill-opacity="0.87"/>
<rect x="246.08" y="751" width="0.95" height="7.8" fill="#000" fill-opacity="0.88"/>
<rect x="247.12" y="751" width="0.95" height="7.8" fill="#000" fill-opacity="0.97"/>
<rect x="248.01" y="751" width="0.95" height="7.8" fill="#000" fill-opacity="0.87"/>
<rect x="248.56" y="751" width="0.95" height="7.8" fill="#000" fill-opacity="0.96"/>
<rect x="249.82" y="751" width="0.95" height="7.8" fill="#000" fill-opacity="0.96"/>
<rect x="250.61" y="751" width="0.95" height="7.8" fill="#000" fill-opacity="0.95"/>
<rect x="251.56" y="751" width="0.95" height="7.8" fill="#000" fill-opacity="0.93"/>
<rect x="252.47" y="751" width="0.95" height="7.8" fill="#000" fill-opacity="0.98"/>
<rect x="253.4" y="751" width="0.95" height="7.8" fill="#000" fill-opacity="0.85"/>
<rect x="254.64" y="751" width="0.95" height="7.8" fill="#000" fill-opacity="0.99"/>
<rect x="255.69" y="751" width="0.95" height="7.8" fill="#000" fill-opacity="0.85"/>
<rect x="256.35" y="751" width="0.95" height="7.8" fill="#000" fill-opacity="0.99"/>
<rect x="257.45" y="751" width="0.95" height="7.8" fill="#000" fill-opacity="0.87"/>
<rect x="258.64" y="751" width="0.95" height="7.8" fill="#000" fill-opacity="0.92"/>
<rect x="259.44" y="751" width="0.95" height="7.8" fill="#000" fill-opacity="0.96"/>
<rect x="260.16" y="751" width="0.95" height="7.8" fill="#000" fill-opacity="0.97"/>
<rect x="261.16" y="751" width="0.95" height="7.8" fill="#000" fill-opacity="0.91"/>
<rect x="261.83" y="751" width="0.95" height="7.8" fill="#000" fill-opacity="0.86"/>
<rect x="263.02" y="751" width="0.95" height="7.8" fill="#000" fill-opacity="0.93"/>
<rect x="263.97" y="751" width="0.95" height="7.8" fill="#000" fill-opacity="0.96"/>
<rect x="265.02" y="751" width="0.95" height="7.8" fill="#000" fill-opacity="0.89"/>
<rect x="266" y="751" width="0.95" height="7.8" fill="#000" fill-opacity="0.95"/>
<rect x="266.86" y="751" width="0.95" height="7.8" fill="#000" fill-opacity="0.87"/>
<rect x="267.74" y="751" width="0.95" height="7.8" fill="#000" fill-opacity="0.87"/>
<rect x="268.33" y="751" width="0.95" height="7.8" fill="#000" fill-opacity="0.96"/>
<rect x="268.91" y="751" width="0.95" height="7.8" fill="#000" fill-opacity="0.93"/>
<rect x="270.15" y="751" width="0.95" height="7.8" fill="#000" fill-opacity="0.94"/>
<rect x="270.79" y="751" width="0.95" height="7.8" fill="#000" fill-opacity="0.97"/>
<rect x="271.43" y="751" width="0.95" height="7.8" fill="#000" fill-opacity="0.92"/>
<rect x="272.14" y="751" width="0.95" height="7.8" fill="#000" fill-opacity="0.98"/>
<rect x="272.98" y="751" width="0.95" height="7.8" fill="#000" fill-opacity="0.99"/>
<rect x="274.01" y="751" width="0.95" height="7.8" fill="#000" fill-opacity="0.95"/>
<rect x="274.82" y="751" width="0.95" height="7.8" fill="#000" fill-opacity="0.87"/>
<rect x="279.95" y="751" width="0.95" height="7.8" fill="#000" fill-opacity="0.78"/>
<rect x="281.31" y="751" width="0.95" height="7.8" fill="#000" fill-opacity="0.77"/>
<rect x="283.18" y="751" width="0.95" height="7.8" fill="#000" fill-opacity="0.89"/>
<rect x="284.9" y="751" width="0.95" height="7.8" fill="#000" fill-opacity="0.92"/>
<rect x="287.54" y="751" width="0.95" height="7.8" fill="#000" fill-opacity="0.99"/>
<rect x="288.69" y="751" width="0.95" height="7.8" fill="#000" fill-opacity="0.99"/>
<rect x="289.52" y="751" width="0.95" height="7.8" fill="#000" fill-opacity="0.99"/>
<rect x="290.67" y="751" width="0.95" height="7.8" fill="#000" fill-opacity="0.94"/>
<rect x="291.21" y="751" width="0.95" height="7.8" fill="#000" fill-opacity="0.91"/>
<rect x="291.88" y="751" width="0.95" height="7.8" fill="#000" fill-opacity="0.88"/>
<rect x="292.56" y="751" width="0.95" height="7.8" fill="#000" fill-opacity="0.98"/>
<rect x="293.6" y="751" width="0.95" height="7.8" fill="#000" fill-opacity="1.00"/>
<rect x="294.27" y="751" width="0.95" height="7.8" fill="#000" fill-opacity="0.97"/>
<rect x="295.45" y="751" width="0.95" height="7.8" fill="#000" fill-opacity="0.94"/>
<rect x="296.57" y="751" width="0.95" height="7.8" fill="#000" fill-opacity="0.95"/>
<rect x="297.78" y="751" width="0.95" height="7.8" fill="#000" fill-opacity="0.99"/>
<rect x="300.83" y="751" width="0.95" height="7.8" fill="#000" fill-opacity="0.88"/>
<rect x="302.68" y="751" width="0.95" height="7.8" fill="#000" fill-opacity="0.71"/>
<rect x="303.85" y="751" width="0.95" height="7.8" fill="#000" fill-opacity="0.71"/>
<rect x="305.39" y="751" width="0.95" height="7.8" fill="#000" fill-opacity="0.71"/>
<rect x="306.8" y="751" width="0.95" height="7.8" fill="#000" fill-opacity="0.79"/>
<rect x="310.31" y="751" width="0.95" height="7.8" fill="#000" fill-opacity="0.86"/>
<rect x="311.55" y="751" width="0.95" height="7.8" fill="#000" fill-opacity="0.97"/>
<rect x="312.1" y="751" width="0.95" height="7.8" fill="#000" fill-opacity="0.87"/>
<rect x="313.32" y="751" width="0.95" height="7.8" fill="#000" fill-opacity="0.99"/>
<rect x="314.13" y="751" width="0.95" height="7.8" fill="#000" fill-opacity="0.92"/>
<rect x="315.33" y="751" width="0.95" height="7.8" fill="#000" fill-opacity="0.95"/>
<rect x="316.48" y="751" width="0.95" height="7.8" fill="#000" fill-opacity="1.00"/>
<rect x="317.38" y="751" width="0.95" height="7.8" fill="#000" fill-opacity="0.93"/>
<rect x="317.94" y="751" width="0.95" height="7.8" fill="#000" fill-opacity="1.00"/>
<rect x="319.17" y="751" width="0.95" height="7.8" fill="#000" fill-opacity="0.86"/>
<rect x="320.04" y="751" width="0.95" height="7.8" fill="#000" fill-opacity="0.94"/>
<rect x="323.6" y="751" width="0.95" height="7.8" fill="#000" fill-opacity="0.86"/>
<rect x="324.45" y="751" width="0.95" height="7.8" fill="#000" fill-opacity="0.93"/>
<rect x="325.4" y="751" width="0.95" height="7.8" fill="#000" fill-opacity="1.00"/>
<rect x="326.27" y="751" width="0.95" height="7.8" fill="#000" fill-opacity="0.94"/>
<rect x="326.96" y="751" width="0.95" height="7.8" fill="#000" fill-opacity="0.99"/>
<rect x="327.76" y="751" width="0.95" height="7.8" fill="#000" fill-opacity="0.94"/>
<rect x="328.93" y="751" width="0.95" height="7.8" fill="#000" fill-opacity="0.93"/>
<rect x="329.91" y="751" width="0.95" height="7.8" fill="#000" fill-opacity="0.87"/>
<rect x="331.13" y="751" width="0.95" height="7.8" fill="#000" fill-opacity="0.96"/>
<rect x="331.97" y="751" width="0.95" height="7.8" fill="#000" fill-opacity="0.91"/>
<rect x="333.12" y="751" width="0.95" height="7.8" fill="#000" fill-opacity="0.89"/>
<rect x="333.8" y="751" width="0.95" height="7.8" fill="#000" fill-opacity="0.99"/>
<polyline points="222.1,729.87 222.73,724.07 223.68,719.36 224.75,715.61 225.83,711.38 226.81,710.39 227.78,708.47 228.76,706.85 229.74,706.3 230.77,705.75 231.81,705.2 232.84,704.12 233.74,703.18 234.64,703.76 235.54,702.48 236.44,702.31 237.43,702.13 238.43,701.95 239.42,701.42 240.42,700.86 241.41,700.89 242.41,700.16 243.4,699.64 244.4,699.77 245.28,699.82 246.16,700.14 247.05,700.07 247.93,699.79 248.82,700.2 249.7,699.5 250.59,700.21 251.47,699.81 252.35,699.77 253.26,699.82 254.18,700.13 255.09,700.53 256,699.89 256.91,700.53 257.82,700.27 258.73,700.86 259.72,701.45 260.7,700.84 261.68,700.93 262.67,701.97 263.65,701.64 264.63,701.72 265.62,702.31 266.54,702.06 267.46,702.76 268.38,703.09 269.29,703.1 270.21,703.8 271.13,704.53 272.05,704.67 272.97,705.12 273.89,704.85 274.85,705.67 275.8,705.41 276.76,705.54 277.71,706.46 278.67,707.21 279.62,707.43 280.58,707.77 281.53,707.75 282.44,707.83 283.34,709.07 284.25,709.12 285.15,708.92 286.06,709.6 286.97,710.21 287.87,711.14 288.78,710.71 289.68,711.38 290.64,712.28 291.61,711.91 292.57,712.9 293.53,713.38 294.5,713.63 295.46,714.81 296.42,714.82 297.39,715.37 298.36,716.23 299.34,717.1 300.31,717.59 301.28,717.34 302.26,717.92 303.23,719.26 304.21,719.72 305.13,720.83 306.05,720.89 306.97,722.23 307.89,722.41 308.81,723.9 309.73,724.67 310.65,724.8 311.58,725.92 312.5,726.68 313.43,726.46 314.36,726.94 315.28,728.51 316.21,728.79 317.22,729.71 318.23,729.97 319.24,731 320.25,731.5 321.26,732.41 322.15,732.74 323.03,734.67 323.91,734.66 324.8,735.73 325.68,736.76 326.58,737.74 327.48,738.59 328.38,739.29 329.28,740.39 330.19,742.5 331.09,743.8 332,745.83 333.26,748.7 334.52,750.91 335.79,754.9" fill="none" stroke="#7cc242" stroke-width="1.55" stroke-linejoin="round"/>
<rect x="216.7" y="691.3" width="124.6" height="71.6" fill="none" stroke="#222" stroke-width="0.9" />
<line x1="213.7" y1="754.9" x2="216.7" y2="754.9" stroke="#222" stroke-width="1.0" />
<text x="210.9" y="757.6" font-size="8.2" text-anchor="end" >0.0</text>
<line x1="213.7" y1="736.76" x2="216.7" y2="736.76" stroke="#222" stroke-width="1.0" />
<text x="210.9" y="739.47" font-size="8.2" text-anchor="end" >0.5</text>
<line x1="213.7" y1="718.63" x2="216.7" y2="718.63" stroke="#222" stroke-width="1.0" />
<text x="210.9" y="721.33" font-size="8.2" text-anchor="end" >1.0</text>
<line x1="213.7" y1="700.5" x2="216.7" y2="700.5" stroke="#222" stroke-width="1.0" />
<text x="210.9" y="703.2" font-size="8.2" text-anchor="end" >1.5</text>
<line x1="222.1" y1="762.9" x2="222.1" y2="765.9" stroke="#222" stroke-width="1.0" />
<text x="222.1" y="774.5" font-size="8.2" text-anchor="middle" >0</text>
<line x1="253.68" y1="762.9" x2="253.68" y2="765.9" stroke="#222" stroke-width="1.0" />
<text x="253.68" y="774.5" font-size="8.2" text-anchor="middle" >5000</text>
<line x1="285.26" y1="762.9" x2="285.26" y2="765.9" stroke="#222" stroke-width="1.0" />
<text x="285.26" y="774.5" font-size="8.2" text-anchor="middle" >10000</text>
<line x1="316.84" y1="762.9" x2="316.84" y2="765.9" stroke="#222" stroke-width="1.0" />
<text x="316.84" y="774.5" font-size="8.2" text-anchor="middle" >15000</text>
<text x="279" y="785.5" font-size="8.2" text-anchor="middle" >Gene Rank</text>
<text transform="translate(195.6,727.1) rotate(-90)" font-size="8.2" text-anchor="middle" >Enrichment Score</text>
<text x="298" y="700" font-size="6.8" text-anchor="start" >NES = 2.493</text>
<text x="298" y="710.1" font-size="6.8" text-anchor="start" >FDR = 0.0</text>
<polygon points="405.7,397.71 423.5,404.25 441.3,403.38 459.1,406.43 476.9,407.3 494.7,402.51 512.5,405.56 512.5,409.05 494.7,406.43 476.9,410.79 459.1,410.36 441.3,406.43 423.5,407.74 405.7,410.79" fill="#a7c3e3" fill-opacity="0.62"/>
<polygon points="405.7,374.6 423.5,371.55 441.3,367.63 459.1,351.5 476.9,346.7 494.7,322.28 512.5,305.72 512.5,309.64 494.7,326.21 476.9,351.5 459.1,363.7 441.3,384.63 423.5,380.71 405.7,383.32" fill="#e3a3a9" fill-opacity="0.62"/>
<polyline points="405.7,404.25 423.5,406 441.3,404.69 459.1,408.18 476.9,409.05 494.7,404.25 512.5,407.3" fill="none" stroke="#2d6db5" stroke-width="1.1" />
<polyline points="405.7,378.53 423.5,378.09 441.3,373.3 459.1,360.22 476.9,349.32 494.7,324.03 512.5,307.46" fill="none" stroke="#b3202d" stroke-width="1.1" />
<circle cx="405.7" cy="404.25" r="2.75" fill="#2d6db5" stroke="#fff" stroke-width="0.5"/>
<rect x="403" y="375.83" width="5.4" height="5.4" fill="#b3202d" stroke="#fff" stroke-width="0.5"/>
<circle cx="423.5" cy="406" r="2.75" fill="#2d6db5" stroke="#fff" stroke-width="0.5"/>
<rect x="420.8" y="375.39" width="5.4" height="5.4" fill="#b3202d" stroke="#fff" stroke-width="0.5"/>
<circle cx="441.3" cy="404.69" r="2.75" fill="#2d6db5" stroke="#fff" stroke-width="0.5"/>
<rect x="438.6" y="370.6" width="5.4" height="5.4" fill="#b3202d" stroke="#fff" stroke-width="0.5"/>
<circle cx="459.1" cy="408.18" r="2.75" fill="#2d6db5" stroke="#fff" stroke-width="0.5"/>
<rect x="456.4" y="357.52" width="5.4" height="5.4" fill="#b3202d" stroke="#fff" stroke-width="0.5"/>
<circle cx="476.9" cy="409.05" r="2.75" fill="#2d6db5" stroke="#fff" stroke-width="0.5"/>
<rect x="474.2" y="346.62" width="5.4" height="5.4" fill="#b3202d" stroke="#fff" stroke-width="0.5"/>
<circle cx="494.7" cy="404.25" r="2.75" fill="#2d6db5" stroke="#fff" stroke-width="0.5"/>
<rect x="492" y="321.33" width="5.4" height="5.4" fill="#b3202d" stroke="#fff" stroke-width="0.5"/>
<circle cx="512.5" cy="407.3" r="2.75" fill="#2d6db5" stroke="#fff" stroke-width="0.5"/>
<rect x="509.8" y="304.76" width="5.4" height="5.4" fill="#b3202d" stroke="#fff" stroke-width="0.5"/>
<rect x="400.4" y="300.2" width="116.6" height="116.4" fill="none" stroke="#222" stroke-width="0.9" />
<line x1="397.4" y1="412.1" x2="400.4" y2="412.1" stroke="#222" stroke-width="1.0" />
<text x="394.6" y="414.8" font-size="8.2" text-anchor="end" >2.0</text>
<line x1="397.4" y1="390.3" x2="400.4" y2="390.3" stroke="#222" stroke-width="1.0" />
<text x="394.6" y="393" font-size="8.2" text-anchor="end" >2.5</text>
<line x1="397.4" y1="368.5" x2="400.4" y2="368.5" stroke="#222" stroke-width="1.0" />
<text x="394.6" y="371.2" font-size="8.2" text-anchor="end" >3.0</text>
<line x1="397.4" y1="346.7" x2="400.4" y2="346.7" stroke="#222" stroke-width="1.0" />
<text x="394.6" y="349.4" font-size="8.2" text-anchor="end" >3.5</text>
<line x1="397.4" y1="324.9" x2="400.4" y2="324.9" stroke="#222" stroke-width="1.0" />
<text x="394.6" y="327.6" font-size="8.2" text-anchor="end" >4.0</text>
<line x1="397.4" y1="303.1" x2="400.4" y2="303.1" stroke="#222" stroke-width="1.0" />
<text x="394.6" y="305.8" font-size="8.2" text-anchor="end" >4.5</text>
<line x1="405.7" y1="297.2" x2="405.7" y2="300.2" stroke="#222" stroke-width="1.0" />
<text x="405.7" y="293.8" font-size="8.2" text-anchor="middle" >0</text>
<line x1="423.5" y1="297.2" x2="423.5" y2="300.2" stroke="#222" stroke-width="1.0" />
<text x="423.5" y="293.8" font-size="8.2" text-anchor="middle" >3</text>
<line x1="441.3" y1="297.2" x2="441.3" y2="300.2" stroke="#222" stroke-width="1.0" />
<text x="441.3" y="293.8" font-size="8.2" text-anchor="middle" >12</text>
<line x1="459.1" y1="297.2" x2="459.1" y2="300.2" stroke="#222" stroke-width="1.0" />
<text x="459.1" y="293.8" font-size="8.2" text-anchor="middle" >8</text>
<line x1="476.9" y1="297.2" x2="476.9" y2="300.2" stroke="#222" stroke-width="1.0" />
<text x="476.9" y="293.8" font-size="8.2" text-anchor="middle" >6</text>
<line x1="494.7" y1="297.2" x2="494.7" y2="300.2" stroke="#222" stroke-width="1.0" />
<text x="494.7" y="293.8" font-size="8.2" text-anchor="middle" >2</text>
<line x1="512.5" y1="297.2" x2="512.5" y2="300.2" stroke="#222" stroke-width="1.0" />
<text x="512.5" y="293.8" font-size="8.2" text-anchor="middle" >10</text>
<line x1="405.7" y1="416.6" x2="405.7" y2="419.6" stroke="#222" stroke-width="1.0" />
<text x="405.7" y="428" font-size="8.2" text-anchor="middle" >0</text>
<line x1="423.5" y1="416.6" x2="423.5" y2="419.6" stroke="#222" stroke-width="1.0" />
<text x="423.5" y="428" font-size="8.2" text-anchor="middle" >3</text>
<line x1="441.3" y1="416.6" x2="441.3" y2="419.6" stroke="#222" stroke-width="1.0" />
<text x="441.3" y="428" font-size="8.2" text-anchor="middle" >12</text>
<line x1="459.1" y1="416.6" x2="459.1" y2="419.6" stroke="#222" stroke-width="1.0" />
<text x="459.1" y="428" font-size="8.2" text-anchor="middle" >5</text>
<line x1="476.9" y1="416.6" x2="476.9" y2="419.6" stroke="#222" stroke-width="1.0" />
<text x="476.9" y="428" font-size="8.2" text-anchor="middle" >14</text>
<line x1="494.7" y1="416.6" x2="494.7" y2="419.6" stroke="#222" stroke-width="1.0" />
<text x="494.7" y="428" font-size="8.2" text-anchor="middle" >11</text>
<line x1="512.5" y1="416.6" x2="512.5" y2="419.6" stroke="#222" stroke-width="1.0" />
<text x="512.5" y="428" font-size="8.2" text-anchor="middle" >1</text>
<text x="458.7" y="283.3" font-size="8.2" text-anchor="middle" >Niches (TD liver)</text>
<text x="458.7" y="438.1" font-size="8.2" text-anchor="middle" >Niches (Normal liver)</text>
<text transform="translate(377.6,358.4) rotate(-90)" font-size="8.2" text-anchor="middle">Average expression (<tspan font-style="italic">Gpx3</tspan>)</text>
<line x1="405.7" y1="310.5" x2="425.4" y2="310.5" stroke="#2d6db5" stroke-width="1.1" />
<circle cx="415.55" cy="310.5" r="2.75" fill="#2d6db5" stroke="#fff" stroke-width="0.5"/>
<text x="429.8" y="313.4" font-size="8.2" text-anchor="start" >Normal liver</text>
<line x1="405.7" y1="322.3" x2="425.4" y2="322.3" stroke="#b3202d" stroke-width="1.1" />
<rect x="412.85" y="319.6" width="5.4" height="5.4" fill="#b3202d" stroke="#fff" stroke-width="0.5"/>
<text x="431.3" y="325.2" font-size="8.2" text-anchor="start" >TD liver</text>
<polygon points="572.9,351.64 590.7,349.49 608.5,348.2 626.3,337.02 644.1,333.15 661.9,313.37 679.7,305.2 679.7,308.64 661.9,317.67 644.1,337.02 626.3,341.32 608.5,352.5 590.7,354.65 572.9,356.37" fill="#a7c3e3" fill-opacity="0.62"/>
<polygon points="572.9,402.81 590.7,392.92 608.5,398.51 626.3,399.8 644.1,403.24 661.9,401.52 679.7,391.2 679.7,402.38 661.9,411.41 644.1,409.26 626.3,407.11 608.5,402.81 590.7,402.81 572.9,407.11" fill="#e3a3a9" fill-opacity="0.62"/>
<polyline points="572.9,353.79 590.7,351.64 608.5,350.35 626.3,339.17 644.1,335.3 661.9,315.52 679.7,306.92" fill="none" stroke="#2d6db5" stroke-width="1.1" />
<polyline points="572.9,404.96 590.7,398.08 608.5,400.66 626.3,402.81 644.1,406.25 661.9,406.25 679.7,396.36" fill="none" stroke="#b3202d" stroke-width="1.1" />
<circle cx="572.9" cy="353.79" r="2.75" fill="#2d6db5" stroke="#fff" stroke-width="0.5"/>
<rect x="570.2" y="402.26" width="5.4" height="5.4" fill="#b3202d" stroke="#fff" stroke-width="0.5"/>
<circle cx="590.7" cy="351.64" r="2.75" fill="#2d6db5" stroke="#fff" stroke-width="0.5"/>
<rect x="588" y="395.38" width="5.4" height="5.4" fill="#b3202d" stroke="#fff" stroke-width="0.5"/>
<circle cx="608.5" cy="350.35" r="2.75" fill="#2d6db5" stroke="#fff" stroke-width="0.5"/>
<rect x="605.8" y="397.96" width="5.4" height="5.4" fill="#b3202d" stroke="#fff" stroke-width="0.5"/>
<circle cx="626.3" cy="339.17" r="2.75" fill="#2d6db5" stroke="#fff" stroke-width="0.5"/>
<rect x="623.6" y="400.11" width="5.4" height="5.4" fill="#b3202d" stroke="#fff" stroke-width="0.5"/>
<circle cx="644.1" cy="335.3" r="2.75" fill="#2d6db5" stroke="#fff" stroke-width="0.5"/>
<rect x="641.4" y="403.55" width="5.4" height="5.4" fill="#b3202d" stroke="#fff" stroke-width="0.5"/>
<circle cx="661.9" cy="315.52" r="2.75" fill="#2d6db5" stroke="#fff" stroke-width="0.5"/>
<rect x="659.2" y="403.55" width="5.4" height="5.4" fill="#b3202d" stroke="#fff" stroke-width="0.5"/>
<circle cx="679.7" cy="306.92" r="2.75" fill="#2d6db5" stroke="#fff" stroke-width="0.5"/>
<rect x="677" y="393.66" width="5.4" height="5.4" fill="#b3202d" stroke="#fff" stroke-width="0.5"/>
<rect x="567.6" y="300.2" width="116.6" height="116.4" fill="none" stroke="#222" stroke-width="0.9" />
<line x1="564.6" y1="404.1" x2="567.6" y2="404.1" stroke="#222" stroke-width="1.0" />
<text x="561.8" y="406.8" font-size="8.2" text-anchor="end" >2.5</text>
<line x1="564.6" y1="382.6" x2="567.6" y2="382.6" stroke="#222" stroke-width="1.0" />
<text x="561.8" y="385.3" font-size="8.2" text-anchor="end" >3.0</text>
<line x1="564.6" y1="361.1" x2="567.6" y2="361.1" stroke="#222" stroke-width="1.0" />
<text x="561.8" y="363.8" font-size="8.2" text-anchor="end" >3.5</text>
<line x1="564.6" y1="339.6" x2="567.6" y2="339.6" stroke="#222" stroke-width="1.0" />
<text x="561.8" y="342.3" font-size="8.2" text-anchor="end" >4.0</text>
<line x1="564.6" y1="318.1" x2="567.6" y2="318.1" stroke="#222" stroke-width="1.0" />
<text x="561.8" y="320.8" font-size="8.2" text-anchor="end" >4.5</text>
<line x1="572.9" y1="297.2" x2="572.9" y2="300.2" stroke="#222" stroke-width="1.0" />
<text x="572.9" y="293.8" font-size="8.2" text-anchor="middle" >0</text>
<line x1="590.7" y1="297.2" x2="590.7" y2="300.2" stroke="#222" stroke-width="1.0" />
<text x="590.7" y="293.8" font-size="8.2" text-anchor="middle" >3</text>
<line x1="608.5" y1="297.2" x2="608.5" y2="300.2" stroke="#222" stroke-width="1.0" />
<text x="608.5" y="293.8" font-size="8.2" text-anchor="middle" >12</text>
<line x1="626.3" y1="297.2" x2="626.3" y2="300.2" stroke="#222" stroke-width="1.0" />
<text x="626.3" y="293.8" font-size="8.2" text-anchor="middle" >8</text>
<line x1="644.1" y1="297.2" x2="644.1" y2="300.2" stroke="#222" stroke-width="1.0" />
<text x="644.1" y="293.8" font-size="8.2" text-anchor="middle" >6</text>
<line x1="661.9" y1="297.2" x2="661.9" y2="300.2" stroke="#222" stroke-width="1.0" />
<text x="661.9" y="293.8" font-size="8.2" text-anchor="middle" >2</text>
<line x1="679.7" y1="297.2" x2="679.7" y2="300.2" stroke="#222" stroke-width="1.0" />
<text x="679.7" y="293.8" font-size="8.2" text-anchor="middle" >10</text>
<line x1="572.9" y1="416.6" x2="572.9" y2="419.6" stroke="#222" stroke-width="1.0" />
<text x="572.9" y="428" font-size="8.2" text-anchor="middle" >0</text>
<line x1="590.7" y1="416.6" x2="590.7" y2="419.6" stroke="#222" stroke-width="1.0" />
<text x="590.7" y="428" font-size="8.2" text-anchor="middle" >3</text>
<line x1="608.5" y1="416.6" x2="608.5" y2="419.6" stroke="#222" stroke-width="1.0" />
<text x="608.5" y="428" font-size="8.2" text-anchor="middle" >12</text>
<line x1="626.3" y1="416.6" x2="626.3" y2="419.6" stroke="#222" stroke-width="1.0" />
<text x="626.3" y="428" font-size="8.2" text-anchor="middle" >5</text>
<line x1="644.1" y1="416.6" x2="644.1" y2="419.6" stroke="#222" stroke-width="1.0" />
<text x="644.1" y="428" font-size="8.2" text-anchor="middle" >14</text>
<line x1="661.9" y1="416.6" x2="661.9" y2="419.6" stroke="#222" stroke-width="1.0" />
<text x="661.9" y="428" font-size="8.2" text-anchor="middle" >11</text>
<line x1="679.7" y1="416.6" x2="679.7" y2="419.6" stroke="#222" stroke-width="1.0" />
<text x="679.7" y="428" font-size="8.2" text-anchor="middle" >1</text>
<text x="625.9" y="283.3" font-size="8.2" text-anchor="middle" >Niches (TD liver)</text>
<text x="625.9" y="438.1" font-size="8.2" text-anchor="middle" >Niches (Normal liver)</text>
<text transform="translate(543.9,358.4) rotate(-90)" font-size="8.2" text-anchor="middle">Average expression (<tspan font-style="italic">Mup20</tspan>)</text>
<line x1="572.9" y1="310.5" x2="592.6" y2="310.5" stroke="#2d6db5" stroke-width="1.1" />
<circle cx="582.75" cy="310.5" r="2.75" fill="#2d6db5" stroke="#fff" stroke-width="0.5"/>
<text x="597" y="313.4" font-size="8.2" text-anchor="start" >Normal liver</text>
<line x1="572.9" y1="322.3" x2="592.6" y2="322.3" stroke="#b3202d" stroke-width="1.1" />
<rect x="580.05" y="319.6" width="5.4" height="5.4" fill="#b3202d" stroke="#fff" stroke-width="0.5"/>
<text x="598.5" y="325.2" font-size="8.2" text-anchor="start" >TD liver</text>
<polygon points="405.7,572.59 423.5,576.36 441.3,577.61 459.1,576.36 476.9,574.47 494.7,575.1 512.5,574.1 512.5,577.23 494.7,579.12 476.9,580.12 459.1,581.38 441.3,583.88 423.5,582.63 405.7,576.98" fill="#a7c3e3" fill-opacity="0.62"/>
<polygon points="405.7,530.55 423.5,501.06 441.3,498.54 459.1,487.25 476.9,487.25 494.7,478.84 512.5,487.25 512.5,495.41 494.7,495.16 476.9,497.29 459.1,510.47 441.3,504.82 423.5,527.41 405.7,544.98" fill="#e3a3a9" fill-opacity="0.62"/>
<polyline points="405.7,575.1 423.5,580.12 441.3,580.75 459.1,579.24 476.9,577.61 494.7,577.23 512.5,575.73" fill="none" stroke="#2d6db5" stroke-width="1.1" />
<polyline points="405.7,536.45 423.5,512.35 441.3,501.06 459.1,498.54 476.9,492.27 494.7,486 512.5,491.01" fill="none" stroke="#b3202d" stroke-width="1.1" />
<circle cx="405.7" cy="575.1" r="2.75" fill="#2d6db5" stroke="#fff" stroke-width="0.5"/>
<rect x="403" y="533.75" width="5.4" height="5.4" fill="#b3202d" stroke="#fff" stroke-width="0.5"/>
<circle cx="423.5" cy="580.12" r="2.75" fill="#2d6db5" stroke="#fff" stroke-width="0.5"/>
<rect x="420.8" y="509.65" width="5.4" height="5.4" fill="#b3202d" stroke="#fff" stroke-width="0.5"/>
<circle cx="441.3" cy="580.75" r="2.75" fill="#2d6db5" stroke="#fff" stroke-width="0.5"/>
<rect x="438.6" y="498.36" width="5.4" height="5.4" fill="#b3202d" stroke="#fff" stroke-width="0.5"/>
<circle cx="459.1" cy="579.24" r="2.75" fill="#2d6db5" stroke="#fff" stroke-width="0.5"/>
<rect x="456.4" y="495.84" width="5.4" height="5.4" fill="#b3202d" stroke="#fff" stroke-width="0.5"/>
<circle cx="476.9" cy="577.61" r="2.75" fill="#2d6db5" stroke="#fff" stroke-width="0.5"/>
<rect x="474.2" y="489.57" width="5.4" height="5.4" fill="#b3202d" stroke="#fff" stroke-width="0.5"/>
<circle cx="494.7" cy="577.23" r="2.75" fill="#2d6db5" stroke="#fff" stroke-width="0.5"/>
<rect x="492" y="483.3" width="5.4" height="5.4" fill="#b3202d" stroke="#fff" stroke-width="0.5"/>
<circle cx="512.5" cy="575.73" r="2.75" fill="#2d6db5" stroke="#fff" stroke-width="0.5"/>
<rect x="509.8" y="488.31" width="5.4" height="5.4" fill="#b3202d" stroke="#fff" stroke-width="0.5"/>
<rect x="400.4" y="473.6" width="116.6" height="116.7" fill="none" stroke="#222" stroke-width="0.9" />
<line x1="397.4" y1="575.1" x2="400.4" y2="575.1" stroke="#222" stroke-width="1.0" />
<text x="394.6" y="577.8" font-size="8.2" text-anchor="end" >0.2</text>
<line x1="397.4" y1="550" x2="400.4" y2="550" stroke="#222" stroke-width="1.0" />
<text x="394.6" y="552.7" font-size="8.2" text-anchor="end" >0.4</text>
<line x1="397.4" y1="524.9" x2="400.4" y2="524.9" stroke="#222" stroke-width="1.0" />
<text x="394.6" y="527.6" font-size="8.2" text-anchor="end" >0.6</text>
<line x1="397.4" y1="499.8" x2="400.4" y2="499.8" stroke="#222" stroke-width="1.0" />
<text x="394.6" y="502.5" font-size="8.2" text-anchor="end" >0.8</text>
<line x1="397.4" y1="474.7" x2="400.4" y2="474.7" stroke="#222" stroke-width="1.0" />
<text x="394.6" y="477.4" font-size="8.2" text-anchor="end" >1.0</text>
<line x1="405.7" y1="470.6" x2="405.7" y2="473.6" stroke="#222" stroke-width="1.0" />
<text x="405.7" y="467.2" font-size="8.2" text-anchor="middle" >0</text>
<line x1="423.5" y1="470.6" x2="423.5" y2="473.6" stroke="#222" stroke-width="1.0" />
<text x="423.5" y="467.2" font-size="8.2" text-anchor="middle" >3</text>
<line x1="441.3" y1="470.6" x2="441.3" y2="473.6" stroke="#222" stroke-width="1.0" />
<text x="441.3" y="467.2" font-size="8.2" text-anchor="middle" >12</text>
<line x1="459.1" y1="470.6" x2="459.1" y2="473.6" stroke="#222" stroke-width="1.0" />
<text x="459.1" y="467.2" font-size="8.2" text-anchor="middle" >8</text>
<line x1="476.9" y1="470.6" x2="476.9" y2="473.6" stroke="#222" stroke-width="1.0" />
<text x="476.9" y="467.2" font-size="8.2" text-anchor="middle" >6</text>
<line x1="494.7" y1="470.6" x2="494.7" y2="473.6" stroke="#222" stroke-width="1.0" />
<text x="494.7" y="467.2" font-size="8.2" text-anchor="middle" >2</text>
<line x1="512.5" y1="470.6" x2="512.5" y2="473.6" stroke="#222" stroke-width="1.0" />
<text x="512.5" y="467.2" font-size="8.2" text-anchor="middle" >10</text>
<line x1="405.7" y1="590.3" x2="405.7" y2="593.3" stroke="#222" stroke-width="1.0" />
<text x="405.7" y="601.7" font-size="8.2" text-anchor="middle" >0</text>
<line x1="423.5" y1="590.3" x2="423.5" y2="593.3" stroke="#222" stroke-width="1.0" />
<text x="423.5" y="601.7" font-size="8.2" text-anchor="middle" >3</text>
<line x1="441.3" y1="590.3" x2="441.3" y2="593.3" stroke="#222" stroke-width="1.0" />
<text x="441.3" y="601.7" font-size="8.2" text-anchor="middle" >12</text>
<line x1="459.1" y1="590.3" x2="459.1" y2="593.3" stroke="#222" stroke-width="1.0" />
<text x="459.1" y="601.7" font-size="8.2" text-anchor="middle" >5</text>
<line x1="476.9" y1="590.3" x2="476.9" y2="593.3" stroke="#222" stroke-width="1.0" />
<text x="476.9" y="601.7" font-size="8.2" text-anchor="middle" >14</text>
<line x1="494.7" y1="590.3" x2="494.7" y2="593.3" stroke="#222" stroke-width="1.0" />
<text x="494.7" y="601.7" font-size="8.2" text-anchor="middle" >11</text>
<line x1="512.5" y1="590.3" x2="512.5" y2="593.3" stroke="#222" stroke-width="1.0" />
<text x="512.5" y="601.7" font-size="8.2" text-anchor="middle" >1</text>
<text x="458.7" y="456.7" font-size="8.2" text-anchor="middle" >Niches (TD liver)</text>
<text x="458.7" y="611.8" font-size="8.2" text-anchor="middle" >Niches (Normal liver)</text>
<text transform="translate(377.6,531.95) rotate(-90)" font-size="8.2" text-anchor="middle">Average expression (<tspan font-style="italic">Cyp17a1</tspan>)</text>
<line x1="405.7" y1="483.9" x2="425.4" y2="483.9" stroke="#2d6db5" stroke-width="1.1" />
<circle cx="415.55" cy="483.9" r="2.75" fill="#2d6db5" stroke="#fff" stroke-width="0.5"/>
<text x="429.8" y="486.8" font-size="8.2" text-anchor="start" >Normal liver</text>
<line x1="405.7" y1="495.7" x2="425.4" y2="495.7" stroke="#b3202d" stroke-width="1.1" />
<rect x="412.85" y="493" width="5.4" height="5.4" fill="#b3202d" stroke="#fff" stroke-width="0.5"/>
<text x="431.3" y="498.6" font-size="8.2" text-anchor="start" >TD liver</text>
<polygon points="572.9,492.91 590.7,492.91 608.5,488.15 626.3,483.4 644.1,484.98 661.9,478.64 679.7,480.23 679.7,496.08 661.9,504 644.1,510.34 626.3,494.5 608.5,519.86 590.7,526.83 572.9,516.68" fill="#a7c3e3" fill-opacity="0.62"/>
<polygon points="572.9,527.78 590.7,554.73 608.5,549.97 626.3,575.33 644.1,565.82 661.9,570.58 679.7,573.75 679.7,584.84 661.9,583.25 644.1,583.25 626.3,581.67 608.5,561.06 590.7,565.82 572.9,553.14" fill="#e3a3a9" fill-opacity="0.62"/>
<polyline points="572.9,504 590.7,508.13 608.5,505.59 626.3,489.11 644.1,498.3 661.9,491.96 679.7,488.15" fill="none" stroke="#2d6db5" stroke-width="1.1" />
<polyline points="572.9,541.41 590.7,560.43 608.5,556.94 626.3,578.18 644.1,573.75 661.9,578.18 679.7,578.5" fill="none" stroke="#b3202d" stroke-width="1.1" />
<circle cx="572.9" cy="504" r="2.75" fill="#2d6db5" stroke="#fff" stroke-width="0.5"/>
<rect x="570.2" y="538.71" width="5.4" height="5.4" fill="#b3202d" stroke="#fff" stroke-width="0.5"/>
<circle cx="590.7" cy="508.13" r="2.75" fill="#2d6db5" stroke="#fff" stroke-width="0.5"/>
<rect x="588" y="557.73" width="5.4" height="5.4" fill="#b3202d" stroke="#fff" stroke-width="0.5"/>
<circle cx="608.5" cy="505.59" r="2.75" fill="#2d6db5" stroke="#fff" stroke-width="0.5"/>
<rect x="605.8" y="554.24" width="5.4" height="5.4" fill="#b3202d" stroke="#fff" stroke-width="0.5"/>
<circle cx="626.3" cy="489.11" r="2.75" fill="#2d6db5" stroke="#fff" stroke-width="0.5"/>
<rect x="623.6" y="575.48" width="5.4" height="5.4" fill="#b3202d" stroke="#fff" stroke-width="0.5"/>
<circle cx="644.1" cy="498.3" r="2.75" fill="#2d6db5" stroke="#fff" stroke-width="0.5"/>
<rect x="641.4" y="571.04" width="5.4" height="5.4" fill="#b3202d" stroke="#fff" stroke-width="0.5"/>
<circle cx="661.9" cy="491.96" r="2.75" fill="#2d6db5" stroke="#fff" stroke-width="0.5"/>
<rect x="659.2" y="575.48" width="5.4" height="5.4" fill="#b3202d" stroke="#fff" stroke-width="0.5"/>
<circle cx="679.7" cy="488.15" r="2.75" fill="#2d6db5" stroke="#fff" stroke-width="0.5"/>
<rect x="677" y="575.8" width="5.4" height="5.4" fill="#b3202d" stroke="#fff" stroke-width="0.5"/>
<rect x="567.6" y="473.6" width="116.6" height="116.7" fill="none" stroke="#222" stroke-width="0.9" />
<line x1="564.6" y1="578.5" x2="567.6" y2="578.5" stroke="#222" stroke-width="1.0" />
<text x="561.8" y="581.2" font-size="8.2" text-anchor="end" >0.1</text>
<line x1="564.6" y1="546.8" x2="567.6" y2="546.8" stroke="#222" stroke-width="1.0" />
<text x="561.8" y="549.5" font-size="8.2" text-anchor="end" >0.2</text>
<line x1="564.6" y1="515.1" x2="567.6" y2="515.1" stroke="#222" stroke-width="1.0" />
<text x="561.8" y="517.8" font-size="8.2" text-anchor="end" >0.3</text>
<line x1="564.6" y1="483.4" x2="567.6" y2="483.4" stroke="#222" stroke-width="1.0" />
<text x="561.8" y="486.1" font-size="8.2" text-anchor="end" >0.4</text>
<line x1="572.9" y1="470.6" x2="572.9" y2="473.6" stroke="#222" stroke-width="1.0" />
<text x="572.9" y="467.2" font-size="8.2" text-anchor="middle" >0</text>
<line x1="590.7" y1="470.6" x2="590.7" y2="473.6" stroke="#222" stroke-width="1.0" />
<text x="590.7" y="467.2" font-size="8.2" text-anchor="middle" >3</text>
<line x1="608.5" y1="470.6" x2="608.5" y2="473.6" stroke="#222" stroke-width="1.0" />
<text x="608.5" y="467.2" font-size="8.2" text-anchor="middle" >12</text>
<line x1="626.3" y1="470.6" x2="626.3" y2="473.6" stroke="#222" stroke-width="1.0" />
<text x="626.3" y="467.2" font-size="8.2" text-anchor="middle" >8</text>
<line x1="644.1" y1="470.6" x2="644.1" y2="473.6" stroke="#222" stroke-width="1.0" />
<text x="644.1" y="467.2" font-size="8.2" text-anchor="middle" >6</text>
<line x1="661.9" y1="470.6" x2="661.9" y2="473.6" stroke="#222" stroke-width="1.0" />
<text x="661.9" y="467.2" font-size="8.2" text-anchor="middle" >2</text>
<line x1="679.7" y1="470.6" x2="679.7" y2="473.6" stroke="#222" stroke-width="1.0" />
<text x="679.7" y="467.2" font-size="8.2" text-anchor="middle" >10</text>
<line x1="572.9" y1="590.3" x2="572.9" y2="593.3" stroke="#222" stroke-width="1.0" />
<text x="572.9" y="601.7" font-size="8.2" text-anchor="middle" >0</text>
<line x1="590.7" y1="590.3" x2="590.7" y2="593.3" stroke="#222" stroke-width="1.0" />
<text x="590.7" y="601.7" font-size="8.2" text-anchor="middle" >3</text>
<line x1="608.5" y1="590.3" x2="608.5" y2="593.3" stroke="#222" stroke-width="1.0" />
<text x="608.5" y="601.7" font-size="8.2" text-anchor="middle" >12</text>
<line x1="626.3" y1="590.3" x2="626.3" y2="593.3" stroke="#222" stroke-width="1.0" />
<text x="626.3" y="601.7" font-size="8.2" text-anchor="middle" >5</text>
<line x1="644.1" y1="590.3" x2="644.1" y2="593.3" stroke="#222" stroke-width="1.0" />
<text x="644.1" y="601.7" font-size="8.2" text-anchor="middle" >14</text>
<line x1="661.9" y1="590.3" x2="661.9" y2="593.3" stroke="#222" stroke-width="1.0" />
<text x="661.9" y="601.7" font-size="8.2" text-anchor="middle" >11</text>
<line x1="679.7" y1="590.3" x2="679.7" y2="593.3" stroke="#222" stroke-width="1.0" />
<text x="679.7" y="601.7" font-size="8.2" text-anchor="middle" >1</text>
<text x="625.9" y="456.7" font-size="8.2" text-anchor="middle" >Niches (TD liver)</text>
<text x="625.9" y="611.8" font-size="8.2" text-anchor="middle" >Niches (Normal liver)</text>
<text transform="translate(543.9,531.95) rotate(-90)" font-size="8.2" text-anchor="middle">Average expression (<tspan font-style="italic">Ces1f</tspan>)</text>
<line x1="572.9" y1="483.9" x2="592.6" y2="483.9" stroke="#2d6db5" stroke-width="1.1" />
<circle cx="582.75" cy="483.9" r="2.75" fill="#2d6db5" stroke="#fff" stroke-width="0.5"/>
<text x="597" y="486.8" font-size="8.2" text-anchor="start" >Normal liver</text>
<line x1="572.9" y1="495.7" x2="592.6" y2="495.7" stroke="#b3202d" stroke-width="1.1" />
<rect x="580.05" y="493" width="5.4" height="5.4" fill="#b3202d" stroke="#fff" stroke-width="0.5"/>
<text x="598.5" y="498.6" font-size="8.2" text-anchor="start" >TD liver</text>
<polygon points="405.7,740.2 423.5,747.73 441.3,747.04 459.1,744.31 476.9,745.68 494.7,740.89 512.5,737.47 512.5,745.68 494.7,751.15 476.9,753.2 459.1,751.15 441.3,755.25 423.5,756.62 405.7,755.25" fill="#a7c3e3" fill-opacity="0.62"/>
<polygon points="405.7,716.95 423.5,691.64 441.3,695.06 459.1,682.75 476.9,681.38 494.7,662.23 512.5,651.97 512.5,666.33 494.7,669.75 476.9,691.64 459.1,705.32 441.3,719 423.5,715.58 405.7,729.26" fill="#e3a3a9" fill-opacity="0.62"/>
<polyline points="405.7,747.73 423.5,752.52 441.3,751.15 459.1,747.73 476.9,749.78 494.7,745.68 512.5,741.57" fill="none" stroke="#2d6db5" stroke-width="1.1" />
<polyline points="405.7,723.79 423.5,703.95 441.3,708.74 459.1,696.43 476.9,686.85 494.7,666.33 512.5,660.18" fill="none" stroke="#b3202d" stroke-width="1.1" />
<circle cx="405.7" cy="747.73" r="2.75" fill="#2d6db5" stroke="#fff" stroke-width="0.5"/>
<rect x="403" y="721.09" width="5.4" height="5.4" fill="#b3202d" stroke="#fff" stroke-width="0.5"/>
<circle cx="423.5" cy="752.52" r="2.75" fill="#2d6db5" stroke="#fff" stroke-width="0.5"/>
<rect x="420.8" y="701.25" width="5.4" height="5.4" fill="#b3202d" stroke="#fff" stroke-width="0.5"/>
<circle cx="441.3" cy="751.15" r="2.75" fill="#2d6db5" stroke="#fff" stroke-width="0.5"/>
<rect x="438.6" y="706.04" width="5.4" height="5.4" fill="#b3202d" stroke="#fff" stroke-width="0.5"/>
<circle cx="459.1" cy="747.73" r="2.75" fill="#2d6db5" stroke="#fff" stroke-width="0.5"/>
<rect x="456.4" y="693.73" width="5.4" height="5.4" fill="#b3202d" stroke="#fff" stroke-width="0.5"/>
<circle cx="476.9" cy="749.78" r="2.75" fill="#2d6db5" stroke="#fff" stroke-width="0.5"/>
<rect x="474.2" y="684.15" width="5.4" height="5.4" fill="#b3202d" stroke="#fff" stroke-width="0.5"/>
<circle cx="494.7" cy="745.68" r="2.75" fill="#2d6db5" stroke="#fff" stroke-width="0.5"/>
<rect x="492" y="663.63" width="5.4" height="5.4" fill="#b3202d" stroke="#fff" stroke-width="0.5"/>
<circle cx="512.5" cy="741.57" r="2.75" fill="#2d6db5" stroke="#fff" stroke-width="0.5"/>
<rect x="509.8" y="657.48" width="5.4" height="5.4" fill="#b3202d" stroke="#fff" stroke-width="0.5"/>
<rect x="400.4" y="646.2" width="116.6" height="116.9" fill="none" stroke="#222" stroke-width="0.9" />
<line x1="397.4" y1="736.1" x2="400.4" y2="736.1" stroke="#222" stroke-width="1.0" />
<text x="394.6" y="738.8" font-size="8.2" text-anchor="end" >1.5</text>
<line x1="397.4" y1="701.9" x2="400.4" y2="701.9" stroke="#222" stroke-width="1.0" />
<text x="394.6" y="704.6" font-size="8.2" text-anchor="end" >2.0</text>
<line x1="397.4" y1="667.7" x2="400.4" y2="667.7" stroke="#222" stroke-width="1.0" />
<text x="394.6" y="670.4" font-size="8.2" text-anchor="end" >2.5</text>
<line x1="405.7" y1="643.2" x2="405.7" y2="646.2" stroke="#222" stroke-width="1.0" />
<text x="405.7" y="639.8" font-size="8.2" text-anchor="middle" >0</text>
<line x1="423.5" y1="643.2" x2="423.5" y2="646.2" stroke="#222" stroke-width="1.0" />
<text x="423.5" y="639.8" font-size="8.2" text-anchor="middle" >3</text>
<line x1="441.3" y1="643.2" x2="441.3" y2="646.2" stroke="#222" stroke-width="1.0" />
<text x="441.3" y="639.8" font-size="8.2" text-anchor="middle" >12</text>
<line x1="459.1" y1="643.2" x2="459.1" y2="646.2" stroke="#222" stroke-width="1.0" />
<text x="459.1" y="639.8" font-size="8.2" text-anchor="middle" >8</text>
<line x1="476.9" y1="643.2" x2="476.9" y2="646.2" stroke="#222" stroke-width="1.0" />
<text x="476.9" y="639.8" font-size="8.2" text-anchor="middle" >6</text>
<line x1="494.7" y1="643.2" x2="494.7" y2="646.2" stroke="#222" stroke-width="1.0" />
<text x="494.7" y="639.8" font-size="8.2" text-anchor="middle" >2</text>
<line x1="512.5" y1="643.2" x2="512.5" y2="646.2" stroke="#222" stroke-width="1.0" />
<text x="512.5" y="639.8" font-size="8.2" text-anchor="middle" >10</text>
<line x1="405.7" y1="763.1" x2="405.7" y2="766.1" stroke="#222" stroke-width="1.0" />
<text x="405.7" y="774.5" font-size="8.2" text-anchor="middle" >0</text>
<line x1="423.5" y1="763.1" x2="423.5" y2="766.1" stroke="#222" stroke-width="1.0" />
<text x="423.5" y="774.5" font-size="8.2" text-anchor="middle" >3</text>
<line x1="441.3" y1="763.1" x2="441.3" y2="766.1" stroke="#222" stroke-width="1.0" />
<text x="441.3" y="774.5" font-size="8.2" text-anchor="middle" >12</text>
<line x1="459.1" y1="763.1" x2="459.1" y2="766.1" stroke="#222" stroke-width="1.0" />
<text x="459.1" y="774.5" font-size="8.2" text-anchor="middle" >5</text>
<line x1="476.9" y1="763.1" x2="476.9" y2="766.1" stroke="#222" stroke-width="1.0" />
<text x="476.9" y="774.5" font-size="8.2" text-anchor="middle" >14</text>
<line x1="494.7" y1="763.1" x2="494.7" y2="766.1" stroke="#222" stroke-width="1.0" />
<text x="494.7" y="774.5" font-size="8.2" text-anchor="middle" >11</text>
<line x1="512.5" y1="763.1" x2="512.5" y2="766.1" stroke="#222" stroke-width="1.0" />
<text x="512.5" y="774.5" font-size="8.2" text-anchor="middle" >1</text>
<text x="458.7" y="629.3" font-size="8.2" text-anchor="middle" >Niches (TD liver)</text>
<text x="458.7" y="784.6" font-size="8.2" text-anchor="middle" >Niches (Normal liver)</text>
<text transform="translate(377.6,704.65) rotate(-90)" font-size="8.2" text-anchor="middle">Average expression (<tspan font-style="italic">Ctsl</tspan>)</text>
<line x1="405.7" y1="656.5" x2="425.4" y2="656.5" stroke="#2d6db5" stroke-width="1.1" />
<circle cx="415.55" cy="656.5" r="2.75" fill="#2d6db5" stroke="#fff" stroke-width="0.5"/>
<text x="429.8" y="659.4" font-size="8.2" text-anchor="start" >Normal liver</text>
<line x1="405.7" y1="668.3" x2="425.4" y2="668.3" stroke="#b3202d" stroke-width="1.1" />
<rect x="412.85" y="665.6" width="5.4" height="5.4" fill="#b3202d" stroke="#fff" stroke-width="0.5"/>
<text x="431.3" y="671.2" font-size="8.2" text-anchor="start" >TD liver</text>
<polygon points="572.9,693.1 590.7,685.7 608.5,682.93 626.3,668.12 644.1,667.2 661.9,651.48 679.7,655.18 679.7,671.83 661.9,662.58 644.1,685.7 626.3,694.95 608.5,706.98 590.7,709.75 572.9,712.52" fill="#a7c3e3" fill-opacity="0.62"/>
<polygon points="572.9,750.45 590.7,747.68 608.5,750.45 626.3,738.42 644.1,749.52 661.9,750.45 679.7,750.45 679.7,753.23 661.9,753.23 644.1,753.23 626.3,755.08 608.5,755.08 590.7,751.38 572.9,754.15" fill="#e3a3a9" fill-opacity="0.62"/>
<polyline points="572.9,703.27 590.7,698.1 608.5,697.17 626.3,682 644.1,677.38 661.9,657.95 679.7,664.06" fill="none" stroke="#2d6db5" stroke-width="1.1" />
<polyline points="572.9,752.3 590.7,749.52 608.5,753.23 626.3,749.52 644.1,751.38 661.9,751.75 679.7,751.75" fill="none" stroke="#b3202d" stroke-width="1.1" />
<circle cx="572.9" cy="703.27" r="2.75" fill="#2d6db5" stroke="#fff" stroke-width="0.5"/>
<rect x="570.2" y="749.6" width="5.4" height="5.4" fill="#b3202d" stroke="#fff" stroke-width="0.5"/>
<circle cx="590.7" cy="698.1" r="2.75" fill="#2d6db5" stroke="#fff" stroke-width="0.5"/>
<rect x="588" y="746.82" width="5.4" height="5.4" fill="#b3202d" stroke="#fff" stroke-width="0.5"/>
<circle cx="608.5" cy="697.17" r="2.75" fill="#2d6db5" stroke="#fff" stroke-width="0.5"/>
<rect x="605.8" y="750.52" width="5.4" height="5.4" fill="#b3202d" stroke="#fff" stroke-width="0.5"/>
<circle cx="626.3" cy="682" r="2.75" fill="#2d6db5" stroke="#fff" stroke-width="0.5"/>
<rect x="623.6" y="746.82" width="5.4" height="5.4" fill="#b3202d" stroke="#fff" stroke-width="0.5"/>
<circle cx="644.1" cy="677.38" r="2.75" fill="#2d6db5" stroke="#fff" stroke-width="0.5"/>
<rect x="641.4" y="748.67" width="5.4" height="5.4" fill="#b3202d" stroke="#fff" stroke-width="0.5"/>
<circle cx="661.9" cy="657.95" r="2.75" fill="#2d6db5" stroke="#fff" stroke-width="0.5"/>
<rect x="659.2" y="749.04" width="5.4" height="5.4" fill="#b3202d" stroke="#fff" stroke-width="0.5"/>
<circle cx="679.7" cy="664.06" r="2.75" fill="#2d6db5" stroke="#fff" stroke-width="0.5"/>
<rect x="677" y="749.04" width="5.4" height="5.4" fill="#b3202d" stroke="#fff" stroke-width="0.5"/>
<rect x="567.6" y="646.2" width="116.6" height="116.9" fill="none" stroke="#222" stroke-width="0.9" />
<line x1="564.6" y1="748.6" x2="567.6" y2="748.6" stroke="#222" stroke-width="1.0" />
<text x="561.8" y="751.3" font-size="8.2" text-anchor="end" >0.1</text>
<line x1="564.6" y1="730.1" x2="567.6" y2="730.1" stroke="#222" stroke-width="1.0" />
<text x="561.8" y="732.8" font-size="8.2" text-anchor="end" >0.2</text>
<line x1="564.6" y1="711.6" x2="567.6" y2="711.6" stroke="#222" stroke-width="1.0" />
<text x="561.8" y="714.3" font-size="8.2" text-anchor="end" >0.3</text>
<line x1="564.6" y1="693.1" x2="567.6" y2="693.1" stroke="#222" stroke-width="1.0" />
<text x="561.8" y="695.8" font-size="8.2" text-anchor="end" >0.4</text>
<line x1="564.6" y1="674.6" x2="567.6" y2="674.6" stroke="#222" stroke-width="1.0" />
<text x="561.8" y="677.3" font-size="8.2" text-anchor="end" >0.5</text>
<line x1="564.6" y1="656.1" x2="567.6" y2="656.1" stroke="#222" stroke-width="1.0" />
<text x="561.8" y="658.8" font-size="8.2" text-anchor="end" >0.6</text>
<line x1="572.9" y1="643.2" x2="572.9" y2="646.2" stroke="#222" stroke-width="1.0" />
<text x="572.9" y="639.8" font-size="8.2" text-anchor="middle" >0</text>
<line x1="590.7" y1="643.2" x2="590.7" y2="646.2" stroke="#222" stroke-width="1.0" />
<text x="590.7" y="639.8" font-size="8.2" text-anchor="middle" >3</text>
<line x1="608.5" y1="643.2" x2="608.5" y2="646.2" stroke="#222" stroke-width="1.0" />
<text x="608.5" y="639.8" font-size="8.2" text-anchor="middle" >12</text>
<line x1="626.3" y1="643.2" x2="626.3" y2="646.2" stroke="#222" stroke-width="1.0" />
<text x="626.3" y="639.8" font-size="8.2" text-anchor="middle" >8</text>
<line x1="644.1" y1="643.2" x2="644.1" y2="646.2" stroke="#222" stroke-width="1.0" />
<text x="644.1" y="639.8" font-size="8.2" text-anchor="middle" >6</text>
<line x1="661.9" y1="643.2" x2="661.9" y2="646.2" stroke="#222" stroke-width="1.0" />
<text x="661.9" y="639.8" font-size="8.2" text-anchor="middle" >2</text>
<line x1="679.7" y1="643.2" x2="679.7" y2="646.2" stroke="#222" stroke-width="1.0" />
<text x="679.7" y="639.8" font-size="8.2" text-anchor="middle" >10</text>
<line x1="572.9" y1="763.1" x2="572.9" y2="766.1" stroke="#222" stroke-width="1.0" />
<text x="572.9" y="774.5" font-size="8.2" text-anchor="middle" >0</text>
<line x1="590.7" y1="763.1" x2="590.7" y2="766.1" stroke="#222" stroke-width="1.0" />
<text x="590.7" y="774.5" font-size="8.2" text-anchor="middle" >3</text>
<line x1="608.5" y1="763.1" x2="608.5" y2="766.1" stroke="#222" stroke-width="1.0" />
<text x="608.5" y="774.5" font-size="8.2" text-anchor="middle" >12</text>
<line x1="626.3" y1="763.1" x2="626.3" y2="766.1" stroke="#222" stroke-width="1.0" />
<text x="626.3" y="774.5" font-size="8.2" text-anchor="middle" >5</text>
<line x1="644.1" y1="763.1" x2="644.1" y2="766.1" stroke="#222" stroke-width="1.0" />
<text x="644.1" y="774.5" font-size="8.2" text-anchor="middle" >14</text>
<line x1="661.9" y1="763.1" x2="661.9" y2="766.1" stroke="#222" stroke-width="1.0" />
<text x="661.9" y="774.5" font-size="8.2" text-anchor="middle" >11</text>
<line x1="679.7" y1="763.1" x2="679.7" y2="766.1" stroke="#222" stroke-width="1.0" />
<text x="679.7" y="774.5" font-size="8.2" text-anchor="middle" >1</text>
<text x="625.9" y="629.3" font-size="8.2" text-anchor="middle" >Niches (TD liver)</text>
<text x="625.9" y="784.6" font-size="8.2" text-anchor="middle" >Niches (Normal liver)</text>
<text transform="translate(543.9,704.65) rotate(-90)" font-size="8.2" text-anchor="middle">Average expression (<tspan font-style="italic">Traf5</tspan>)</text>
<line x1="572.9" y1="656.5" x2="592.6" y2="656.5" stroke="#2d6db5" stroke-width="1.1" />
<circle cx="582.75" cy="656.5" r="2.75" fill="#2d6db5" stroke="#fff" stroke-width="0.5"/>
<text x="597" y="659.4" font-size="8.2" text-anchor="start" >Normal liver</text>
<line x1="572.9" y1="668.3" x2="592.6" y2="668.3" stroke="#b3202d" stroke-width="1.1" />
<rect x="580.05" y="665.6" width="5.4" height="5.4" fill="#b3202d" stroke="#fff" stroke-width="0.5"/>
<text x="598.5" y="671.2" font-size="8.2" text-anchor="start" >TD liver</text>
</svg></body></html>
